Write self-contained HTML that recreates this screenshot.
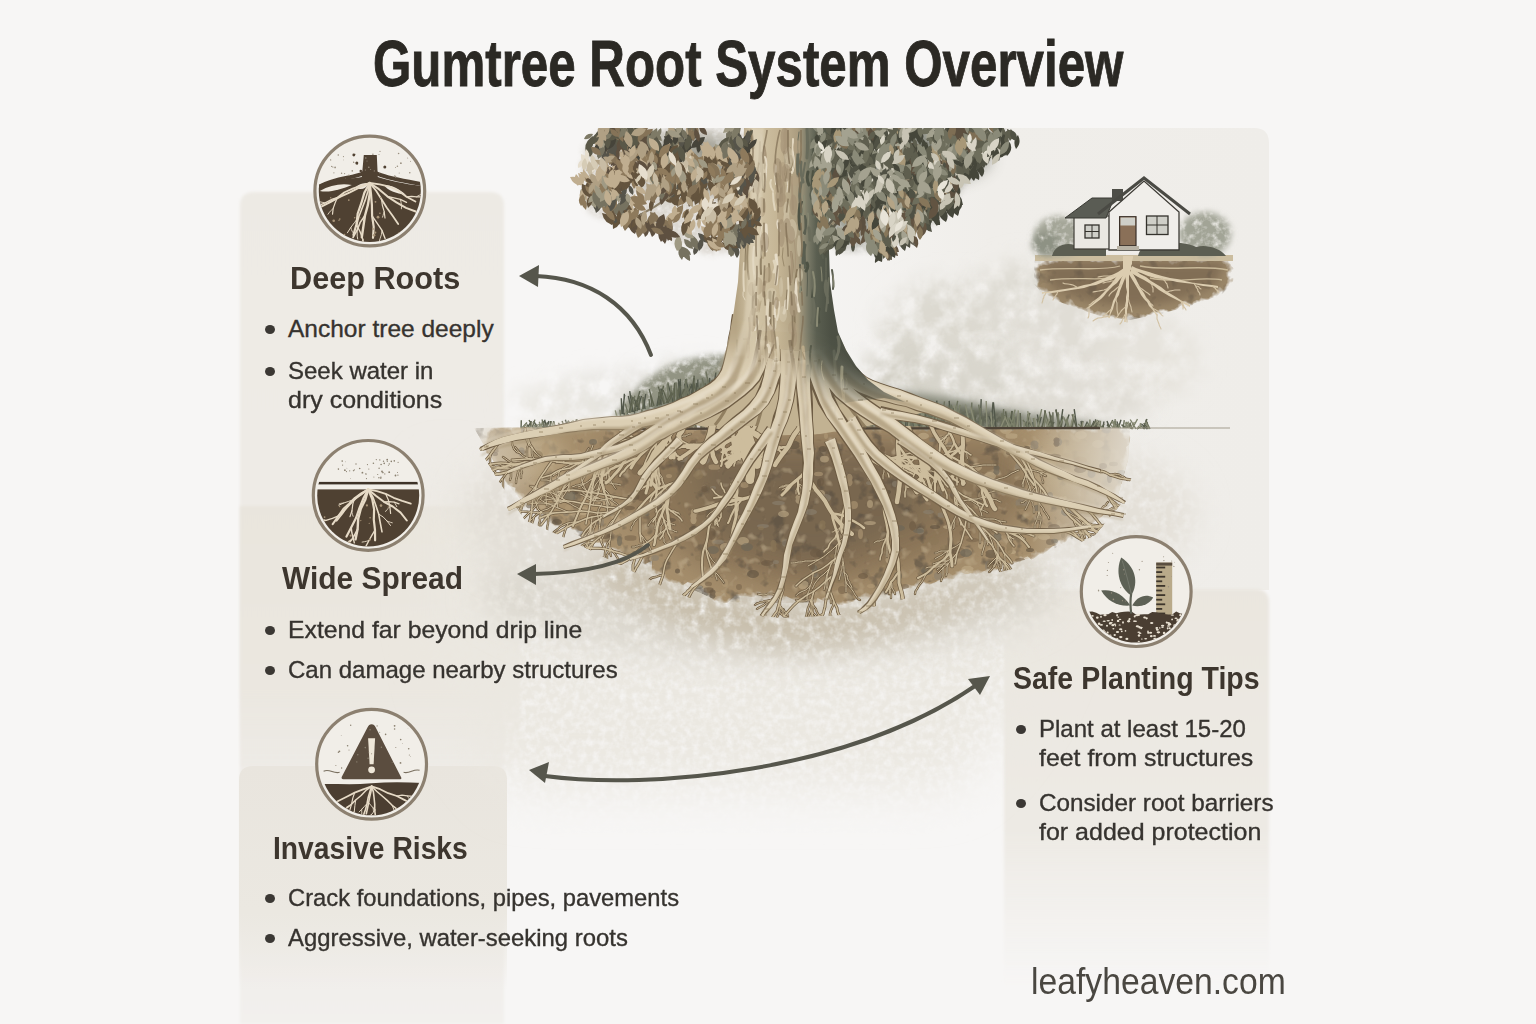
<!DOCTYPE html>
<html><head><meta charset="utf-8"><style>html,body{margin:0;padding:0;}
body{width:1536px;height:1024px;overflow:hidden;background:#f7f6f5;position:relative;font-family:"Liberation Sans",sans-serif;}
.abs{position:absolute;white-space:nowrap;}
.title{font-weight:bold;color:#2b2924;line-height:1;transform-origin:0 0;-webkit-text-stroke:0.9px #2b2924;}
.h{font-weight:bold;color:#3d362e;line-height:1;transform-origin:0 0;}
.b{color:#36332f;line-height:1;transform-origin:0 0;-webkit-text-stroke:0.35px #36332f;}
.dot{position:absolute;width:10px;height:9px;border-radius:50%;background:#3b3834;}
.panel{position:absolute;}</style></head>
<body>
<svg class="abs" style="left:0;top:0" width="1536" height="1024" viewBox="0 0 1536 1024">
<defs>
<filter id="pblur" x="-5%" y="-5%" width="110%" height="110%"><feGaussianBlur stdDeviation="1.5"/></filter>
<linearGradient id="colg" x1="0" y1="0" x2="0" y2="1">
<stop offset="0" stop-color="#edeae4"/><stop offset="0.85" stop-color="#efece8"/><stop offset="1" stop-color="#f2f0ed"/></linearGradient>
<linearGradient id="band2" x1="0" y1="0" x2="0" y2="1">
<stop offset="0" stop-color="#e9e5dd"/><stop offset="0.7" stop-color="#ebe7e0"/><stop offset="1" stop-color="#ebe7e0" stop-opacity="0.2"/></linearGradient>
<linearGradient id="band3" x1="0" y1="0" x2="0" y2="1">
<stop offset="0" stop-color="#e9e5de"/><stop offset="0.65" stop-color="#ebe8e1"/><stop offset="1" stop-color="#ebe8e1" stop-opacity="0"/></linearGradient>
<linearGradient id="rp" x1="0" y1="0" x2="0" y2="1">
<stop offset="0" stop-color="#eae6df"/><stop offset="0.6" stop-color="#edeae4"/><stop offset="1" stop-color="#efece8" stop-opacity="0"/></linearGradient>
</defs>
<path d="M240,206 Q240,192 254,192 L490,192 Q504,192 504,206 L504,1024 L240,1024 Z" fill="url(#colg)" filter="url(#pblur)"/>
<rect x="240" y="506" width="280" height="260" fill="url(#band2)" filter="url(#pblur)"/>
<path d="M239,780 Q239,766 253,766 L493,766 Q507,766 507,780 L507,990 L239,990 Z" fill="url(#band3)"/>
<linearGradient id="urp" x1="0" y1="0" x2="1" y2="0"><stop offset="0" stop-color="#f0eeea" stop-opacity="0"/><stop offset="0.45" stop-color="#f0eeea"/><stop offset="1" stop-color="#efede9"/></linearGradient>
<path d="M760,128 L1254,128 Q1269,128 1269,143 L1269,590 L760,590 Z" fill="url(#urp)"/>
<path d="M1004,603 Q1004,589 1018,589 L1255,589 Q1269,589 1269,603 L1269,990 L1004,990 Z" fill="url(#rp)" filter="url(#pblur)"/>
</svg>
<svg class="abs" style="left:0;top:0" width="1536" height="1024" viewBox="0 0 1536 1024"><defs>
<filter id="blur2" x="-20%" y="-20%" width="140%" height="140%"><feGaussianBlur stdDeviation="2"/></filter>
<filter id="blur3" x="-20%" y="-20%" width="140%" height="140%"><feGaussianBlur stdDeviation="3"/></filter>
<filter id="blur4" x="-20%" y="-20%" width="140%" height="140%"><feGaussianBlur stdDeviation="4"/></filter>
<filter id="blur8" x="-50%" y="-50%" width="200%" height="200%"><feGaussianBlur stdDeviation="8"/></filter>
<filter id="blur12" x="-50%" y="-50%" width="200%" height="200%"><feGaussianBlur stdDeviation="14"/></filter>
<filter id="mottle" x="-50%" y="-50%" width="200%" height="200%">
 <feGaussianBlur in="SourceGraphic" stdDeviation="12" result="b"/>
 <feTurbulence type="fractalNoise" baseFrequency="0.05" numOctaves="4" seed="5" result="n"/>
 <feColorMatrix in="n" type="matrix" values="0 0 0 0 0 0 0 0 0 0 0 0 0 0 0 0 0 0 -2.2 1.7" result="na"/>
 <feComposite in="b" in2="na" operator="in"/>
</filter>
<filter id="mottle2" x="-50%" y="-50%" width="200%" height="200%">
 <feGaussianBlur in="SourceGraphic" stdDeviation="16" result="b"/>
 <feTurbulence type="fractalNoise" baseFrequency="0.12" numOctaves="3" seed="9" result="n"/>
 <feColorMatrix in="n" type="matrix" values="0 0 0 0 0 0 0 0 0 0 0 0 0 0 0 0 0 0 -2.0 1.8" result="na"/>
 <feComposite in="b" in2="na" operator="in"/>
</filter>
<clipPath id="soilclip"><path d="M470,426 1140,426 1135,470 1120,505 1095,535 1040,562 960,582 900,600 840,615 780,618 720,610 670,590 620,565 570,540 525,520 498,480 480,450Z"/></clipPath>
<linearGradient id="tmg" gradientUnits="userSpaceOnUse" x1="0" y1="335" x2="0" y2="405"><stop offset="0" stop-color="#fff"/><stop offset="1" stop-color="#000"/></linearGradient>
<mask id="trunkmask" maskUnits="userSpaceOnUse" x="0" y="0" width="1536" height="1024"><path d="M600,0 L1000,0 L1000,400 L880,398 L850,390 L820,372 L795,360 L770,352 L740,350 L700,352 L600,352 Z" fill="#fff" filter="url(#blur12)"/></mask>
<filter id="soft1" x="-10%" y="-10%" width="120%" height="120%"><feGaussianBlur stdDeviation="1"/></filter>
<filter id="mottle3" x="-50%" y="-50%" width="200%" height="200%">
 <feGaussianBlur in="SourceGraphic" stdDeviation="3" result="b"/>
 <feTurbulence type="fractalNoise" baseFrequency="0.15" numOctaves="3" seed="2" result="n"/>
 <feColorMatrix in="n" type="matrix" values="0 0 0 0 0 0 0 0 0 0 0 0 0 0 0 0 0 0 -2.0 1.9" result="na"/>
 <feComposite in="b" in2="na" operator="in"/>
</filter>
<linearGradient id="trg" gradientUnits="userSpaceOnUse" x1="736" y1="0" x2="880" y2="0">
<stop offset="0" stop-color="#b4a383"/><stop offset="0.12" stop-color="#d2c5a8"/><stop offset="0.3" stop-color="#c4b494"/><stop offset="0.43" stop-color="#ab9d80"/>
<stop offset="0.5" stop-color="#7a7a68"/><stop offset="0.56" stop-color="#5a5e50"/><stop offset="0.66" stop-color="#4c5044"/><stop offset="1" stop-color="#4a4d42"/></linearGradient>
<filter id="ragged" x="-10%" y="-10%" width="120%" height="120%">
 <feGaussianBlur in="SourceAlpha" stdDeviation="9" result="b"/>
 <feTurbulence type="fractalNoise" baseFrequency="0.09" numOctaves="3" seed="4" result="t"/>
 <feColorMatrix in="t" type="matrix" values="0 0 0 0 0 0 0 0 0 0 0 0 0 0 0 0 0 0 1 0" result="ta"/>
 <feComposite in="b" in2="ta" operator="arithmetic" k1="0" k2="6" k3="3" k4="-4.5" result="m"/>
 <feComposite in="SourceGraphic" in2="m" operator="in"/>
</filter>
<filter id="mottle4" x="-20%" y="-20%" width="140%" height="140%">
 <feGaussianBlur in="SourceGraphic" stdDeviation="25" result="b"/>
 <feTurbulence type="fractalNoise" baseFrequency="0.15" numOctaves="3" seed="11" result="n"/>
 <feColorMatrix in="n" type="matrix" values="0 0 0 0 0 0 0 0 0 0 0 0 0 0 0 0 0 0 -1.6 1.6" result="na"/>
 <feComposite in="b" in2="na" operator="in"/>
</filter>
<filter id="patchy" x="0" y="0" width="100%" height="100%">
 <feTurbulence type="fractalNoise" baseFrequency="0.07" numOctaves="3" seed="21" result="t"/>
 <feColorMatrix in="t" type="matrix" values="0 0 0 0 0 0 0 0 0 0 0 0 0 0 0 0 0 0 5 -2.9" result="ta"/>
 <feComposite in="SourceGraphic" in2="ta" operator="in"/>
</filter>
<filter id="patchy2" x="0" y="0" width="100%" height="100%">
 <feTurbulence type="fractalNoise" baseFrequency="0.09" numOctaves="2" seed="33" result="t"/>
 <feColorMatrix in="t" type="matrix" values="0 0 0 0 0 0 0 0 0 0 0 0 0 0 0 0 0 0 5 -3.0" result="ta"/>
 <feComposite in="SourceGraphic" in2="ta" operator="in"/>
</filter>
<linearGradient id="sfadeR" x1="0" y1="0" x2="1" y2="0"><stop offset="0" stop-color="#ece9e2" stop-opacity="0"/><stop offset="1" stop-color="#ece9e2" stop-opacity="0.85"/></linearGradient>
<linearGradient id="sfadeL" x1="0" y1="0" x2="1" y2="0"><stop offset="0" stop-color="#e8e4dc" stop-opacity="0.6"/><stop offset="1" stop-color="#e8e4dc" stop-opacity="0"/></linearGradient>
<clipPath id="topcut"><rect x="0" y="128" width="1536" height="900"/></clipPath>
</defs>
<path d="M440,470 C470,480 520,520 600,560 C700,600 850,610 1000,570 L1060,600 C1040,680 1000,760 940,790 L520,790 C480,760 450,700 440,640 Z" fill="#ebe8e1" filter="url(#mottle4)"/>
<ellipse cx="770" cy="590" rx="290" ry="70" fill="#dcd8cf" filter="url(#mottle2)"/>
<path d="M540,520 C620,560 700,600 800,612 C900,610 980,580 1060,550 C1000,600 900,640 800,645 C700,640 600,600 540,520Z" fill="#c2b7a2" filter="url(#mottle2)"/>
<ellipse cx="545" cy="515" rx="80" ry="60" fill="#e2ded6" filter="url(#mottle2)"/>
<ellipse cx="1110" cy="515" rx="85" ry="60" fill="#e4e0d8" filter="url(#mottle2)"/>
<ellipse cx="950" cy="335" rx="70" ry="55" fill="#dcd9d0" filter="url(#mottle)"/>
<ellipse cx="1030" cy="300" rx="55" ry="40" fill="#dedbd3" filter="url(#mottle)"/>
<ellipse cx="1090" cy="330" rx="70" ry="50" fill="#e0ddd5" filter="url(#mottle)"/>
<ellipse cx="1150" cy="360" rx="50" ry="40" fill="#e6e3dc" filter="url(#mottle)"/>
<ellipse cx="910" cy="385" rx="55" ry="35" fill="#d3d0c6" filter="url(#mottle)"/>
<ellipse cx="990" cy="390" rx="80" ry="32" fill="#d8d5cc" filter="url(#mottle)"/>
<ellipse cx="1080" cy="400" rx="70" ry="26" fill="#dfdcd4" filter="url(#mottle)"/>
<ellipse cx="690" cy="395" rx="55" ry="32" fill="#dddbd3" filter="url(#mottle)"/>
<ellipse cx="620" cy="400" rx="65" ry="26" fill="#e3e1db" filter="url(#mottle)"/>
<ellipse cx="560" cy="405" rx="50" ry="20" fill="#e9e7e1" filter="url(#mottle)"/>
<path d="M610,425 C625,395 650,372 680,362 C700,356 720,354 736,356 L730,400 L640,428 Z" fill="#8a8c7a" filter="url(#mottle3)" opacity="0.9"/>
<path d="M640,420 C655,400 680,385 705,378 L728,380 L720,410 Z" fill="#6a6e5e" filter="url(#blur3)" opacity="0.7"/>
<path d="M860,392 C900,388 960,398 1010,410 C1050,416 1090,422 1120,428 L860,430 Z" fill="#6e7262" filter="url(#blur4)" opacity="0.75"/>
<path d="M870,410 C920,402 980,408 1020,416 L1020,430 L870,430 Z" fill="#585c4c" filter="url(#mottle3)" opacity="0.8"/>
<path d="M657,406q0.9,-5.1 1.8,-10.1M645,409q-0.5,-4.6 -1.0,-9.2M630,412q2.0,-7.0 3.9,-13.9M729,388q0.5,-8.4 1.0,-16.8M686,398q2.9,-6.8 5.7,-13.6M634,412q1.9,-6.2 3.8,-12.3M632,412q-1.9,-8.0 -3.7,-16.0M683,399q-2.6,-4.4 -5.3,-8.9M687,398q-1.2,-7.2 -2.4,-14.3M661,405q-0.0,-8.3 -0.1,-16.6M730,387q-1.9,-5.1 -3.9,-10.1M696,396q2.0,-4.1 4.0,-8.2M639,410q-2.7,-6.4 -5.4,-12.8M623,414q0.7,-10.1 1.4,-20.2M659,405q2.0,-5.9 3.9,-11.7M680,400q-0.9,-10.4 -1.7,-20.7M681,400q-1.0,-9.5 -2.0,-18.9M691,397q1.5,-9.5 3.1,-19.0M713,392q1.4,-9.7 2.9,-19.5M643,409q1.4,-7.4 2.8,-14.9M730,388q-1.7,-6.6 -3.4,-13.1M673,402q-2.5,-9.2 -5.0,-18.4M696,396q0.3,-6.5 0.6,-12.9M622,414q1.4,-9.6 2.7,-19.2M681,400q-0.4,-10.5 -0.8,-21.1M637,411q2.2,-7.6 4.5,-15.1M690,398q-2.1,-9.4 -4.2,-18.9M698,395q-0.1,-7.7 -0.2,-15.4M722,390q-1.9,-4.4 -3.7,-8.8M709,393q0.4,-7.6 0.7,-15.1M636,411q-0.3,-4.9 -0.7,-9.7M694,397q-1.5,-6.6 -3.0,-13.1M722,390q1.0,-5.1 2.0,-10.3M622,414q-0.4,-7.9 -0.7,-15.8M664,404q-1.2,-7.6 -2.5,-15.2M633,412q-1.6,-10.4 -3.3,-20.9M788,429q2.6,-3.0 5.3,-6.1M1025,429q2.1,-3.1 4.3,-6.3M783,429q0.7,-9.4 1.5,-18.7M690,429q3.0,-8.5 5.9,-17.1M1143,429q2.0,-4.9 4.0,-9.9M548,429q-1.4,-1.9 -2.8,-3.9M696,429q-1.5,-7.4 -3.0,-14.8M1093,429q0.4,-4.1 0.8,-8.1M574,429q0.8,-1.4 1.6,-2.8M757,429q-2.7,-5.9 -5.4,-11.8M915,429q-0.1,-11.4 -0.1,-22.8M568,429q-1.3,-4.7 -2.6,-9.3M764,429q2.6,-9.4 5.2,-18.7M604,429q0.1,-4.3 0.1,-8.7M1049,429q2.6,-3.4 5.1,-6.8M996,429q-1.3,-13.4 -2.6,-26.7M1095,429q0.3,-4.8 0.6,-9.6M671,429q0.4,-4.4 0.8,-8.9M853,429q2.1,-8.4 4.2,-16.9M792,429q1.9,-4.8 3.8,-9.7M1059,429q-1.5,-9.8 -3.0,-19.6M661,429q2.8,-3.6 5.7,-7.3M940,429q-1.6,-14.2 -3.3,-28.3M803,429q-1.1,-7.8 -2.2,-15.7M799,429q-2.5,-3.3 -5.1,-6.6M546,429q-2.6,-1.4 -5.2,-2.8M749,429q2.7,-5.0 5.4,-10.0M707,429q0.6,-7.9 1.1,-15.8M1033,429q-0.0,-3.5 -0.0,-7.0M994,429q-2.6,-6.5 -5.2,-13.1M1077,429q-1.4,-9.9 -2.8,-19.8M991,429q1.0,-13.3 2.0,-26.6M803,429q1.7,-4.4 3.3,-8.9M544,429q2.5,-4.0 5.0,-8.0M926,429q-0.6,-8.1 -1.1,-16.3M794,429q-2.3,-3.7 -4.6,-7.3M718,429q0.8,-7.1 1.6,-14.1M546,429q1.5,-3.4 3.1,-6.7M578,429q0.1,-2.9 0.1,-5.8M1084,429q1.7,-3.7 3.4,-7.4M1060,429q1.4,-10.0 2.8,-19.9M1084,429q1.7,-1.9 3.4,-3.8M870,429q2.3,-10.3 4.6,-20.6M908,429q0.1,-8.6 0.2,-17.2M603,429q0.9,-2.1 1.8,-4.2M1110,429q-1.5,-4.0 -3.0,-8.0M571,429q-1.9,-3.7 -3.9,-7.4M816,429q1.2,-8.8 2.4,-17.6M1094,429q-2.8,-1.8 -5.7,-3.6M912,429q2.9,-5.6 5.7,-11.1M539,429q0.9,-1.8 1.7,-3.5M587,429q-2.3,-2.0 -4.7,-4.0M1118,429q1.5,-4.7 3.0,-9.3M1040,429q-1.3,-7.2 -2.6,-14.5M847,429q-0.2,-3.2 -0.4,-6.5M859,429q2.2,-4.1 4.3,-8.2M647,429q2.9,-8.2 5.7,-16.4M1111,429q-2.0,-2.1 -4.0,-4.2M829,429q0.4,-9.9 0.7,-19.9M1082,429q-0.5,-4.0 -0.9,-8.1M534,429q1.4,-2.2 2.9,-4.4M1144,429q0.1,-1.9 0.2,-3.9M616,429q-0.7,-2.4 -1.4,-4.8M854,429q0.5,-5.1 1.0,-10.2M626,429q0.7,-9.2 1.3,-18.4M668,429q-0.0,-3.5 -0.1,-7.1M834,429q2.2,-6.5 4.4,-13.1M600,429q-2.5,-4.9 -4.9,-9.8M1038,429q1.6,-6.1 3.2,-12.1M613,429q1.1,-3.8 2.3,-7.6M584,429q-2.8,-1.9 -5.6,-3.9M882,429q-0.3,-14.1 -0.6,-28.2M654,429q-2.9,-3.6 -5.8,-7.3M526,429q2.9,-3.8 5.8,-7.5M810,429q-1.5,-9.5 -3.0,-19.0M689,429q2.5,-3.7 5.0,-7.4M951,429q-0.9,-14.0 -1.8,-28.1M810,429q1.8,-3.2 3.7,-6.3M675,429q-0.0,-9.4 -0.1,-18.8M896,429q0.1,-7.6 0.2,-15.3M1147,429q-2.8,-2.7 -5.7,-5.3M871,429q-0.3,-13.5 -0.5,-27.1M1064,429q2.5,-7.3 5.1,-14.6M1113,429q0.3,-1.5 0.6,-2.9M946,429q0.5,-7.1 1.1,-14.2M1023,429q2.0,-3.7 4.0,-7.4M556,429q-1.2,-4.0 -2.5,-7.9M968,429q-2.5,-6.0 -5.0,-11.9M543,429q0.4,-3.9 0.9,-7.8M744,429q2.8,-9.5 5.6,-19.0M1011,429q0.5,-9.0 0.9,-18.0M843,429q0.2,-6.5 0.4,-13.0M585,429q1.9,-2.2 3.8,-4.4M670,429q-0.9,-5.8 -1.8,-11.7M889,429q-2.3,-12.3 -4.7,-24.6M896,429q-2.8,-10.5 -5.6,-21.1M564,429q0.0,-2.9 0.1,-5.7M919,429q2.3,-12.9 4.6,-25.7M649,429q2.5,-5.7 4.9,-11.4M1117,429q0.2,-3.8 0.3,-7.6M900,429q3.0,-7.7 5.9,-15.4M1148,429q-0.5,-3.4 -1.1,-6.8M612,429q0.1,-3.2 0.1,-6.4M906,429q-2.6,-12.8 -5.3,-25.6M743,429q-1.4,-3.8 -2.8,-7.5M538,429q-2.1,-3.9 -4.3,-7.9M677,429q-0.9,-8.9 -1.8,-17.7M791,429q-2.1,-8.2 -4.1,-16.4M1103,429q0.5,-3.8 0.9,-7.5M590,429q0.9,-4.1 1.9,-8.2M890,429q0.8,-6.5 1.6,-12.9M547,429q-1.2,-4.6 -2.4,-9.2M640,429q-3.0,-6.6 -5.9,-13.1M931,429q1.5,-4.6 3.0,-9.3M980,429q0.6,-15.0 1.2,-29.9M634,429q0.3,-9.2 0.6,-18.3M1093,429q2.1,-3.4 4.2,-6.8M1130,429q-0.1,-2.0 -0.3,-3.9M810,429q-2.2,-3.4 -4.4,-6.8M626,429q-1.0,-8.1 -1.9,-16.2M797,429q-0.1,-8.4 -0.1,-16.9M827,429q-2.8,-6.1 -5.6,-12.3M768,429q0.7,-9.0 1.3,-18.1" stroke="#52574a" stroke-width="1.4" fill="none"/>
<path d="M714,391q0.5,-4.7 1.0,-9.3M684,399q-0.5,-4.9 -1.0,-9.9M700,395q0.4,-5.7 0.9,-11.4M677,401q-0.3,-6.4 -0.6,-12.8M637,411q-2.8,-7.4 -5.5,-14.8M628,413q-1.4,-4.7 -2.8,-9.3M696,396q1.2,-4.4 2.4,-8.8M686,398q-0.3,-8.8 -0.7,-17.5M683,399q1.9,-10.2 3.8,-20.4M690,397q-2.2,-6.2 -4.5,-12.5M723,389q2.2,-9.5 4.5,-18.9M665,404q-2.4,-6.8 -4.8,-13.6M685,399q2.7,-7.8 5.4,-15.5M675,401q-2.1,-6.2 -4.3,-12.4M637,411q-2.8,-7.8 -5.7,-15.6M711,392q-1.8,-7.3 -3.7,-14.6M674,401q-0.1,-6.4 -0.2,-12.7M717,391q0.9,-7.4 1.8,-14.7M630,413q2.5,-8.6 4.9,-17.2M706,393q-1.9,-7.3 -3.9,-14.7M678,401q-1.0,-9.3 -2.1,-18.7M723,389q1.9,-8.6 3.8,-17.3M668,403q0.0,-10.4 0.0,-20.8M671,402q0.0,-8.3 0.1,-16.6M710,392q-2.1,-10.3 -4.1,-20.6M690,429q-0.5,-3.5 -0.9,-6.9M685,429q2.6,-3.9 5.2,-7.7M942,429q-1.5,-6.9 -3.1,-13.8M1002,429q-0.0,-7.9 -0.1,-15.8M878,429q-2.6,-3.9 -5.3,-7.8M1003,429q0.3,-9.9 0.6,-19.9M568,429q3.0,-3.1 5.9,-6.3M886,429q0.1,-5.3 0.3,-10.7M719,429q-3.0,-8.8 -6.0,-17.6M1132,429q-1.1,-2.9 -2.2,-5.8M600,429q-0.9,-3.0 -1.9,-6.0M1091,429q-1.7,-3.1 -3.4,-6.2M674,429q0.3,-3.8 0.7,-7.6M667,429q0.9,-9.4 1.7,-18.8M521,429q3.0,-3.3 6.0,-6.5M665,429q1.6,-4.2 3.1,-8.3M931,429q-0.2,-9.7 -0.4,-19.3M939,429q-0.8,-8.0 -1.5,-16.0M682,429q2.4,-8.1 4.8,-16.2M685,429q-1.1,-7.9 -2.2,-15.7M903,429q-1.1,-7.4 -2.2,-14.9M1011,429q-1.3,-4.7 -2.6,-9.4M1050,429q-2.8,-9.4 -5.5,-18.7M544,429q-2.7,-2.5 -5.5,-5.1M958,429q-1.3,-8.4 -2.6,-16.7M783,429q1.5,-2.9 2.9,-5.8M781,429q1.6,-2.6 3.2,-5.3M546,429q-2.1,-4.8 -4.1,-9.5M714,429q-0.7,-4.4 -1.3,-8.7M772,429q-0.8,-3.0 -1.7,-6.0M546,429q2.5,-1.7 5.1,-3.5M952,429q-1.7,-11.9 -3.3,-23.7M774,429q-1.3,-7.3 -2.7,-14.5M679,429q2.1,-6.5 4.3,-13.0M687,429q0.5,-9.9 0.9,-19.9M988,429q1.9,-4.3 3.8,-8.6M715,429q2.2,-9.7 4.4,-19.5M982,429q-1.7,-12.2 -3.3,-24.3M804,429q-2.1,-3.0 -4.3,-6.0M1032,429q-1.1,-3.8 -2.3,-7.6M685,429q-2.3,-7.3 -4.5,-14.7M952,429q2.8,-14.1 5.7,-28.1M795,429q0.4,-7.9 0.8,-15.9M604,429q0.9,-4.2 1.8,-8.4M721,429q-2.9,-5.7 -5.7,-11.4M1106,429q1.6,-1.4 3.1,-2.9M1005,429q-0.1,-7.0 -0.3,-14.0M1067,429q0.3,-5.9 0.6,-11.8M617,429q-1.5,-1.8 -3.0,-3.7M972,429q0.8,-9.5 1.7,-19.0M979,429q0.8,-10.7 1.7,-21.3M948,429q1.8,-9.2 3.7,-18.3M790,429q1.0,-7.3 1.9,-14.6M941,429q1.7,-13.8 3.5,-27.6M1150,429q-1.9,-3.8 -3.8,-7.6M921,429q0.7,-4.1 1.3,-8.1M541,429q0.8,-3.9 1.5,-7.9M869,429q-1.3,-14.0 -2.6,-28.0M786,429q2.0,-6.7 3.9,-13.3M744,429q-1.0,-6.2 -2.0,-12.4M1019,429q-1.1,-5.0 -2.2,-10.0M1016,429q-1.5,-6.7 -2.9,-13.4M657,429q-0.2,-3.4 -0.3,-6.8M1123,429q0.7,-4.4 1.3,-8.8M1115,429q0.4,-4.2 0.8,-8.4M1029,429q-3.0,-4.6 -6.0,-9.2M641,429q1.2,-3.9 2.4,-7.7M754,429q-2.5,-6.0 -5.0,-12.0M826,429q-1.4,-6.8 -2.9,-13.5M1145,429q-2.8,-2.1 -5.5,-4.2M817,429q-0.7,-5.3 -1.3,-10.6M1051,429q-0.3,-7.2 -0.6,-14.4M723,429q-2.3,-4.3 -4.6,-8.5M869,429q2.2,-5.4 4.4,-10.8M747,429q-0.5,-2.8 -1.1,-5.6M777,429q-2.7,-7.9 -5.3,-15.8M1069,429q-1.9,-4.5 -3.8,-9.0M596,429q1.9,-3.9 3.8,-7.9M532,429q1.4,-4.7 2.9,-9.4M1009,429q-1.6,-5.0 -3.1,-10.1M971,429q0.4,-13.2 0.8,-26.5M1082,429q-0.1,-2.4 -0.3,-4.8M761,429q-2.9,-6.9 -5.9,-13.8M622,429q-1.1,-9.6 -2.1,-19.3M830,429q2.9,-4.6 5.9,-9.3M794,429q-1.6,-5.3 -3.2,-10.7M724,429q2.0,-8.8 4.1,-17.7M536,429q2.4,-2.2 4.8,-4.4M797,429q3.0,-7.2 6.0,-14.4M956,429q-2.4,-12.1 -4.9,-24.3M631,429q-1.2,-7.4 -2.5,-14.8M746,429q2.8,-3.9 5.7,-7.8M814,429q-0.4,-5.1 -0.8,-10.2M1110,429q-0.8,-1.9 -1.6,-3.8M1049,429q1.3,-6.8 2.6,-13.6M949,429q-1.1,-4.2 -2.2,-8.3M577,429q-0.5,-4.8 -0.9,-9.6M548,429q1.8,-3.9 3.7,-7.8M863,429q-2.6,-6.6 -5.3,-13.1M962,429q-2.3,-8.8 -4.6,-17.6M926,429q2.6,-10.8 5.2,-21.6M726,429q2.0,-3.9 3.9,-7.8M665,429q2.5,-3.5 5.0,-7.0M1059,429q-0.4,-8.4 -0.9,-16.8M565,429q1.3,-1.5 2.5,-2.9M911,429q-2.6,-12.9 -5.3,-25.8M904,429q0.4,-7.1 0.9,-14.2M823,429q-1.2,-7.4 -2.4,-14.7M911,429q0.4,-13.6 0.8,-27.1M591,429q1.1,-4.7 2.1,-9.4M1024,429q0.3,-3.9 0.7,-7.8M1072,429q1.1,-6.5 2.3,-13.1M891,429q-2.0,-4.2 -4.0,-8.5" stroke="#6e725e" stroke-width="1.4" fill="none"/>
<path d="M677,401q1.7,-7.7 3.3,-15.4M733,387q-0.5,-4.8 -1.0,-9.7M629,413q1.7,-7.9 3.5,-15.8M659,405q-0.0,-6.5 -0.0,-12.9M664,404q-2.9,-8.7 -5.7,-17.4M708,393q-1.5,-4.9 -3.0,-9.8M725,389q-2.0,-7.5 -4.0,-15.0M652,407q-0.8,-6.9 -1.7,-13.8M650,407q-0.5,-4.0 -1.0,-8.1M729,388q1.4,-8.6 2.9,-17.2M666,403q2.9,-5.3 5.8,-10.7M693,397q0.6,-10.7 1.2,-21.4M634,411q3.0,-9.9 5.9,-19.9M679,400q2.7,-5.4 5.4,-10.9M654,406q-2.5,-8.5 -4.9,-17.0M730,388q2.6,-7.1 5.2,-14.3M658,405q2.8,-9.6 5.7,-19.2M640,410q-2.1,-4.9 -4.2,-9.8M713,392q2.0,-5.0 3.9,-10.0M715,391q-1.5,-5.5 -3.0,-11.0M668,403q2.5,-4.9 4.9,-9.8M674,401q0.3,-9.1 0.7,-18.2M643,409q0.0,-5.9 0.1,-11.9M678,400q0.1,-5.7 0.3,-11.5M726,388q-1.8,-10.2 -3.6,-20.5M697,396q-1.7,-7.0 -3.4,-14.0M731,387q2.7,-5.5 5.4,-11.1M639,410q0.1,-7.0 0.2,-14.0M668,403q-2.4,-6.5 -4.9,-13.0M573,429q2.4,-2.3 4.9,-4.5M961,429q-2.7,-4.8 -5.3,-9.5M852,429q-2.3,-4.3 -4.7,-8.6M855,429q-0.3,-4.0 -0.7,-8.1M530,429q0.3,-4.0 0.6,-8.0M714,429q-1.6,-4.1 -3.2,-8.2M565,429q-1.5,-4.0 -2.9,-8.1M724,429q2.3,-2.8 4.6,-5.5M546,429q-1.2,-1.3 -2.3,-2.7M573,429q2.1,-4.8 4.2,-9.7M915,429q1.9,-12.0 3.7,-24.0M1041,429q2.4,-6.9 4.7,-13.8M679,429q-1.4,-3.1 -2.8,-6.1M909,429q-2.5,-11.0 -5.1,-22.0M1046,429q2.6,-4.6 5.2,-9.3M551,429q-0.3,-4.0 -0.6,-8.0M1148,429q-2.2,-2.9 -4.3,-5.9M574,429q-3.0,-4.2 -6.0,-8.3M1077,429q-2.5,-7.4 -5.0,-14.7M562,429q-1.8,-3.1 -3.6,-6.2M589,429q0.7,-3.6 1.3,-7.2M1148,429q-1.0,-4.7 -2.0,-9.5M741,429q-2.3,-9.7 -4.5,-19.3M1026,429q1.9,-8.0 3.9,-16.1M629,429q-0.2,-3.5 -0.5,-7.0M755,429q-1.8,-8.0 -3.6,-16.1M639,429q-1.5,-3.0 -3.0,-6.0M1144,429q-0.2,-1.6 -0.3,-3.3M642,429q0.1,-3.1 0.2,-6.1M587,429q0.7,-3.5 1.4,-7.0M776,429q-0.2,-9.1 -0.5,-18.2M628,429q-2.0,-5.1 -4.1,-10.2M1103,429q-0.1,-1.7 -0.1,-3.3M1090,429q1.9,-3.6 3.9,-7.2M1053,429q-1.9,-8.7 -3.8,-17.4M598,429q1.3,-2.2 2.7,-4.4M642,429q-0.0,-9.9 -0.1,-19.7M839,429q-2.8,-4.9 -5.6,-9.8M604,429q2.0,-2.6 3.9,-5.2M605,429q-1.5,-4.8 -3.1,-9.5M548,429q-0.6,-3.2 -1.1,-6.5M867,429q-2.1,-14.3 -4.3,-28.7M530,429q-1.6,-2.2 -3.2,-4.5M739,429q1.2,-3.2 2.3,-6.4M684,429q-1.3,-9.6 -2.6,-19.2M836,429q2.3,-5.3 4.6,-10.7M927,429q-1.0,-7.7 -2.1,-15.3M666,429q0.9,-5.0 1.7,-10.0M900,429q-1.6,-7.7 -3.2,-15.3M683,429q3.0,-9.7 5.9,-19.3M1126,429q-0.7,-1.6 -1.4,-3.3M1021,429q-0.4,-8.0 -0.8,-16.0M673,429q1.3,-5.5 2.6,-11.0M1061,429q1.0,-6.4 1.9,-12.8M1092,429q-1.5,-1.6 -3.0,-3.3M739,429q-0.3,-8.9 -0.5,-17.7M849,429q2.7,-5.6 5.4,-11.2M654,429q1.7,-3.5 3.3,-6.9M816,429q-1.6,-6.7 -3.3,-13.4M815,429q0.3,-4.7 0.6,-9.4M1011,429q1.7,-6.0 3.4,-12.0M1042,429q1.7,-9.3 3.4,-18.6M825,429q1.2,-9.3 2.4,-18.6M1029,429q-0.1,-3.2 -0.2,-6.4M551,429q-3.0,-2.4 -5.9,-4.8M654,429q-0.3,-7.5 -0.5,-15.0M1096,429q-0.8,-3.7 -1.6,-7.4M948,429q3.0,-10.4 5.9,-20.9M973,429q1.4,-6.5 2.8,-13.0M1101,429q1.5,-2.6 3.0,-5.2M570,429q1.4,-2.4 2.8,-4.8M752,429q-0.4,-6.8 -0.7,-13.6M611,429q-0.8,-4.2 -1.6,-8.5M729,429q2.9,-7.0 5.7,-14.1M899,429q-0.4,-7.2 -0.9,-14.4M757,429q0.6,-7.6 1.2,-15.3M860,429q-0.7,-9.2 -1.4,-18.4M715,429q-0.6,-2.9 -1.3,-5.9M722,429q-1.8,-6.3 -3.6,-12.6M884,429q1.7,-7.8 3.4,-15.6M1127,429q-2.8,-2.2 -5.5,-4.4M768,429q-2.0,-5.9 -4.1,-11.7M555,429q1.5,-1.8 3.1,-3.6M823,429q-1.6,-3.8 -3.1,-7.5M1096,429q-0.2,-4.6 -0.4,-9.2M1108,429q2.3,-4.5 4.7,-9.0M589,429q-0.1,-3.0 -0.2,-5.9M1137,429q2.4,-1.5 4.7,-2.9M873,429q-2.3,-13.1 -4.6,-26.3M1132,429q-1.4,-2.9 -2.9,-5.7M1103,429q-1.3,-1.6 -2.5,-3.2M521,429q0.2,-4.4 0.3,-8.7M880,429q-1.9,-5.3 -3.8,-10.6M1080,429q1.6,-4.0 3.1,-8.0M650,429q1.2,-7.1 2.5,-14.2M577,429q1.6,-2.8 3.2,-5.6M673,429q0.7,-3.2 1.4,-6.3M776,429q0.6,-3.5 1.1,-7.1M613,429q1.5,-3.4 3.0,-6.8M938,429q-2.3,-3.9 -4.7,-7.8M583,429q-2.9,-1.7 -5.8,-3.4M1119,429q-1.2,-2.3 -2.3,-4.7M1088,429q0.5,-1.6 1.1,-3.1M701,429q1.2,-5.9 2.3,-11.8M662,429q1.4,-9.7 2.9,-19.4M783,429q-2.2,-7.5 -4.3,-15.0M689,429q0.8,-7.2 1.6,-14.5M760,429q0.2,-4.8 0.4,-9.5M918,429q1.9,-9.6 3.8,-19.3M951,429q-2.1,-10.3 -4.3,-20.5M1061,429q-2.6,-9.6 -5.2,-19.2M534,429q-2.5,-4.5 -5.0,-9.0M1040,429q-1.5,-5.1 -3.1,-10.3M938,429q-2.1,-7.6 -4.1,-15.2M578,429q2.0,-2.3 4.0,-4.5M870,429q1.8,-9.0 3.5,-18.0M838,429q-0.3,-4.2 -0.6,-8.4M766,429q-1.9,-3.1 -3.9,-6.3M1096,429q1.6,-4.3 3.1,-8.5M562,429q-1.6,-2.4 -3.3,-4.8M1008,429q2.2,-9.1 4.3,-18.2M634,429q2.5,-3.4 5.0,-6.7M969,429q-2.8,-4.2 -5.5,-8.4M1071,429q1.2,-6.9 2.4,-13.8M1053,429q-0.1,-8.3 -0.1,-16.7M630,429q1.7,-3.7 3.4,-7.5M739,429q0.8,-3.2 1.6,-6.4M606,429q1.0,-3.9 2.0,-7.8M965,429q1.1,-3.8 2.3,-7.6M1110,429q-1.2,-2.6 -2.4,-5.1M865,429q-2.0,-12.3 -4.0,-24.6M897,429q1.6,-8.9 3.2,-17.9M592,429q-0.8,-2.3 -1.7,-4.7M1008,429q-1.2,-8.8 -2.4,-17.6M1126,429q2.4,-3.2 4.7,-6.4M576,429q-0.4,-1.4 -0.7,-2.8M560,429q2.7,-1.3 5.5,-2.6M854,429q2.1,-7.3 4.2,-14.5M671,429q-1.4,-5.8 -2.9,-11.6M659,429q0.9,-8.8 1.8,-17.6M584,429q-0.6,-4.4 -1.3,-8.7M606,429q-2.7,-4.2 -5.3,-8.3M550,429q1.2,-1.4 2.4,-2.8M1118,429q-0.9,-1.3 -1.9,-2.6M747,429q-1.1,-6.5 -2.3,-12.9" stroke="#5e624f" stroke-width="1.4" fill="none"/>
<path d="M776,429q0.1,-6.5 0.2,-13.0M844,429q-0.3,-4.3 -0.6,-8.7M1044,429q0.8,-7.8 1.6,-15.6M745,429q-0.7,-2.5 -1.4,-5.0M934,429q2.3,-11.8 4.5,-23.6M578,429q1.5,-3.2 2.9,-6.4M665,429q-0.2,-7.4 -0.5,-14.7M1133,429q-1.7,-1.6 -3.4,-3.2M703,429q-0.2,-6.4 -0.4,-12.7M1136,429q-2.9,-4.8 -5.8,-9.5M963,429q2.4,-6.4 4.8,-12.7M768,429q2.7,-3.7 5.4,-7.4M775,429q-0.5,-8.0 -1.0,-15.9M1088,429q-0.8,-2.3 -1.5,-4.7M766,429q-2.5,-9.0 -5.1,-18.0M1015,429q-2.8,-5.7 -5.7,-11.4M681,429q0.9,-8.0 1.8,-16.1M933,429q0.3,-7.1 0.7,-14.3M652,429q1.5,-4.5 3.0,-9.1M691,429q-0.6,-4.4 -1.2,-8.7M600,429q1.6,-2.8 3.2,-5.7M1113,429q0.9,-4.0 1.8,-7.9M1126,429q0.2,-3.6 0.3,-7.2M1124,429q2.3,-3.7 4.6,-7.3M852,429q-2.8,-6.6 -5.6,-13.2M964,429q-2.9,-7.2 -5.7,-14.4M958,429q-0.8,-11.8 -1.7,-23.7M609,429q-2.6,-1.4 -5.3,-2.9M759,429q-1.1,-8.3 -2.3,-16.5M1099,429q-0.8,-2.0 -1.6,-3.9M539,429q1.9,-2.8 3.7,-5.6M535,429q-0.1,-2.1 -0.3,-4.3M1121,429q-1.5,-2.7 -3.0,-5.4M1014,429q0.1,-7.0 0.1,-13.9M823,429q-2.0,-6.6 -4.1,-13.2M651,429q2.9,-5.7 5.9,-11.3M840,429q1.9,-4.2 3.7,-8.5M617,429q0.9,-3.3 1.8,-6.5M602,429q-2.1,-1.4 -4.3,-2.9M710,429q-2.7,-8.8 -5.5,-17.6M941,429q-0.7,-7.4 -1.3,-14.8M867,429q-1.2,-10.8 -2.3,-21.6M1011,429q-1.9,-5.9 -3.8,-11.9M1004,429q2.1,-2.9 4.3,-5.7M847,429q0.9,-7.3 1.8,-14.6M914,429q1.3,-14.9 2.7,-29.9M971,429q2.1,-3.8 4.1,-7.6M968,429q0.3,-6.7 0.6,-13.5M1115,429q-1.0,-4.0 -2.1,-8.1M1082,429q2.2,-1.5 4.4,-3.0M910,429q-0.5,-4.1 -1.0,-8.2M916,429q-0.6,-7.8 -1.2,-15.5M589,429q-1.3,-4.7 -2.6,-9.3M812,429q2.1,-2.6 4.3,-5.2M957,429q0.8,-9.4 1.6,-18.8M1057,429q0.8,-7.6 1.7,-15.2M792,429q1.2,-4.4 2.4,-8.9M1084,429q-2.9,-2.5 -5.9,-5.0M693,429q-2.9,-5.5 -5.8,-11.0M1132,429q2.8,-5.0 5.5,-10.0M742,429q1.9,-7.3 3.8,-14.6M688,429q-1.5,-5.3 -3.0,-10.6M746,429q-1.1,-7.4 -2.2,-14.8M584,429q-1.6,-1.8 -3.2,-3.6M644,429q0.2,-7.7 0.4,-15.4M943,429q-2.3,-5.1 -4.6,-10.1M621,429q1.2,-4.9 2.4,-9.8M939,429q-0.8,-13.2 -1.5,-26.4M1070,429q-1.8,-5.1 -3.6,-10.2M849,429q1.6,-8.7 3.3,-17.4M820,429q-2.4,-5.6 -4.8,-11.2M980,429q0.8,-4.7 1.5,-9.4M917,429q-0.7,-8.5 -1.4,-16.9M1103,429q-2.9,-3.4 -5.9,-6.9M1047,429q1.7,-2.9 3.4,-5.7M1010,429q2.6,-9.7 5.1,-19.4M610,429q-2.7,-2.1 -5.3,-4.2M1049,429q-2.0,-5.0 -4.0,-10.0M799,429q0.1,-6.3 0.1,-12.6M731,429q2.2,-8.8 4.4,-17.6M704,429q1.4,-3.3 2.8,-6.6M972,429q-2.3,-4.3 -4.5,-8.5M1117,429q0.8,-1.3 1.6,-2.6M612,429q-0.9,-3.8 -1.8,-7.6M662,429q-0.6,-5.7 -1.2,-11.3M797,429q2.3,-6.3 4.6,-12.7M930,429q1.3,-6.0 2.5,-12.0M1069,429q-2.6,-5.8 -5.3,-11.6M580,429q2.5,-4.5 5.1,-8.9M903,429q-0.3,-8.0 -0.6,-16.0M870,429q-1.1,-8.1 -2.1,-16.2M1100,429q0.2,-4.2 0.5,-8.3M846,429q1.1,-6.4 2.2,-12.8M812,429q1.1,-2.8 2.1,-5.6M617,429q-0.5,-2.0 -0.9,-3.9M1037,429q2.3,-9.9 4.7,-19.9M583,429q0.1,-1.9 0.3,-3.8M803,429q-2.7,-5.4 -5.3,-10.8M1058,429q2.4,-4.9 4.8,-9.7M711,429q2.8,-7.0 5.5,-14.0M659,429q2.3,-4.8 4.5,-9.6M769,429q-1.0,-5.2 -2.0,-10.4M732,429q2.8,-7.4 5.5,-14.8M620,429q1.3,-5.1 2.7,-10.3M916,429q-1.2,-10.3 -2.4,-20.6M1114,429q0.6,-5.0 1.2,-10.0M578,429q1.4,-4.4 2.8,-8.9M1035,429q-0.9,-5.5 -1.7,-11.0M1085,429q1.2,-1.3 2.4,-2.7M992,429q1.2,-4.7 2.3,-9.4M956,429q2.0,-12.1 4.0,-24.1M565,429q3.0,-1.3 5.9,-2.6M687,429q2.7,-7.3 5.5,-14.7M671,429q0.4,-2.8 0.8,-5.6M1090,429q-0.0,-4.8 -0.1,-9.6M609,429q-2.2,-2.1 -4.3,-4.2M1090,429q-1.2,-1.9 -2.5,-3.7M1027,429q0.4,-7.6 0.8,-15.1M767,429q-2.1,-6.1 -4.1,-12.1" stroke="#7c806a" stroke-width="1.4" fill="none"/>
<path d="M687,429q-2.9,-3.4 -5.9,-6.8M934,429q2.3,-9.9 4.7,-19.8M555,429q-0.7,-3.7 -1.4,-7.5M686,429q2.8,-9.7 5.7,-19.4M577,429q-2.1,-4.3 -4.3,-8.6M976,429q-2.7,-11.0 -5.5,-22.0M808,429q2.6,-3.0 5.2,-6.1M729,429q1.2,-7.4 2.3,-14.8M926,429q-2.7,-7.0 -5.4,-13.9M595,429q-2.5,-3.7 -5.1,-7.3M992,429q-0.5,-8.4 -1.0,-16.8M695,429q-2.2,-9.8 -4.5,-19.5M1130,429q-2.6,-3.1 -5.1,-6.2M960,429q-2.6,-5.0 -5.2,-10.0M1114,429q-1.4,-2.0 -2.9,-3.9M645,429q1.4,-8.5 2.9,-17.0M826,429q-2.7,-9.3 -5.3,-18.7M612,429q-1.7,-2.7 -3.4,-5.5M575,429q-1.8,-3.9 -3.7,-7.8M637,429q-1.3,-4.3 -2.6,-8.5M667,429q0.6,-2.9 1.2,-5.8M1036,429q-0.8,-5.6 -1.5,-11.1M717,429q1.8,-4.0 3.5,-8.1M825,429q1.8,-5.6 3.6,-11.1M576,429q-0.8,-3.6 -1.5,-7.2M923,429q0.7,-13.4 1.5,-26.8M801,429q-2.9,-5.8 -5.7,-11.6M1141,429q-0.3,-3.0 -0.6,-6.0M1010,429q-2.7,-6.3 -5.3,-12.7M905,429q-1.1,-6.6 -2.1,-13.2M693,429q-2.1,-8.6 -4.3,-17.2M1128,429q0.6,-3.1 1.1,-6.1M728,429q-1.6,-3.1 -3.2,-6.2M554,429q-1.2,-3.4 -2.4,-6.8M745,429q0.5,-4.2 1.0,-8.4M773,429q-2.9,-4.5 -5.9,-9.0M1082,429q0.5,-3.5 0.9,-7.0M620,429q-2.4,-9.3 -4.7,-18.7M924,429q-1.7,-14.6 -3.4,-29.2M727,429q2.4,-4.3 4.9,-8.6M1017,429q0.5,-5.4 1.0,-10.9M959,429q-2.6,-12.0 -5.2,-24.1M1000,429q2.7,-6.0 5.5,-12.0M882,429q-0.4,-7.0 -0.8,-14.0M1129,429q2.7,-3.5 5.5,-6.9M754,429q-0.4,-4.8 -0.9,-9.5M1115,429q0.6,-1.7 1.1,-3.5M627,429q1.6,-5.8 3.3,-11.6M840,429q1.5,-4.5 3.1,-9.0M987,429q-0.4,-14.0 -0.8,-27.9M890,429q2.1,-11.0 4.2,-22.1M678,429q-0.3,-5.7 -0.5,-11.4M621,429q2.6,-8.4 5.3,-16.7M1097,429q1.0,-3.6 2.1,-7.2M687,429q1.4,-4.2 2.9,-8.4M652,429q-1.2,-3.0 -2.5,-6.1M738,429q2.4,-3.6 4.8,-7.3M580,429q-1.0,-3.7 -1.9,-7.4M771,429q-0.6,-6.7 -1.1,-13.3M1017,429q0.7,-9.3 1.3,-18.6M636,429q-2.9,-2.8 -5.8,-5.5M924,429q-2.7,-14.3 -5.3,-28.5M972,429q-2.9,-3.9 -5.8,-7.8M696,429q0.9,-7.2 1.8,-14.3M702,429q2.3,-3.6 4.7,-7.1M613,429q1.8,-4.9 3.6,-9.8M667,429q2.4,-6.8 4.8,-13.7M579,429q2.2,-2.0 4.4,-4.0M788,429q1.6,-9.6 3.2,-19.2M682,429q0.8,-6.7 1.7,-13.5M784,429q-2.8,-4.4 -5.7,-8.7M887,429q-2.6,-6.0 -5.2,-12.1M531,429q0.5,-3.5 0.9,-7.0M1033,429q-2.7,-8.9 -5.4,-17.7M542,429q-1.4,-3.7 -2.8,-7.3M692,429q2.5,-6.6 5.1,-13.1M596,429q2.7,-3.5 5.5,-7.0M884,429q1.4,-6.8 2.8,-13.7M540,429q-1.9,-2.5 -3.7,-5.0M556,429q0.3,-1.3 0.6,-2.7M1046,429q1.6,-5.2 3.2,-10.3M908,429q1.9,-13.3 3.9,-26.6M780,429q-0.5,-3.3 -1.1,-6.6M889,429q2.8,-9.4 5.6,-18.7M614,429q-1.3,-4.4 -2.6,-8.9M701,429q-0.9,-5.1 -1.8,-10.3M778,429q0.9,-6.3 1.8,-12.5M720,429q2.0,-9.8 3.9,-19.7M838,429q-1.9,-3.9 -3.8,-7.8M956,429q-3.0,-3.9 -6.0,-7.7M522,429q2.1,-2.4 4.1,-4.8M530,429q-1.9,-1.4 -3.9,-2.7M877,429q2.4,-13.6 4.7,-27.1M887,429q-0.4,-14.5 -0.7,-29.1M670,429q-2.0,-4.2 -4.1,-8.3M1137,429q1.1,-1.5 2.1,-3.0M890,429q-1.5,-7.9 -3.0,-15.8M841,429q1.5,-3.4 3.0,-6.9M722,429q-2.3,-7.5 -4.7,-14.9M868,429q2.6,-10.8 5.3,-21.7M1149,429q-1.7,-3.6 -3.4,-7.1M840,429q-1.8,-7.6 -3.5,-15.1M800,429q-1.3,-6.8 -2.5,-13.5M573,429q2.9,-3.9 5.8,-7.9M584,429q-1.1,-3.9 -2.3,-7.9M658,429q-2.8,-5.3 -5.6,-10.6M574,429q-0.2,-2.5 -0.5,-4.9M1092,429q2.8,-4.5 5.7,-9.0M948,429q-2.5,-8.8 -5.0,-17.6M754,429q-0.5,-6.9 -1.0,-13.7M854,429q-0.1,-4.4 -0.1,-8.8M809,429q1.2,-6.6 2.4,-13.1M1024,429q0.0,-3.5 0.0,-7.0M970,429q-2.3,-12.3 -4.6,-24.5M1040,429q-0.8,-3.4 -1.5,-6.8M1117,429q-2.7,-4.0 -5.5,-7.9M743,429q-1.0,-5.2 -2.1,-10.3M743,429q-2.9,-7.7 -5.7,-15.4M1070,429q2.0,-7.5 4.0,-15.0M567,429q0.9,-3.6 1.7,-7.2" stroke="#8a8c76" stroke-width="1.4" fill="none"/>
<path d="M474,428 483.6,427.9 493.1,427.8 502.7,427.7 512.2,427.6 521.8,427.4 531.3,427.3 540.9,427.2 550.4,427.1 560,427 569.3,426.9 578.7,426.9 588,426.8 597.3,426.7 606.7,426.7 616,426.6 625.3,426.5 634.7,426.5 644,426.4 653.3,426.3 662.7,426.3 672,426.2 681.3,426.1 690.7,426.1 700,426 709.1,426 718.2,426 727.3,426 736.4,426 745.5,426 754.5,426 763.6,426 772.7,426 781.8,426 790.9,426 800,426 809.1,426 818.2,426 827.3,426 836.4,426 845.5,426 854.5,426 863.6,426 872.7,426 881.8,426 890.9,426 900,426 909.2,426.1 918.4,426.2 927.6,426.2 936.8,426.3 946,426.4 955.2,426.5 964.4,426.6 973.6,426.6 982.8,426.7 992,426.8 1001.2,426.9 1010.4,427 1019.6,427 1028.8,427.1 1038,427.2 1047.2,427.3 1056.4,427.4 1065.6,427.4 1074.8,427.5 1084,427.6 1093.2,427.7 1102.4,427.8 1111.6,427.8 1120.8,427.9 1133.2,425.6 1128.9,444.8 1126.1,447 1127.8,456.2 1122,474 1124.5,479.3 1123.7,481.3 1116.4,488.9 1117.9,501.7 1105,513.7 1091.9,524 1095.8,535.6 1076,530.1 1072.3,539.7 1059.4,547.1 1060.8,543.7 1052.5,546.6 1034,562.5 1027.8,556.6 1024.9,557.4 1015.2,566.5 997.7,568.9 992.4,573.9 984,571.1 975.5,577.8 967,571.1 945.9,583.4 942.4,578.7 928.5,585.8 926,585.2 905,590.3 896.5,591.5 892.2,600.3 874,592.7 875.9,599.4 857.3,597.4 849.6,607.3 842.7,605.1 835.9,607 817.5,598 815.6,603.4 803.6,604.8 786.3,596.3 773.7,602.3 775.5,600 760,597.4 746.4,596.5 734.8,596.2 724,606.7 721.1,605.1 703.1,594.3 702,586.2 687.5,581.9 677.5,589.1 665.4,579.4 665.5,579.4 651.4,575.9 652.1,560.6 641.6,565.9 636.8,556.3 626.2,558.7 603.4,546.7 602.2,542.4 588.8,543.7 584.7,531.7 563.3,528.2 560.4,532.8 548,520.7 537.8,519.9 535.1,507.1 530.5,505 513.7,497.7 515.6,487.7 498.4,482.1 501.5,471.4 496.6,462.2 486.1,452.4 480.2,440.5 479.5,430.4Z" fill="#a68f6d" filter="url(#ragged)"/>
<clipPath id="soilin"><path d="M474,428 560,427 700,426 900,426 1130,428 1128,460 1118,495 1090,530 1040,556 1000,566 960,576 920,584 880,597 840,602 800,603 760,603 720,602 680,584 640,562 600,545 560,528 530,512 505,480 488,452Z"/></clipPath><g clip-path="url(#soilin)">
<path d="M600,440 1000,440 1050,475 1000,530 900,570 790,590 700,565 630,510 600,470Z" fill="#846e52" filter="url(#blur12)" opacity="0.8"/>
<path d="M690,450 910,450 920,520 820,570 720,540Z" fill="#5e5244" filter="url(#blur12)" opacity="0.4"/>
<path d="M474,428 560,427 700,426 900,426 1130,428 1128,460 1118,495 1090,530 1040,556 1000,566 960,576 920,584 880,597 840,602 800,603 760,603 720,602 680,584 640,562 600,545 560,528 530,512 505,480 488,452Z" fill="#554c40" filter="url(#patchy)" opacity="0.55"/>
<path d="M474,428 560,427 700,426 900,426 1130,428 1128,460 1118,495 1090,530 1040,556 1000,566 960,576 920,584 880,597 840,602 800,603 760,603 720,602 680,584 640,562 600,545 560,528 530,512 505,480 488,452Z" fill="#c4b292" filter="url(#patchy2)" opacity="0.5"/>
<ellipse cx="1080" cy="470" rx="55" ry="40" fill="#bba784" filter="url(#blur12)" opacity="0.8"/>
<ellipse cx="520" cy="455" rx="45" ry="28" fill="#bca886" filter="url(#blur8)" opacity="0.8"/>
<path fill="#b09a76" opacity="0.6" d="M641,540a6,4 0 1 0 12,0a6,4 0 1 0 -12,0M1035,479a6,2 0 1 0 11,0a6,2 0 1 0 -11,0M800,494a4,3 0 1 0 8,0a4,3 0 1 0 -8,0M565,508a3,3 0 1 0 6,0a3,3 0 1 0 -6,0M622,443a2,2 0 1 0 4,0a2,2 0 1 0 -4,0M858,534a2,4 0 1 0 5,0a2,4 0 1 0 -5,0M709,467a6,2 0 1 0 11,0a6,2 0 1 0 -11,0M810,431a4,3 0 1 0 7,0a4,3 0 1 0 -7,0M739,439a3,2 0 1 0 7,0a3,2 0 1 0 -7,0M608,467a4,3 0 1 0 8,0a4,3 0 1 0 -8,0M604,457a4,4 0 1 0 8,0a4,4 0 1 0 -8,0M1099,493a5,2 0 1 0 10,0a5,2 0 1 0 -10,0M850,505a4,4 0 1 0 8,0a4,4 0 1 0 -8,0M1040,517a3,2 0 1 0 6,0a3,2 0 1 0 -6,0M741,485a4,2 0 1 0 7,0a4,2 0 1 0 -7,0M728,491a4,2 0 1 0 7,0a4,2 0 1 0 -7,0M867,586a4,2 0 1 0 8,0a4,2 0 1 0 -8,0M960,551a6,4 0 1 0 12,0a6,4 0 1 0 -12,0M978,496a3,4 0 1 0 6,0a3,4 0 1 0 -6,0M1074,460a6,3 0 1 0 13,0a6,3 0 1 0 -13,0M847,480a3,4 0 1 0 5,0a3,4 0 1 0 -5,0M686,431a4,3 0 1 0 8,0a4,3 0 1 0 -8,0M824,436a2,3 0 1 0 4,0a2,3 0 1 0 -4,0M542,449a4,4 0 1 0 7,0a4,4 0 1 0 -7,0M1069,478a4,3 0 1 0 8,0a4,3 0 1 0 -8,0M1043,448a6,2 0 1 0 11,0a6,2 0 1 0 -11,0M666,476a3,2 0 1 0 6,0a3,2 0 1 0 -6,0M753,452a5,3 0 1 0 9,0a5,3 0 1 0 -9,0M1081,495a3,4 0 1 0 5,0a3,4 0 1 0 -5,0M735,518a6,3 0 1 0 12,0a6,3 0 1 0 -12,0M814,474a4,2 0 1 0 9,0a4,2 0 1 0 -9,0M712,594a5,2 0 1 0 10,0a5,2 0 1 0 -10,0M964,436a4,4 0 1 0 7,0a4,4 0 1 0 -7,0M572,455a5,4 0 1 0 9,0a5,4 0 1 0 -9,0M514,473a2,4 0 1 0 5,0a2,4 0 1 0 -5,0M608,504a6,2 0 1 0 12,0a6,2 0 1 0 -12,0M770,465a3,2 0 1 0 6,0a3,2 0 1 0 -6,0M905,477a2,3 0 1 0 5,0a2,3 0 1 0 -5,0M722,583a3,4 0 1 0 6,0a3,4 0 1 0 -6,0M907,440a6,4 0 1 0 12,0a6,4 0 1 0 -12,0"/>
<path fill="#c0ac88" opacity="0.6" d="M817,494a4,4 0 1 0 8,0a4,4 0 1 0 -8,0M1058,501a3,4 0 1 0 7,0a3,4 0 1 0 -7,0M1063,498a2,2 0 1 0 4,0a2,2 0 1 0 -4,0M691,518a3,4 0 1 0 5,0a3,4 0 1 0 -5,0M1092,444a6,4 0 1 0 12,0a6,4 0 1 0 -12,0M868,477a4,3 0 1 0 7,0a4,3 0 1 0 -7,0M1008,552a4,2 0 1 0 8,0a4,2 0 1 0 -8,0M1006,436a6,2 0 1 0 11,0a6,2 0 1 0 -11,0M820,459a4,3 0 1 0 9,0a4,3 0 1 0 -9,0M577,511a6,4 0 1 0 12,0a6,4 0 1 0 -12,0M1019,458a4,2 0 1 0 8,0a4,2 0 1 0 -8,0M720,547a5,4 0 1 0 10,0a5,4 0 1 0 -10,0M691,512a3,3 0 1 0 7,0a3,3 0 1 0 -7,0M601,503a6,4 0 1 0 13,0a6,4 0 1 0 -13,0M943,527a6,2 0 1 0 12,0a6,2 0 1 0 -12,0M1083,519a5,2 0 1 0 10,0a5,2 0 1 0 -10,0M693,448a5,4 0 1 0 10,0a5,4 0 1 0 -10,0M985,436a3,3 0 1 0 5,0a3,3 0 1 0 -5,0M972,467a5,4 0 1 0 10,0a5,4 0 1 0 -10,0M994,567a3,3 0 1 0 6,0a3,3 0 1 0 -6,0M1026,449a4,4 0 1 0 8,0a4,4 0 1 0 -8,0M799,585a5,3 0 1 0 9,0a5,3 0 1 0 -9,0M864,523a6,2 0 1 0 12,0a6,2 0 1 0 -12,0M550,460a2,4 0 1 0 5,0a2,4 0 1 0 -5,0M940,441a4,4 0 1 0 8,0a4,4 0 1 0 -8,0M839,514a2,2 0 1 0 4,0a2,2 0 1 0 -4,0M796,499a6,4 0 1 0 11,0a6,4 0 1 0 -11,0M524,451a4,3 0 1 0 9,0a4,3 0 1 0 -9,0M737,541a6,4 0 1 0 12,0a6,4 0 1 0 -12,0M742,434a4,3 0 1 0 9,0a4,3 0 1 0 -9,0M1000,430a6,4 0 1 0 12,0a6,4 0 1 0 -12,0M978,545a3,4 0 1 0 6,0a3,4 0 1 0 -6,0M725,549a2,2 0 1 0 5,0a2,2 0 1 0 -5,0M1075,435a6,4 0 1 0 12,0a6,4 0 1 0 -12,0M918,436a5,3 0 1 0 11,0a5,3 0 1 0 -11,0M760,456a3,2 0 1 0 7,0a3,2 0 1 0 -7,0M954,552a5,2 0 1 0 10,0a5,2 0 1 0 -10,0M984,476a6,4 0 1 0 12,0a6,4 0 1 0 -12,0M923,477a4,4 0 1 0 8,0a4,4 0 1 0 -8,0M886,558a4,4 0 1 0 7,0a4,4 0 1 0 -7,0M1038,537a6,3 0 1 0 12,0a6,3 0 1 0 -12,0M649,559a2,2 0 1 0 4,0a2,2 0 1 0 -4,0M807,458a4,2 0 1 0 8,0a4,2 0 1 0 -8,0M867,504a3,4 0 1 0 6,0a3,4 0 1 0 -6,0M512,430a5,2 0 1 0 9,0a5,2 0 1 0 -9,0M962,570a6,3 0 1 0 11,0a6,3 0 1 0 -11,0M778,514a5,3 0 1 0 11,0a5,3 0 1 0 -11,0"/>
<path fill="#7a664c" opacity="0.6" d="M736,587a3,3 0 1 0 6,0a3,3 0 1 0 -6,0M859,512a6,2 0 1 0 12,0a6,2 0 1 0 -12,0M493,450a3,2 0 1 0 5,0a3,2 0 1 0 -5,0M499,473a2,3 0 1 0 4,0a2,3 0 1 0 -4,0M1099,466a4,3 0 1 0 8,0a4,3 0 1 0 -8,0M709,432a5,3 0 1 0 10,0a5,3 0 1 0 -10,0M902,446a6,2 0 1 0 12,0a6,2 0 1 0 -12,0M773,547a3,3 0 1 0 7,0a3,3 0 1 0 -7,0M798,594a2,3 0 1 0 5,0a2,3 0 1 0 -5,0M620,444a2,2 0 1 0 5,0a2,2 0 1 0 -5,0M960,533a6,2 0 1 0 11,0a6,2 0 1 0 -11,0M695,513a5,2 0 1 0 11,0a5,2 0 1 0 -11,0M606,447a4,3 0 1 0 8,0a4,3 0 1 0 -8,0M916,458a6,2 0 1 0 12,0a6,2 0 1 0 -12,0M777,460a4,3 0 1 0 9,0a4,3 0 1 0 -9,0M625,538a6,2 0 1 0 11,0a6,2 0 1 0 -11,0M838,590a4,4 0 1 0 8,0a4,4 0 1 0 -8,0M705,584a3,2 0 1 0 7,0a3,2 0 1 0 -7,0M632,469a4,4 0 1 0 7,0a4,4 0 1 0 -7,0M796,556a2,4 0 1 0 5,0a2,4 0 1 0 -5,0M1048,456a6,2 0 1 0 13,0a6,2 0 1 0 -13,0M881,474a4,4 0 1 0 8,0a4,4 0 1 0 -8,0M701,455a3,4 0 1 0 5,0a3,4 0 1 0 -5,0M585,487a5,4 0 1 0 9,0a5,4 0 1 0 -9,0M1014,484a6,4 0 1 0 12,0a6,4 0 1 0 -12,0M587,495a6,3 0 1 0 11,0a6,3 0 1 0 -11,0M725,494a6,2 0 1 0 12,0a6,2 0 1 0 -12,0M958,471a3,4 0 1 0 6,0a3,4 0 1 0 -6,0M1074,470a6,3 0 1 0 12,0a6,3 0 1 0 -12,0M872,513a5,2 0 1 0 9,0a5,2 0 1 0 -9,0M1015,560a5,2 0 1 0 10,0a5,2 0 1 0 -10,0M907,481a6,2 0 1 0 12,0a6,2 0 1 0 -12,0M782,477a5,4 0 1 0 10,0a5,4 0 1 0 -10,0M604,442a5,2 0 1 0 10,0a5,2 0 1 0 -10,0M588,518a5,4 0 1 0 10,0a5,4 0 1 0 -10,0M744,532a2,2 0 1 0 5,0a2,2 0 1 0 -5,0M783,477a6,2 0 1 0 12,0a6,2 0 1 0 -12,0M646,442a5,2 0 1 0 10,0a5,2 0 1 0 -10,0M732,447a2,4 0 1 0 4,0a2,4 0 1 0 -4,0M966,540a6,2 0 1 0 13,0a6,2 0 1 0 -13,0M954,553a6,4 0 1 0 11,0a6,4 0 1 0 -11,0M515,452a6,2 0 1 0 12,0a6,2 0 1 0 -12,0M901,587a4,3 0 1 0 8,0a4,3 0 1 0 -8,0M947,464a5,2 0 1 0 10,0a5,2 0 1 0 -10,0"/>
<path fill="#5e5040" opacity="0.6" d="M935,474a3,4 0 1 0 6,0a3,4 0 1 0 -6,0M1107,478a2,4 0 1 0 5,0a2,4 0 1 0 -5,0M628,497a6,2 0 1 0 11,0a6,2 0 1 0 -11,0M940,480a3,2 0 1 0 6,0a3,2 0 1 0 -6,0M747,574a6,4 0 1 0 12,0a6,4 0 1 0 -12,0M1074,465a2,2 0 1 0 5,0a2,2 0 1 0 -5,0M817,483a2,4 0 1 0 4,0a2,4 0 1 0 -4,0M986,554a6,3 0 1 0 11,0a6,3 0 1 0 -11,0M906,444a4,4 0 1 0 8,0a4,4 0 1 0 -8,0M710,594a3,3 0 1 0 5,0a3,3 0 1 0 -5,0M842,494a3,2 0 1 0 6,0a3,2 0 1 0 -6,0M882,492a4,2 0 1 0 9,0a4,2 0 1 0 -9,0M841,487a3,2 0 1 0 7,0a3,2 0 1 0 -7,0M788,445a6,3 0 1 0 11,0a6,3 0 1 0 -11,0M1024,448a3,2 0 1 0 6,0a3,2 0 1 0 -6,0M665,520a5,2 0 1 0 11,0a5,2 0 1 0 -11,0M782,543a3,2 0 1 0 6,0a3,2 0 1 0 -6,0M819,449a4,3 0 1 0 8,0a4,3 0 1 0 -8,0M660,501a3,2 0 1 0 6,0a3,2 0 1 0 -6,0M541,499a3,2 0 1 0 6,0a3,2 0 1 0 -6,0M816,554a6,4 0 1 0 12,0a6,4 0 1 0 -12,0M1068,511a5,4 0 1 0 10,0a5,4 0 1 0 -10,0M892,463a6,2 0 1 0 11,0a6,2 0 1 0 -11,0M689,529a5,3 0 1 0 10,0a5,3 0 1 0 -10,0M572,491a3,3 0 1 0 7,0a3,3 0 1 0 -7,0M986,563a4,2 0 1 0 9,0a4,2 0 1 0 -9,0M959,521a5,2 0 1 0 11,0a5,2 0 1 0 -11,0M675,571a2,2 0 1 0 5,0a2,2 0 1 0 -5,0M552,522a5,3 0 1 0 10,0a5,3 0 1 0 -10,0M930,527a5,2 0 1 0 10,0a5,2 0 1 0 -10,0M1026,550a4,2 0 1 0 8,0a4,2 0 1 0 -8,0M872,487a5,3 0 1 0 10,0a5,3 0 1 0 -10,0M647,497a5,3 0 1 0 10,0a5,3 0 1 0 -10,0M905,468a4,4 0 1 0 9,0a4,4 0 1 0 -9,0M526,506a3,2 0 1 0 7,0a3,2 0 1 0 -7,0"/>
<path fill="#8a8070" opacity="0.6" d="M892,484a3,3 0 1 0 6,0a3,3 0 1 0 -6,0M1047,496a3,4 0 1 0 6,0a3,4 0 1 0 -6,0M923,489a4,2 0 1 0 9,0a4,2 0 1 0 -9,0M1102,430a4,3 0 1 0 9,0a4,3 0 1 0 -9,0M968,478a6,3 0 1 0 12,0a6,3 0 1 0 -12,0M923,512a5,2 0 1 0 11,0a5,2 0 1 0 -11,0M757,526a6,2 0 1 0 12,0a6,2 0 1 0 -12,0M1031,445a4,3 0 1 0 7,0a4,3 0 1 0 -7,0M821,498a5,4 0 1 0 10,0a5,4 0 1 0 -10,0M934,576a4,4 0 1 0 8,0a4,4 0 1 0 -8,0M839,576a3,4 0 1 0 6,0a3,4 0 1 0 -6,0M999,562a2,3 0 1 0 5,0a2,3 0 1 0 -5,0M986,538a2,2 0 1 0 4,0a2,2 0 1 0 -4,0M1001,492a5,2 0 1 0 9,0a5,2 0 1 0 -9,0M521,431a2,3 0 1 0 4,0a2,3 0 1 0 -4,0M700,460a5,4 0 1 0 10,0a5,4 0 1 0 -10,0M651,558a4,3 0 1 0 8,0a4,3 0 1 0 -8,0M917,531a3,3 0 1 0 7,0a3,3 0 1 0 -7,0M773,603a3,4 0 1 0 5,0a3,4 0 1 0 -5,0M782,543a4,4 0 1 0 8,0a4,4 0 1 0 -8,0M710,488a3,2 0 1 0 6,0a3,2 0 1 0 -6,0M678,458a5,4 0 1 0 10,0a5,4 0 1 0 -10,0M1016,503a6,3 0 1 0 11,0a6,3 0 1 0 -11,0M862,436a2,2 0 1 0 5,0a2,2 0 1 0 -5,0M563,513a3,3 0 1 0 6,0a3,3 0 1 0 -6,0M604,513a5,3 0 1 0 11,0a5,3 0 1 0 -11,0M938,515a5,2 0 1 0 9,0a5,2 0 1 0 -9,0M607,430a2,2 0 1 0 4,0a2,2 0 1 0 -4,0M598,522a3,4 0 1 0 6,0a3,4 0 1 0 -6,0M519,452a3,3 0 1 0 5,0a3,3 0 1 0 -5,0M1027,474a3,2 0 1 0 6,0a3,2 0 1 0 -6,0M758,451a4,3 0 1 0 9,0a4,3 0 1 0 -9,0M539,517a6,3 0 1 0 12,0a6,3 0 1 0 -12,0M947,444a5,2 0 1 0 10,0a5,2 0 1 0 -10,0M773,562a3,2 0 1 0 6,0a3,2 0 1 0 -6,0M1088,472a4,4 0 1 0 7,0a4,4 0 1 0 -7,0M1015,467a3,4 0 1 0 6,0a3,4 0 1 0 -6,0M929,440a3,2 0 1 0 6,0a3,2 0 1 0 -6,0M949,495a5,2 0 1 0 11,0a5,2 0 1 0 -11,0M625,447a5,2 0 1 0 9,0a5,2 0 1 0 -9,0M805,512a6,3 0 1 0 12,0a6,3 0 1 0 -12,0M866,483a4,2 0 1 0 8,0a4,2 0 1 0 -8,0M985,566a2,4 0 1 0 5,0a2,4 0 1 0 -5,0M713,542a5,2 0 1 0 11,0a5,2 0 1 0 -11,0M772,503a6,2 0 1 0 13,0a6,2 0 1 0 -13,0M884,593a3,3 0 1 0 7,0a3,3 0 1 0 -7,0M1054,442a4,4 0 1 0 8,0a4,4 0 1 0 -8,0"/>
<path fill="#6a6658" opacity="0.6" d="M741,547a6,4 0 1 0 12,0a6,4 0 1 0 -12,0M724,500a6,4 0 1 0 11,0a6,4 0 1 0 -11,0M1118,473a4,2 0 1 0 7,0a4,2 0 1 0 -7,0M1034,508a3,2 0 1 0 5,0a3,2 0 1 0 -5,0M589,442a4,3 0 1 0 8,0a4,3 0 1 0 -8,0M913,531a5,2 0 1 0 11,0a5,2 0 1 0 -11,0M691,587a6,2 0 1 0 12,0a6,2 0 1 0 -12,0M994,537a4,3 0 1 0 7,0a4,3 0 1 0 -7,0M1014,492a6,2 0 1 0 11,0a6,2 0 1 0 -11,0M1051,541a3,2 0 1 0 7,0a3,2 0 1 0 -7,0M707,550a6,4 0 1 0 12,0a6,4 0 1 0 -12,0M894,576a4,4 0 1 0 8,0a4,4 0 1 0 -8,0M1061,512a5,4 0 1 0 10,0a5,4 0 1 0 -10,0M742,444a4,4 0 1 0 7,0a4,4 0 1 0 -7,0M960,553a6,4 0 1 0 12,0a6,4 0 1 0 -12,0M921,571a6,4 0 1 0 12,0a6,4 0 1 0 -12,0M735,523a3,4 0 1 0 6,0a3,4 0 1 0 -6,0M812,571a3,4 0 1 0 5,0a3,4 0 1 0 -5,0M804,449a6,2 0 1 0 12,0a6,2 0 1 0 -12,0M893,528a6,3 0 1 0 12,0a6,3 0 1 0 -12,0M1057,476a4,4 0 1 0 8,0a4,4 0 1 0 -8,0M682,468a6,2 0 1 0 11,0a6,2 0 1 0 -11,0M617,541a2,4 0 1 0 5,0a2,4 0 1 0 -5,0M564,496a6,4 0 1 0 11,0a6,4 0 1 0 -11,0M644,513a3,2 0 1 0 5,0a3,2 0 1 0 -5,0M832,447a4,4 0 1 0 8,0a4,4 0 1 0 -8,0M994,470a3,3 0 1 0 5,0a3,3 0 1 0 -5,0"/>
<path fill="#6a5842" opacity="0.6" d="M624,508a5,2 0 1 0 11,0a5,2 0 1 0 -11,0M1054,442a3,3 0 1 0 5,0a3,3 0 1 0 -5,0M884,529a4,4 0 1 0 9,0a4,4 0 1 0 -9,0M950,495a3,4 0 1 0 7,0a3,4 0 1 0 -7,0M880,450a2,3 0 1 0 5,0a2,3 0 1 0 -5,0M690,443a3,3 0 1 0 6,0a3,3 0 1 0 -6,0M1082,523a2,4 0 1 0 5,0a2,4 0 1 0 -5,0M789,433a6,3 0 1 0 12,0a6,3 0 1 0 -12,0M635,494a6,4 0 1 0 13,0a6,4 0 1 0 -13,0M818,482a3,4 0 1 0 6,0a3,4 0 1 0 -6,0M708,534a4,4 0 1 0 7,0a4,4 0 1 0 -7,0M1006,453a4,2 0 1 0 9,0a4,2 0 1 0 -9,0M759,455a3,3 0 1 0 6,0a3,3 0 1 0 -6,0M720,432a4,2 0 1 0 8,0a4,2 0 1 0 -8,0M1048,527a6,3 0 1 0 12,0a6,3 0 1 0 -12,0M704,590a5,2 0 1 0 9,0a5,2 0 1 0 -9,0M1025,531a4,3 0 1 0 9,0a4,3 0 1 0 -9,0M858,576a5,3 0 1 0 10,0a5,3 0 1 0 -10,0M950,552a5,2 0 1 0 10,0a5,2 0 1 0 -10,0M810,553a5,4 0 1 0 11,0a5,4 0 1 0 -11,0M702,489a3,2 0 1 0 5,0a3,2 0 1 0 -5,0M953,456a5,4 0 1 0 9,0a5,4 0 1 0 -9,0M672,442a4,2 0 1 0 9,0a4,2 0 1 0 -9,0M761,563a6,3 0 1 0 12,0a6,3 0 1 0 -12,0M636,497a6,4 0 1 0 12,0a6,4 0 1 0 -12,0M1080,531a4,3 0 1 0 9,0a4,3 0 1 0 -9,0M737,439a6,4 0 1 0 13,0a6,4 0 1 0 -13,0M589,455a4,4 0 1 0 9,0a4,4 0 1 0 -9,0M997,549a4,3 0 1 0 8,0a4,3 0 1 0 -8,0M1046,542a4,3 0 1 0 8,0a4,3 0 1 0 -8,0M894,460a5,4 0 1 0 9,0a5,4 0 1 0 -9,0M599,536a6,3 0 1 0 12,0a6,3 0 1 0 -12,0M676,444a5,3 0 1 0 10,0a5,3 0 1 0 -10,0M909,526a3,4 0 1 0 7,0a3,4 0 1 0 -7,0M749,492a6,3 0 1 0 12,0a6,3 0 1 0 -12,0M492,454a3,2 0 1 0 6,0a3,2 0 1 0 -6,0M809,566a3,4 0 1 0 6,0a3,4 0 1 0 -6,0"/>
<path fill="#8c7858" opacity="0.6" d="M830,556a4,2 0 1 0 8,0a4,2 0 1 0 -8,0M884,474a5,4 0 1 0 10,0a5,4 0 1 0 -10,0M542,495a4,2 0 1 0 8,0a4,2 0 1 0 -8,0M836,430a2,2 0 1 0 5,0a2,2 0 1 0 -5,0M716,438a6,3 0 1 0 13,0a6,3 0 1 0 -13,0M1109,464a4,2 0 1 0 9,0a4,2 0 1 0 -9,0M723,551a5,3 0 1 0 9,0a5,3 0 1 0 -9,0M748,439a3,3 0 1 0 6,0a3,3 0 1 0 -6,0M758,528a3,2 0 1 0 6,0a3,2 0 1 0 -6,0M930,561a6,2 0 1 0 12,0a6,2 0 1 0 -12,0M605,481a5,3 0 1 0 9,0a5,3 0 1 0 -9,0M532,455a5,4 0 1 0 11,0a5,4 0 1 0 -11,0M1061,535a2,3 0 1 0 4,0a2,3 0 1 0 -4,0M630,458a4,2 0 1 0 9,0a4,2 0 1 0 -9,0M957,458a6,3 0 1 0 13,0a6,3 0 1 0 -13,0M820,525a3,3 0 1 0 5,0a3,3 0 1 0 -5,0M960,521a6,4 0 1 0 12,0a6,4 0 1 0 -12,0M1007,548a3,4 0 1 0 5,0a3,4 0 1 0 -5,0M929,541a5,4 0 1 0 10,0a5,4 0 1 0 -10,0M833,579a6,4 0 1 0 12,0a6,4 0 1 0 -12,0M748,441a5,3 0 1 0 11,0a5,3 0 1 0 -11,0M1098,490a2,3 0 1 0 5,0a2,3 0 1 0 -5,0M987,565a3,4 0 1 0 6,0a3,4 0 1 0 -6,0M889,566a5,3 0 1 0 9,0a5,3 0 1 0 -9,0M921,468a5,3 0 1 0 10,0a5,3 0 1 0 -10,0M940,548a6,3 0 1 0 12,0a6,3 0 1 0 -12,0M904,487a3,2 0 1 0 6,0a3,2 0 1 0 -6,0M516,465a4,3 0 1 0 7,0a4,3 0 1 0 -7,0M600,444a5,2 0 1 0 9,0a5,2 0 1 0 -9,0M621,469a3,3 0 1 0 5,0a3,3 0 1 0 -5,0M728,451a6,3 0 1 0 12,0a6,3 0 1 0 -12,0M1016,507a5,2 0 1 0 10,0a5,2 0 1 0 -10,0M944,470a3,4 0 1 0 6,0a3,4 0 1 0 -6,0M695,558a4,3 0 1 0 8,0a4,3 0 1 0 -8,0M771,546a3,4 0 1 0 5,0a3,4 0 1 0 -5,0M694,475a4,4 0 1 0 9,0a4,4 0 1 0 -9,0M587,457a3,3 0 1 0 6,0a3,3 0 1 0 -6,0"/>
<rect x="1030" y="420" width="110" height="200" fill="url(#sfadeR)"/>
<rect x="465" y="420" width="80" height="120" fill="url(#sfadeL)"/>
</g>
<path d="M560,429 L1100,428" stroke="#4e4438" stroke-width="2.4" fill="none"/><path d="M1100,428 L1230,428" stroke="#9a9284" stroke-width="1.5" fill="none" opacity="0.6"/>
<path d="M745,330 738,352 722,376 700,394 676,406 650,416 700,426 760,436 820,434 880,424 925,412 898,400 870,384 852,362 838,334Z" fill="#c2b292"/>
<path d="M740,360 C736,390 728,410 715,425 M765,370 C766,395 760,420 752,438 M800,372 C806,400 808,420 806,440 M826,372 C840,395 852,412 866,428" stroke="#7a684c" stroke-width="3" fill="none" opacity="0.7"/>
<g fill="none" stroke="#6e5c44" stroke-linecap="round" stroke-linejoin="round" clip-path="url(#soilclip)"><path d="M473,483C473,484 473,487 472,489 472,491 471,493 471,495 471,497 471,499 471,501 471,503 471,506 472,507M472,489C473,489 474,491 474,492 475,493 475,495 476,496 476,497 476,498 477,500 477,501 477,503 477,503M471,501C471,501 473,503 473,504 474,505 474,506 475,507 475,508 476,510 476,511 477,512 477,514 478,514M472,489C472,489 471,490 470,491 469,492 469,492 468,493 467,494 466,495 466,495 465,496 464,497 464,498M485,461C485,462 485,466 485,469 485,471 485,474 486,477 486,479 487,482 487,484 488,487 490,490 490,491M487,484C487,485 487,487 487,488 486,489 486,490 486,491 485,492 485,494 485,495 484,496 484,498 484,498M479,472C478,472 474,474 472,476 470,477 468,479 466,481 464,483 462,485 461,487 459,489 457,492 456,493M466,481C466,482 465,484 465,485 465,486 464,488 464,489 464,490 465,492 464,493 464,494 464,496 464,497M680,438C681,437 682,437 683,436 684,436 685,436 686,436 686,435 687,435 688,435 689,434 690,434 691,434M640,533C640,534 642,536 643,537 644,539 645,540 646,541 647,543 648,544 649,546 650,547 650,549 651,550M640,533C640,534 641,536 642,537 642,538 643,539 643,541 644,542 644,543 644,545 644,546 644,548 645,549M640,517C639,517 638,518 637,519 636,520 635,521 634,522 634,524 633,525 632,526 631,527 631,529 631,530M663,490C662,491 661,494 660,495 659,497 658,498 657,500 655,501 655,503 653,505 652,506 650,508 650,509M701,448C701,447 700,447 699,447 699,447 698,446 698,446 697,446 696,445 696,445 695,445 694,444 694,444M699,455C699,455 698,454 697,454 697,454 696,455 696,455 695,455 694,455 694,455 693,455 692,456 692,456M665,530C664,531 663,531 662,532 661,532 661,533 660,533 659,534 658,534 658,535 657,536 656,537 656,537M663,535C663,535 663,536 663,537 664,538 664,539 664,539 664,540 664,541 664,542 665,543 665,544 666,544M665,530C664,531 663,531 662,532 662,533 661,534 660,534 660,535 659,536 658,536 658,537 656,538 656,538M671,511C672,511 673,511 673,511 674,511 675,512 675,512 676,512 676,513 677,513 678,513 679,513 679,513M671,511C672,511 673,511 674,511 674,511 675,511 676,512 677,512 677,513 678,513 679,513 679,514 680,515M645,544C644,544 643,544 642,545 640,545 639,545 638,546 637,546 636,546 635,547 634,547 632,547 632,547M664,520C665,520 666,521 667,522 667,522 668,522 669,523 670,523 671,524 672,524 673,524 674,525 675,525M666,527C666,527 667,528 668,528 669,529 670,529 671,530 672,530 673,530 674,531 675,531 676,532 677,532M664,520C664,521 663,522 663,523 663,524 662,525 661,526 661,527 661,529 661,530 661,531 660,533 660,533M656,517C655,517 654,518 653,519 653,519 652,520 651,521 651,522 650,523 649,524 649,524 648,526 648,526M656,517C656,517 655,519 655,520 655,521 656,522 656,523 656,524 655,525 655,526 655,527 655,528 655,529M551,552C550,552 548,553 547,553 545,553 544,553 542,553 541,553 540,553 538,553 537,553 535,553 534,553M664,622C664,624 663,628 662,632 661,635 660,638 660,641 660,644 660,647 661,650 661,653 663,658 663,660M661,650C661,651 659,653 659,655 658,657 657,658 656,660 656,661 655,663 654,664 653,665 651,667 650,668M684,595C684,596 683,597 683,597 682,598 682,599 682,600 681,600 681,601 681,602 681,603 680,604 680,604M679,599C679,599 678,601 678,602 677,603 677,604 677,605 677,606 677,608 677,609 676,610 676,612 676,612M798,487C797,487 797,488 797,488 797,489 796,490 796,490 796,491 796,492 796,492 796,493 796,494 796,494M798,483C798,483 799,484 799,484 800,484 800,485 801,485 801,485 802,486 802,486 803,487 803,487 804,487M798,483C798,483 798,484 799,484 799,485 799,485 799,486 800,486 800,487 800,487 801,488 801,488 801,489M790,485C790,485 789,485 788,486 787,486 786,486 785,486 784,487 783,487 782,487 781,487 779,487 779,488M790,485C790,485 789,486 788,486 788,487 787,487 786,488 786,488 785,488 784,489 783,489 782,490 782,490M790,485C790,485 789,485 788,485 788,485 787,485 786,485 786,485 785,485 784,486 784,486 783,486 782,486M783,590C782,591 779,593 776,595 774,597 773,599 771,600 768,602 766,603 764,605 762,606 758,608 757,609M776,595C776,595 773,594 772,594 770,594 769,594 767,594 766,595 764,595 763,595 761,595 759,594 758,594M771,600C770,600 768,601 767,601 765,601 764,601 763,602 762,602 760,602 759,603 758,603 756,604 755,605M780,600C780,601 780,604 780,606 780,608 780,610 779,612 779,614 778,615 777,617 777,619 776,622 775,623M780,606C781,607 782,608 782,609 783,609 784,610 784,611 785,612 786,612 786,613 787,614 788,615 788,616M779,612C780,612 781,613 781,614 782,615 783,615 784,616 785,616 786,617 787,617 787,618 789,619 789,619M780,606C780,607 781,608 781,609 782,609 782,610 783,611 783,612 783,613 783,614 784,615 784,616 784,616M756,634C755,636 753,642 752,646 752,650 752,654 751,658 751,662 751,666 752,670 752,674 754,680 755,682M751,658C751,659 750,663 749,665 749,668 748,670 747,672 746,675 745,677 744,680 743,682 743,686 743,687M756,630C756,630 757,632 757,633 757,634 758,635 758,636 759,638 760,639 760,640 761,641 761,642 762,643M886,539C886,540 886,542 886,543 887,545 887,547 887,548 887,550 887,551 887,553 887,554 887,557 887,557M886,539C885,539 884,539 883,540 882,540 881,540 880,541 879,541 878,541 877,541 876,542 874,542 874,543M875,612C876,613 879,617 881,620 883,623 884,626 885,629 886,632 886,635 887,639 888,642 890,646 891,648M887,639C888,639 889,640 890,641 891,642 892,643 893,644 894,645 895,646 895,647 896,648 897,650 898,651M881,620C881,620 880,623 880,624 880,626 879,627 879,629 878,630 877,632 877,633 877,635 877,637 877,638M881,620C882,620 885,620 886,621 888,621 890,622 892,622 894,623 895,625 897,625 898,626 901,627 902,628M891,582C892,582 892,584 892,585 892,586 892,587 892,588 893,589 893,590 894,591 894,592 895,593 895,594M891,582C891,582 891,584 891,585 891,586 891,587 891,588 890,589 890,590 890,591 890,592 889,593 889,594M889,587C889,588 889,589 890,590 890,591 890,592 890,593 891,593 891,594 891,595 891,596 891,598 891,598M852,617C852,617 849,618 848,618 847,618 845,619 844,619 843,619 841,619 840,619 838,619 836,618 835,618M852,617C852,617 850,617 849,617 848,616 847,617 846,617 845,617 844,617 843,617 842,617 841,617 840,618M1091,513C1092,513 1096,513 1098,513 1100,512 1103,512 1105,511 1108,511 1110,510 1112,510 1115,509 1119,509 1120,509M1098,513C1098,512 1100,511 1101,510 1102,509 1102,508 1103,507 1104,506 1105,506 1106,505 1106,504 1108,502 1108,502M1105,511C1106,511 1107,510 1109,510 1110,509 1111,509 1112,508 1113,508 1114,508 1116,508 1117,508 1118,507 1119,507M1105,511C1106,512 1108,513 1109,514 1110,515 1111,517 1112,518 1112,519 1113,521 1114,522 1115,523 1116,525 1117,526M1103,528C1104,528 1107,529 1109,530 1110,531 1112,531 1114,532 1116,532 1118,533 1120,534 1121,535 1123,537 1124,537M1114,532C1115,532 1116,533 1117,534 1118,534 1119,535 1120,535 1121,536 1122,536 1123,537 1124,538 1125,539 1125,540M1114,532C1114,532 1115,533 1115,534 1116,535 1116,535 1117,536 1117,537 1118,537 1118,538 1119,538 1120,539 1120,539M1074,520C1074,522 1076,526 1078,528 1079,531 1080,534 1081,536 1082,539 1083,542 1084,544 1086,547 1087,551 1088,552M1078,528C1078,529 1079,530 1080,531 1081,532 1081,534 1082,535 1082,536 1083,537 1083,538 1083,540 1083,541 1083,542M1066,512C1067,512 1070,514 1072,515 1074,516 1076,517 1078,518 1080,519 1081,521 1083,523 1084,524 1087,526 1088,527M1083,523C1082,523 1082,525 1082,527 1082,528 1082,529 1083,531 1083,532 1083,533 1084,535 1084,536 1085,538 1085,538M1078,518C1078,518 1080,519 1082,519 1083,520 1084,520 1085,521 1087,522 1088,523 1089,524 1090,525 1091,526 1092,527M1083,523C1083,523 1085,523 1087,523 1088,524 1089,524 1091,524 1092,525 1094,525 1095,525 1096,525 1099,526 1099,526M1090,537C1089,538 1088,541 1088,543 1087,545 1087,546 1086,548 1086,550 1086,552 1086,554 1086,556 1086,559 1086,560M1086,548C1086,549 1085,550 1084,550 1083,551 1082,551 1081,552 1080,552 1079,553 1079,553 1078,554 1077,555 1076,555M1117,528C1117,528 1119,530 1120,531 1121,532 1121,533 1122,534 1123,536 1124,537 1124,538 1125,539 1126,541 1126,542M1108,528C1108,528 1111,528 1112,529 1114,530 1115,531 1116,532 1117,533 1118,534 1119,535 1120,536 1121,539 1121,539M1108,528C1108,527 1111,527 1112,526 1113,526 1115,526 1116,525 1118,525 1119,525 1121,525 1122,525 1124,526 1125,526M1147,559C1148,559 1152,558 1155,557 1157,557 1160,557 1163,556 1165,556 1168,555 1170,554 1173,553 1177,552 1178,551M1107,576C1107,577 1106,578 1105,580 1104,581 1104,582 1103,583 1102,584 1101,585 1100,587 1099,588 1098,589 1098,590M1108,567C1108,567 1109,569 1110,571 1110,572 1111,573 1112,574 1113,575 1113,577 1113,578 1114,579 1115,581 1115,582M1107,576C1107,576 1106,578 1105,579 1104,580 1103,581 1103,582 1102,584 1101,585 1101,586 1100,587 1099,589 1098,589M1110,499C1110,499 1112,501 1113,502 1114,503 1115,504 1116,506 1117,507 1119,508 1120,509 1121,510 1122,512 1122,513M1120,509C1120,509 1121,510 1121,510 1122,510 1123,511 1123,511 1124,512 1124,512 1124,513 1125,514 1125,514 1126,515M1120,509C1120,509 1121,510 1122,510 1122,511 1123,512 1123,512 1124,513 1125,513 1125,514 1126,515 1127,516 1127,516M1110,499C1110,499 1113,501 1114,502 1116,503 1117,505 1119,506 1121,507 1122,508 1124,509 1125,511 1127,512 1128,513M1124,509C1124,510 1124,511 1125,512 1125,513 1125,514 1126,515 1126,516 1127,516 1128,517 1128,518 1129,519 1130,519M1114,505C1115,505 1118,505 1120,506 1122,506 1124,506 1125,507 1127,507 1129,507 1131,508 1133,509 1136,510 1137,510M1131,508C1132,508 1133,507 1133,507 1134,506 1135,506 1136,506 1136,506 1137,506 1138,506 1139,506 1140,506 1140,506M1120,506C1120,506 1121,505 1122,505 1123,504 1124,504 1125,504 1126,503 1126,504 1127,504 1128,503 1130,504 1130,504M970,467C971,467 975,466 977,466 979,466 981,465 983,465 985,465 988,465 990,465 992,465 995,465 996,465M991,482C992,482 996,480 998,479 1001,478 1003,478 1005,477 1008,476 1010,474 1012,473 1015,472 1018,470 1019,470M935,479C934,480 933,482 932,484 932,486 931,487 931,489 930,491 930,492 930,494 930,496 929,498 928,499M1129,505C1130,505 1132,506 1133,506 1134,506 1135,506 1136,506 1137,506 1138,506 1140,506 1141,506 1142,506 1143,506M1134,508C1135,508 1136,507 1137,507 1137,507 1138,507 1139,507 1140,507 1141,507 1142,507 1142,508 1144,508 1144,508M1134,508C1135,507 1136,507 1137,507 1138,506 1139,506 1140,505 1141,505 1142,504 1143,504 1144,503 1146,502 1146,502M1008,535C1008,535 1009,536 1009,536 1009,537 1010,537 1010,538 1010,538 1011,539 1011,539 1011,540 1012,540 1012,541M1008,535C1008,535 1008,536 1009,536 1009,537 1010,537 1010,537 1011,538 1011,538 1012,538 1013,539 1013,539 1014,539M1008,535C1008,535 1009,536 1009,536 1010,536 1010,537 1011,537 1011,537 1012,538 1012,538 1013,539 1014,539 1014,539M1018,533C1018,533 1019,534 1020,535 1020,535 1021,536 1021,536 1022,537 1022,537 1023,538 1023,538 1024,539 1025,539M1091,546C1092,546 1096,546 1098,546 1101,546 1103,547 1105,548 1108,549 1110,549 1113,550 1115,551 1119,553 1120,553M1113,550C1113,551 1114,552 1115,553 1115,554 1116,556 1116,557 1117,558 1117,559 1118,560 1119,561 1120,562 1120,563M1105,548C1106,548 1108,547 1110,547 1111,547 1113,547 1114,548 1115,548 1117,548 1118,548 1120,548 1122,548 1122,548M1091,546C1091,547 1093,549 1094,551 1095,553 1096,554 1096,556 1097,558 1097,560 1098,562 1098,564 1099,566 1099,567M1098,562C1098,562 1097,563 1097,564 1097,565 1097,566 1097,567 1097,568 1097,569 1098,570 1098,570 1098,572 1099,572M1096,531C1097,532 1102,535 1104,537 1107,540 1110,543 1112,545 1114,548 1116,552 1118,554 1121,557 1125,560 1126,561M1118,554C1118,555 1119,557 1119,559 1119,560 1119,562 1120,563 1120,565 1121,566 1121,568 1122,569 1123,571 1123,572M1096,531C1097,530 1102,528 1105,527 1109,525 1112,524 1115,523 1119,522 1122,522 1126,522 1129,521 1135,521 1136,521M1115,523C1116,522 1118,519 1119,518 1121,516 1123,515 1124,514 1126,513 1128,511 1130,510 1131,509 1134,507 1135,507M1110,533C1111,535 1113,540 1115,544 1117,547 1119,550 1121,553 1123,556 1126,559 1128,562 1131,565 1135,569 1136,570M1115,544C1115,544 1114,547 1114,548 1114,550 1114,551 1114,553 1114,555 1115,556 1115,558 1115,559 1116,561 1116,562M1121,553C1122,553 1126,554 1128,554 1131,555 1133,555 1135,555 1138,556 1140,557 1142,557 1145,558 1148,558 1149,558M1085,543C1085,544 1086,547 1086,549 1086,551 1087,553 1087,555 1087,556 1086,558 1086,560 1086,562 1086,565 1086,566M1086,560C1087,561 1087,562 1088,563 1088,564 1089,565 1090,566 1090,567 1090,568 1091,570 1091,571 1091,572 1091,573M1085,543C1086,543 1088,545 1089,546 1090,546 1091,547 1092,548 1094,549 1095,550 1096,551 1097,552 1099,553 1099,554M1089,546C1089,546 1091,546 1091,546 1092,546 1093,546 1094,547 1095,547 1096,547 1096,547 1097,547 1098,548 1099,548M1092,548C1093,548 1094,548 1095,548 1096,548 1097,548 1098,548 1099,548 1100,548 1101,548 1102,548 1103,548 1103,548M1075,534C1075,534 1078,533 1080,533 1081,533 1083,534 1085,534 1087,534 1088,533 1090,534 1092,534 1095,535 1095,535M1080,533C1080,533 1081,532 1082,532 1083,532 1084,532 1085,532 1086,532 1087,533 1087,533 1088,533 1090,534 1090,534M918,469C919,470 921,470 923,470 924,470 926,470 927,471 929,471 930,471 932,471 933,472 935,472 936,472M900,459C901,459 904,458 906,458 908,457 910,458 912,458 914,459 916,459 918,459 921,460 924,460 925,460M900,459C901,460 902,463 903,465 903,467 904,469 904,471 905,473 904,475 905,477 905,480 905,483 905,484M884,465C884,465 884,467 884,468 884,469 884,471 884,472 884,473 883,474 883,475 883,476 883,478 883,479M910,453C911,453 913,452 915,451 917,450 918,449 920,449 922,449 924,448 926,448 927,448 930,447 931,447M910,453C911,454 913,455 915,456 917,457 918,458 920,458 922,459 924,460 926,460 928,461 931,461 931,462M927,573C926,574 925,576 924,578 923,580 922,582 921,583 919,585 918,587 917,589 916,590 915,593 915,594M980,529C980,529 980,531 980,532 980,533 980,535 980,536 980,537 980,538 980,539 980,541 980,542 980,543M1100,526C1101,526 1103,527 1104,527 1105,528 1106,529 1108,529 1109,530 1110,530 1112,531 1113,531 1115,532 1116,532M1118,524C1118,525 1120,527 1121,528 1122,529 1123,531 1124,532 1125,533 1126,534 1127,535 1128,536 1130,538 1130,539M1118,524C1119,524 1121,522 1122,522 1124,521 1126,521 1127,521 1129,521 1131,521 1133,522 1134,522 1137,523 1138,523M537,484C536,485 534,489 532,491 530,493 528,495 526,497 525,499 524,502 523,505 521,507 519,511 519,512M523,505C522,505 520,506 518,507 517,508 515,508 514,509 512,510 511,511 509,511 508,512 506,512 505,512M523,505C522,505 522,508 521,510 521,511 520,513 520,515 519,517 518,518 518,520 517,521 515,523 515,524M515,465C514,465 510,467 508,467 505,468 502,468 499,467 497,467 494,467 491,466 489,465 485,463 484,463M499,467C499,467 497,468 495,468 494,468 492,468 491,468 490,468 488,467 487,466 486,466 485,464 484,463M508,467C507,467 505,466 504,466 503,466 502,465 501,465 500,464 499,464 498,464 497,463 495,464 494,464M491,466C491,465 491,463 490,462 490,460 490,459 490,458 490,456 491,455 491,453 492,452 493,450 493,450M525,462C525,463 523,465 521,467 520,468 519,470 518,472 518,474 517,476 517,477 516,479 516,482 516,483M521,467C521,467 521,469 521,470 521,471 522,471 522,472 522,473 521,474 521,475 521,476 521,477 521,478M515,464C515,465 512,467 511,469 509,470 508,472 506,474 505,475 504,477 502,479 501,481 499,483 498,484M511,469C511,469 511,471 511,472 511,473 511,473 511,474 511,475 511,476 511,477 511,478 510,479 510,480M502,479C503,479 503,481 503,482 503,483 503,484 503,485 503,486 503,487 503,488 503,489 503,491 503,491M511,469C510,469 509,469 508,469 507,469 506,468 505,468 504,468 503,468 502,468 501,468 500,468 499,468M645,463C645,463 646,465 646,466 646,467 647,468 647,469 647,470 648,471 648,473 649,474 649,475 649,476M659,473C660,474 661,476 662,477 662,479 663,480 663,482 664,483 664,485 665,486 665,488 667,490 667,491M658,465C657,466 656,467 655,468 654,470 654,471 653,472 652,473 651,474 650,475 649,476 647,478 647,478M659,473C659,474 660,476 660,477 661,478 662,479 662,481 663,482 663,483 663,485 663,486 664,488 664,489M479,475C478,474 477,472 476,471 475,469 474,468 473,466 473,464 472,463 471,461 471,460 470,457 470,456M498,474C498,474 496,473 495,472 494,471 493,470 492,470 491,469 489,468 488,467 487,467 485,466 485,465M633,580C633,581 632,583 632,585 632,586 631,588 631,590 631,591 631,593 631,594 631,596 631,599 631,599M632,585C632,585 631,586 630,586 629,587 629,587 628,588 627,588 626,588 626,589 625,590 625,591 624,591M632,585C632,585 633,586 633,587 633,588 634,589 634,589 634,590 635,591 635,592 635,592 636,594 636,594M633,580C633,580 635,581 636,582 637,583 638,584 639,585 640,585 641,586 642,587 643,588 644,589 645,589M639,585C639,585 640,585 641,585 641,585 642,585 642,584 643,584 644,584 644,584 645,584 646,584 646,584M642,587C642,587 643,587 644,588 645,588 645,589 646,589 647,590 647,590 648,590 649,591 649,592 650,592M642,587C642,587 642,588 642,589 642,590 642,591 642,592 642,593 641,593 641,594 641,595 640,596 640,596M726,506C725,506 724,506 722,506 721,507 720,507 719,507 718,507 717,508 716,509 715,509 713,510 713,511M720,511C719,511 717,511 716,511 715,511 714,511 712,512 711,512 710,513 709,514 708,515 707,516 707,517M628,581C627,582 623,585 621,588 619,590 617,592 615,595 613,597 612,601 610,603 609,606 606,610 605,611M621,588C621,589 621,591 621,593 620,595 620,597 620,599 620,601 620,603 620,605 619,607 618,609 618,610M615,595C615,596 614,599 614,601 614,603 613,605 613,606 612,608 612,610 611,612 610,614 609,617 609,618M610,603C610,604 608,606 607,607 606,608 605,610 604,611 602,612 601,613 600,614 599,616 597,617 597,618M628,581C628,583 626,588 625,591 624,594 624,597 623,601 621,604 620,607 618,610 617,613 614,617 613,618M618,610C618,610 615,611 614,611 612,612 611,613 610,614 608,615 607,616 606,617 605,618 604,620 603,620M574,552C572,551 567,550 563,549 559,549 555,549 552,549 548,549 544,550 540,550 536,550 531,550 529,550M563,549C562,550 559,550 558,550 556,550 554,551 552,551 550,550 548,550 547,549 545,549 542,547 541,547M605,549C604,548 602,544 601,541 600,538 599,535 599,532 599,528 600,525 600,522 601,519 601,514 601,513M601,541C601,540 603,537 604,535 604,534 605,532 606,530 607,528 608,526 609,525 610,523 612,521 613,520M600,522C600,521 598,519 598,517 598,516 597,514 598,512 598,510 599,509 600,507 601,506 602,503 602,503M706,549C707,550 708,552 709,554 709,555 710,557 711,558 712,560 713,561 715,563 716,564 717,566 718,567M711,567C711,567 713,570 714,571 715,572 717,574 718,575 719,576 720,578 721,579 722,580 724,583 724,583M711,567C711,567 712,569 713,570 713,571 714,572 715,573 715,574 716,575 716,577 717,578 717,580 717,580M659,587C659,588 660,592 660,594 660,597 660,599 660,602 659,604 659,606 658,609 658,611 658,615 658,616M660,594C660,595 661,596 662,597 662,598 663,599 664,600 664,601 665,603 665,604 666,605 667,606 667,607M660,594C660,595 661,596 661,597 662,598 662,600 662,601 663,602 663,603 663,605 663,606 663,608 663,608M660,594C660,595 662,596 663,597 664,598 665,599 666,600 667,601 667,602 668,603 669,604 670,606 670,606M663,575C661,575 658,576 656,577 653,577 651,578 649,580 647,581 645,583 643,585 641,586 638,588 637,589M643,585C643,586 642,587 641,589 640,590 640,591 639,592 638,593 637,595 636,596 636,597 634,599 634,599M643,585C643,585 640,584 639,585 637,585 636,585 635,586 633,586 632,587 631,588 629,588 627,589 626,589M715,522C715,522 715,522 716,523 716,523 717,524 717,524 717,525 718,525 718,526 719,526 719,527 719,527M715,515C715,516 716,516 716,517 716,517 717,518 717,519 717,519 717,520 718,520 718,521 718,522 718,522M715,515C715,516 716,516 716,516 717,516 717,516 718,517 718,517 718,517 719,517 719,518 720,518 720,518M722,507C722,508 721,508 721,509 720,509 720,510 719,510 719,511 718,511 718,512 717,512 717,513 717,514M613,565C613,565 611,564 610,563 609,562 608,561 607,561 606,560 605,559 604,558 603,558 601,557 600,557M613,565C613,565 611,565 610,564 609,564 608,563 607,563 606,562 605,562 604,562 603,561 601,560 601,560M832,561C831,563 830,567 829,570 828,573 827,575 827,578 827,581 827,584 827,587 827,590 827,594 827,596M827,587C827,588 828,590 829,591 829,592 829,594 829,595 830,597 830,598 831,599 831,601 831,603 831,603M813,573C813,574 813,578 812,580 812,582 811,584 810,586 810,588 809,591 808,593 807,595 807,598 807,599M810,586C810,587 808,588 807,589 806,590 804,591 803,591 802,592 800,592 799,593 798,594 796,595 796,596M814,591C814,593 812,597 812,601 811,604 811,607 811,610 810,613 808,616 808,619 807,622 807,627 807,629M811,610C811,611 811,613 812,615 812,617 812,619 812,620 812,622 811,624 811,626 811,627 810,630 810,631M812,601C812,601 813,604 813,605 814,607 815,608 816,609 816,611 817,612 818,614 819,615 820,617 820,618M811,610C811,611 813,613 815,615 816,616 818,618 819,619 821,620 822,622 824,623 825,625 827,627 828,628M814,591C813,593 812,597 811,600 810,603 809,606 808,608 807,611 807,615 806,617 805,620 803,624 802,626M811,600C811,601 812,604 813,606 813,607 813,609 813,611 813,613 812,615 812,617 812,619 812,622 812,623M811,600C810,600 808,600 807,600 806,601 805,601 803,601 802,601 801,601 800,601 798,600 796,600 796,600M839,615C839,615 839,618 838,619 838,620 837,622 836,623 836,624 836,626 835,627 835,628 834,630 834,631M838,619C838,619 838,620 838,621 838,622 839,622 839,623 839,623 839,624 840,625 840,625 840,626 840,627M834,602C834,603 833,605 833,606 832,607 832,609 831,610 831,611 830,613 830,614 830,616 829,618 829,618M830,614C830,615 831,616 831,616 832,617 833,617 834,618 834,619 835,619 836,620 836,620 837,621 838,621M845,536C843,538 839,542 837,545 834,548 831,551 828,553 825,556 822,558 818,560 815,562 810,565 808,566M837,545C837,546 836,548 836,550 836,551 836,553 835,555 835,556 835,558 835,560 835,561 834,564 834,564M818,560C817,560 814,560 812,561 809,561 807,561 805,561 803,562 800,562 798,562 796,563 793,563 791,563M841,552C840,553 837,557 834,560 832,563 830,566 829,569 828,572 826,576 826,579 825,583 825,588 824,590M829,569C828,570 826,572 824,574 823,575 821,576 819,578 818,580 816,581 815,583 814,585 813,588 812,589M841,552C842,553 843,558 843,562 844,565 844,568 844,572 845,575 845,578 846,582 846,585 846,590 846,592M846,582C846,583 848,585 849,586 850,588 852,589 853,591 854,593 855,595 856,596 857,598 859,600 860,600M844,572C845,572 846,574 847,575 847,577 848,578 848,580 849,581 850,582 850,584 851,585 852,587 852,588M843,562C843,562 843,565 842,566 842,568 842,569 841,571 841,573 841,574 840,576 840,577 839,579 839,580M841,524C841,525 840,527 840,528 839,530 839,531 838,532 837,534 837,535 836,536 836,537 836,540 836,540M836,536C836,536 837,537 837,538 838,538 838,539 838,539 838,540 839,540 839,541 839,541 840,542 840,542M840,528C840,529 840,530 841,530 841,531 841,531 841,532 841,533 842,533 842,534 842,534 843,535 843,536M840,528C839,529 838,529 838,529 837,529 837,530 836,530 835,530 835,531 834,531 834,532 833,532 832,532M823,614C822,615 820,615 818,616 817,616 815,617 814,617 812,618 811,618 809,618 808,618 806,618 805,618M964,451C965,451 966,452 966,453 966,453 967,454 967,455 967,455 967,456 967,457 968,458 967,459 967,459M946,437C945,437 945,438 945,439 945,439 944,440 944,440 944,441 944,441 944,442 943,442 943,443 943,443M946,437C945,437 944,437 944,437 943,437 943,437 942,438 942,438 941,438 941,438 940,438 940,439 939,439M953,446C953,446 952,446 951,446 950,446 950,446 949,446 949,446 948,446 947,446 947,446 946,446 946,446M1023,469C1024,469 1027,469 1029,470 1031,470 1033,470 1035,471 1037,471 1039,472 1041,473 1042,474 1045,476 1046,476M1041,473C1041,473 1043,473 1044,472 1045,472 1046,471 1047,471 1048,470 1049,470 1050,469 1052,469 1053,469 1054,469M1041,473C1041,474 1041,475 1041,476 1042,477 1042,478 1042,478 1042,479 1042,480 1043,481 1043,482 1043,483 1043,483M1026,466C1026,467 1026,471 1026,473 1026,476 1027,478 1027,480 1028,483 1029,485 1030,487 1030,490 1031,493 1032,494M1026,473C1026,474 1025,476 1025,477 1025,478 1024,479 1024,480 1024,481 1023,482 1023,484 1023,485 1023,487 1023,487M1030,487C1029,488 1029,489 1028,490 1028,491 1028,492 1028,493 1028,494 1027,495 1027,496 1027,497 1027,499 1026,499M1026,473C1026,474 1026,475 1025,476 1025,477 1025,478 1024,479 1024,480 1023,481 1023,482 1023,483 1022,484 1022,484M1040,486C1040,487 1041,492 1040,495 1040,497 1040,500 1039,503 1039,506 1039,509 1039,512 1039,514 1039,519 1039,520M1039,512C1039,512 1038,514 1038,516 1037,517 1037,519 1037,520 1036,521 1036,523 1035,524 1035,526 1035,528 1035,528M1039,503C1040,504 1041,506 1042,507 1043,508 1044,510 1044,511 1045,512 1046,513 1047,515 1048,516 1049,518 1049,519M1039,512C1039,512 1040,515 1041,516 1041,518 1041,519 1041,521 1041,522 1040,524 1040,525 1040,527 1040,529 1039,530M1036,487C1035,488 1033,490 1032,492 1032,494 1031,496 1031,498 1030,500 1029,502 1028,504 1027,506 1026,509 1025,510M1031,498C1031,499 1032,501 1032,502 1033,503 1033,504 1033,506 1034,507 1034,508 1034,510 1034,511 1034,513 1034,513M1031,498C1030,498 1029,499 1028,499 1027,500 1027,500 1026,500 1025,501 1024,501 1024,502 1023,502 1022,503 1021,503M1110,475C1111,475 1114,474 1115,474 1117,474 1118,475 1120,475 1121,476 1123,477 1124,477 1125,478 1127,480 1128,480M596,467C597,469 598,475 600,479 601,483 603,487 604,491 606,495 607,499 608,503 608,507 607,513 607,515M600,479C600,480 603,483 604,486 604,488 605,491 605,493 606,496 606,498 606,501 607,503 607,507 607,508M600,479C599,480 597,483 596,484 595,486 594,488 593,490 592,492 592,494 591,496 591,498 591,501 590,502M600,479C601,479 603,481 605,481 607,482 608,483 610,483 612,484 614,484 616,484 617,484 620,485 621,485M580,463C578,463 574,464 572,464 570,465 567,466 565,467 563,468 561,470 559,472 557,473 554,475 553,476M559,472C559,473 559,475 558,476 558,478 557,479 557,480 557,482 557,483 557,484 557,486 558,488 558,489M572,464C572,464 570,464 569,464 568,463 567,463 566,463 565,462 564,462 563,461 562,461 560,461 560,460M572,464C571,464 570,463 568,463 567,463 566,463 564,463 563,463 562,462 560,462 559,462 557,462 556,463M580,463C579,464 577,468 575,470 574,472 572,474 571,476 570,479 570,481 569,484 569,486 569,490 569,492M575,470C575,470 573,470 571,471 570,471 569,472 567,472 566,473 565,474 564,475 563,476 561,477 560,477M569,484C569,484 567,486 566,487 565,488 563,489 562,490 561,492 560,493 559,494 558,496 557,498 557,498M569,484C569,485 569,487 568,488 567,489 567,491 566,492 565,493 565,494 564,495 563,497 562,498 561,499M551,475C551,476 551,480 550,483 549,485 548,488 547,490 547,493 546,496 546,498 546,501 547,505 547,506M547,490C548,491 549,492 550,493 551,494 552,495 553,497 554,498 554,499 555,500 556,501 557,503 557,504M547,490C547,491 545,492 544,493 543,494 542,495 541,496 540,497 539,498 538,499 537,501 537,503 536,503M550,483C550,484 551,486 552,488 552,489 553,491 554,492 554,494 555,495 556,497 557,498 558,501 559,501M605,460C605,460 603,463 601,464 600,466 598,467 597,468 595,470 593,471 591,471 590,472 587,473 586,474M597,468C596,468 595,468 594,468 592,468 591,468 590,468 589,468 588,469 587,469 586,469 585,469 584,469M601,464C601,465 600,466 600,467 600,468 599,469 599,470 599,471 599,472 598,473 598,474 597,475 597,475M601,464C601,465 601,466 601,467 600,468 600,470 600,471 600,472 599,473 599,474 599,475 598,476 598,477M605,460C605,460 603,462 602,463 601,465 600,466 599,467 598,468 597,470 596,471 595,472 594,474 594,475M599,467C599,468 598,469 598,470 598,471 597,472 597,473 596,474 596,475 595,476 595,477 594,478 594,479M602,463C602,464 601,464 600,465 599,465 598,466 598,466 597,467 596,467 595,468 594,468 593,469 593,469M605,460C606,460 607,463 607,465 608,467 608,469 608,471 608,472 609,474 609,476 609,478 609,481 608,482M607,465C607,465 606,466 606,467 606,468 605,469 605,470 605,471 605,472 605,473 605,474 605,475 605,475M607,465C608,465 608,466 608,467 608,468 609,468 609,469 609,470 609,471 609,472 609,472 609,473 609,474M609,476C609,477 610,478 610,479 611,481 611,482 612,483 612,484 613,485 614,486 614,487 615,488 616,489M543,459C541,460 537,463 533,464 530,465 526,465 523,465 519,465 515,465 512,463 509,462 505,458 503,457M523,465C522,466 519,468 517,469 515,469 512,469 510,469 508,469 506,469 504,469 501,469 498,467 497,467M523,465C522,465 520,465 518,465 517,465 515,465 514,465 513,464 511,464 510,464 508,464 506,463 506,463M543,459C542,458 538,455 536,453 534,450 532,447 530,444 529,441 528,438 527,435 526,432 525,429 525,428M530,444C530,444 528,442 528,440 527,439 526,438 526,436 525,434 525,433 525,431 525,430 525,429 525,428M536,453C535,452 533,450 532,448 530,446 529,445 528,443 527,441 526,439 526,437 525,435 524,432 524,431M543,459C542,459 537,460 535,460 532,459 529,459 527,458 524,457 522,455 520,453 518,451 516,448 515,447M520,453C519,453 518,452 517,452 516,451 515,450 514,449 514,448 513,447 513,446 512,445 512,443 512,442M535,460C535,459 534,458 533,457 533,456 532,455 532,453 532,452 532,451 532,450 532,449 532,447 532,447M527,458C527,457 527,455 527,454 527,452 527,451 527,450 527,448 527,447 528,446 528,445 529,443 530,442M599,467C600,468 600,473 601,477 601,480 602,483 603,487 603,490 604,493 606,496 607,499 609,504 610,505M606,496C606,497 608,498 610,499 611,500 613,501 614,502 616,503 617,504 618,505 619,507 620,509 620,510M603,487C603,487 604,489 605,490 606,491 607,492 608,493 609,495 610,496 611,497 611,498 612,500 613,500M601,477C601,477 600,480 600,481 600,483 599,484 599,486 599,487 598,489 598,490 598,492 598,494 598,495M602,483C602,484 601,486 600,488 599,490 599,492 598,494 597,496 596,498 595,500 594,501 593,504 593,505M598,494C598,494 596,495 596,496 595,496 595,497 594,498 594,499 593,499 593,500 592,501 592,502 591,502M600,488C600,489 599,489 598,489 597,490 596,490 595,491 594,491 594,491 593,492 592,492 591,493 591,493M602,473C601,474 598,476 596,477 594,478 592,479 590,480 588,482 586,483 584,484 582,485 579,487 578,487M584,484C584,484 582,484 581,484 580,484 579,485 578,485 577,485 576,485 575,486 574,486 572,487 572,487M596,477C596,478 595,480 594,481 593,482 593,484 593,485 592,487 591,488 591,489 590,491 590,493 590,493M605,455C605,456 605,459 606,461 606,463 607,465 607,467 607,469 607,471 607,473 607,475 606,478 606,479M606,461C606,462 605,463 605,464 605,465 605,466 604,467 604,468 604,469 603,470 603,471 602,472 602,473M606,461C605,461 604,463 604,463 603,464 603,465 602,466 602,467 601,468 601,469 600,469 599,471 599,471M555,505C554,506 550,507 548,509 545,510 543,510 541,512 538,513 536,515 534,517 532,519 529,522 528,523M541,512C540,513 540,515 540,516 540,517 540,519 540,520 540,522 539,523 539,524 539,526 539,528 539,529M534,517C534,518 533,520 533,521 532,523 532,524 531,526 531,527 530,529 529,530 529,532 528,534 528,535M549,515C548,516 548,521 548,524 547,526 547,529 547,532 547,535 547,538 547,541 547,543 546,548 546,549M547,541C547,541 545,544 545,545 544,547 544,549 543,550 543,552 542,554 542,556 542,557 542,560 542,561M542,488C542,489 542,490 542,491 542,492 542,493 542,494 542,495 542,496 542,497 541,498 541,499 540,500M553,482C553,482 551,481 550,481 549,481 548,480 547,480 546,480 545,480 544,480 543,480 541,480 541,480M547,485C547,485 546,487 545,488 544,488 542,489 541,490 540,491 539,491 538,492 537,493 536,495 536,495M998,543C998,544 998,547 998,549 998,551 998,553 998,555 998,557 997,559 997,561 996,563 995,566 994,567M998,555C998,556 997,557 996,558 995,559 994,560 993,561 992,562 991,563 990,564 989,565 988,566 988,567M997,561C997,562 997,563 998,564 998,565 998,566 999,567 999,568 999,569 999,569 1000,570 1000,572 1001,572M998,555C998,555 999,557 999,558 999,559 1000,560 1000,561 1000,562 1001,563 1001,565 1001,566 1001,567 1001,568M1004,553C1005,554 1005,558 1005,560 1005,563 1006,565 1006,567 1006,570 1007,572 1007,575 1007,577 1007,581 1006,582M1007,575C1007,575 1008,576 1008,577 1009,578 1009,580 1009,581 1009,582 1010,583 1010,584 1010,585 1010,586 1010,587M989,534C989,535 991,539 992,542 993,544 993,547 994,549 995,552 996,555 997,557 998,560 1000,563 1001,564M997,557C997,558 996,560 996,561 996,563 995,564 994,565 994,567 993,568 992,569 991,570 990,572 989,572M997,557C997,558 999,559 1001,560 1002,560 1004,561 1005,562 1006,563 1007,564 1008,565 1009,566 1010,568 1011,569M979,518C979,519 980,523 981,525 982,527 983,529 983,532 984,534 985,536 986,538 986,540 988,544 988,545M981,525C981,525 982,527 983,529 984,530 984,532 985,533 986,534 987,536 987,537 988,538 989,541 989,541M986,538C985,539 985,541 985,543 985,544 985,545 984,547 984,548 983,550 983,551 982,552 982,555 982,555M962,501C963,501 967,500 969,500 972,499 974,499 977,499 979,498 981,498 984,497 986,496 989,495 991,495M984,497C984,497 985,495 986,495 987,494 988,493 989,493 990,492 991,492 992,492 993,491 995,491 995,491M969,500C970,500 971,501 972,501 973,502 974,503 975,503 976,504 977,505 978,505 979,506 980,507 981,507M984,497C984,497 986,498 988,498 989,499 991,499 992,499 994,499 995,500 997,500 998,501 1000,502 1001,502M979,518C980,518 984,518 986,519 988,519 991,519 993,519 995,519 997,520 999,521 1002,521 1005,522 1006,522M999,521C1000,521 1000,522 1001,523 1001,524 1002,525 1002,526 1003,526 1003,527 1004,528 1005,528 1006,529 1006,530M955,502C956,503 959,505 961,506 963,507 965,509 967,511 969,512 971,513 973,515 975,516 978,518 979,519M967,511C967,511 968,513 968,515 968,516 969,518 969,519 969,521 969,522 969,524 969,525 969,528 969,528M977,502C977,502 978,504 978,505 979,506 979,507 980,509 980,510 980,511 981,512 981,513 982,515 982,516M980,509C980,509 981,509 982,510 983,510 983,510 984,511 985,511 986,511 986,512 987,512 988,513 988,513M957,553C956,554 954,557 953,558 951,560 950,562 948,564 946,565 945,567 943,568 941,570 939,572 938,573M948,564C947,564 945,564 944,564 943,564 942,564 940,565 939,565 938,565 937,565 936,565 934,566 933,566M943,568C943,569 943,571 943,572 943,573 943,574 943,575 943,576 943,577 942,578 942,579 941,580 941,581M948,564C948,564 948,566 947,567 947,568 947,569 947,570 947,571 947,572 947,573 946,574 946,576 946,576M961,543C960,543 957,546 955,547 952,548 950,550 948,551 946,552 944,553 942,555 940,556 936,558 935,559M948,551C948,551 946,551 945,551 944,551 943,551 941,551 940,551 939,552 938,552 937,553 936,553 935,553M948,551C948,551 947,553 947,554 947,555 946,555 946,556 945,557 945,558 945,559 945,560 945,562 945,562M957,553C956,554 954,556 953,558 951,559 949,560 947,561 945,562 944,564 942,566 941,567 938,569 937,570M942,566C941,566 940,566 938,567 937,567 935,567 934,567 933,567 931,567 930,567 928,567 926,568 926,568M947,561C946,561 945,561 943,561 942,561 941,561 940,562 939,562 938,562 936,563 935,563 934,564 933,564M958,511C958,512 957,514 956,516 955,517 955,519 954,520 953,521 953,523 952,524 952,526 951,528 951,529M954,520C954,520 954,522 954,522 955,523 954,524 954,525 954,526 954,526 954,527 954,528 953,529 953,529M1005,564C1005,565 1005,567 1004,569 1004,571 1003,573 1003,574 1002,576 1001,577 1000,579 999,580 997,582 997,583M587,492C586,490 583,485 582,481 581,478 581,473 581,470 581,466 582,462 584,458 585,454 588,449 589,448M582,481C583,480 584,478 585,476 586,474 587,472 587,470 588,469 588,467 589,465 590,463 591,460 591,459M581,470C582,469 584,466 586,465 587,464 589,463 591,463 593,462 596,462 598,462 600,461 603,460 604,460M581,470C582,469 583,466 584,464 585,462 586,459 587,457 588,455 589,454 590,452 591,450 593,446 593,445M616,497C614,497 610,499 607,499 604,500 601,499 598,498 595,497 592,495 590,493 587,491 583,488 582,487M598,498C597,498 595,499 593,499 592,499 590,498 589,497 587,497 586,496 584,496 583,495 581,494 580,494M598,498C597,498 595,498 593,497 592,497 590,497 589,496 587,496 586,495 585,494 584,494 582,492 582,491M607,499C606,500 604,500 602,500 600,501 599,501 597,501 595,501 594,500 592,500 590,500 588,499 587,498M567,501C565,500 561,498 559,496 556,495 553,493 550,492 547,491 544,491 541,490 538,489 534,487 532,486M559,496C558,496 558,493 558,492 558,490 558,488 558,487 559,485 560,484 561,482 562,481 563,479 564,478M550,492C549,492 547,493 546,493 544,493 543,493 541,493 540,493 538,492 537,492 535,491 533,490 533,490M550,492C549,492 546,492 545,492 543,492 541,491 540,491 538,490 536,490 535,489 533,488 531,486 530,486M578,522C576,522 571,522 568,523 565,524 563,525 560,527 558,529 555,531 553,533 551,536 548,540 547,541M568,523C568,524 567,526 566,528 565,530 565,532 564,534 564,535 563,537 563,539 562,541 561,544 561,545M592,517C592,519 591,524 591,527 590,531 590,534 590,538 589,541 588,544 587,547 586,551 584,555 583,557M587,547C587,548 587,551 587,552 587,554 587,555 587,557 587,558 587,560 588,561 588,563 589,565 589,566M587,547C586,548 584,551 583,552 582,554 581,556 580,557 579,559 578,561 577,562 576,564 574,566 573,566M591,527C590,528 589,531 588,532 587,533 586,535 585,536 583,537 582,539 580,540 579,541 577,542 576,543M568,512C566,512 562,509 558,508 555,507 552,505 549,504 545,503 542,503 538,503 535,503 529,504 528,504M558,508C558,507 557,505 557,503 557,501 557,500 557,498 557,496 556,495 556,493 556,491 556,489 556,488M538,503C537,504 535,507 534,508 533,510 531,511 529,513 528,514 526,516 525,517 523,519 521,521 520,522M582,511C581,510 577,507 574,506 571,504 568,502 564,501 561,500 558,499 554,499 551,499 546,500 544,500M564,501C564,500 562,498 562,496 562,494 562,492 562,490 563,488 564,486 565,484 566,483 567,480 568,479M564,501C563,502 560,503 558,503 556,504 554,504 552,504 550,504 548,504 546,503 544,502 541,500 540,499M554,499C553,499 551,497 549,497 547,496 545,496 543,495 541,495 539,494 537,494 535,493 532,493 531,493M554,513C552,513 546,513 542,513 538,513 534,512 530,512 527,512 523,511 519,512 515,512 509,513 507,514M519,512C518,511 515,509 513,508 511,507 509,506 507,505 505,504 503,503 501,503 499,502 495,502 494,502M542,513C541,512 539,510 538,509 537,507 537,505 536,503 535,502 535,500 534,498 534,496 534,493 534,492M594,542C593,543 592,547 590,550 588,552 586,554 584,556 581,558 579,561 577,562 574,564 570,566 569,567M577,562C576,562 574,562 572,563 570,563 569,563 567,564 566,565 564,566 563,566 562,567 559,568 559,569M577,562C576,562 574,562 572,563 571,563 569,563 568,563 566,564 565,564 564,565 562,565 560,565 559,566M611,525C611,527 611,530 611,533 611,535 610,538 610,540 609,543 610,546 610,548 610,551 610,554 611,556M610,540C609,541 608,543 607,544 607,546 606,547 606,549 606,550 605,552 605,553 605,555 605,557 604,558M610,548C610,549 612,550 613,551 613,552 614,553 615,554 616,555 616,556 617,557 618,558 618,560 619,561M610,548C610,549 609,551 609,552 608,553 608,554 607,555 607,557 607,558 607,559 606,560 606,562 606,563M594,542C593,542 589,543 587,543 584,544 582,546 580,547 578,548 576,549 573,550 571,551 567,552 566,552M580,547C579,547 578,547 577,547 576,547 574,548 573,548 572,549 572,550 571,550 570,551 569,552 568,553M587,543C587,544 586,546 585,547 585,549 585,550 585,551 584,553 583,554 583,555 583,557 582,559 582,559M596,521C596,522 596,523 595,525 595,526 594,527 594,528 593,529 593,530 593,532 592,533 592,535 592,535M591,525C591,526 591,528 591,529 591,530 591,531 591,532 591,533 592,534 592,535 592,536 593,538 593,538M591,525C591,526 590,528 590,529 590,531 590,532 589,533 589,534 588,536 588,537 587,538 587,540 587,541" stroke-width="2.4"/><path d="M500,441C499,443 495,448 493,451 490,455 488,458 485,461 483,464 481,468 479,472 477,475 475,479 473,483 471,486 469,492 468,494M662,454C662,455 661,457 661,458 661,459 660,460 660,461 659,462 659,463 658,464 658,465 657,467 657,468M666,450C666,450 666,452 665,453 665,454 665,455 664,456 664,456 663,457 662,458 662,459 661,460 661,461M674,443C673,443 672,443 672,443 671,443 670,444 669,444 669,444 668,444 667,445 667,445 666,445 665,446M471,453C470,453 467,452 465,452 463,452 461,453 459,453 457,454 455,455 453,456 452,457 449,458 448,459M461,455C460,455 458,454 456,453 455,453 453,453 452,453 450,452 449,452 447,453 446,453 444,454 443,454M461,455C460,456 459,458 458,459 458,461 457,462 456,463 456,465 455,466 454,468 454,469 453,471 453,472M656,497C656,498 656,500 656,501 656,502 656,504 656,505 656,506 656,507 656,509 657,510 656,512 656,512M657,489C657,489 655,491 655,492 654,493 653,494 653,495 652,496 652,497 651,498 651,499 650,501 650,502M495,517C494,517 492,517 491,517 490,517 488,517 487,517 486,517 485,518 484,519 482,519 481,520 480,521M501,513C501,513 500,515 500,516 500,517 500,518 499,519 499,521 499,522 499,523 499,524 500,526 500,526M501,513C501,514 500,516 500,517 500,519 499,520 499,522 498,523 498,525 497,526 496,527 495,529 495,530M691,447C690,446 689,445 689,445 688,444 687,444 686,443 685,443 684,442 684,442 683,441 681,441 681,441M691,447C690,447 688,447 687,447 686,447 684,447 683,447 682,447 681,447 680,448 678,448 677,449 676,449M639,508C640,509 640,514 640,517 640,519 640,522 640,525 640,528 640,531 640,533 640,536 641,540 641,542M670,484C668,485 665,488 663,490 661,492 658,494 656,497 654,499 653,502 651,504 649,507 646,510 645,511M738,444C738,445 739,447 739,448 739,449 739,451 739,452 739,453 739,454 739,456 739,457 739,459 739,459M736,450C736,450 737,451 738,452 738,453 738,454 739,455 739,456 739,457 740,458 740,458 740,460 740,460M723,448C724,449 724,450 725,451 725,452 725,453 726,454 726,455 727,456 727,457 728,458 728,460 728,460M723,448C724,449 725,450 725,452 726,453 726,454 727,455 728,456 728,457 729,458 730,459 731,460 731,461M735,444C734,444 733,445 732,446 731,447 730,448 729,448 728,449 728,450 727,451 727,452 726,454 726,455M735,444C735,444 734,445 734,446 733,447 733,448 733,449 732,449 732,450 732,451 732,452 731,453 731,453M669,522C668,522 667,525 667,526 666,527 666,529 665,530 664,532 663,533 663,535 662,536 661,538 660,539M667,508C668,508 670,510 671,511 673,512 674,513 675,514 676,515 678,516 679,517 680,518 682,520 682,521M656,535C655,535 653,538 651,540 649,541 647,543 645,544 643,546 642,548 640,549 638,551 635,553 634,553M662,514C662,515 663,518 664,520 665,522 665,525 666,527 667,529 668,531 668,533 669,535 671,538 671,539M666,504C665,504 663,506 662,508 661,509 659,510 658,512 657,513 657,515 656,517 655,519 653,521 653,522M733,456C732,456 732,457 731,458 731,459 730,460 729,460 729,461 728,462 727,462 726,463 725,464 725,464M733,456C732,456 731,455 730,455 729,455 728,454 727,454 726,454 725,453 724,453 723,453 721,452 721,452M739,454C738,454 737,456 737,457 736,458 736,459 735,460 735,461 735,462 735,463 734,464 734,466 734,466M749,449C749,449 748,447 748,446 748,445 748,444 748,443 747,442 747,441 747,440 747,439 746,438 746,437M749,449C748,449 748,447 747,446 747,445 746,444 746,443 746,442 746,441 746,440 746,439 746,437 746,437M761,452C761,452 759,453 758,454 757,454 756,455 755,456 754,456 753,457 752,458 751,458 750,459 750,460M754,464C753,464 752,465 750,466 749,467 748,467 746,467 745,468 744,469 743,469 741,470 740,472 739,472M738,504C737,504 736,504 734,504 733,504 732,505 731,505 730,505 728,505 727,505 726,505 724,506 724,506M738,504C738,504 738,506 738,507 738,508 738,508 738,509 738,510 738,511 737,512 737,513 737,515 737,515M728,497C728,497 725,497 724,497 722,497 720,496 719,496 718,495 716,494 715,493 714,491 713,490 712,489M728,497C728,496 726,495 726,494 725,493 724,491 724,490 723,489 722,488 722,487 721,485 721,483 721,483M736,497C735,497 734,496 734,495 733,494 732,493 732,491 731,490 731,489 731,488 731,487 731,485 731,484M703,579C702,581 696,586 693,590 690,594 689,598 686,602 683,606 679,609 676,613 672,616 668,619 664,622 661,626 656,631 654,633M783,579C783,581 783,587 783,590 782,594 781,597 780,600 779,604 778,607 777,611 775,614 773,616 771,620 769,623 767,628 767,629M849,519C849,519 849,521 849,523 849,524 849,525 849,526 849,528 849,529 850,530 850,531 850,533 850,534M839,542C839,543 839,546 839,548 838,550 838,552 838,554 837,555 838,557 837,559 837,561 837,564 837,565M837,533C837,533 836,536 835,538 833,540 832,541 831,542 829,544 829,546 828,548 827,549 824,551 824,552M766,455C765,456 764,457 763,458 762,459 761,460 760,461 759,461 758,462 757,464 756,465 755,467 755,467M773,452C772,452 771,451 769,451 768,451 767,451 766,451 765,451 764,452 763,452 761,452 760,453 759,453M780,448C779,448 777,448 776,448 774,448 773,447 772,447 770,447 769,447 768,448 766,448 764,448 763,448M888,532C887,533 887,537 886,539 885,541 884,543 883,546 882,548 882,550 882,553 881,555 880,559 880,560M894,465C895,466 898,467 899,468 901,468 902,469 904,470 905,470 907,471 908,472 910,472 912,474 913,474M904,466C905,466 906,465 908,464 909,463 910,462 911,462 912,461 913,460 914,459 915,458 917,457 918,457M900,459C900,459 902,461 904,462 905,463 906,464 908,465 909,466 911,467 912,468 913,469 915,471 915,472M907,476C907,477 907,479 907,481 907,483 906,485 906,487 906,488 906,490 905,492 905,494 905,497 905,497M938,474C939,475 940,477 941,478 941,479 942,480 943,481 944,482 945,483 945,484 946,485 947,486 948,487M940,482C941,483 942,485 943,486 943,488 944,489 945,490 946,492 946,493 947,495 947,496 947,498 947,499M936,466C937,467 938,467 940,468 941,468 942,468 943,469 944,469 945,470 946,470 947,471 948,472 949,472M922,462C922,463 920,464 920,466 919,467 918,468 917,469 917,471 916,472 915,473 914,475 913,477 913,477M985,502C985,502 984,503 984,504 984,505 983,505 983,506 982,507 982,507 982,508 981,509 981,510 981,510M1083,507C1084,508 1088,511 1091,513 1093,515 1095,518 1097,520 1099,523 1101,525 1103,528 1105,530 1107,533 1109,535 1111,538 1114,541 1115,543M1090,526C1091,526 1096,527 1099,528 1102,528 1105,527 1108,528 1111,528 1114,528 1117,528 1120,528 1124,527 1126,527M1112,549C1114,549 1120,550 1124,551 1128,552 1131,554 1135,556 1139,557 1143,558 1147,559 1151,560 1156,563 1158,564M1112,549C1111,550 1110,555 1109,558 1108,561 1108,564 1108,567 1108,570 1107,573 1107,576 1107,579 1108,584 1108,585M918,473C919,473 922,474 924,474 926,475 927,475 929,476 931,476 933,477 935,478 937,479 939,480 940,481M1147,521C1147,521 1149,522 1150,523 1151,524 1151,526 1152,527 1153,528 1153,529 1154,530 1155,531 1155,533 1156,534M1147,521C1148,521 1150,520 1152,520 1154,520 1155,520 1157,520 1158,520 1160,521 1162,521 1163,522 1165,524 1166,524M1106,492C1107,493 1108,497 1110,499 1111,501 1112,503 1114,505 1115,507 1117,509 1118,511 1120,512 1122,514 1123,516 1125,518 1127,521 1128,522M947,460C946,460 944,461 942,461 941,461 939,462 938,462 936,462 935,463 933,463 932,464 930,464 929,464M958,450C957,450 955,450 954,451 953,451 951,452 950,452 949,453 948,453 947,454 945,454 944,455 943,456M955,471C955,471 953,473 953,474 952,475 951,476 951,478 950,479 950,480 950,482 950,483 949,485 949,486M955,471C955,471 956,473 956,474 957,475 957,476 957,478 957,479 957,480 957,481 957,482 957,484 957,485M1006,531C1006,532 1007,534 1008,535 1008,536 1008,538 1009,539 1009,540 1010,541 1011,542 1012,544 1013,545 1014,546M1013,534C1013,534 1016,533 1018,533 1020,533 1022,533 1024,533 1025,533 1027,534 1029,534 1031,535 1033,536 1034,536M1062,530C1063,531 1069,532 1072,534 1075,536 1078,538 1082,540 1085,542 1088,544 1091,546 1094,548 1097,551 1100,553 1103,555 1108,557 1109,558M1082,528C1084,528 1091,530 1096,531 1100,532 1105,532 1110,533 1114,535 1119,537 1123,540 1127,542 1131,545 1135,547 1139,550 1146,553 1148,554M1069,529C1070,530 1073,532 1075,534 1076,535 1078,537 1080,539 1082,540 1084,541 1085,543 1087,545 1088,547 1089,549 1091,551 1092,554 1092,556M890,458C891,458 897,458 900,459 904,460 907,461 910,463 913,465 916,467 918,469 921,472 925,476 926,477M878,453C878,454 881,456 882,458 883,460 883,463 884,465 885,467 886,469 887,471 888,473 889,476 889,477M890,458C891,458 896,457 900,456 903,455 906,454 910,453 913,453 917,453 920,453 924,452 929,451 931,451M554,458C553,460 548,466 545,471 542,475 539,479 537,484 535,489 534,494 533,499 532,504 532,510 531,515 530,520 528,528 527,530M530,464C527,464 520,465 515,465 511,464 506,463 501,463 496,463 491,464 487,465 482,465 477,466 472,466 468,467 461,469 458,469M535,462C534,462 529,462 525,462 522,463 519,464 515,464 512,465 509,465 506,466 503,467 499,468 496,469 493,470 489,472 487,472M656,444C655,445 653,448 651,450 650,452 649,454 648,456 647,458 646,460 645,463 644,465 643,469 643,470M655,458C656,459 657,463 658,465 659,468 659,470 659,473 659,476 659,478 659,481 659,484 659,488 659,489M635,557C635,559 634,562 633,565 633,567 633,570 633,572 633,575 633,577 633,580 633,582 633,585 634,587 634,590 634,594 635,595M737,493C736,494 733,497 731,499 729,501 728,504 726,506 724,508 722,509 720,511 718,513 715,515 714,516M643,555C642,557 639,564 636,568 634,573 631,577 628,581 625,585 622,589 619,593 616,597 613,601 610,606 607,610 603,616 602,618M635,557C633,557 625,555 620,553 615,552 610,550 605,549 600,548 595,548 590,548 584,549 579,551 574,552 569,553 562,554 559,554M707,540C707,541 706,546 706,549 707,552 707,555 708,558 709,561 710,564 711,567 712,570 712,574 712,576M678,541C677,543 674,548 672,551 670,555 667,559 666,562 664,566 664,571 663,575 662,579 660,583 659,587 658,591 657,597 657,599M715,512C714,513 714,514 714,515 714,516 714,517 715,518 715,519 715,521 715,522 715,523 715,524 715,525M715,512C715,513 715,514 715,515 715,517 716,518 716,519 716,520 716,521 717,522 717,523 718,525 718,525M722,503C722,503 722,506 722,507 722,509 722,510 721,512 721,514 721,515 721,517 720,518 719,521 719,521M629,559C628,560 624,562 622,563 619,564 616,565 613,565 611,566 608,566 605,566 602,566 598,566 596,566M840,555C839,556 835,559 832,561 829,564 826,566 823,568 820,570 817,571 813,573 810,575 807,577 804,579 801,581 797,585 796,586M834,575C832,576 827,580 824,583 821,586 817,589 814,591 810,594 806,595 803,598 799,600 796,603 793,606 790,609 786,614 784,616M830,589C830,590 831,594 832,596 832,598 834,600 834,602 835,604 836,606 837,608 837,611 838,613 839,615 840,617 842,620 842,621M847,505C847,508 847,516 847,521 847,526 846,531 845,536 844,541 843,547 841,552 840,557 839,562 837,567 835,572 831,578 830,581M826,599C826,601 825,604 825,607 824,609 824,612 823,614 822,617 820,619 819,621 818,623 816,627 816,628M957,448C958,448 960,449 961,449 962,450 963,450 964,451 966,452 967,452 968,453 969,454 971,455 971,455M949,432C949,432 948,434 948,435 947,435 946,436 946,437 945,438 944,439 943,439 942,440 941,441 941,441M954,443C954,443 953,445 953,446 952,447 952,448 951,449 951,450 950,450 949,451 948,452 948,454 947,454M1017,448C1018,450 1022,454 1024,457 1026,459 1028,463 1029,466 1031,469 1032,473 1033,476 1034,480 1035,483 1036,487 1037,490 1037,496 1038,497M1100,471C1102,471 1107,473 1110,475 1114,476 1117,477 1120,478 1124,479 1128,479 1131,480 1135,481 1140,482 1142,483M590,461C588,461 583,462 580,463 576,464 574,466 570,468 567,469 564,469 560,470 557,471 554,473 551,475 548,476 543,477 542,478M590,461C587,461 579,463 574,463 569,463 564,463 558,462 553,461 548,460 543,459 538,459 533,459 527,459 522,459 514,460 512,460M601,452C601,454 601,462 599,467 598,471 595,476 594,480 593,485 592,490 591,495 591,500 590,505 589,510 588,515 586,522 586,524M570,473C569,475 567,480 566,484 564,488 562,491 560,495 559,498 557,502 555,505 553,509 551,512 549,515 546,518 543,523 541,525M559,479C558,480 555,481 553,482 551,483 549,484 547,485 546,486 544,487 542,488 541,490 539,492 538,493M971,517C973,518 977,522 980,525 983,528 986,531 989,534 992,537 995,539 998,543 1000,546 1002,549 1004,553 1007,556 1011,561 1012,563M955,492C956,493 959,498 962,501 965,504 968,507 971,509 974,512 976,515 979,518 982,521 985,524 988,526 991,529 996,532 997,533M955,492C955,493 954,498 955,502 955,505 956,509 957,512 958,515 959,519 961,522 962,525 964,527 966,530 968,533 971,538 972,539M953,488C954,488 956,491 958,492 960,493 962,495 964,496 966,497 969,498 971,499 973,500 975,501 977,502 979,503 982,504 983,505M967,511C967,512 966,518 966,521 965,525 965,529 964,532 963,536 962,539 961,543 960,546 958,550 957,553 956,557 956,562 955,564M955,492C955,493 956,496 956,498 957,500 957,503 957,505 958,507 958,509 958,511 959,514 959,516 959,518 960,520 961,523 961,525M989,542C990,543 993,547 994,549 996,552 998,554 999,557 1001,559 1003,561 1005,564 1007,566 1009,570 1010,571M630,499C628,499 621,498 616,497 611,496 606,495 602,494 597,493 592,493 587,492 582,491 577,490 573,490 568,490 560,492 558,492M619,508C617,508 610,507 606,507 602,506 597,505 593,505 589,504 584,503 580,503 575,502 571,501 567,501 562,501 556,501 554,501M608,514C605,515 597,516 592,517 587,518 582,520 578,522 573,524 568,526 564,529 560,531 555,534 551,537 547,540 540,545 538,546M611,512C609,512 601,513 597,513 592,512 587,511 582,511 578,511 573,512 568,512 563,513 558,512 554,513 549,514 542,517 540,518M623,505C622,507 619,512 617,515 615,518 613,522 611,525 609,528 606,531 603,534 600,537 597,539 594,542 591,545 587,549 586,550M602,517C601,518 598,520 596,521 594,522 592,524 591,525 589,527 587,529 586,530 584,532 583,535 582,536" stroke-width="2.9"/><path d="M635,439C634,438 631,436 629,435 627,434 625,433 623,432 621,431 620,429 618,428 616,428 613,428 612,428M638,458C637,458 635,461 633,462 631,463 630,465 628,466 626,468 625,469 624,471 622,472 620,475 620,476M638,458C637,458 633,459 631,460 629,461 627,462 625,463 622,464 620,465 618,466 616,467 613,469 612,469M622,465C621,465 618,466 616,466 615,467 613,468 611,469 610,470 609,472 607,473 606,474 604,476 603,476M481,449C479,450 474,452 471,453 468,454 464,454 461,455 457,456 454,458 451,459 447,461 443,463 441,464M669,437C668,437 668,438 667,438 666,438 665,439 665,439 664,440 664,440 663,441 663,442 662,443 662,443M666,441C666,441 666,443 666,444 667,445 667,445 667,446 668,447 668,448 669,449 669,449 670,451 670,451M672,431C672,431 671,432 671,433 671,433 671,434 671,435 670,435 670,436 670,437 670,437 670,439 670,439M653,471C654,473 655,477 656,480 657,483 657,486 657,489 657,491 656,494 656,497 655,500 653,504 653,506M735,448C734,449 733,451 733,452 733,454 732,455 732,457 732,458 731,459 731,461 731,462 731,464 731,465M735,448C735,449 737,450 738,450 739,451 739,452 740,453 741,454 741,455 742,456 743,457 744,459 744,459M663,450C662,451 661,452 660,453 659,454 659,456 658,457 657,458 657,459 657,461 656,462 656,464 656,465M648,478C649,479 650,480 651,481 651,482 652,483 653,484 654,485 654,486 655,487 656,488 656,490 657,491M648,485C647,486 646,486 644,487 643,487 642,488 641,489 640,489 639,490 638,491 637,492 635,494 635,494M648,478C649,478 650,480 651,481 652,482 653,483 654,484 655,485 656,486 656,486 657,487 659,489 659,489M661,438C661,438 659,438 659,438 658,438 657,438 656,438 655,439 655,439 654,439 653,439 652,440 652,440M674,452C674,452 675,453 676,454 676,455 677,455 677,456 678,456 679,457 679,457 680,458 681,459 682,459M508,509C507,510 503,512 501,513 499,514 497,515 495,517 493,519 491,521 490,523 489,525 487,529 486,530M684,446C683,445 682,443 682,442 681,441 681,439 680,438 680,436 680,435 680,433 680,432 681,430 682,429M697,447C696,447 693,447 691,447 689,447 687,447 685,447 683,447 681,447 679,447 677,447 674,447 673,447M681,479C679,480 674,483 670,484 666,486 661,487 658,489 654,492 651,495 648,498 645,501 642,505 639,508 637,511 632,516 630,517M706,448C705,448 703,448 701,448 700,448 698,448 696,448 695,448 693,448 692,448 690,448 688,448 687,448M703,453C702,453 700,454 699,455 698,455 697,456 696,457 695,458 694,458 693,459 691,460 690,461 689,461M745,434C744,434 742,437 741,439 740,440 739,442 738,444 737,446 736,448 736,450 735,452 735,455 735,456M725,443C725,444 724,446 723,448 723,450 723,452 723,454 722,456 722,458 722,460 722,462 722,465 721,466M735,438C735,439 735,442 735,444 735,446 734,448 734,450 733,452 732,454 732,456 731,458 731,461 731,462M564,547C563,548 559,548 557,549 555,550 553,551 551,552 549,553 547,554 545,555 542,556 540,558 539,559M743,499C742,499 740,502 738,504 737,506 735,508 734,510 733,512 732,514 731,516 730,519 729,522 728,523M743,499C742,498 738,498 736,497 733,497 731,497 728,497 726,497 723,496 721,497 719,497 715,498 714,498M775,447C775,447 776,448 776,448 777,449 778,449 778,449 779,450 779,450 780,451 780,451 781,452 781,452M774,443C774,444 775,444 776,445 776,445 777,445 778,446 778,446 779,447 780,447 780,448 781,448 782,448M692,587C691,588 690,590 688,591 687,593 685,594 684,595 683,597 681,598 679,599 678,600 675,601 675,602M798,479C798,480 798,482 798,483 798,484 798,485 798,487 798,488 798,489 798,490 798,492 799,493 799,494M798,479C797,479 795,481 794,482 793,483 792,484 790,485 789,486 788,487 787,488 786,489 785,492 785,492M778,594C776,596 771,601 768,606 765,610 762,614 760,619 758,624 757,629 756,634 755,639 755,644 754,649 753,655 750,662 750,664M762,616C761,617 759,620 758,623 757,625 757,627 756,630 755,632 755,635 754,637 753,639 750,643 750,644M874,598C874,600 874,607 875,612 875,617 876,621 876,626 876,630 876,635 876,640 875,645 874,649 873,654 873,658 873,665 873,668M899,572C898,573 896,575 895,577 894,579 893,580 891,582 890,584 890,585 889,587 888,589 886,592 886,592M858,613C857,614 854,616 852,617 850,619 848,620 846,622 844,624 843,626 841,628 840,630 838,633 838,635M1059,503C1061,504 1064,509 1066,512 1069,515 1071,518 1074,520 1077,523 1080,525 1083,528 1085,531 1088,534 1090,537 1092,540 1095,545 1095,547M852,431C852,431 853,431 854,431 854,431 855,431 856,431 856,431 857,431 858,431 858,431 859,431 860,431M849,431C849,430 850,430 850,429 851,429 851,429 852,429 852,428 853,428 853,428 854,428 855,428 855,428M858,441C858,441 858,443 858,443 858,444 858,445 858,446 858,446 858,447 858,448 857,449 857,450 857,450M862,448C862,449 862,450 861,451 861,452 861,452 861,453 861,454 860,455 860,455 860,456 860,457 860,458M860,445C860,445 861,446 862,446 862,447 863,448 863,448 864,449 865,449 865,450 866,450 867,451 867,451M846,436C846,436 847,436 848,436 849,436 850,437 850,437 851,437 852,437 853,438 853,438 854,439 854,439M1123,515C1125,516 1129,516 1131,516 1134,517 1137,517 1139,518 1142,519 1144,520 1147,521 1150,521 1154,522 1155,522M938,468C938,469 938,470 938,471 938,473 937,474 937,475 937,476 937,477 937,478 936,479 936,481 936,482M943,474C944,474 946,475 947,475 949,476 950,476 951,477 952,478 953,479 954,479 955,480 957,481 958,482M922,469C923,469 924,470 926,471 927,471 927,472 928,473 929,474 930,475 931,476 932,477 934,478 934,479M923,471C924,472 925,473 925,474 926,475 926,476 926,477 927,478 927,479 928,480 928,481 928,482 929,483M921,478C921,478 919,479 918,480 917,481 916,482 915,483 914,483 913,484 911,485 910,486 909,486 908,487M921,478C921,478 922,480 923,481 923,481 924,482 924,483 925,484 925,485 926,486 926,487 927,488 927,489M948,455C950,456 956,459 959,461 963,463 967,465 970,467 974,469 976,473 980,475 983,478 988,481 990,482M956,469C958,470 964,473 968,474 971,475 976,476 979,478 983,479 987,481 991,482 995,483 1001,484 1003,485M940,442C940,444 940,450 939,454 938,459 937,463 936,467 935,471 935,475 935,479 935,484 935,490 935,492M1125,503C1125,503 1128,505 1129,505 1131,506 1133,507 1134,508 1136,508 1137,509 1139,509 1141,510 1143,510 1144,511M999,528C1001,528 1004,530 1006,531 1008,532 1010,533 1013,534 1015,535 1017,536 1019,537 1021,538 1023,540 1025,542 1026,543 1028,546 1029,547M950,553C949,554 946,558 943,560 940,562 937,564 935,566 932,568 930,571 927,573 924,575 920,577 918,578M974,519C974,520 976,522 977,524 978,526 979,527 980,529 981,530 982,532 983,533 984,535 986,537 987,538M1091,527C1092,527 1097,526 1100,526 1103,526 1106,525 1109,525 1112,524 1115,524 1118,524 1121,524 1125,525 1127,525M668,420C667,422 662,427 660,431 658,435 657,440 656,444 655,448 655,453 655,458 655,462 655,467 656,471 657,476 659,482 660,484M508,472C506,472 502,474 498,474 495,475 492,475 489,475 485,475 482,475 479,475 476,475 471,473 469,473M715,515C714,517 710,523 709,527 708,531 708,536 707,540 706,544 704,548 703,552 702,557 702,561 702,565 702,570 703,576 703,579M845,494C845,495 845,499 845,502 845,504 844,507 844,509 843,512 842,514 842,517 841,519 841,522 841,524 841,527 842,531 842,532M1006,446C1007,447 1010,451 1011,454 1013,456 1015,459 1017,461 1019,464 1022,466 1023,469 1025,471 1026,474 1028,477 1030,480 1033,483 1034,485M1011,447C1013,449 1017,453 1020,456 1022,459 1024,463 1026,466 1028,470 1030,473 1032,477 1034,480 1038,483 1040,486 1043,489 1046,494 1047,496M601,452C600,455 598,462 596,467 595,472 594,477 592,482 590,487 588,492 586,497 584,501 581,506 579,511 577,516 574,523 573,526M609,444C609,445 608,449 608,452 607,454 606,457 605,460 605,462 604,465 604,467 604,470 604,473 603,475 602,478 601,482 601,483M607,446C607,448 606,452 605,455 604,458 603,461 603,464 602,467 602,470 602,473 602,476 602,480 602,483 602,486 604,490 604,492" stroke-width="3.4"/><path d="M712,443C711,443 711,445 710,446 710,447 709,448 709,449 708,451 708,452 708,453 707,454 706,456 706,456M712,443C712,443 714,444 715,445 717,445 718,446 719,446 720,447 722,447 723,448 724,448 726,450 727,450M669,493C668,495 667,500 666,504 665,507 663,510 662,514 660,517 659,520 658,524 657,527 657,531 656,535 655,538 655,544 654,545M745,454C744,454 741,454 739,454 737,454 735,455 733,456 731,456 729,457 727,458 725,459 722,461 721,461M755,450C754,450 751,449 749,449 747,449 745,448 743,448 741,447 739,447 737,446 735,446 732,447 731,447M764,445C763,447 762,450 761,452 760,454 759,456 758,458 756,460 755,462 754,464 753,466 752,469 752,470M832,513C834,514 838,514 841,515 844,515 846,517 849,519 851,520 854,521 857,523 859,524 863,527 864,528M832,513C832,515 833,520 834,523 835,526 836,529 837,533 838,536 838,539 839,542 840,545 843,549 844,551M788,447C786,447 782,447 780,448 778,449 775,451 773,452 771,453 768,454 766,455 763,456 760,458 759,458M885,498C884,500 884,506 884,510 884,513 885,517 886,521 887,524 887,528 888,532 888,536 887,539 888,543 889,547 890,552 891,554M982,487C982,488 982,490 982,492 982,494 983,495 983,497 984,498 984,500 985,502 985,503 986,505 987,506M1067,504C1069,506 1074,512 1078,515 1082,519 1086,522 1090,526 1094,530 1098,533 1101,537 1105,541 1108,545 1112,549 1115,553 1120,559 1122,561M898,446C900,447 903,452 905,455 907,458 910,461 912,464 914,467 916,470 918,473 920,476 923,481 924,482M963,445C962,446 959,448 958,450 956,452 954,454 952,455 951,457 949,459 947,460 945,462 942,464 941,465M962,458C962,459 960,462 959,464 958,467 956,468 955,471 954,473 953,475 953,477 952,479 952,483 951,484M726,499C726,499 723,501 722,503 721,504 720,506 718,507 717,509 716,510 715,512 713,514 713,515 712,517 711,519 710,522 710,523M945,427C946,427 948,430 949,432 950,433 951,435 952,437 953,439 954,441 954,443 955,444 956,446 957,448 958,450 960,452 960,453" stroke-width="3.9"/><path d="M677,442C676,443 673,444 671,446 669,447 668,448 666,450 665,451 663,453 662,454 660,456 659,459 658,460M679,435C679,436 678,438 677,439 676,441 675,442 674,443 673,444 671,445 670,447 669,448 667,450 667,450M646,436C644,436 639,438 635,439 631,440 626,440 623,441 619,442 615,444 611,446 608,447 602,449 600,450M661,429C660,431 657,436 655,440 652,443 650,446 647,449 644,452 640,455 638,458 635,461 632,466 631,468M633,444C632,445 629,451 628,455 626,458 624,462 622,465 620,469 617,472 614,475 612,478 607,482 606,483M740,448C739,448 737,448 736,449 734,449 733,449 731,449 730,449 728,449 727,450 726,450 724,451 723,451M675,428C675,429 673,431 672,432 671,433 670,435 669,437 668,438 667,440 666,441 665,443 663,445 662,445M675,428C675,428 673,430 672,431 671,431 670,432 669,433 668,434 667,435 666,436 665,437 663,438 663,438M664,442C664,443 663,448 663,450 662,453 661,456 660,459 659,462 658,464 657,467 656,470 656,474 655,476M649,463C649,464 648,468 648,471 648,473 648,476 648,478 648,480 648,483 648,485 648,488 646,491 646,493M668,434C667,435 666,436 665,437 663,437 662,438 661,438 660,439 658,439 657,439 656,440 654,440 653,440M668,434C668,435 670,438 670,440 671,442 671,444 672,446 673,448 674,450 674,452 675,454 674,457 674,458M709,445C708,445 705,445 703,445 701,445 699,445 696,445 694,445 692,445 690,445 688,445 686,446 684,446 682,446 678,445 677,445M669,493C669,495 668,498 668,500 668,503 667,505 667,508 667,510 667,512 668,515 668,517 668,519 669,522 669,524 670,528 670,529M771,436C772,437 772,439 773,440 773,441 773,442 774,443 774,445 774,446 775,447 775,448 775,450 775,451M808,468C807,469 805,472 803,474 802,476 800,477 798,479 796,481 794,482 792,484 790,486 789,488 787,490 786,491 783,494 782,495M895,551C896,553 898,558 898,561 899,565 898,569 899,572 899,576 899,580 899,583 900,587 901,590 902,594 903,598 903,603 903,605M885,466C886,466 891,465 894,465 898,465 901,466 904,466 907,466 910,466 914,466 917,466 922,467 923,467M885,466C886,465 890,464 893,463 895,461 897,460 900,459 902,458 905,457 908,457 911,457 915,458 916,458M898,472C899,472 904,474 907,476 910,477 913,480 916,482 918,485 920,488 922,491 923,494 926,499 927,500M933,459C933,460 935,464 936,466 937,469 938,472 938,474 939,477 939,480 940,482 941,485 943,489 943,490M920,452C920,453 921,459 922,462 924,465 925,469 926,472 927,476 928,479 929,483 930,486 931,491 932,493M867,445C869,446 874,450 878,453 882,455 886,456 890,458 894,460 897,463 901,465 905,467 909,469 913,471 917,473 923,476 925,477M938,499C939,501 943,507 944,511 946,516 948,520 949,525 950,529 951,534 951,539 951,543 950,548 950,553 951,557 952,564 952,566M951,508C953,508 956,510 959,511 961,513 964,514 966,516 969,517 971,518 974,519 976,520 979,521 982,522 984,524 987,526 988,527M737,482C737,484 737,489 737,493 736,497 736,501 736,505 736,509 736,513 736,517 735,521 734,525 733,529 733,533 731,539 731,540" stroke-width="4.4"/><path d="M763,439C763,439 763,441 763,442 763,443 762,444 762,445 762,446 762,447 762,448 762,449 761,451 761,451M752,468C752,468 751,470 751,471 750,472 750,473 749,474 749,475 748,476 748,477 747,478 747,480 747,480M742,432C742,433 742,434 742,435 742,436 742,437 742,437 742,438 741,439 741,440 741,441 741,442 741,442M742,432C742,433 742,434 742,435 743,435 743,436 743,437 743,438 743,439 743,439 743,440 743,442 743,442M737,442C737,443 738,444 739,445 740,446 741,447 742,447 743,448 744,448 745,449 746,449 748,450 748,450M678,424C677,426 672,431 670,435 668,438 666,442 663,446 661,450 658,454 657,458 655,462 654,467 653,471 652,476 652,482 651,485M734,428C734,429 733,433 733,435 733,437 733,439 733,442 733,444 734,446 735,448 735,451 735,454 736,455M725,433C723,434 718,436 715,438 712,439 709,441 706,443 703,445 700,446 697,447 693,449 691,451 688,453 685,455 681,458 679,459M721,436C720,437 717,438 715,439 714,440 712,442 711,443 709,445 708,446 706,448 705,449 704,451 703,453 702,455 701,458 701,459M765,395C763,401 758,422 754,428 751,434 748,432 745,434 742,435 738,436 735,438 732,439 728,441 725,443 722,444 718,448 716,449M755,495C753,496 747,498 743,499 739,499 735,500 731,501 727,502 723,503 719,504 715,505 711,507 707,508 703,509 697,511 695,511M845,430C846,430 847,430 849,431 850,431 851,431 852,431 853,432 854,432 855,433 856,433 857,435 857,435M855,437C856,438 857,440 858,441 858,442 859,443 860,445 861,446 861,447 862,448 862,450 863,452 863,452M840,428C840,429 842,430 843,431 844,433 845,434 846,436 847,437 848,438 848,440 849,441 851,444 851,444M925,458C926,459 929,461 931,463 933,465 936,466 938,468 940,470 941,472 943,474 945,476 948,480 949,481M920,447C920,449 919,452 920,455 920,457 920,459 921,462 921,464 922,466 922,469 923,471 924,474 925,475M925,458C924,459 924,462 924,465 924,467 924,469 923,471 923,474 922,476 921,478 921,480 919,483 919,485M924,406C925,409 929,422 932,428 934,434 937,437 940,442 943,446 946,451 948,455 951,460 953,465 956,469 959,474 963,481 964,483" stroke-width="4.9"/><path d="M773,441C772,442 767,444 764,445 761,447 758,449 755,450 752,451 748,452 745,454 742,455 739,457 736,459 733,461 729,463 727,464M808,478C809,480 814,486 816,490 819,493 822,497 825,501 827,505 829,509 832,513 835,517 838,521 841,524 844,528 850,532 852,534M958,419C959,421 961,428 962,432 963,436 963,441 963,445 963,449 962,454 962,458 962,462 963,467 963,471 963,476 963,482 963,484" stroke-width="5.4"/><path d="M710,436C710,437 711,441 712,443 712,445 712,447 712,449 712,452 713,454 713,456 714,458 715,461 716,462M806,413C804,415 801,424 799,428 797,432 794,434 793,437 791,440 790,444 788,447 786,450 783,453 781,456 779,459 776,463 775,465M969,475C970,476 974,479 976,481 978,483 980,485 982,487 984,489 986,491 987,494 989,496 990,499 991,501 992,504 994,508 995,509M899,431C899,434 898,441 898,446 898,450 899,455 899,460 900,464 900,469 900,474 900,479 900,483 899,488 899,493 897,500 897,502" stroke-width="5.9"/><path d="M689,406C688,409 685,423 683,428 682,433 680,432 679,435 678,437 678,440 677,442 676,445 674,447 673,450 672,452 671,456 671,457M693,404C690,408 682,424 677,428 672,432 666,428 661,429 656,430 651,433 646,436 642,438 637,441 633,444 628,447 622,452 620,454M743,441C742,442 741,446 740,448 739,450 737,452 736,454 735,456 734,458 733,460 731,462 729,465 728,466M682,422C680,424 675,428 672,431 669,435 667,438 664,442 661,445 658,448 655,452 653,455 651,460 649,463 646,467 641,471 640,473M671,427C671,428 669,432 668,434 667,437 666,439 665,442 664,444 662,447 661,449 660,451 659,454 658,456 656,459 655,462 654,463M776,432C775,433 773,435 771,436 770,438 769,440 768,442 767,444 766,445 764,447 763,449 762,451 761,453 759,454 757,457 757,458M860,453C862,454 868,457 872,459 877,462 881,464 885,466 889,468 894,469 898,472 902,474 905,477 909,481 912,484 916,490 917,492M886,422C887,424 892,430 895,434 899,437 903,440 907,443 911,446 915,449 920,452 924,454 928,457 933,459 937,461 944,465 946,466" stroke-width="6.4"/><path d="M682,422C681,423 677,427 675,428 673,429 671,428 668,428 666,428 664,428 662,428 660,428 657,428 655,428 653,429 650,430 649,430M741,385C740,392 736,420 734,428 731,436 729,431 726,432 724,434 721,435 719,437 716,438 713,439 711,441 709,443 706,446 705,447M834,379C835,387 838,420 840,428 841,436 844,429 845,430 847,431 848,433 850,434 852,435 854,436 855,437 857,438 860,440 861,440M903,398C904,403 907,421 908,428 910,435 912,435 914,438 916,441 918,444 920,447 922,451 923,454 925,458 926,461 928,467 928,468" stroke-width="6.9"/><path d="M745,428C746,429 749,430 751,431 753,433 755,434 757,435 759,437 761,437 763,439 765,440 767,442 768,443M755,455C754,456 754,459 754,461 753,463 753,465 752,468 752,470 752,472 752,474 752,476 751,479 751,480M745,428C745,429 743,431 742,432 741,434 739,435 739,437 738,439 737,440 737,442 736,444 736,447 735,448" stroke-width="7.4"/><path d="M715,405C715,409 713,423 712,428 711,433 711,434 710,436 709,439 708,442 707,444 707,447 706,450 706,453 705,455 704,459 703,461" stroke-width="8.4"/><path d="M738,358C738,370 741,414 742,428 743,442 742,437 743,441 743,446 744,450 745,454 746,458 748,462 749,467 750,471 750,478 750,480" stroke-width="9.4"/><path d="M742,341C743,356 744,412 745,428 746,444 747,434 748,437 749,440 750,443 751,446 752,449 753,452 755,455 756,458 757,463 757,464" stroke-width="11.4"/></g>
<g fill="none" stroke="#cdbd9d" stroke-linecap="round" stroke-linejoin="round" clip-path="url(#soilclip)"><path d="M473,483C473,484 473,487 472,489 472,491 471,493 471,495 471,497 471,499 471,501 471,503 471,506 472,507M472,489C473,489 474,491 474,492 475,493 475,495 476,496 476,497 476,498 477,500 477,501 477,503 477,503M471,501C471,501 473,503 473,504 474,505 474,506 475,507 475,508 476,510 476,511 477,512 477,514 478,514M472,489C472,489 471,490 470,491 469,492 469,492 468,493 467,494 466,495 466,495 465,496 464,497 464,498M485,461C485,462 485,466 485,469 485,471 485,474 486,477 486,479 487,482 487,484 488,487 490,490 490,491M487,484C487,485 487,487 487,488 486,489 486,490 486,491 485,492 485,494 485,495 484,496 484,498 484,498M479,472C478,472 474,474 472,476 470,477 468,479 466,481 464,483 462,485 461,487 459,489 457,492 456,493M466,481C466,482 465,484 465,485 465,486 464,488 464,489 464,490 465,492 464,493 464,494 464,496 464,497M680,438C681,437 682,437 683,436 684,436 685,436 686,436 686,435 687,435 688,435 689,434 690,434 691,434M640,533C640,534 642,536 643,537 644,539 645,540 646,541 647,543 648,544 649,546 650,547 650,549 651,550M640,533C640,534 641,536 642,537 642,538 643,539 643,541 644,542 644,543 644,545 644,546 644,548 645,549M640,517C639,517 638,518 637,519 636,520 635,521 634,522 634,524 633,525 632,526 631,527 631,529 631,530M663,490C662,491 661,494 660,495 659,497 658,498 657,500 655,501 655,503 653,505 652,506 650,508 650,509M701,448C701,447 700,447 699,447 699,447 698,446 698,446 697,446 696,445 696,445 695,445 694,444 694,444M699,455C699,455 698,454 697,454 697,454 696,455 696,455 695,455 694,455 694,455 693,455 692,456 692,456M665,530C664,531 663,531 662,532 661,532 661,533 660,533 659,534 658,534 658,535 657,536 656,537 656,537M663,535C663,535 663,536 663,537 664,538 664,539 664,539 664,540 664,541 664,542 665,543 665,544 666,544M665,530C664,531 663,531 662,532 662,533 661,534 660,534 660,535 659,536 658,536 658,537 656,538 656,538M671,511C672,511 673,511 673,511 674,511 675,512 675,512 676,512 676,513 677,513 678,513 679,513 679,513M671,511C672,511 673,511 674,511 674,511 675,511 676,512 677,512 677,513 678,513 679,513 679,514 680,515M645,544C644,544 643,544 642,545 640,545 639,545 638,546 637,546 636,546 635,547 634,547 632,547 632,547M664,520C665,520 666,521 667,522 667,522 668,522 669,523 670,523 671,524 672,524 673,524 674,525 675,525M666,527C666,527 667,528 668,528 669,529 670,529 671,530 672,530 673,530 674,531 675,531 676,532 677,532M664,520C664,521 663,522 663,523 663,524 662,525 661,526 661,527 661,529 661,530 661,531 660,533 660,533M656,517C655,517 654,518 653,519 653,519 652,520 651,521 651,522 650,523 649,524 649,524 648,526 648,526M656,517C656,517 655,519 655,520 655,521 656,522 656,523 656,524 655,525 655,526 655,527 655,528 655,529M551,552C550,552 548,553 547,553 545,553 544,553 542,553 541,553 540,553 538,553 537,553 535,553 534,553M664,622C664,624 663,628 662,632 661,635 660,638 660,641 660,644 660,647 661,650 661,653 663,658 663,660M661,650C661,651 659,653 659,655 658,657 657,658 656,660 656,661 655,663 654,664 653,665 651,667 650,668M684,595C684,596 683,597 683,597 682,598 682,599 682,600 681,600 681,601 681,602 681,603 680,604 680,604M679,599C679,599 678,601 678,602 677,603 677,604 677,605 677,606 677,608 677,609 676,610 676,612 676,612M798,487C797,487 797,488 797,488 797,489 796,490 796,490 796,491 796,492 796,492 796,493 796,494 796,494M798,483C798,483 799,484 799,484 800,484 800,485 801,485 801,485 802,486 802,486 803,487 803,487 804,487M798,483C798,483 798,484 799,484 799,485 799,485 799,486 800,486 800,487 800,487 801,488 801,488 801,489M790,485C790,485 789,485 788,486 787,486 786,486 785,486 784,487 783,487 782,487 781,487 779,487 779,488M790,485C790,485 789,486 788,486 788,487 787,487 786,488 786,488 785,488 784,489 783,489 782,490 782,490M790,485C790,485 789,485 788,485 788,485 787,485 786,485 786,485 785,485 784,486 784,486 783,486 782,486M783,590C782,591 779,593 776,595 774,597 773,599 771,600 768,602 766,603 764,605 762,606 758,608 757,609M776,595C776,595 773,594 772,594 770,594 769,594 767,594 766,595 764,595 763,595 761,595 759,594 758,594M771,600C770,600 768,601 767,601 765,601 764,601 763,602 762,602 760,602 759,603 758,603 756,604 755,605M780,600C780,601 780,604 780,606 780,608 780,610 779,612 779,614 778,615 777,617 777,619 776,622 775,623M780,606C781,607 782,608 782,609 783,609 784,610 784,611 785,612 786,612 786,613 787,614 788,615 788,616M779,612C780,612 781,613 781,614 782,615 783,615 784,616 785,616 786,617 787,617 787,618 789,619 789,619M780,606C780,607 781,608 781,609 782,609 782,610 783,611 783,612 783,613 783,614 784,615 784,616 784,616M756,634C755,636 753,642 752,646 752,650 752,654 751,658 751,662 751,666 752,670 752,674 754,680 755,682M751,658C751,659 750,663 749,665 749,668 748,670 747,672 746,675 745,677 744,680 743,682 743,686 743,687M756,630C756,630 757,632 757,633 757,634 758,635 758,636 759,638 760,639 760,640 761,641 761,642 762,643M886,539C886,540 886,542 886,543 887,545 887,547 887,548 887,550 887,551 887,553 887,554 887,557 887,557M886,539C885,539 884,539 883,540 882,540 881,540 880,541 879,541 878,541 877,541 876,542 874,542 874,543M875,612C876,613 879,617 881,620 883,623 884,626 885,629 886,632 886,635 887,639 888,642 890,646 891,648M887,639C888,639 889,640 890,641 891,642 892,643 893,644 894,645 895,646 895,647 896,648 897,650 898,651M881,620C881,620 880,623 880,624 880,626 879,627 879,629 878,630 877,632 877,633 877,635 877,637 877,638M881,620C882,620 885,620 886,621 888,621 890,622 892,622 894,623 895,625 897,625 898,626 901,627 902,628M891,582C892,582 892,584 892,585 892,586 892,587 892,588 893,589 893,590 894,591 894,592 895,593 895,594M891,582C891,582 891,584 891,585 891,586 891,587 891,588 890,589 890,590 890,591 890,592 889,593 889,594M889,587C889,588 889,589 890,590 890,591 890,592 890,593 891,593 891,594 891,595 891,596 891,598 891,598M852,617C852,617 849,618 848,618 847,618 845,619 844,619 843,619 841,619 840,619 838,619 836,618 835,618M852,617C852,617 850,617 849,617 848,616 847,617 846,617 845,617 844,617 843,617 842,617 841,617 840,618M1091,513C1092,513 1096,513 1098,513 1100,512 1103,512 1105,511 1108,511 1110,510 1112,510 1115,509 1119,509 1120,509M1098,513C1098,512 1100,511 1101,510 1102,509 1102,508 1103,507 1104,506 1105,506 1106,505 1106,504 1108,502 1108,502M1105,511C1106,511 1107,510 1109,510 1110,509 1111,509 1112,508 1113,508 1114,508 1116,508 1117,508 1118,507 1119,507M1105,511C1106,512 1108,513 1109,514 1110,515 1111,517 1112,518 1112,519 1113,521 1114,522 1115,523 1116,525 1117,526M1103,528C1104,528 1107,529 1109,530 1110,531 1112,531 1114,532 1116,532 1118,533 1120,534 1121,535 1123,537 1124,537M1114,532C1115,532 1116,533 1117,534 1118,534 1119,535 1120,535 1121,536 1122,536 1123,537 1124,538 1125,539 1125,540M1114,532C1114,532 1115,533 1115,534 1116,535 1116,535 1117,536 1117,537 1118,537 1118,538 1119,538 1120,539 1120,539M1074,520C1074,522 1076,526 1078,528 1079,531 1080,534 1081,536 1082,539 1083,542 1084,544 1086,547 1087,551 1088,552M1078,528C1078,529 1079,530 1080,531 1081,532 1081,534 1082,535 1082,536 1083,537 1083,538 1083,540 1083,541 1083,542M1066,512C1067,512 1070,514 1072,515 1074,516 1076,517 1078,518 1080,519 1081,521 1083,523 1084,524 1087,526 1088,527M1083,523C1082,523 1082,525 1082,527 1082,528 1082,529 1083,531 1083,532 1083,533 1084,535 1084,536 1085,538 1085,538M1078,518C1078,518 1080,519 1082,519 1083,520 1084,520 1085,521 1087,522 1088,523 1089,524 1090,525 1091,526 1092,527M1083,523C1083,523 1085,523 1087,523 1088,524 1089,524 1091,524 1092,525 1094,525 1095,525 1096,525 1099,526 1099,526M1090,537C1089,538 1088,541 1088,543 1087,545 1087,546 1086,548 1086,550 1086,552 1086,554 1086,556 1086,559 1086,560M1086,548C1086,549 1085,550 1084,550 1083,551 1082,551 1081,552 1080,552 1079,553 1079,553 1078,554 1077,555 1076,555M1117,528C1117,528 1119,530 1120,531 1121,532 1121,533 1122,534 1123,536 1124,537 1124,538 1125,539 1126,541 1126,542M1108,528C1108,528 1111,528 1112,529 1114,530 1115,531 1116,532 1117,533 1118,534 1119,535 1120,536 1121,539 1121,539M1108,528C1108,527 1111,527 1112,526 1113,526 1115,526 1116,525 1118,525 1119,525 1121,525 1122,525 1124,526 1125,526M1147,559C1148,559 1152,558 1155,557 1157,557 1160,557 1163,556 1165,556 1168,555 1170,554 1173,553 1177,552 1178,551M1107,576C1107,577 1106,578 1105,580 1104,581 1104,582 1103,583 1102,584 1101,585 1100,587 1099,588 1098,589 1098,590M1108,567C1108,567 1109,569 1110,571 1110,572 1111,573 1112,574 1113,575 1113,577 1113,578 1114,579 1115,581 1115,582M1107,576C1107,576 1106,578 1105,579 1104,580 1103,581 1103,582 1102,584 1101,585 1101,586 1100,587 1099,589 1098,589M1110,499C1110,499 1112,501 1113,502 1114,503 1115,504 1116,506 1117,507 1119,508 1120,509 1121,510 1122,512 1122,513M1120,509C1120,509 1121,510 1121,510 1122,510 1123,511 1123,511 1124,512 1124,512 1124,513 1125,514 1125,514 1126,515M1120,509C1120,509 1121,510 1122,510 1122,511 1123,512 1123,512 1124,513 1125,513 1125,514 1126,515 1127,516 1127,516M1110,499C1110,499 1113,501 1114,502 1116,503 1117,505 1119,506 1121,507 1122,508 1124,509 1125,511 1127,512 1128,513M1124,509C1124,510 1124,511 1125,512 1125,513 1125,514 1126,515 1126,516 1127,516 1128,517 1128,518 1129,519 1130,519M1114,505C1115,505 1118,505 1120,506 1122,506 1124,506 1125,507 1127,507 1129,507 1131,508 1133,509 1136,510 1137,510M1131,508C1132,508 1133,507 1133,507 1134,506 1135,506 1136,506 1136,506 1137,506 1138,506 1139,506 1140,506 1140,506M1120,506C1120,506 1121,505 1122,505 1123,504 1124,504 1125,504 1126,503 1126,504 1127,504 1128,503 1130,504 1130,504M970,467C971,467 975,466 977,466 979,466 981,465 983,465 985,465 988,465 990,465 992,465 995,465 996,465M991,482C992,482 996,480 998,479 1001,478 1003,478 1005,477 1008,476 1010,474 1012,473 1015,472 1018,470 1019,470M935,479C934,480 933,482 932,484 932,486 931,487 931,489 930,491 930,492 930,494 930,496 929,498 928,499M1129,505C1130,505 1132,506 1133,506 1134,506 1135,506 1136,506 1137,506 1138,506 1140,506 1141,506 1142,506 1143,506M1134,508C1135,508 1136,507 1137,507 1137,507 1138,507 1139,507 1140,507 1141,507 1142,507 1142,508 1144,508 1144,508M1134,508C1135,507 1136,507 1137,507 1138,506 1139,506 1140,505 1141,505 1142,504 1143,504 1144,503 1146,502 1146,502M1008,535C1008,535 1009,536 1009,536 1009,537 1010,537 1010,538 1010,538 1011,539 1011,539 1011,540 1012,540 1012,541M1008,535C1008,535 1008,536 1009,536 1009,537 1010,537 1010,537 1011,538 1011,538 1012,538 1013,539 1013,539 1014,539M1008,535C1008,535 1009,536 1009,536 1010,536 1010,537 1011,537 1011,537 1012,538 1012,538 1013,539 1014,539 1014,539M1018,533C1018,533 1019,534 1020,535 1020,535 1021,536 1021,536 1022,537 1022,537 1023,538 1023,538 1024,539 1025,539M1091,546C1092,546 1096,546 1098,546 1101,546 1103,547 1105,548 1108,549 1110,549 1113,550 1115,551 1119,553 1120,553M1113,550C1113,551 1114,552 1115,553 1115,554 1116,556 1116,557 1117,558 1117,559 1118,560 1119,561 1120,562 1120,563M1105,548C1106,548 1108,547 1110,547 1111,547 1113,547 1114,548 1115,548 1117,548 1118,548 1120,548 1122,548 1122,548M1091,546C1091,547 1093,549 1094,551 1095,553 1096,554 1096,556 1097,558 1097,560 1098,562 1098,564 1099,566 1099,567M1098,562C1098,562 1097,563 1097,564 1097,565 1097,566 1097,567 1097,568 1097,569 1098,570 1098,570 1098,572 1099,572M1096,531C1097,532 1102,535 1104,537 1107,540 1110,543 1112,545 1114,548 1116,552 1118,554 1121,557 1125,560 1126,561M1118,554C1118,555 1119,557 1119,559 1119,560 1119,562 1120,563 1120,565 1121,566 1121,568 1122,569 1123,571 1123,572M1096,531C1097,530 1102,528 1105,527 1109,525 1112,524 1115,523 1119,522 1122,522 1126,522 1129,521 1135,521 1136,521M1115,523C1116,522 1118,519 1119,518 1121,516 1123,515 1124,514 1126,513 1128,511 1130,510 1131,509 1134,507 1135,507M1110,533C1111,535 1113,540 1115,544 1117,547 1119,550 1121,553 1123,556 1126,559 1128,562 1131,565 1135,569 1136,570M1115,544C1115,544 1114,547 1114,548 1114,550 1114,551 1114,553 1114,555 1115,556 1115,558 1115,559 1116,561 1116,562M1121,553C1122,553 1126,554 1128,554 1131,555 1133,555 1135,555 1138,556 1140,557 1142,557 1145,558 1148,558 1149,558M1085,543C1085,544 1086,547 1086,549 1086,551 1087,553 1087,555 1087,556 1086,558 1086,560 1086,562 1086,565 1086,566M1086,560C1087,561 1087,562 1088,563 1088,564 1089,565 1090,566 1090,567 1090,568 1091,570 1091,571 1091,572 1091,573M1085,543C1086,543 1088,545 1089,546 1090,546 1091,547 1092,548 1094,549 1095,550 1096,551 1097,552 1099,553 1099,554M1089,546C1089,546 1091,546 1091,546 1092,546 1093,546 1094,547 1095,547 1096,547 1096,547 1097,547 1098,548 1099,548M1092,548C1093,548 1094,548 1095,548 1096,548 1097,548 1098,548 1099,548 1100,548 1101,548 1102,548 1103,548 1103,548M1075,534C1075,534 1078,533 1080,533 1081,533 1083,534 1085,534 1087,534 1088,533 1090,534 1092,534 1095,535 1095,535M1080,533C1080,533 1081,532 1082,532 1083,532 1084,532 1085,532 1086,532 1087,533 1087,533 1088,533 1090,534 1090,534M918,469C919,470 921,470 923,470 924,470 926,470 927,471 929,471 930,471 932,471 933,472 935,472 936,472M900,459C901,459 904,458 906,458 908,457 910,458 912,458 914,459 916,459 918,459 921,460 924,460 925,460M900,459C901,460 902,463 903,465 903,467 904,469 904,471 905,473 904,475 905,477 905,480 905,483 905,484M884,465C884,465 884,467 884,468 884,469 884,471 884,472 884,473 883,474 883,475 883,476 883,478 883,479M910,453C911,453 913,452 915,451 917,450 918,449 920,449 922,449 924,448 926,448 927,448 930,447 931,447M910,453C911,454 913,455 915,456 917,457 918,458 920,458 922,459 924,460 926,460 928,461 931,461 931,462M927,573C926,574 925,576 924,578 923,580 922,582 921,583 919,585 918,587 917,589 916,590 915,593 915,594M980,529C980,529 980,531 980,532 980,533 980,535 980,536 980,537 980,538 980,539 980,541 980,542 980,543M1100,526C1101,526 1103,527 1104,527 1105,528 1106,529 1108,529 1109,530 1110,530 1112,531 1113,531 1115,532 1116,532M1118,524C1118,525 1120,527 1121,528 1122,529 1123,531 1124,532 1125,533 1126,534 1127,535 1128,536 1130,538 1130,539M1118,524C1119,524 1121,522 1122,522 1124,521 1126,521 1127,521 1129,521 1131,521 1133,522 1134,522 1137,523 1138,523M537,484C536,485 534,489 532,491 530,493 528,495 526,497 525,499 524,502 523,505 521,507 519,511 519,512M523,505C522,505 520,506 518,507 517,508 515,508 514,509 512,510 511,511 509,511 508,512 506,512 505,512M523,505C522,505 522,508 521,510 521,511 520,513 520,515 519,517 518,518 518,520 517,521 515,523 515,524M515,465C514,465 510,467 508,467 505,468 502,468 499,467 497,467 494,467 491,466 489,465 485,463 484,463M499,467C499,467 497,468 495,468 494,468 492,468 491,468 490,468 488,467 487,466 486,466 485,464 484,463M508,467C507,467 505,466 504,466 503,466 502,465 501,465 500,464 499,464 498,464 497,463 495,464 494,464M491,466C491,465 491,463 490,462 490,460 490,459 490,458 490,456 491,455 491,453 492,452 493,450 493,450M525,462C525,463 523,465 521,467 520,468 519,470 518,472 518,474 517,476 517,477 516,479 516,482 516,483M521,467C521,467 521,469 521,470 521,471 522,471 522,472 522,473 521,474 521,475 521,476 521,477 521,478M515,464C515,465 512,467 511,469 509,470 508,472 506,474 505,475 504,477 502,479 501,481 499,483 498,484M511,469C511,469 511,471 511,472 511,473 511,473 511,474 511,475 511,476 511,477 511,478 510,479 510,480M502,479C503,479 503,481 503,482 503,483 503,484 503,485 503,486 503,487 503,488 503,489 503,491 503,491M511,469C510,469 509,469 508,469 507,469 506,468 505,468 504,468 503,468 502,468 501,468 500,468 499,468M645,463C645,463 646,465 646,466 646,467 647,468 647,469 647,470 648,471 648,473 649,474 649,475 649,476M659,473C660,474 661,476 662,477 662,479 663,480 663,482 664,483 664,485 665,486 665,488 667,490 667,491M658,465C657,466 656,467 655,468 654,470 654,471 653,472 652,473 651,474 650,475 649,476 647,478 647,478M659,473C659,474 660,476 660,477 661,478 662,479 662,481 663,482 663,483 663,485 663,486 664,488 664,489M479,475C478,474 477,472 476,471 475,469 474,468 473,466 473,464 472,463 471,461 471,460 470,457 470,456M498,474C498,474 496,473 495,472 494,471 493,470 492,470 491,469 489,468 488,467 487,467 485,466 485,465M633,580C633,581 632,583 632,585 632,586 631,588 631,590 631,591 631,593 631,594 631,596 631,599 631,599M632,585C632,585 631,586 630,586 629,587 629,587 628,588 627,588 626,588 626,589 625,590 625,591 624,591M632,585C632,585 633,586 633,587 633,588 634,589 634,589 634,590 635,591 635,592 635,592 636,594 636,594M633,580C633,580 635,581 636,582 637,583 638,584 639,585 640,585 641,586 642,587 643,588 644,589 645,589M639,585C639,585 640,585 641,585 641,585 642,585 642,584 643,584 644,584 644,584 645,584 646,584 646,584M642,587C642,587 643,587 644,588 645,588 645,589 646,589 647,590 647,590 648,590 649,591 649,592 650,592M642,587C642,587 642,588 642,589 642,590 642,591 642,592 642,593 641,593 641,594 641,595 640,596 640,596M726,506C725,506 724,506 722,506 721,507 720,507 719,507 718,507 717,508 716,509 715,509 713,510 713,511M720,511C719,511 717,511 716,511 715,511 714,511 712,512 711,512 710,513 709,514 708,515 707,516 707,517M628,581C627,582 623,585 621,588 619,590 617,592 615,595 613,597 612,601 610,603 609,606 606,610 605,611M621,588C621,589 621,591 621,593 620,595 620,597 620,599 620,601 620,603 620,605 619,607 618,609 618,610M615,595C615,596 614,599 614,601 614,603 613,605 613,606 612,608 612,610 611,612 610,614 609,617 609,618M610,603C610,604 608,606 607,607 606,608 605,610 604,611 602,612 601,613 600,614 599,616 597,617 597,618M628,581C628,583 626,588 625,591 624,594 624,597 623,601 621,604 620,607 618,610 617,613 614,617 613,618M618,610C618,610 615,611 614,611 612,612 611,613 610,614 608,615 607,616 606,617 605,618 604,620 603,620M574,552C572,551 567,550 563,549 559,549 555,549 552,549 548,549 544,550 540,550 536,550 531,550 529,550M563,549C562,550 559,550 558,550 556,550 554,551 552,551 550,550 548,550 547,549 545,549 542,547 541,547M605,549C604,548 602,544 601,541 600,538 599,535 599,532 599,528 600,525 600,522 601,519 601,514 601,513M601,541C601,540 603,537 604,535 604,534 605,532 606,530 607,528 608,526 609,525 610,523 612,521 613,520M600,522C600,521 598,519 598,517 598,516 597,514 598,512 598,510 599,509 600,507 601,506 602,503 602,503M706,549C707,550 708,552 709,554 709,555 710,557 711,558 712,560 713,561 715,563 716,564 717,566 718,567M711,567C711,567 713,570 714,571 715,572 717,574 718,575 719,576 720,578 721,579 722,580 724,583 724,583M711,567C711,567 712,569 713,570 713,571 714,572 715,573 715,574 716,575 716,577 717,578 717,580 717,580M659,587C659,588 660,592 660,594 660,597 660,599 660,602 659,604 659,606 658,609 658,611 658,615 658,616M660,594C660,595 661,596 662,597 662,598 663,599 664,600 664,601 665,603 665,604 666,605 667,606 667,607M660,594C660,595 661,596 661,597 662,598 662,600 662,601 663,602 663,603 663,605 663,606 663,608 663,608M660,594C660,595 662,596 663,597 664,598 665,599 666,600 667,601 667,602 668,603 669,604 670,606 670,606M663,575C661,575 658,576 656,577 653,577 651,578 649,580 647,581 645,583 643,585 641,586 638,588 637,589M643,585C643,586 642,587 641,589 640,590 640,591 639,592 638,593 637,595 636,596 636,597 634,599 634,599M643,585C643,585 640,584 639,585 637,585 636,585 635,586 633,586 632,587 631,588 629,588 627,589 626,589M715,522C715,522 715,522 716,523 716,523 717,524 717,524 717,525 718,525 718,526 719,526 719,527 719,527M715,515C715,516 716,516 716,517 716,517 717,518 717,519 717,519 717,520 718,520 718,521 718,522 718,522M715,515C715,516 716,516 716,516 717,516 717,516 718,517 718,517 718,517 719,517 719,518 720,518 720,518M722,507C722,508 721,508 721,509 720,509 720,510 719,510 719,511 718,511 718,512 717,512 717,513 717,514M613,565C613,565 611,564 610,563 609,562 608,561 607,561 606,560 605,559 604,558 603,558 601,557 600,557M613,565C613,565 611,565 610,564 609,564 608,563 607,563 606,562 605,562 604,562 603,561 601,560 601,560M832,561C831,563 830,567 829,570 828,573 827,575 827,578 827,581 827,584 827,587 827,590 827,594 827,596M827,587C827,588 828,590 829,591 829,592 829,594 829,595 830,597 830,598 831,599 831,601 831,603 831,603M813,573C813,574 813,578 812,580 812,582 811,584 810,586 810,588 809,591 808,593 807,595 807,598 807,599M810,586C810,587 808,588 807,589 806,590 804,591 803,591 802,592 800,592 799,593 798,594 796,595 796,596M814,591C814,593 812,597 812,601 811,604 811,607 811,610 810,613 808,616 808,619 807,622 807,627 807,629M811,610C811,611 811,613 812,615 812,617 812,619 812,620 812,622 811,624 811,626 811,627 810,630 810,631M812,601C812,601 813,604 813,605 814,607 815,608 816,609 816,611 817,612 818,614 819,615 820,617 820,618M811,610C811,611 813,613 815,615 816,616 818,618 819,619 821,620 822,622 824,623 825,625 827,627 828,628M814,591C813,593 812,597 811,600 810,603 809,606 808,608 807,611 807,615 806,617 805,620 803,624 802,626M811,600C811,601 812,604 813,606 813,607 813,609 813,611 813,613 812,615 812,617 812,619 812,622 812,623M811,600C810,600 808,600 807,600 806,601 805,601 803,601 802,601 801,601 800,601 798,600 796,600 796,600M839,615C839,615 839,618 838,619 838,620 837,622 836,623 836,624 836,626 835,627 835,628 834,630 834,631M838,619C838,619 838,620 838,621 838,622 839,622 839,623 839,623 839,624 840,625 840,625 840,626 840,627M834,602C834,603 833,605 833,606 832,607 832,609 831,610 831,611 830,613 830,614 830,616 829,618 829,618M830,614C830,615 831,616 831,616 832,617 833,617 834,618 834,619 835,619 836,620 836,620 837,621 838,621M845,536C843,538 839,542 837,545 834,548 831,551 828,553 825,556 822,558 818,560 815,562 810,565 808,566M837,545C837,546 836,548 836,550 836,551 836,553 835,555 835,556 835,558 835,560 835,561 834,564 834,564M818,560C817,560 814,560 812,561 809,561 807,561 805,561 803,562 800,562 798,562 796,563 793,563 791,563M841,552C840,553 837,557 834,560 832,563 830,566 829,569 828,572 826,576 826,579 825,583 825,588 824,590M829,569C828,570 826,572 824,574 823,575 821,576 819,578 818,580 816,581 815,583 814,585 813,588 812,589M841,552C842,553 843,558 843,562 844,565 844,568 844,572 845,575 845,578 846,582 846,585 846,590 846,592M846,582C846,583 848,585 849,586 850,588 852,589 853,591 854,593 855,595 856,596 857,598 859,600 860,600M844,572C845,572 846,574 847,575 847,577 848,578 848,580 849,581 850,582 850,584 851,585 852,587 852,588M843,562C843,562 843,565 842,566 842,568 842,569 841,571 841,573 841,574 840,576 840,577 839,579 839,580M841,524C841,525 840,527 840,528 839,530 839,531 838,532 837,534 837,535 836,536 836,537 836,540 836,540M836,536C836,536 837,537 837,538 838,538 838,539 838,539 838,540 839,540 839,541 839,541 840,542 840,542M840,528C840,529 840,530 841,530 841,531 841,531 841,532 841,533 842,533 842,534 842,534 843,535 843,536M840,528C839,529 838,529 838,529 837,529 837,530 836,530 835,530 835,531 834,531 834,532 833,532 832,532M823,614C822,615 820,615 818,616 817,616 815,617 814,617 812,618 811,618 809,618 808,618 806,618 805,618M964,451C965,451 966,452 966,453 966,453 967,454 967,455 967,455 967,456 967,457 968,458 967,459 967,459M946,437C945,437 945,438 945,439 945,439 944,440 944,440 944,441 944,441 944,442 943,442 943,443 943,443M946,437C945,437 944,437 944,437 943,437 943,437 942,438 942,438 941,438 941,438 940,438 940,439 939,439M953,446C953,446 952,446 951,446 950,446 950,446 949,446 949,446 948,446 947,446 947,446 946,446 946,446M1023,469C1024,469 1027,469 1029,470 1031,470 1033,470 1035,471 1037,471 1039,472 1041,473 1042,474 1045,476 1046,476M1041,473C1041,473 1043,473 1044,472 1045,472 1046,471 1047,471 1048,470 1049,470 1050,469 1052,469 1053,469 1054,469M1041,473C1041,474 1041,475 1041,476 1042,477 1042,478 1042,478 1042,479 1042,480 1043,481 1043,482 1043,483 1043,483M1026,466C1026,467 1026,471 1026,473 1026,476 1027,478 1027,480 1028,483 1029,485 1030,487 1030,490 1031,493 1032,494M1026,473C1026,474 1025,476 1025,477 1025,478 1024,479 1024,480 1024,481 1023,482 1023,484 1023,485 1023,487 1023,487M1030,487C1029,488 1029,489 1028,490 1028,491 1028,492 1028,493 1028,494 1027,495 1027,496 1027,497 1027,499 1026,499M1026,473C1026,474 1026,475 1025,476 1025,477 1025,478 1024,479 1024,480 1023,481 1023,482 1023,483 1022,484 1022,484M1040,486C1040,487 1041,492 1040,495 1040,497 1040,500 1039,503 1039,506 1039,509 1039,512 1039,514 1039,519 1039,520M1039,512C1039,512 1038,514 1038,516 1037,517 1037,519 1037,520 1036,521 1036,523 1035,524 1035,526 1035,528 1035,528M1039,503C1040,504 1041,506 1042,507 1043,508 1044,510 1044,511 1045,512 1046,513 1047,515 1048,516 1049,518 1049,519M1039,512C1039,512 1040,515 1041,516 1041,518 1041,519 1041,521 1041,522 1040,524 1040,525 1040,527 1040,529 1039,530M1036,487C1035,488 1033,490 1032,492 1032,494 1031,496 1031,498 1030,500 1029,502 1028,504 1027,506 1026,509 1025,510M1031,498C1031,499 1032,501 1032,502 1033,503 1033,504 1033,506 1034,507 1034,508 1034,510 1034,511 1034,513 1034,513M1031,498C1030,498 1029,499 1028,499 1027,500 1027,500 1026,500 1025,501 1024,501 1024,502 1023,502 1022,503 1021,503M1110,475C1111,475 1114,474 1115,474 1117,474 1118,475 1120,475 1121,476 1123,477 1124,477 1125,478 1127,480 1128,480M596,467C597,469 598,475 600,479 601,483 603,487 604,491 606,495 607,499 608,503 608,507 607,513 607,515M600,479C600,480 603,483 604,486 604,488 605,491 605,493 606,496 606,498 606,501 607,503 607,507 607,508M600,479C599,480 597,483 596,484 595,486 594,488 593,490 592,492 592,494 591,496 591,498 591,501 590,502M600,479C601,479 603,481 605,481 607,482 608,483 610,483 612,484 614,484 616,484 617,484 620,485 621,485M580,463C578,463 574,464 572,464 570,465 567,466 565,467 563,468 561,470 559,472 557,473 554,475 553,476M559,472C559,473 559,475 558,476 558,478 557,479 557,480 557,482 557,483 557,484 557,486 558,488 558,489M572,464C572,464 570,464 569,464 568,463 567,463 566,463 565,462 564,462 563,461 562,461 560,461 560,460M572,464C571,464 570,463 568,463 567,463 566,463 564,463 563,463 562,462 560,462 559,462 557,462 556,463M580,463C579,464 577,468 575,470 574,472 572,474 571,476 570,479 570,481 569,484 569,486 569,490 569,492M575,470C575,470 573,470 571,471 570,471 569,472 567,472 566,473 565,474 564,475 563,476 561,477 560,477M569,484C569,484 567,486 566,487 565,488 563,489 562,490 561,492 560,493 559,494 558,496 557,498 557,498M569,484C569,485 569,487 568,488 567,489 567,491 566,492 565,493 565,494 564,495 563,497 562,498 561,499M551,475C551,476 551,480 550,483 549,485 548,488 547,490 547,493 546,496 546,498 546,501 547,505 547,506M547,490C548,491 549,492 550,493 551,494 552,495 553,497 554,498 554,499 555,500 556,501 557,503 557,504M547,490C547,491 545,492 544,493 543,494 542,495 541,496 540,497 539,498 538,499 537,501 537,503 536,503M550,483C550,484 551,486 552,488 552,489 553,491 554,492 554,494 555,495 556,497 557,498 558,501 559,501M605,460C605,460 603,463 601,464 600,466 598,467 597,468 595,470 593,471 591,471 590,472 587,473 586,474M597,468C596,468 595,468 594,468 592,468 591,468 590,468 589,468 588,469 587,469 586,469 585,469 584,469M601,464C601,465 600,466 600,467 600,468 599,469 599,470 599,471 599,472 598,473 598,474 597,475 597,475M601,464C601,465 601,466 601,467 600,468 600,470 600,471 600,472 599,473 599,474 599,475 598,476 598,477M605,460C605,460 603,462 602,463 601,465 600,466 599,467 598,468 597,470 596,471 595,472 594,474 594,475M599,467C599,468 598,469 598,470 598,471 597,472 597,473 596,474 596,475 595,476 595,477 594,478 594,479M602,463C602,464 601,464 600,465 599,465 598,466 598,466 597,467 596,467 595,468 594,468 593,469 593,469M605,460C606,460 607,463 607,465 608,467 608,469 608,471 608,472 609,474 609,476 609,478 609,481 608,482M607,465C607,465 606,466 606,467 606,468 605,469 605,470 605,471 605,472 605,473 605,474 605,475 605,475M607,465C608,465 608,466 608,467 608,468 609,468 609,469 609,470 609,471 609,472 609,472 609,473 609,474M609,476C609,477 610,478 610,479 611,481 611,482 612,483 612,484 613,485 614,486 614,487 615,488 616,489M543,459C541,460 537,463 533,464 530,465 526,465 523,465 519,465 515,465 512,463 509,462 505,458 503,457M523,465C522,466 519,468 517,469 515,469 512,469 510,469 508,469 506,469 504,469 501,469 498,467 497,467M523,465C522,465 520,465 518,465 517,465 515,465 514,465 513,464 511,464 510,464 508,464 506,463 506,463M543,459C542,458 538,455 536,453 534,450 532,447 530,444 529,441 528,438 527,435 526,432 525,429 525,428M530,444C530,444 528,442 528,440 527,439 526,438 526,436 525,434 525,433 525,431 525,430 525,429 525,428M536,453C535,452 533,450 532,448 530,446 529,445 528,443 527,441 526,439 526,437 525,435 524,432 524,431M543,459C542,459 537,460 535,460 532,459 529,459 527,458 524,457 522,455 520,453 518,451 516,448 515,447M520,453C519,453 518,452 517,452 516,451 515,450 514,449 514,448 513,447 513,446 512,445 512,443 512,442M535,460C535,459 534,458 533,457 533,456 532,455 532,453 532,452 532,451 532,450 532,449 532,447 532,447M527,458C527,457 527,455 527,454 527,452 527,451 527,450 527,448 527,447 528,446 528,445 529,443 530,442M599,467C600,468 600,473 601,477 601,480 602,483 603,487 603,490 604,493 606,496 607,499 609,504 610,505M606,496C606,497 608,498 610,499 611,500 613,501 614,502 616,503 617,504 618,505 619,507 620,509 620,510M603,487C603,487 604,489 605,490 606,491 607,492 608,493 609,495 610,496 611,497 611,498 612,500 613,500M601,477C601,477 600,480 600,481 600,483 599,484 599,486 599,487 598,489 598,490 598,492 598,494 598,495M602,483C602,484 601,486 600,488 599,490 599,492 598,494 597,496 596,498 595,500 594,501 593,504 593,505M598,494C598,494 596,495 596,496 595,496 595,497 594,498 594,499 593,499 593,500 592,501 592,502 591,502M600,488C600,489 599,489 598,489 597,490 596,490 595,491 594,491 594,491 593,492 592,492 591,493 591,493M602,473C601,474 598,476 596,477 594,478 592,479 590,480 588,482 586,483 584,484 582,485 579,487 578,487M584,484C584,484 582,484 581,484 580,484 579,485 578,485 577,485 576,485 575,486 574,486 572,487 572,487M596,477C596,478 595,480 594,481 593,482 593,484 593,485 592,487 591,488 591,489 590,491 590,493 590,493M605,455C605,456 605,459 606,461 606,463 607,465 607,467 607,469 607,471 607,473 607,475 606,478 606,479M606,461C606,462 605,463 605,464 605,465 605,466 604,467 604,468 604,469 603,470 603,471 602,472 602,473M606,461C605,461 604,463 604,463 603,464 603,465 602,466 602,467 601,468 601,469 600,469 599,471 599,471M555,505C554,506 550,507 548,509 545,510 543,510 541,512 538,513 536,515 534,517 532,519 529,522 528,523M541,512C540,513 540,515 540,516 540,517 540,519 540,520 540,522 539,523 539,524 539,526 539,528 539,529M534,517C534,518 533,520 533,521 532,523 532,524 531,526 531,527 530,529 529,530 529,532 528,534 528,535M549,515C548,516 548,521 548,524 547,526 547,529 547,532 547,535 547,538 547,541 547,543 546,548 546,549M547,541C547,541 545,544 545,545 544,547 544,549 543,550 543,552 542,554 542,556 542,557 542,560 542,561M542,488C542,489 542,490 542,491 542,492 542,493 542,494 542,495 542,496 542,497 541,498 541,499 540,500M553,482C553,482 551,481 550,481 549,481 548,480 547,480 546,480 545,480 544,480 543,480 541,480 541,480M547,485C547,485 546,487 545,488 544,488 542,489 541,490 540,491 539,491 538,492 537,493 536,495 536,495M998,543C998,544 998,547 998,549 998,551 998,553 998,555 998,557 997,559 997,561 996,563 995,566 994,567M998,555C998,556 997,557 996,558 995,559 994,560 993,561 992,562 991,563 990,564 989,565 988,566 988,567M997,561C997,562 997,563 998,564 998,565 998,566 999,567 999,568 999,569 999,569 1000,570 1000,572 1001,572M998,555C998,555 999,557 999,558 999,559 1000,560 1000,561 1000,562 1001,563 1001,565 1001,566 1001,567 1001,568M1004,553C1005,554 1005,558 1005,560 1005,563 1006,565 1006,567 1006,570 1007,572 1007,575 1007,577 1007,581 1006,582M1007,575C1007,575 1008,576 1008,577 1009,578 1009,580 1009,581 1009,582 1010,583 1010,584 1010,585 1010,586 1010,587M989,534C989,535 991,539 992,542 993,544 993,547 994,549 995,552 996,555 997,557 998,560 1000,563 1001,564M997,557C997,558 996,560 996,561 996,563 995,564 994,565 994,567 993,568 992,569 991,570 990,572 989,572M997,557C997,558 999,559 1001,560 1002,560 1004,561 1005,562 1006,563 1007,564 1008,565 1009,566 1010,568 1011,569M979,518C979,519 980,523 981,525 982,527 983,529 983,532 984,534 985,536 986,538 986,540 988,544 988,545M981,525C981,525 982,527 983,529 984,530 984,532 985,533 986,534 987,536 987,537 988,538 989,541 989,541M986,538C985,539 985,541 985,543 985,544 985,545 984,547 984,548 983,550 983,551 982,552 982,555 982,555M962,501C963,501 967,500 969,500 972,499 974,499 977,499 979,498 981,498 984,497 986,496 989,495 991,495M984,497C984,497 985,495 986,495 987,494 988,493 989,493 990,492 991,492 992,492 993,491 995,491 995,491M969,500C970,500 971,501 972,501 973,502 974,503 975,503 976,504 977,505 978,505 979,506 980,507 981,507M984,497C984,497 986,498 988,498 989,499 991,499 992,499 994,499 995,500 997,500 998,501 1000,502 1001,502M979,518C980,518 984,518 986,519 988,519 991,519 993,519 995,519 997,520 999,521 1002,521 1005,522 1006,522M999,521C1000,521 1000,522 1001,523 1001,524 1002,525 1002,526 1003,526 1003,527 1004,528 1005,528 1006,529 1006,530M955,502C956,503 959,505 961,506 963,507 965,509 967,511 969,512 971,513 973,515 975,516 978,518 979,519M967,511C967,511 968,513 968,515 968,516 969,518 969,519 969,521 969,522 969,524 969,525 969,528 969,528M977,502C977,502 978,504 978,505 979,506 979,507 980,509 980,510 980,511 981,512 981,513 982,515 982,516M980,509C980,509 981,509 982,510 983,510 983,510 984,511 985,511 986,511 986,512 987,512 988,513 988,513M957,553C956,554 954,557 953,558 951,560 950,562 948,564 946,565 945,567 943,568 941,570 939,572 938,573M948,564C947,564 945,564 944,564 943,564 942,564 940,565 939,565 938,565 937,565 936,565 934,566 933,566M943,568C943,569 943,571 943,572 943,573 943,574 943,575 943,576 943,577 942,578 942,579 941,580 941,581M948,564C948,564 948,566 947,567 947,568 947,569 947,570 947,571 947,572 947,573 946,574 946,576 946,576M961,543C960,543 957,546 955,547 952,548 950,550 948,551 946,552 944,553 942,555 940,556 936,558 935,559M948,551C948,551 946,551 945,551 944,551 943,551 941,551 940,551 939,552 938,552 937,553 936,553 935,553M948,551C948,551 947,553 947,554 947,555 946,555 946,556 945,557 945,558 945,559 945,560 945,562 945,562M957,553C956,554 954,556 953,558 951,559 949,560 947,561 945,562 944,564 942,566 941,567 938,569 937,570M942,566C941,566 940,566 938,567 937,567 935,567 934,567 933,567 931,567 930,567 928,567 926,568 926,568M947,561C946,561 945,561 943,561 942,561 941,561 940,562 939,562 938,562 936,563 935,563 934,564 933,564M958,511C958,512 957,514 956,516 955,517 955,519 954,520 953,521 953,523 952,524 952,526 951,528 951,529M954,520C954,520 954,522 954,522 955,523 954,524 954,525 954,526 954,526 954,527 954,528 953,529 953,529M1005,564C1005,565 1005,567 1004,569 1004,571 1003,573 1003,574 1002,576 1001,577 1000,579 999,580 997,582 997,583M587,492C586,490 583,485 582,481 581,478 581,473 581,470 581,466 582,462 584,458 585,454 588,449 589,448M582,481C583,480 584,478 585,476 586,474 587,472 587,470 588,469 588,467 589,465 590,463 591,460 591,459M581,470C582,469 584,466 586,465 587,464 589,463 591,463 593,462 596,462 598,462 600,461 603,460 604,460M581,470C582,469 583,466 584,464 585,462 586,459 587,457 588,455 589,454 590,452 591,450 593,446 593,445M616,497C614,497 610,499 607,499 604,500 601,499 598,498 595,497 592,495 590,493 587,491 583,488 582,487M598,498C597,498 595,499 593,499 592,499 590,498 589,497 587,497 586,496 584,496 583,495 581,494 580,494M598,498C597,498 595,498 593,497 592,497 590,497 589,496 587,496 586,495 585,494 584,494 582,492 582,491M607,499C606,500 604,500 602,500 600,501 599,501 597,501 595,501 594,500 592,500 590,500 588,499 587,498M567,501C565,500 561,498 559,496 556,495 553,493 550,492 547,491 544,491 541,490 538,489 534,487 532,486M559,496C558,496 558,493 558,492 558,490 558,488 558,487 559,485 560,484 561,482 562,481 563,479 564,478M550,492C549,492 547,493 546,493 544,493 543,493 541,493 540,493 538,492 537,492 535,491 533,490 533,490M550,492C549,492 546,492 545,492 543,492 541,491 540,491 538,490 536,490 535,489 533,488 531,486 530,486M578,522C576,522 571,522 568,523 565,524 563,525 560,527 558,529 555,531 553,533 551,536 548,540 547,541M568,523C568,524 567,526 566,528 565,530 565,532 564,534 564,535 563,537 563,539 562,541 561,544 561,545M592,517C592,519 591,524 591,527 590,531 590,534 590,538 589,541 588,544 587,547 586,551 584,555 583,557M587,547C587,548 587,551 587,552 587,554 587,555 587,557 587,558 587,560 588,561 588,563 589,565 589,566M587,547C586,548 584,551 583,552 582,554 581,556 580,557 579,559 578,561 577,562 576,564 574,566 573,566M591,527C590,528 589,531 588,532 587,533 586,535 585,536 583,537 582,539 580,540 579,541 577,542 576,543M568,512C566,512 562,509 558,508 555,507 552,505 549,504 545,503 542,503 538,503 535,503 529,504 528,504M558,508C558,507 557,505 557,503 557,501 557,500 557,498 557,496 556,495 556,493 556,491 556,489 556,488M538,503C537,504 535,507 534,508 533,510 531,511 529,513 528,514 526,516 525,517 523,519 521,521 520,522M582,511C581,510 577,507 574,506 571,504 568,502 564,501 561,500 558,499 554,499 551,499 546,500 544,500M564,501C564,500 562,498 562,496 562,494 562,492 562,490 563,488 564,486 565,484 566,483 567,480 568,479M564,501C563,502 560,503 558,503 556,504 554,504 552,504 550,504 548,504 546,503 544,502 541,500 540,499M554,499C553,499 551,497 549,497 547,496 545,496 543,495 541,495 539,494 537,494 535,493 532,493 531,493M554,513C552,513 546,513 542,513 538,513 534,512 530,512 527,512 523,511 519,512 515,512 509,513 507,514M519,512C518,511 515,509 513,508 511,507 509,506 507,505 505,504 503,503 501,503 499,502 495,502 494,502M542,513C541,512 539,510 538,509 537,507 537,505 536,503 535,502 535,500 534,498 534,496 534,493 534,492M594,542C593,543 592,547 590,550 588,552 586,554 584,556 581,558 579,561 577,562 574,564 570,566 569,567M577,562C576,562 574,562 572,563 570,563 569,563 567,564 566,565 564,566 563,566 562,567 559,568 559,569M577,562C576,562 574,562 572,563 571,563 569,563 568,563 566,564 565,564 564,565 562,565 560,565 559,566M611,525C611,527 611,530 611,533 611,535 610,538 610,540 609,543 610,546 610,548 610,551 610,554 611,556M610,540C609,541 608,543 607,544 607,546 606,547 606,549 606,550 605,552 605,553 605,555 605,557 604,558M610,548C610,549 612,550 613,551 613,552 614,553 615,554 616,555 616,556 617,557 618,558 618,560 619,561M610,548C610,549 609,551 609,552 608,553 608,554 607,555 607,557 607,558 607,559 606,560 606,562 606,563M594,542C593,542 589,543 587,543 584,544 582,546 580,547 578,548 576,549 573,550 571,551 567,552 566,552M580,547C579,547 578,547 577,547 576,547 574,548 573,548 572,549 572,550 571,550 570,551 569,552 568,553M587,543C587,544 586,546 585,547 585,549 585,550 585,551 584,553 583,554 583,555 583,557 582,559 582,559M596,521C596,522 596,523 595,525 595,526 594,527 594,528 593,529 593,530 593,532 592,533 592,535 592,535M591,525C591,526 591,528 591,529 591,530 591,531 591,532 591,533 592,534 592,535 592,536 593,538 593,538M591,525C591,526 590,528 590,529 590,531 590,532 589,533 589,534 588,536 588,537 587,538 587,540 587,541" stroke-width="1"/><path d="M500,441C499,443 495,448 493,451 490,455 488,458 485,461 483,464 481,468 479,472 477,475 475,479 473,483 471,486 469,492 468,494M662,454C662,455 661,457 661,458 661,459 660,460 660,461 659,462 659,463 658,464 658,465 657,467 657,468M666,450C666,450 666,452 665,453 665,454 665,455 664,456 664,456 663,457 662,458 662,459 661,460 661,461M674,443C673,443 672,443 672,443 671,443 670,444 669,444 669,444 668,444 667,445 667,445 666,445 665,446M471,453C470,453 467,452 465,452 463,452 461,453 459,453 457,454 455,455 453,456 452,457 449,458 448,459M461,455C460,455 458,454 456,453 455,453 453,453 452,453 450,452 449,452 447,453 446,453 444,454 443,454M461,455C460,456 459,458 458,459 458,461 457,462 456,463 456,465 455,466 454,468 454,469 453,471 453,472M656,497C656,498 656,500 656,501 656,502 656,504 656,505 656,506 656,507 656,509 657,510 656,512 656,512M657,489C657,489 655,491 655,492 654,493 653,494 653,495 652,496 652,497 651,498 651,499 650,501 650,502M495,517C494,517 492,517 491,517 490,517 488,517 487,517 486,517 485,518 484,519 482,519 481,520 480,521M501,513C501,513 500,515 500,516 500,517 500,518 499,519 499,521 499,522 499,523 499,524 500,526 500,526M501,513C501,514 500,516 500,517 500,519 499,520 499,522 498,523 498,525 497,526 496,527 495,529 495,530M691,447C690,446 689,445 689,445 688,444 687,444 686,443 685,443 684,442 684,442 683,441 681,441 681,441M691,447C690,447 688,447 687,447 686,447 684,447 683,447 682,447 681,447 680,448 678,448 677,449 676,449M639,508C640,509 640,514 640,517 640,519 640,522 640,525 640,528 640,531 640,533 640,536 641,540 641,542M670,484C668,485 665,488 663,490 661,492 658,494 656,497 654,499 653,502 651,504 649,507 646,510 645,511M738,444C738,445 739,447 739,448 739,449 739,451 739,452 739,453 739,454 739,456 739,457 739,459 739,459M736,450C736,450 737,451 738,452 738,453 738,454 739,455 739,456 739,457 740,458 740,458 740,460 740,460M723,448C724,449 724,450 725,451 725,452 725,453 726,454 726,455 727,456 727,457 728,458 728,460 728,460M723,448C724,449 725,450 725,452 726,453 726,454 727,455 728,456 728,457 729,458 730,459 731,460 731,461M735,444C734,444 733,445 732,446 731,447 730,448 729,448 728,449 728,450 727,451 727,452 726,454 726,455M735,444C735,444 734,445 734,446 733,447 733,448 733,449 732,449 732,450 732,451 732,452 731,453 731,453M669,522C668,522 667,525 667,526 666,527 666,529 665,530 664,532 663,533 663,535 662,536 661,538 660,539M667,508C668,508 670,510 671,511 673,512 674,513 675,514 676,515 678,516 679,517 680,518 682,520 682,521M656,535C655,535 653,538 651,540 649,541 647,543 645,544 643,546 642,548 640,549 638,551 635,553 634,553M662,514C662,515 663,518 664,520 665,522 665,525 666,527 667,529 668,531 668,533 669,535 671,538 671,539M666,504C665,504 663,506 662,508 661,509 659,510 658,512 657,513 657,515 656,517 655,519 653,521 653,522M733,456C732,456 732,457 731,458 731,459 730,460 729,460 729,461 728,462 727,462 726,463 725,464 725,464M733,456C732,456 731,455 730,455 729,455 728,454 727,454 726,454 725,453 724,453 723,453 721,452 721,452M739,454C738,454 737,456 737,457 736,458 736,459 735,460 735,461 735,462 735,463 734,464 734,466 734,466M749,449C749,449 748,447 748,446 748,445 748,444 748,443 747,442 747,441 747,440 747,439 746,438 746,437M749,449C748,449 748,447 747,446 747,445 746,444 746,443 746,442 746,441 746,440 746,439 746,437 746,437M761,452C761,452 759,453 758,454 757,454 756,455 755,456 754,456 753,457 752,458 751,458 750,459 750,460M754,464C753,464 752,465 750,466 749,467 748,467 746,467 745,468 744,469 743,469 741,470 740,472 739,472M738,504C737,504 736,504 734,504 733,504 732,505 731,505 730,505 728,505 727,505 726,505 724,506 724,506M738,504C738,504 738,506 738,507 738,508 738,508 738,509 738,510 738,511 737,512 737,513 737,515 737,515M728,497C728,497 725,497 724,497 722,497 720,496 719,496 718,495 716,494 715,493 714,491 713,490 712,489M728,497C728,496 726,495 726,494 725,493 724,491 724,490 723,489 722,488 722,487 721,485 721,483 721,483M736,497C735,497 734,496 734,495 733,494 732,493 732,491 731,490 731,489 731,488 731,487 731,485 731,484M703,579C702,581 696,586 693,590 690,594 689,598 686,602 683,606 679,609 676,613 672,616 668,619 664,622 661,626 656,631 654,633M783,579C783,581 783,587 783,590 782,594 781,597 780,600 779,604 778,607 777,611 775,614 773,616 771,620 769,623 767,628 767,629M849,519C849,519 849,521 849,523 849,524 849,525 849,526 849,528 849,529 850,530 850,531 850,533 850,534M839,542C839,543 839,546 839,548 838,550 838,552 838,554 837,555 838,557 837,559 837,561 837,564 837,565M837,533C837,533 836,536 835,538 833,540 832,541 831,542 829,544 829,546 828,548 827,549 824,551 824,552M766,455C765,456 764,457 763,458 762,459 761,460 760,461 759,461 758,462 757,464 756,465 755,467 755,467M773,452C772,452 771,451 769,451 768,451 767,451 766,451 765,451 764,452 763,452 761,452 760,453 759,453M780,448C779,448 777,448 776,448 774,448 773,447 772,447 770,447 769,447 768,448 766,448 764,448 763,448M888,532C887,533 887,537 886,539 885,541 884,543 883,546 882,548 882,550 882,553 881,555 880,559 880,560M894,465C895,466 898,467 899,468 901,468 902,469 904,470 905,470 907,471 908,472 910,472 912,474 913,474M904,466C905,466 906,465 908,464 909,463 910,462 911,462 912,461 913,460 914,459 915,458 917,457 918,457M900,459C900,459 902,461 904,462 905,463 906,464 908,465 909,466 911,467 912,468 913,469 915,471 915,472M907,476C907,477 907,479 907,481 907,483 906,485 906,487 906,488 906,490 905,492 905,494 905,497 905,497M938,474C939,475 940,477 941,478 941,479 942,480 943,481 944,482 945,483 945,484 946,485 947,486 948,487M940,482C941,483 942,485 943,486 943,488 944,489 945,490 946,492 946,493 947,495 947,496 947,498 947,499M936,466C937,467 938,467 940,468 941,468 942,468 943,469 944,469 945,470 946,470 947,471 948,472 949,472M922,462C922,463 920,464 920,466 919,467 918,468 917,469 917,471 916,472 915,473 914,475 913,477 913,477M985,502C985,502 984,503 984,504 984,505 983,505 983,506 982,507 982,507 982,508 981,509 981,510 981,510M1083,507C1084,508 1088,511 1091,513 1093,515 1095,518 1097,520 1099,523 1101,525 1103,528 1105,530 1107,533 1109,535 1111,538 1114,541 1115,543M1090,526C1091,526 1096,527 1099,528 1102,528 1105,527 1108,528 1111,528 1114,528 1117,528 1120,528 1124,527 1126,527M1112,549C1114,549 1120,550 1124,551 1128,552 1131,554 1135,556 1139,557 1143,558 1147,559 1151,560 1156,563 1158,564M1112,549C1111,550 1110,555 1109,558 1108,561 1108,564 1108,567 1108,570 1107,573 1107,576 1107,579 1108,584 1108,585M918,473C919,473 922,474 924,474 926,475 927,475 929,476 931,476 933,477 935,478 937,479 939,480 940,481M1147,521C1147,521 1149,522 1150,523 1151,524 1151,526 1152,527 1153,528 1153,529 1154,530 1155,531 1155,533 1156,534M1147,521C1148,521 1150,520 1152,520 1154,520 1155,520 1157,520 1158,520 1160,521 1162,521 1163,522 1165,524 1166,524M1106,492C1107,493 1108,497 1110,499 1111,501 1112,503 1114,505 1115,507 1117,509 1118,511 1120,512 1122,514 1123,516 1125,518 1127,521 1128,522M947,460C946,460 944,461 942,461 941,461 939,462 938,462 936,462 935,463 933,463 932,464 930,464 929,464M958,450C957,450 955,450 954,451 953,451 951,452 950,452 949,453 948,453 947,454 945,454 944,455 943,456M955,471C955,471 953,473 953,474 952,475 951,476 951,478 950,479 950,480 950,482 950,483 949,485 949,486M955,471C955,471 956,473 956,474 957,475 957,476 957,478 957,479 957,480 957,481 957,482 957,484 957,485M1006,531C1006,532 1007,534 1008,535 1008,536 1008,538 1009,539 1009,540 1010,541 1011,542 1012,544 1013,545 1014,546M1013,534C1013,534 1016,533 1018,533 1020,533 1022,533 1024,533 1025,533 1027,534 1029,534 1031,535 1033,536 1034,536M1062,530C1063,531 1069,532 1072,534 1075,536 1078,538 1082,540 1085,542 1088,544 1091,546 1094,548 1097,551 1100,553 1103,555 1108,557 1109,558M1082,528C1084,528 1091,530 1096,531 1100,532 1105,532 1110,533 1114,535 1119,537 1123,540 1127,542 1131,545 1135,547 1139,550 1146,553 1148,554M1069,529C1070,530 1073,532 1075,534 1076,535 1078,537 1080,539 1082,540 1084,541 1085,543 1087,545 1088,547 1089,549 1091,551 1092,554 1092,556M890,458C891,458 897,458 900,459 904,460 907,461 910,463 913,465 916,467 918,469 921,472 925,476 926,477M878,453C878,454 881,456 882,458 883,460 883,463 884,465 885,467 886,469 887,471 888,473 889,476 889,477M890,458C891,458 896,457 900,456 903,455 906,454 910,453 913,453 917,453 920,453 924,452 929,451 931,451M554,458C553,460 548,466 545,471 542,475 539,479 537,484 535,489 534,494 533,499 532,504 532,510 531,515 530,520 528,528 527,530M530,464C527,464 520,465 515,465 511,464 506,463 501,463 496,463 491,464 487,465 482,465 477,466 472,466 468,467 461,469 458,469M535,462C534,462 529,462 525,462 522,463 519,464 515,464 512,465 509,465 506,466 503,467 499,468 496,469 493,470 489,472 487,472M656,444C655,445 653,448 651,450 650,452 649,454 648,456 647,458 646,460 645,463 644,465 643,469 643,470M655,458C656,459 657,463 658,465 659,468 659,470 659,473 659,476 659,478 659,481 659,484 659,488 659,489M635,557C635,559 634,562 633,565 633,567 633,570 633,572 633,575 633,577 633,580 633,582 633,585 634,587 634,590 634,594 635,595M737,493C736,494 733,497 731,499 729,501 728,504 726,506 724,508 722,509 720,511 718,513 715,515 714,516M643,555C642,557 639,564 636,568 634,573 631,577 628,581 625,585 622,589 619,593 616,597 613,601 610,606 607,610 603,616 602,618M635,557C633,557 625,555 620,553 615,552 610,550 605,549 600,548 595,548 590,548 584,549 579,551 574,552 569,553 562,554 559,554M707,540C707,541 706,546 706,549 707,552 707,555 708,558 709,561 710,564 711,567 712,570 712,574 712,576M678,541C677,543 674,548 672,551 670,555 667,559 666,562 664,566 664,571 663,575 662,579 660,583 659,587 658,591 657,597 657,599M715,512C714,513 714,514 714,515 714,516 714,517 715,518 715,519 715,521 715,522 715,523 715,524 715,525M715,512C715,513 715,514 715,515 715,517 716,518 716,519 716,520 716,521 717,522 717,523 718,525 718,525M722,503C722,503 722,506 722,507 722,509 722,510 721,512 721,514 721,515 721,517 720,518 719,521 719,521M629,559C628,560 624,562 622,563 619,564 616,565 613,565 611,566 608,566 605,566 602,566 598,566 596,566M840,555C839,556 835,559 832,561 829,564 826,566 823,568 820,570 817,571 813,573 810,575 807,577 804,579 801,581 797,585 796,586M834,575C832,576 827,580 824,583 821,586 817,589 814,591 810,594 806,595 803,598 799,600 796,603 793,606 790,609 786,614 784,616M830,589C830,590 831,594 832,596 832,598 834,600 834,602 835,604 836,606 837,608 837,611 838,613 839,615 840,617 842,620 842,621M847,505C847,508 847,516 847,521 847,526 846,531 845,536 844,541 843,547 841,552 840,557 839,562 837,567 835,572 831,578 830,581M826,599C826,601 825,604 825,607 824,609 824,612 823,614 822,617 820,619 819,621 818,623 816,627 816,628M957,448C958,448 960,449 961,449 962,450 963,450 964,451 966,452 967,452 968,453 969,454 971,455 971,455M949,432C949,432 948,434 948,435 947,435 946,436 946,437 945,438 944,439 943,439 942,440 941,441 941,441M954,443C954,443 953,445 953,446 952,447 952,448 951,449 951,450 950,450 949,451 948,452 948,454 947,454M1017,448C1018,450 1022,454 1024,457 1026,459 1028,463 1029,466 1031,469 1032,473 1033,476 1034,480 1035,483 1036,487 1037,490 1037,496 1038,497M1100,471C1102,471 1107,473 1110,475 1114,476 1117,477 1120,478 1124,479 1128,479 1131,480 1135,481 1140,482 1142,483M590,461C588,461 583,462 580,463 576,464 574,466 570,468 567,469 564,469 560,470 557,471 554,473 551,475 548,476 543,477 542,478M590,461C587,461 579,463 574,463 569,463 564,463 558,462 553,461 548,460 543,459 538,459 533,459 527,459 522,459 514,460 512,460M601,452C601,454 601,462 599,467 598,471 595,476 594,480 593,485 592,490 591,495 591,500 590,505 589,510 588,515 586,522 586,524M570,473C569,475 567,480 566,484 564,488 562,491 560,495 559,498 557,502 555,505 553,509 551,512 549,515 546,518 543,523 541,525M559,479C558,480 555,481 553,482 551,483 549,484 547,485 546,486 544,487 542,488 541,490 539,492 538,493M971,517C973,518 977,522 980,525 983,528 986,531 989,534 992,537 995,539 998,543 1000,546 1002,549 1004,553 1007,556 1011,561 1012,563M955,492C956,493 959,498 962,501 965,504 968,507 971,509 974,512 976,515 979,518 982,521 985,524 988,526 991,529 996,532 997,533M955,492C955,493 954,498 955,502 955,505 956,509 957,512 958,515 959,519 961,522 962,525 964,527 966,530 968,533 971,538 972,539M953,488C954,488 956,491 958,492 960,493 962,495 964,496 966,497 969,498 971,499 973,500 975,501 977,502 979,503 982,504 983,505M967,511C967,512 966,518 966,521 965,525 965,529 964,532 963,536 962,539 961,543 960,546 958,550 957,553 956,557 956,562 955,564M955,492C955,493 956,496 956,498 957,500 957,503 957,505 958,507 958,509 958,511 959,514 959,516 959,518 960,520 961,523 961,525M989,542C990,543 993,547 994,549 996,552 998,554 999,557 1001,559 1003,561 1005,564 1007,566 1009,570 1010,571M630,499C628,499 621,498 616,497 611,496 606,495 602,494 597,493 592,493 587,492 582,491 577,490 573,490 568,490 560,492 558,492M619,508C617,508 610,507 606,507 602,506 597,505 593,505 589,504 584,503 580,503 575,502 571,501 567,501 562,501 556,501 554,501M608,514C605,515 597,516 592,517 587,518 582,520 578,522 573,524 568,526 564,529 560,531 555,534 551,537 547,540 540,545 538,546M611,512C609,512 601,513 597,513 592,512 587,511 582,511 578,511 573,512 568,512 563,513 558,512 554,513 549,514 542,517 540,518M623,505C622,507 619,512 617,515 615,518 613,522 611,525 609,528 606,531 603,534 600,537 597,539 594,542 591,545 587,549 586,550M602,517C601,518 598,520 596,521 594,522 592,524 591,525 589,527 587,529 586,530 584,532 583,535 582,536" stroke-width="1.5"/><path d="M635,439C634,438 631,436 629,435 627,434 625,433 623,432 621,431 620,429 618,428 616,428 613,428 612,428M638,458C637,458 635,461 633,462 631,463 630,465 628,466 626,468 625,469 624,471 622,472 620,475 620,476M638,458C637,458 633,459 631,460 629,461 627,462 625,463 622,464 620,465 618,466 616,467 613,469 612,469M622,465C621,465 618,466 616,466 615,467 613,468 611,469 610,470 609,472 607,473 606,474 604,476 603,476M481,449C479,450 474,452 471,453 468,454 464,454 461,455 457,456 454,458 451,459 447,461 443,463 441,464M669,437C668,437 668,438 667,438 666,438 665,439 665,439 664,440 664,440 663,441 663,442 662,443 662,443M666,441C666,441 666,443 666,444 667,445 667,445 667,446 668,447 668,448 669,449 669,449 670,451 670,451M672,431C672,431 671,432 671,433 671,433 671,434 671,435 670,435 670,436 670,437 670,437 670,439 670,439M653,471C654,473 655,477 656,480 657,483 657,486 657,489 657,491 656,494 656,497 655,500 653,504 653,506M735,448C734,449 733,451 733,452 733,454 732,455 732,457 732,458 731,459 731,461 731,462 731,464 731,465M735,448C735,449 737,450 738,450 739,451 739,452 740,453 741,454 741,455 742,456 743,457 744,459 744,459M663,450C662,451 661,452 660,453 659,454 659,456 658,457 657,458 657,459 657,461 656,462 656,464 656,465M648,478C649,479 650,480 651,481 651,482 652,483 653,484 654,485 654,486 655,487 656,488 656,490 657,491M648,485C647,486 646,486 644,487 643,487 642,488 641,489 640,489 639,490 638,491 637,492 635,494 635,494M648,478C649,478 650,480 651,481 652,482 653,483 654,484 655,485 656,486 656,486 657,487 659,489 659,489M661,438C661,438 659,438 659,438 658,438 657,438 656,438 655,439 655,439 654,439 653,439 652,440 652,440M674,452C674,452 675,453 676,454 676,455 677,455 677,456 678,456 679,457 679,457 680,458 681,459 682,459M508,509C507,510 503,512 501,513 499,514 497,515 495,517 493,519 491,521 490,523 489,525 487,529 486,530M684,446C683,445 682,443 682,442 681,441 681,439 680,438 680,436 680,435 680,433 680,432 681,430 682,429M697,447C696,447 693,447 691,447 689,447 687,447 685,447 683,447 681,447 679,447 677,447 674,447 673,447M681,479C679,480 674,483 670,484 666,486 661,487 658,489 654,492 651,495 648,498 645,501 642,505 639,508 637,511 632,516 630,517M706,448C705,448 703,448 701,448 700,448 698,448 696,448 695,448 693,448 692,448 690,448 688,448 687,448M703,453C702,453 700,454 699,455 698,455 697,456 696,457 695,458 694,458 693,459 691,460 690,461 689,461M745,434C744,434 742,437 741,439 740,440 739,442 738,444 737,446 736,448 736,450 735,452 735,455 735,456M725,443C725,444 724,446 723,448 723,450 723,452 723,454 722,456 722,458 722,460 722,462 722,465 721,466M735,438C735,439 735,442 735,444 735,446 734,448 734,450 733,452 732,454 732,456 731,458 731,461 731,462M564,547C563,548 559,548 557,549 555,550 553,551 551,552 549,553 547,554 545,555 542,556 540,558 539,559M743,499C742,499 740,502 738,504 737,506 735,508 734,510 733,512 732,514 731,516 730,519 729,522 728,523M743,499C742,498 738,498 736,497 733,497 731,497 728,497 726,497 723,496 721,497 719,497 715,498 714,498M775,447C775,447 776,448 776,448 777,449 778,449 778,449 779,450 779,450 780,451 780,451 781,452 781,452M774,443C774,444 775,444 776,445 776,445 777,445 778,446 778,446 779,447 780,447 780,448 781,448 782,448M692,587C691,588 690,590 688,591 687,593 685,594 684,595 683,597 681,598 679,599 678,600 675,601 675,602M798,479C798,480 798,482 798,483 798,484 798,485 798,487 798,488 798,489 798,490 798,492 799,493 799,494M798,479C797,479 795,481 794,482 793,483 792,484 790,485 789,486 788,487 787,488 786,489 785,492 785,492M778,594C776,596 771,601 768,606 765,610 762,614 760,619 758,624 757,629 756,634 755,639 755,644 754,649 753,655 750,662 750,664M762,616C761,617 759,620 758,623 757,625 757,627 756,630 755,632 755,635 754,637 753,639 750,643 750,644M874,598C874,600 874,607 875,612 875,617 876,621 876,626 876,630 876,635 876,640 875,645 874,649 873,654 873,658 873,665 873,668M899,572C898,573 896,575 895,577 894,579 893,580 891,582 890,584 890,585 889,587 888,589 886,592 886,592M858,613C857,614 854,616 852,617 850,619 848,620 846,622 844,624 843,626 841,628 840,630 838,633 838,635M1059,503C1061,504 1064,509 1066,512 1069,515 1071,518 1074,520 1077,523 1080,525 1083,528 1085,531 1088,534 1090,537 1092,540 1095,545 1095,547M852,431C852,431 853,431 854,431 854,431 855,431 856,431 856,431 857,431 858,431 858,431 859,431 860,431M849,431C849,430 850,430 850,429 851,429 851,429 852,429 852,428 853,428 853,428 854,428 855,428 855,428M858,441C858,441 858,443 858,443 858,444 858,445 858,446 858,446 858,447 858,448 857,449 857,450 857,450M862,448C862,449 862,450 861,451 861,452 861,452 861,453 861,454 860,455 860,455 860,456 860,457 860,458M860,445C860,445 861,446 862,446 862,447 863,448 863,448 864,449 865,449 865,450 866,450 867,451 867,451M846,436C846,436 847,436 848,436 849,436 850,437 850,437 851,437 852,437 853,438 853,438 854,439 854,439M1123,515C1125,516 1129,516 1131,516 1134,517 1137,517 1139,518 1142,519 1144,520 1147,521 1150,521 1154,522 1155,522M938,468C938,469 938,470 938,471 938,473 937,474 937,475 937,476 937,477 937,478 936,479 936,481 936,482M943,474C944,474 946,475 947,475 949,476 950,476 951,477 952,478 953,479 954,479 955,480 957,481 958,482M922,469C923,469 924,470 926,471 927,471 927,472 928,473 929,474 930,475 931,476 932,477 934,478 934,479M923,471C924,472 925,473 925,474 926,475 926,476 926,477 927,478 927,479 928,480 928,481 928,482 929,483M921,478C921,478 919,479 918,480 917,481 916,482 915,483 914,483 913,484 911,485 910,486 909,486 908,487M921,478C921,478 922,480 923,481 923,481 924,482 924,483 925,484 925,485 926,486 926,487 927,488 927,489M948,455C950,456 956,459 959,461 963,463 967,465 970,467 974,469 976,473 980,475 983,478 988,481 990,482M956,469C958,470 964,473 968,474 971,475 976,476 979,478 983,479 987,481 991,482 995,483 1001,484 1003,485M940,442C940,444 940,450 939,454 938,459 937,463 936,467 935,471 935,475 935,479 935,484 935,490 935,492M1125,503C1125,503 1128,505 1129,505 1131,506 1133,507 1134,508 1136,508 1137,509 1139,509 1141,510 1143,510 1144,511M999,528C1001,528 1004,530 1006,531 1008,532 1010,533 1013,534 1015,535 1017,536 1019,537 1021,538 1023,540 1025,542 1026,543 1028,546 1029,547M950,553C949,554 946,558 943,560 940,562 937,564 935,566 932,568 930,571 927,573 924,575 920,577 918,578M974,519C974,520 976,522 977,524 978,526 979,527 980,529 981,530 982,532 983,533 984,535 986,537 987,538M1091,527C1092,527 1097,526 1100,526 1103,526 1106,525 1109,525 1112,524 1115,524 1118,524 1121,524 1125,525 1127,525M668,420C667,422 662,427 660,431 658,435 657,440 656,444 655,448 655,453 655,458 655,462 655,467 656,471 657,476 659,482 660,484M508,472C506,472 502,474 498,474 495,475 492,475 489,475 485,475 482,475 479,475 476,475 471,473 469,473M715,515C714,517 710,523 709,527 708,531 708,536 707,540 706,544 704,548 703,552 702,557 702,561 702,565 702,570 703,576 703,579M845,494C845,495 845,499 845,502 845,504 844,507 844,509 843,512 842,514 842,517 841,519 841,522 841,524 841,527 842,531 842,532M1006,446C1007,447 1010,451 1011,454 1013,456 1015,459 1017,461 1019,464 1022,466 1023,469 1025,471 1026,474 1028,477 1030,480 1033,483 1034,485M1011,447C1013,449 1017,453 1020,456 1022,459 1024,463 1026,466 1028,470 1030,473 1032,477 1034,480 1038,483 1040,486 1043,489 1046,494 1047,496M601,452C600,455 598,462 596,467 595,472 594,477 592,482 590,487 588,492 586,497 584,501 581,506 579,511 577,516 574,523 573,526M609,444C609,445 608,449 608,452 607,454 606,457 605,460 605,462 604,465 604,467 604,470 604,473 603,475 602,478 601,482 601,483M607,446C607,448 606,452 605,455 604,458 603,461 603,464 602,467 602,470 602,473 602,476 602,480 602,483 602,486 604,490 604,492" stroke-width="2"/><path d="M712,443C711,443 711,445 710,446 710,447 709,448 709,449 708,451 708,452 708,453 707,454 706,456 706,456M712,443C712,443 714,444 715,445 717,445 718,446 719,446 720,447 722,447 723,448 724,448 726,450 727,450M669,493C668,495 667,500 666,504 665,507 663,510 662,514 660,517 659,520 658,524 657,527 657,531 656,535 655,538 655,544 654,545M745,454C744,454 741,454 739,454 737,454 735,455 733,456 731,456 729,457 727,458 725,459 722,461 721,461M755,450C754,450 751,449 749,449 747,449 745,448 743,448 741,447 739,447 737,446 735,446 732,447 731,447M764,445C763,447 762,450 761,452 760,454 759,456 758,458 756,460 755,462 754,464 753,466 752,469 752,470M832,513C834,514 838,514 841,515 844,515 846,517 849,519 851,520 854,521 857,523 859,524 863,527 864,528M832,513C832,515 833,520 834,523 835,526 836,529 837,533 838,536 838,539 839,542 840,545 843,549 844,551M788,447C786,447 782,447 780,448 778,449 775,451 773,452 771,453 768,454 766,455 763,456 760,458 759,458M885,498C884,500 884,506 884,510 884,513 885,517 886,521 887,524 887,528 888,532 888,536 887,539 888,543 889,547 890,552 891,554M982,487C982,488 982,490 982,492 982,494 983,495 983,497 984,498 984,500 985,502 985,503 986,505 987,506M1067,504C1069,506 1074,512 1078,515 1082,519 1086,522 1090,526 1094,530 1098,533 1101,537 1105,541 1108,545 1112,549 1115,553 1120,559 1122,561M898,446C900,447 903,452 905,455 907,458 910,461 912,464 914,467 916,470 918,473 920,476 923,481 924,482M963,445C962,446 959,448 958,450 956,452 954,454 952,455 951,457 949,459 947,460 945,462 942,464 941,465M962,458C962,459 960,462 959,464 958,467 956,468 955,471 954,473 953,475 953,477 952,479 952,483 951,484M726,499C726,499 723,501 722,503 721,504 720,506 718,507 717,509 716,510 715,512 713,514 713,515 712,517 711,519 710,522 710,523M945,427C946,427 948,430 949,432 950,433 951,435 952,437 953,439 954,441 954,443 955,444 956,446 957,448 958,450 960,452 960,453" stroke-width="2.5"/><path d="M677,442C676,443 673,444 671,446 669,447 668,448 666,450 665,451 663,453 662,454 660,456 659,459 658,460M679,435C679,436 678,438 677,439 676,441 675,442 674,443 673,444 671,445 670,447 669,448 667,450 667,450M646,436C644,436 639,438 635,439 631,440 626,440 623,441 619,442 615,444 611,446 608,447 602,449 600,450M661,429C660,431 657,436 655,440 652,443 650,446 647,449 644,452 640,455 638,458 635,461 632,466 631,468M633,444C632,445 629,451 628,455 626,458 624,462 622,465 620,469 617,472 614,475 612,478 607,482 606,483M740,448C739,448 737,448 736,449 734,449 733,449 731,449 730,449 728,449 727,450 726,450 724,451 723,451M675,428C675,429 673,431 672,432 671,433 670,435 669,437 668,438 667,440 666,441 665,443 663,445 662,445M675,428C675,428 673,430 672,431 671,431 670,432 669,433 668,434 667,435 666,436 665,437 663,438 663,438M664,442C664,443 663,448 663,450 662,453 661,456 660,459 659,462 658,464 657,467 656,470 656,474 655,476M649,463C649,464 648,468 648,471 648,473 648,476 648,478 648,480 648,483 648,485 648,488 646,491 646,493M668,434C667,435 666,436 665,437 663,437 662,438 661,438 660,439 658,439 657,439 656,440 654,440 653,440M668,434C668,435 670,438 670,440 671,442 671,444 672,446 673,448 674,450 674,452 675,454 674,457 674,458M709,445C708,445 705,445 703,445 701,445 699,445 696,445 694,445 692,445 690,445 688,445 686,446 684,446 682,446 678,445 677,445M669,493C669,495 668,498 668,500 668,503 667,505 667,508 667,510 667,512 668,515 668,517 668,519 669,522 669,524 670,528 670,529M771,436C772,437 772,439 773,440 773,441 773,442 774,443 774,445 774,446 775,447 775,448 775,450 775,451M808,468C807,469 805,472 803,474 802,476 800,477 798,479 796,481 794,482 792,484 790,486 789,488 787,490 786,491 783,494 782,495M895,551C896,553 898,558 898,561 899,565 898,569 899,572 899,576 899,580 899,583 900,587 901,590 902,594 903,598 903,603 903,605M885,466C886,466 891,465 894,465 898,465 901,466 904,466 907,466 910,466 914,466 917,466 922,467 923,467M885,466C886,465 890,464 893,463 895,461 897,460 900,459 902,458 905,457 908,457 911,457 915,458 916,458M898,472C899,472 904,474 907,476 910,477 913,480 916,482 918,485 920,488 922,491 923,494 926,499 927,500M933,459C933,460 935,464 936,466 937,469 938,472 938,474 939,477 939,480 940,482 941,485 943,489 943,490M920,452C920,453 921,459 922,462 924,465 925,469 926,472 927,476 928,479 929,483 930,486 931,491 932,493M867,445C869,446 874,450 878,453 882,455 886,456 890,458 894,460 897,463 901,465 905,467 909,469 913,471 917,473 923,476 925,477M938,499C939,501 943,507 944,511 946,516 948,520 949,525 950,529 951,534 951,539 951,543 950,548 950,553 951,557 952,564 952,566M951,508C953,508 956,510 959,511 961,513 964,514 966,516 969,517 971,518 974,519 976,520 979,521 982,522 984,524 987,526 988,527M737,482C737,484 737,489 737,493 736,497 736,501 736,505 736,509 736,513 736,517 735,521 734,525 733,529 733,533 731,539 731,540" stroke-width="3"/><path d="M763,439C763,439 763,441 763,442 763,443 762,444 762,445 762,446 762,447 762,448 762,449 761,451 761,451M752,468C752,468 751,470 751,471 750,472 750,473 749,474 749,475 748,476 748,477 747,478 747,480 747,480M742,432C742,433 742,434 742,435 742,436 742,437 742,437 742,438 741,439 741,440 741,441 741,442 741,442M742,432C742,433 742,434 742,435 743,435 743,436 743,437 743,438 743,439 743,439 743,440 743,442 743,442M737,442C737,443 738,444 739,445 740,446 741,447 742,447 743,448 744,448 745,449 746,449 748,450 748,450M678,424C677,426 672,431 670,435 668,438 666,442 663,446 661,450 658,454 657,458 655,462 654,467 653,471 652,476 652,482 651,485M734,428C734,429 733,433 733,435 733,437 733,439 733,442 733,444 734,446 735,448 735,451 735,454 736,455M725,433C723,434 718,436 715,438 712,439 709,441 706,443 703,445 700,446 697,447 693,449 691,451 688,453 685,455 681,458 679,459M721,436C720,437 717,438 715,439 714,440 712,442 711,443 709,445 708,446 706,448 705,449 704,451 703,453 702,455 701,458 701,459M765,395C763,401 758,422 754,428 751,434 748,432 745,434 742,435 738,436 735,438 732,439 728,441 725,443 722,444 718,448 716,449M755,495C753,496 747,498 743,499 739,499 735,500 731,501 727,502 723,503 719,504 715,505 711,507 707,508 703,509 697,511 695,511M845,430C846,430 847,430 849,431 850,431 851,431 852,431 853,432 854,432 855,433 856,433 857,435 857,435M855,437C856,438 857,440 858,441 858,442 859,443 860,445 861,446 861,447 862,448 862,450 863,452 863,452M840,428C840,429 842,430 843,431 844,433 845,434 846,436 847,437 848,438 848,440 849,441 851,444 851,444M925,458C926,459 929,461 931,463 933,465 936,466 938,468 940,470 941,472 943,474 945,476 948,480 949,481M920,447C920,449 919,452 920,455 920,457 920,459 921,462 921,464 922,466 922,469 923,471 924,474 925,475M925,458C924,459 924,462 924,465 924,467 924,469 923,471 923,474 922,476 921,478 921,480 919,483 919,485M924,406C925,409 929,422 932,428 934,434 937,437 940,442 943,446 946,451 948,455 951,460 953,465 956,469 959,474 963,481 964,483" stroke-width="3.5"/><path d="M773,441C772,442 767,444 764,445 761,447 758,449 755,450 752,451 748,452 745,454 742,455 739,457 736,459 733,461 729,463 727,464M808,478C809,480 814,486 816,490 819,493 822,497 825,501 827,505 829,509 832,513 835,517 838,521 841,524 844,528 850,532 852,534M958,419C959,421 961,428 962,432 963,436 963,441 963,445 963,449 962,454 962,458 962,462 963,467 963,471 963,476 963,482 963,484" stroke-width="4"/><path d="M710,436C710,437 711,441 712,443 712,445 712,447 712,449 712,452 713,454 713,456 714,458 715,461 716,462M806,413C804,415 801,424 799,428 797,432 794,434 793,437 791,440 790,444 788,447 786,450 783,453 781,456 779,459 776,463 775,465M969,475C970,476 974,479 976,481 978,483 980,485 982,487 984,489 986,491 987,494 989,496 990,499 991,501 992,504 994,508 995,509M899,431C899,434 898,441 898,446 898,450 899,455 899,460 900,464 900,469 900,474 900,479 900,483 899,488 899,493 897,500 897,502" stroke-width="4.5"/><path d="M689,406C688,409 685,423 683,428 682,433 680,432 679,435 678,437 678,440 677,442 676,445 674,447 673,450 672,452 671,456 671,457M693,404C690,408 682,424 677,428 672,432 666,428 661,429 656,430 651,433 646,436 642,438 637,441 633,444 628,447 622,452 620,454M743,441C742,442 741,446 740,448 739,450 737,452 736,454 735,456 734,458 733,460 731,462 729,465 728,466M682,422C680,424 675,428 672,431 669,435 667,438 664,442 661,445 658,448 655,452 653,455 651,460 649,463 646,467 641,471 640,473M671,427C671,428 669,432 668,434 667,437 666,439 665,442 664,444 662,447 661,449 660,451 659,454 658,456 656,459 655,462 654,463M776,432C775,433 773,435 771,436 770,438 769,440 768,442 767,444 766,445 764,447 763,449 762,451 761,453 759,454 757,457 757,458M860,453C862,454 868,457 872,459 877,462 881,464 885,466 889,468 894,469 898,472 902,474 905,477 909,481 912,484 916,490 917,492M886,422C887,424 892,430 895,434 899,437 903,440 907,443 911,446 915,449 920,452 924,454 928,457 933,459 937,461 944,465 946,466" stroke-width="5"/><path d="M682,422C681,423 677,427 675,428 673,429 671,428 668,428 666,428 664,428 662,428 660,428 657,428 655,428 653,429 650,430 649,430M741,385C740,392 736,420 734,428 731,436 729,431 726,432 724,434 721,435 719,437 716,438 713,439 711,441 709,443 706,446 705,447M834,379C835,387 838,420 840,428 841,436 844,429 845,430 847,431 848,433 850,434 852,435 854,436 855,437 857,438 860,440 861,440M903,398C904,403 907,421 908,428 910,435 912,435 914,438 916,441 918,444 920,447 922,451 923,454 925,458 926,461 928,467 928,468" stroke-width="5.5"/><path d="M745,428C746,429 749,430 751,431 753,433 755,434 757,435 759,437 761,437 763,439 765,440 767,442 768,443M755,455C754,456 754,459 754,461 753,463 753,465 752,468 752,470 752,472 752,474 752,476 751,479 751,480M745,428C745,429 743,431 742,432 741,434 739,435 739,437 738,439 737,440 737,442 736,444 736,447 735,448" stroke-width="6"/><path d="M715,405C715,409 713,423 712,428 711,433 711,434 710,436 709,439 708,442 707,444 707,447 706,450 706,453 705,455 704,459 703,461" stroke-width="7"/><path d="M738,358C738,370 741,414 742,428 743,442 742,437 743,441 743,446 744,450 745,454 746,458 748,462 749,467 750,471 750,478 750,480" stroke-width="8"/><path d="M742,341C743,356 744,412 745,428 746,444 747,434 748,437 749,440 750,443 751,446 752,449 753,452 755,455 756,458 757,463 757,464" stroke-width="10"/></g>
<path d="M732,314 731,320 730,329 728,338 727,346 725,354 723,363 721,369 718,375 714,379 709,383 703,387 696,391 689,395 681,398 673,402 665,405 656,408 647,410 638,413 629,415 621,416 612,416 602,417 592,418 583,419 575,421 566,423 556,425 543,428 529,431 515,434 503,437 495,440 488,443 484,445 480,447 482,451 486,450 491,448 497,446 505,443 516,441 530,439 545,436 557,434 568,433 576,432 585,431 594,430 603,430 612,430 621,430 631,430 641,428 651,426 661,424 670,422 679,419 688,417 697,413 705,410 713,406 721,402 730,397 737,389 743,380 747,371 751,362 753,354 757,345 759,335 762,327 764,322ZM749,336 748,343 746,352 743,362 740,369 736,375 731,380 725,386 718,392 710,397 702,402 693,406 685,411 678,415 671,418 665,422 657,426 651,431 644,436 637,441 628,446 615,453 598,460 581,467 567,473 556,479 546,484 538,489 530,493 523,498 516,502 511,505 507,507 509,511 513,509 519,506 526,503 534,499 542,495 550,491 560,487 571,482 585,476 602,469 619,463 633,457 644,451 652,447 658,442 665,439 671,435 678,432 685,429 693,426 701,422 710,418 720,413 729,408 737,402 745,396 753,389 760,381 765,371 769,359 773,350 775,344ZM766,357 765,365 763,376 759,387 755,396 749,403 742,410 733,417 725,424 717,431 709,437 702,444 694,452 687,461 681,471 674,481 666,490 655,499 642,507 628,516 615,523 601,530 586,536 572,541 563,545 564,549 574,546 588,541 603,535 617,529 631,522 646,514 660,505 672,496 681,487 689,477 695,467 702,459 709,453 717,447 725,441 733,435 742,428 751,421 760,414 769,404 775,393 780,381 783,370 786,363ZM780,349 780,359 779,372 779,386 778,399 776,408 773,416 771,425 768,435 765,445 763,455 761,465 758,475 753,487 748,500 742,512 736,524 731,535 726,546 720,555 715,564 709,571 702,577 695,582 691,585 693,588 698,585 705,581 713,575 720,568 726,559 732,549 738,539 744,528 750,516 757,504 763,491 768,479 772,468 775,458 778,448 781,439 784,430 788,421 791,412 794,401 796,388 798,373 799,360 800,351ZM793,361 794,372 796,388 797,405 799,420 800,433 801,443 802,453 802,463 802,473 802,483 801,492 799,502 797,512 793,522 789,532 786,543 783,555 782,567 780,579 777,588 773,597 768,604 764,610 760,615 763,617 767,613 772,607 778,599 783,591 786,580 788,568 791,557 793,546 797,535 801,525 805,515 809,504 811,494 813,484 814,474 815,463 815,453 814,442 814,432 813,420 813,404 812,387 811,371 811,359ZM802,352 804,361 808,374 812,389 818,404 826,417 836,431 845,444 854,457 862,469 870,482 876,494 882,506 886,518 889,529 891,540 891,550 888,562 883,575 877,587 871,596 867,602 863,606 860,609 857,611 860,614 862,613 867,610 872,606 877,600 883,590 890,578 896,565 900,552 900,539 899,527 896,515 892,502 887,489 881,476 873,463 866,449 858,436 849,422 840,409 834,396 829,383 826,369 824,357 822,348ZM807,356 811,362 817,373 825,385 835,397 847,407 860,416 874,425 888,433 901,443 915,453 930,462 944,471 959,478 974,484 990,489 1005,494 1020,498 1036,502 1051,505 1066,508 1082,511 1098,514 1113,516 1123,518 1124,513 1114,511 1099,508 1083,504 1068,501 1053,497 1038,493 1023,489 1008,484 993,479 979,473 965,467 951,459 937,450 924,441 911,430 897,420 884,410 871,401 859,392 849,383 842,373 837,362 832,352 829,344ZM816,352 820,357 825,364 832,372 838,379 845,385 851,389 858,393 866,397 875,400 885,402 896,405 906,407 916,411 927,414 938,418 949,422 961,428 973,434 985,440 997,447 1010,453 1023,460 1036,467 1048,473 1061,478 1074,482 1086,487 1096,491 1105,495 1113,499 1119,502 1124,504 1126,501 1121,498 1115,494 1107,490 1099,485 1088,480 1076,476 1064,471 1052,465 1040,459 1027,452 1014,445 1002,438 990,431 978,424 967,417 955,411 943,405 932,401 921,397 911,393 900,389 890,386 881,383 873,380 867,377 862,373 858,369 854,365 849,359 844,351 839,343 836,338ZM843,424 848,430 854,439 862,449 872,460 884,470 898,480 913,490 928,499 942,508 956,516 970,523 984,528 999,532 1013,533 1027,534 1040,534 1054,534 1069,532 1082,530 1091,529 1091,525 1081,526 1069,527 1054,528 1040,528 1027,528 1014,526 1000,524 987,520 974,515 960,508 947,499 934,491 919,481 905,471 891,460 880,450 872,441 865,431 860,422 857,416ZM701,392 695,396 686,402 675,409 665,415 656,422 647,428 638,434 628,439 617,443 605,447 592,450 581,453 571,454 563,454 554,455 545,456 534,459 524,463 514,467 507,470 509,474 515,471 525,468 536,464 546,462 554,461 563,461 572,461 582,460 594,458 607,455 620,452 632,448 643,443 653,437 662,430 671,425 681,419 692,413 702,408 709,404ZM767,426 763,432 758,439 751,448 746,457 741,466 736,475 731,484 726,492 720,500 715,509 709,516 702,523 693,529 682,535 672,541 662,546 652,550 643,553 635,556 629,558 630,561 636,559 644,557 654,554 664,550 674,546 685,541 696,535 706,528 714,521 721,513 727,505 733,497 738,488 744,479 749,471 754,463 760,455 767,446 773,439 777,434ZM824,442 827,449 830,458 834,469 837,479 840,490 842,500 844,511 844,522 843,532 841,543 837,554 835,564 832,574 829,584 826,593 825,599 828,600 830,594 833,586 837,576 840,566 843,556 847,545 850,534 852,522 852,511 851,499 849,488 847,477 844,466 841,454 838,445 836,438ZM879,418 888,419 900,421 914,423 929,426 944,431 961,436 978,441 993,446 1005,449 1016,451 1026,454 1038,457 1054,461 1072,465 1088,470 1100,473 1101,469 1089,466 1073,461 1055,456 1040,452 1028,448 1017,445 1007,442 995,439 980,434 963,428 947,422 931,418 916,414 902,411 890,408 881,406ZM637,419 632,423 625,428 617,434 610,439 605,443 601,448 597,452 592,456 584,462 574,468 564,474 558,478 560,481 566,477 576,472 586,466 595,461 601,456 605,452 609,449 614,445 621,441 630,436 637,432 643,429ZM897,444 905,449 916,457 928,465 937,473 943,479 948,486 952,493 958,501 965,512 974,524 982,536 988,543 991,541 985,533 978,522 969,509 962,498 957,490 954,482 949,475 943,467 933,458 921,449 911,441 903,436ZM676,436 671,442 663,450 654,459 647,468 641,476 637,484 633,491 628,497 622,503 614,508 607,513 601,516 603,519 609,516 616,512 625,507 632,501 638,495 643,487 648,480 653,472 661,465 669,456 678,449 684,444Z" fill="#6e5c44"/>
<path d="M733,315 733,321 731,329 730,338 728,346 726,355 724,363 722,370 719,375 715,380 710,384 703,388 696,392 689,396 681,399 673,403 665,406 656,409 648,411 638,414 630,416 621,417 612,417 602,418 592,419 583,420 575,422 566,424 556,426 543,428 529,431 515,434 503,437 495,440 489,443 484,446 481,448 482,451 485,449 490,447 497,445 505,443 516,440 530,438 544,436 557,434 567,432 576,431 585,430 593,429 602,429 612,429 621,429 631,429 641,427 651,425 661,423 670,421 679,418 688,415 696,412 705,409 713,405 721,401 729,396 736,389 742,380 746,371 749,362 752,354 755,345 758,335 761,327 763,321Z" fill="#dccfb4"/>
<path d="M750,337 749,344 747,353 745,362 741,370 737,376 732,381 725,387 718,393 711,398 703,403 694,407 686,412 679,416 672,419 665,423 658,427 651,432 645,437 638,442 628,447 615,454 599,461 582,468 567,474 556,480 547,485 538,490 531,494 523,498 517,502 511,506 507,508 509,511 513,509 519,506 526,502 533,499 541,495 550,491 559,486 570,481 585,475 602,468 619,462 633,456 643,451 651,446 657,441 664,438 671,434 678,431 685,428 692,425 701,421 710,417 719,412 728,407 736,401 744,395 752,388 759,380 764,370 768,359 771,350 774,343Z" fill="#dccfb4"/>
<path d="M768,358 766,365 764,376 761,387 756,396 750,404 743,411 734,418 725,425 718,432 710,438 702,445 695,453 688,462 682,472 675,482 667,491 656,500 643,508 629,516 615,524 601,531 586,537 573,542 563,546 564,548 574,545 587,540 603,534 617,528 631,521 645,513 659,505 671,496 681,486 688,476 694,467 701,458 708,452 716,446 724,440 732,434 741,427 750,420 760,413 768,404 774,393 778,380 782,370 784,362Z" fill="#dccfb4"/>
<path d="M781,349 781,359 781,372 780,387 779,399 777,408 775,417 772,425 769,435 767,445 764,455 762,465 759,476 754,487 749,500 743,513 737,524 732,536 727,546 721,556 716,564 709,571 702,577 696,582 691,586 692,588 697,585 704,580 712,574 719,567 726,559 731,549 737,538 743,527 749,516 756,503 762,491 767,479 771,468 774,458 777,448 780,438 783,430 787,421 790,412 793,401 795,388 797,373 798,360 799,351Z" fill="#dccfb4"/>
<path d="M795,361 796,372 797,388 799,405 800,420 801,433 802,443 803,453 804,463 803,473 803,483 802,493 800,502 798,512 794,522 790,533 787,544 784,555 783,567 781,579 778,589 774,597 769,604 764,611 761,615 763,617 766,612 772,606 777,599 782,590 785,580 788,568 790,556 792,545 796,535 800,525 804,515 808,504 810,494 812,484 813,474 813,463 814,453 813,443 813,432 812,420 811,404 810,387 810,371 809,359Z" fill="#dccfb4"/>
<path d="M803,352 806,361 809,374 814,388 820,403 827,417 837,430 846,443 855,456 863,469 871,482 877,494 883,506 887,518 890,529 892,540 892,550 889,562 884,575 878,587 872,597 868,603 864,607 860,610 858,612 859,614 862,612 866,610 871,605 876,599 882,590 889,578 895,564 899,551 899,539 898,527 895,515 891,503 886,490 880,477 872,463 865,450 857,436 847,423 839,409 832,397 828,384 825,370 822,357 821,348Z" fill="#dccfb4"/>
<path d="M808,355 813,362 818,372 826,384 836,396 848,406 861,415 875,424 889,432 902,442 916,452 930,461 945,470 960,477 975,483 990,488 1005,493 1020,497 1036,501 1051,504 1066,507 1082,510 1098,513 1113,515 1123,517 1124,514 1114,512 1099,509 1083,505 1067,501 1053,498 1037,494 1022,490 1008,485 993,480 978,474 964,467 950,460 937,451 923,441 910,431 897,421 883,411 870,402 858,393 848,384 841,374 835,363 831,353 828,345Z" fill="#dccfb4"/>
<path d="M817,351 821,356 826,363 833,371 839,378 846,384 852,388 859,392 867,395 876,399 886,401 896,404 906,406 917,410 928,413 939,417 950,421 961,427 973,433 985,440 997,446 1010,453 1023,459 1036,466 1049,472 1062,477 1074,482 1086,486 1096,490 1105,494 1113,498 1119,501 1124,504 1125,502 1121,499 1115,495 1107,490 1098,486 1088,481 1076,477 1064,471 1052,466 1039,460 1027,453 1014,445 1002,439 990,432 978,425 966,418 954,412 943,406 932,402 921,398 910,394 900,390 890,387 881,384 873,381 867,378 862,374 857,370 853,366 848,359 843,352 838,344 835,339Z" fill="#dccfb4"/>
<path d="M845,424 849,429 855,438 863,448 873,459 885,469 899,479 914,489 929,498 943,507 957,515 971,522 985,527 999,531 1013,532 1027,533 1040,533 1054,533 1069,531 1082,529 1091,528 1091,525 1082,526 1069,528 1054,529 1040,529 1027,529 1013,527 1000,525 987,521 973,516 960,509 946,500 933,491 919,482 904,472 891,461 879,451 871,442 864,432 859,423 855,416Z" fill="#dccfb4"/>
<path d="M702,393 696,398 686,403 676,410 666,416 657,423 648,429 639,435 629,440 617,445 605,448 592,451 581,454 571,455 563,455 554,456 545,457 535,460 524,464 514,468 507,471 508,473 515,471 525,467 536,464 546,461 554,460 563,460 572,460 582,459 594,457 606,454 619,451 631,447 642,441 652,436 661,429 670,424 681,418 691,412 701,406 708,403Z" fill="#dccfb4"/>
<path d="M768,427 764,432 759,440 753,449 747,458 742,466 737,475 732,484 727,493 721,501 716,509 710,517 702,524 693,530 683,536 672,542 662,546 652,550 643,554 635,556 629,558 630,560 635,559 644,556 653,553 663,549 674,545 685,540 696,534 705,527 713,520 720,512 726,504 732,496 737,488 743,479 748,470 753,462 759,454 766,445 772,438 776,433Z" fill="#dccfb4"/>
<path d="M825,442 828,448 832,458 835,468 838,479 841,489 843,500 845,511 845,522 844,532 842,543 838,554 835,564 833,575 830,584 827,593 825,599 827,600 829,594 832,585 836,575 839,566 842,555 846,545 849,533 851,522 851,511 850,499 848,488 846,477 843,466 840,455 837,445 835,438Z" fill="#dccfb4"/>
<path d="M879,416 888,418 900,420 915,422 929,425 944,430 961,435 978,440 993,445 1005,448 1016,450 1027,453 1039,456 1054,460 1072,464 1089,469 1100,472 1100,470 1089,467 1073,462 1055,457 1040,452 1028,449 1017,446 1006,443 994,440 980,435 963,429 946,424 931,419 916,415 902,412 889,410 881,408Z" fill="#dccfb4"/>
<path d="M638,421 633,424 625,429 617,435 610,440 605,444 601,448 598,453 592,457 584,462 574,469 565,474 558,478 559,480 566,476 576,471 586,465 594,460 600,456 605,452 609,448 614,444 621,440 629,435 637,430 642,427Z" fill="#dccfb4"/>
<path d="M898,443 906,448 917,456 929,464 938,472 944,479 949,485 953,493 958,501 966,512 975,524 983,535 988,543 990,542 985,534 977,522 969,510 961,499 957,491 953,483 948,476 942,468 932,459 921,450 910,442 902,437Z" fill="#dccfb4"/>
<path d="M677,437 672,443 664,451 655,460 648,468 642,476 638,484 634,492 629,498 622,504 614,509 607,513 602,516 603,518 608,515 616,511 624,506 632,501 637,494 642,487 647,479 652,472 660,464 669,456 677,448 683,443Z" fill="#dccfb4"/>
<path d="M742,323 741,328 739,337 737,346 735,355 733,363 731,371 728,379 724,385 719,390 713,395 706,399 699,403 691,407 683,410 675,413 667,416 658,419 649,422 639,424 630,426 621,427 612,427 602,427 593,428 584,429 575,431 566,432 556,434 544,437 529,439 515,442 504,445 496,448 489,451 484,453 481,455 481,456 485,454 490,452 496,449 504,447 516,444 530,442 544,439 557,437 567,435 576,434 584,433 593,432 602,431 612,431 621,431 631,431 640,429 650,427 659,425 668,422 677,420 686,417 694,413 702,410 710,406 717,402 725,397 731,391 736,383 739,374 742,366 745,357 748,349 750,339 752,331 754,325ZM757,344 756,350 754,360 750,369 747,378 742,384 736,390 729,396 721,402 713,407 705,412 696,416 688,421 680,424 674,428 667,431 660,435 653,440 647,444 639,449 630,455 616,461 600,468 583,475 568,481 557,487 548,492 539,496 532,500 524,504 517,508 512,511 508,514 508,515 512,512 518,509 525,506 532,502 540,498 549,494 558,489 569,484 584,478 601,471 617,464 631,458 641,453 649,448 656,443 662,439 669,436 676,432 683,429 690,426 699,421 708,417 717,412 725,407 733,402 740,396 747,389 753,382 758,373 762,362 765,353 767,346ZM773,362 771,370 768,381 765,392 760,402 753,410 745,417 736,424 727,431 720,438 712,444 704,450 697,458 690,467 684,477 677,487 668,496 657,505 643,513 629,521 616,529 601,535 586,541 573,547 564,550 564,551 573,547 587,542 602,536 616,530 630,523 645,515 658,506 670,498 679,488 686,478 692,469 699,460 707,453 714,447 722,441 730,435 739,428 748,421 757,413 764,405 770,394 774,382 777,372 779,364ZM786,353 786,363 786,376 785,391 783,403 781,413 778,422 775,430 772,440 770,449 767,459 765,470 761,480 756,492 751,505 745,517 739,529 733,540 728,551 723,560 717,569 710,576 703,582 696,587 691,590 692,591 697,587 704,583 711,577 718,570 724,561 730,552 736,541 741,530 747,518 754,506 759,493 765,482 768,471 771,460 774,450 777,441 780,432 783,423 786,414 789,404 791,391 792,377 793,363 794,354ZM799,363 800,374 801,390 803,408 804,423 805,435 806,446 806,456 807,466 806,476 806,486 804,496 803,506 800,516 796,526 792,536 788,547 786,559 784,571 782,582 779,592 775,601 770,608 765,614 762,619 762,619 766,615 771,609 776,601 781,593 784,583 786,571 788,559 791,548 794,537 798,527 802,517 806,507 808,496 809,487 810,477 810,466 810,456 810,446 809,435 808,423 808,408 806,390 806,374 805,363ZM808,354 811,363 814,376 818,391 823,405 831,418 840,431 849,445 858,458 866,471 873,484 880,496 885,509 890,520 893,532 894,543 894,554 891,567 885,579 879,591 873,601 869,607 865,611 861,614 858,616 859,617 861,615 865,612 870,608 875,602 881,592 887,580 893,567 897,555 897,543 896,531 893,520 889,507 883,495 877,482 869,469 862,455 853,442 844,429 836,415 829,402 824,389 820,375 817,362 816,353ZM814,356 818,363 823,374 831,386 839,397 851,406 864,415 877,424 891,433 904,443 918,453 932,463 947,471 961,478 976,485 991,490 1006,495 1021,499 1036,503 1052,506 1067,510 1082,513 1099,516 1113,518 1123,520 1123,519 1113,517 1099,514 1083,511 1067,508 1052,504 1037,501 1022,497 1007,492 992,487 977,481 963,475 949,467 935,459 921,449 907,439 894,429 881,419 867,410 855,401 845,392 837,382 830,370 825,360 822,352ZM822,352 826,357 831,364 837,372 843,379 849,384 855,388 861,392 869,396 877,399 887,401 897,404 907,407 918,410 929,414 940,418 951,423 963,428 975,435 987,442 999,448 1011,455 1024,462 1037,468 1050,474 1062,480 1075,484 1087,489 1097,493 1106,497 1114,501 1120,505 1125,507 1125,507 1120,504 1114,500 1107,496 1098,492 1087,487 1076,483 1063,478 1051,472 1038,466 1026,459 1013,452 1000,445 988,438 976,432 965,425 953,419 942,414 930,410 919,406 909,402 899,399 888,396 879,393 871,390 864,386 859,383 854,379 849,374 843,367 838,360 833,352 830,347ZM848,424 852,430 858,439 865,449 875,459 887,469 901,479 915,489 930,499 944,507 958,515 972,522 985,528 999,531 1013,533 1027,534 1040,535 1054,534 1069,533 1082,531 1091,530 1091,529 1082,530 1069,531 1054,533 1040,533 1027,533 1013,532 1000,529 986,526 973,520 959,513 945,505 932,496 917,487 903,476 889,466 877,456 868,446 861,436 856,427 852,421ZM704,398 697,402 688,408 677,415 667,421 658,427 649,433 640,439 630,444 618,449 605,452 593,455 581,458 571,459 563,459 554,459 545,461 535,464 524,467 514,471 508,474 508,474 515,472 525,468 535,465 545,462 554,461 563,461 572,461 582,460 593,457 606,455 619,451 631,447 641,442 651,436 660,430 669,424 679,418 690,411 699,406 706,402ZM770,431 767,436 761,444 755,453 749,461 744,470 739,478 734,487 728,496 723,504 717,512 711,520 703,527 694,533 683,539 672,545 662,549 653,553 643,557 635,559 629,561 629,561 635,560 644,557 653,554 663,550 673,546 684,541 695,535 704,528 712,521 719,513 724,505 730,497 736,489 741,480 746,471 751,463 757,454 764,446 769,438 774,433ZM828,443 831,449 834,459 838,470 841,480 843,491 845,502 847,513 847,524 846,535 843,546 840,557 837,567 834,577 831,587 828,595 826,601 827,601 829,596 831,587 835,577 838,567 841,557 845,546 847,535 849,524 849,513 848,501 846,490 843,480 841,469 837,458 834,448 832,441ZM880,416 888,417 901,419 915,422 930,425 945,429 962,435 978,440 993,445 1006,448 1016,451 1027,453 1039,456 1055,461 1072,465 1089,470 1100,473 1100,472 1089,469 1073,465 1055,460 1039,455 1027,452 1017,449 1006,447 994,443 979,438 962,433 946,427 930,423 916,419 901,416 889,414 880,412ZM639,424 634,428 626,432 618,438 611,443 606,447 602,451 598,455 593,460 585,465 575,471 565,477 559,481 559,481 565,477 575,472 585,466 594,461 599,456 604,452 608,448 613,444 620,440 628,435 636,430 641,427ZM899,443 907,448 918,456 930,464 939,472 945,479 950,486 954,494 959,502 967,513 975,525 983,536 989,544 989,544 984,536 976,524 968,512 960,501 955,493 951,485 947,478 941,471 931,462 920,454 908,446 901,440ZM679,440 673,446 665,454 657,463 649,471 644,479 639,487 635,494 630,500 623,506 615,511 607,516 602,519 602,519 608,516 615,512 624,507 631,501 636,495 641,487 645,480 651,472 658,464 667,456 675,448 681,443Z" fill="#a89676" opacity="0.7" filter="url(#soft1)"/>
<path d="M744,312 743,318 741,326 739,335 737,344 735,352 732,361 729,368 726,375 720,380 714,385 707,389 699,393 692,397 684,400 675,403 667,406 658,409 649,411 639,413 630,415 621,416 612,416 602,417 593,417 584,418 575,420 566,421 556,423 544,426 529,428 515,431 504,434 496,437 489,439 484,442 481,444 481,444 485,443 490,440 496,438 504,435 516,433 530,430 544,427 557,425 567,423 576,422 584,421 593,420 602,419 612,419 621,419 631,418 640,417 650,415 659,412 668,410 677,407 685,404 694,401 702,397 709,393 717,389 724,384 730,378 734,371 738,362 740,354 743,345 746,337 748,327 750,319 752,313ZM759,335 757,341 755,351 752,361 748,369 743,376 736,382 729,388 722,394 714,399 705,404 696,408 688,412 681,416 674,420 667,423 660,427 654,431 647,436 640,441 630,446 616,452 600,459 583,466 569,472 557,478 548,483 540,487 532,492 524,496 517,499 512,503 508,505 508,505 512,503 518,500 525,496 532,493 540,488 548,484 558,479 569,474 584,468 601,461 617,454 631,448 641,443 649,438 655,434 662,429 669,426 675,422 682,419 690,416 698,411 707,407 716,402 724,397 732,392 740,386 746,379 752,372 757,363 760,352 763,343 765,336ZM774,356 772,364 769,375 766,386 761,396 754,404 745,412 736,419 728,426 720,432 712,438 705,444 697,452 690,461 684,470 677,480 668,490 657,498 644,507 630,515 616,522 602,529 586,535 573,540 564,544 564,544 573,541 587,536 602,530 616,523 630,516 644,508 658,500 669,491 678,481 686,471 692,462 699,453 706,446 714,440 722,434 730,428 738,421 747,414 756,406 763,398 769,387 773,376 776,365 778,358ZM788,347 787,356 787,369 786,384 784,396 782,406 779,415 776,424 773,433 771,443 768,453 765,463 762,474 757,486 751,498 745,511 739,522 734,533 728,544 723,554 717,562 710,569 703,575 696,580 692,583 692,584 697,580 703,576 711,570 718,563 724,554 730,545 735,534 741,523 747,511 753,499 759,486 764,475 768,464 771,453 773,443 776,434 779,425 782,416 785,407 788,397 789,384 791,370 792,356 792,347ZM800,357 801,369 802,385 803,402 805,417 805,429 806,440 807,450 807,461 807,471 806,481 805,490 803,500 800,510 796,521 792,531 789,542 786,553 784,565 782,577 780,587 775,595 770,603 765,609 762,613 762,613 766,609 771,603 776,595 781,587 784,577 786,565 788,553 790,542 794,531 798,521 802,511 805,501 807,491 808,481 809,471 810,461 810,450 809,440 808,429 807,417 807,402 805,384 804,368 804,357ZM810,347 812,356 815,369 819,383 824,398 832,411 841,424 850,437 859,450 866,463 874,476 881,489 886,502 890,513 893,525 895,536 895,547 891,560 886,573 879,585 874,594 869,601 865,605 861,607 858,609 859,610 861,608 865,605 870,601 875,595 880,585 887,573 893,560 896,548 897,536 895,525 892,513 888,501 883,488 876,475 869,462 861,449 853,436 843,422 835,409 828,396 823,382 819,368 816,355 814,346ZM816,347 819,354 825,365 832,377 840,388 851,397 864,406 878,415 892,424 905,434 919,444 933,454 947,462 961,469 976,476 991,481 1006,486 1021,491 1037,494 1052,498 1067,501 1082,504 1099,507 1113,510 1123,512 1123,511 1113,509 1099,506 1083,503 1067,500 1052,496 1037,493 1022,489 1007,484 992,479 977,473 963,467 948,460 934,451 921,441 907,431 894,421 880,412 866,403 854,394 844,385 835,374 829,363 824,352 820,345ZM824,343 827,348 832,355 838,363 844,370 850,375 856,379 862,383 869,386 878,389 887,392 897,395 908,398 918,401 929,405 940,409 952,414 963,419 975,426 987,433 999,439 1012,446 1024,453 1037,460 1050,466 1062,471 1075,476 1087,480 1097,484 1106,489 1114,493 1120,496 1125,499 1125,499 1120,496 1114,492 1106,488 1098,483 1087,479 1075,475 1063,470 1051,464 1038,458 1025,451 1013,444 1000,437 988,431 976,424 964,417 953,411 941,406 930,402 919,398 909,395 898,391 888,389 879,386 871,383 864,379 858,375 853,371 848,366 842,360 837,352 832,345 828,339ZM849,419 853,425 858,433 866,444 875,454 887,463 901,474 916,484 930,493 944,502 958,510 972,517 986,523 999,526 1013,528 1027,529 1040,529 1054,529 1069,527 1082,526 1091,525 1091,524 1082,525 1069,527 1054,528 1040,529 1027,528 1013,527 1000,525 986,521 972,516 959,509 945,500 931,492 917,482 902,472 888,462 877,452 868,442 861,432 855,423 851,417ZM704,395 698,399 688,405 678,411 667,417 658,423 649,430 640,436 630,441 618,445 605,448 593,451 581,454 572,455 563,455 554,455 545,457 535,460 524,463 515,467 508,470 508,470 515,468 524,464 535,460 545,458 554,456 563,456 572,456 582,455 593,453 606,450 619,446 630,442 641,437 650,431 659,425 669,419 679,413 689,407 699,401 706,397ZM771,427 767,433 761,440 755,449 749,458 744,466 739,475 734,484 729,492 723,500 717,509 711,516 704,523 694,530 684,536 673,541 662,546 653,550 643,553 635,555 629,557 629,558 635,556 643,553 653,550 663,546 673,542 684,537 695,531 704,524 712,517 718,509 724,501 730,493 735,485 741,476 746,467 751,459 757,450 763,442 769,434 773,429ZM829,439 831,445 835,455 838,466 841,476 844,487 846,498 847,509 847,520 846,531 843,542 840,553 837,563 834,573 831,583 828,592 826,597 826,598 828,592 831,583 835,573 838,563 841,553 844,542 847,531 849,520 849,509 847,498 845,487 843,476 840,465 837,454 833,445 831,438ZM880,411 888,413 901,415 915,418 930,421 945,426 962,431 978,437 993,441 1006,445 1016,447 1027,450 1039,453 1055,457 1072,462 1089,466 1100,469 1100,469 1089,466 1073,461 1055,456 1039,452 1027,449 1017,446 1006,444 994,440 979,435 962,430 946,424 930,420 916,416 901,413 889,411 880,409ZM639,422 634,425 627,430 619,435 612,440 607,444 603,448 599,452 593,457 585,462 575,468 565,474 559,478 559,478 565,474 575,469 585,463 594,457 599,453 603,449 607,445 612,441 619,436 628,431 635,427 641,423ZM899,439 907,445 918,452 930,461 940,469 946,476 950,483 954,490 960,499 967,509 976,522 983,533 989,541 989,541 984,533 976,521 968,509 960,498 955,490 951,482 947,475 940,468 931,460 919,451 908,443 901,438ZM679,438 674,443 666,451 657,460 649,468 644,476 640,484 635,491 630,498 623,503 615,508 607,513 602,516 602,516 608,513 615,509 623,504 631,498 636,492 641,484 645,477 651,469 658,461 667,452 675,445 681,439Z" fill="#ebe2d0" opacity="0.6" filter="url(#soft1)"/>
<path d="M743,339h4M722,387h4M711,395h2M677,411h4M666,415h3M655,418h4M644,418h2M631,421h2M603,422h2M593,425h3M580,426h2M559,428h4M539,432h4M486,446h3M484,447h4M763,339h4M758,349h2M758,361h3M745,383h5M734,393h2M725,401h4M700,413h2M680,422h2M633,450h3M612,460h5M587,471h4M568,479h2M544,489h5M520,503h4M516,507h3M774,361h4M773,371h3M769,388h2M762,402h5M753,409h3M740,422h5M731,430h2M711,445h5M698,454h3M683,481h5M670,494h5M653,506h3M637,517h3M618,525h3M594,536h4M790,352h2M787,362h3M788,400h3M783,412h4M778,425h2M777,437h2M765,461h4M762,476h5M757,495h3M747,511h4M741,524h3M733,541h4M723,554h5M718,567h4M802,377h4M805,436h2M807,449h4M809,491h5M781,577h5M778,589h5M765,609h4M764,615h3M810,352h2M814,361h3M838,419h5M860,454h4M882,489h3M892,521h5M898,536h5M896,552h5M866,606h5M857,612h5M820,349h3M832,375h4M843,389h5M858,400h5M930,453h3M984,483h2M1004,488h4M1029,494h4M1111,514h4M1121,514h5M825,345h2M843,374h4M863,384h2M897,396h4M906,401h2M920,405h2M954,418h5M967,426h3M1000,441h4M1016,452h4M1031,459h4M1097,486h3M1120,498h3M851,420h2M857,430h4M931,493h3M947,506h3M969,516h5M1005,528h2M1021,529h2M1088,528h3M706,398h3M693,404h5M680,412h3M668,419h2M658,427h4M629,445h4M597,453h5M569,459h3M555,457h2M533,463h4M520,468h3M758,450h3M750,459h3M737,482h2M691,535h4M677,540h2M648,552h4M832,448h3M841,464h3M844,477h4M844,491h4M848,508h3M848,521h3M844,535h4M827,592h4M825,599h5M882,410h4M891,413h3M932,421h5M953,428h3M1025,452h4M1059,461h5M1100,473h3M638,423h3M632,427h3M619,435h5M590,457h4M566,475h4M556,480h4M929,458h3M942,470h2M946,478h2M953,487h2M973,515h5M986,541h4M670,448h5M663,459h3M651,472h3M641,479h3M636,491h3M630,498h2M618,508h2M612,514h3M602,517h2" stroke="#8a7858" stroke-width="1.2" opacity="0.7"/>
<g mask="url(#trunkmask)" clip-path="url(#topcut)"><path d="M744,128 743,170 742,210 740,250 738,282 734,310 730,332 726,350 718,366 706,380 692,392 676,402 700,412 790,418 850,402 884,398 905,402 884,392 868,380 856,366 846,350 838,332 834,310 830,282 829,250 828,210 828,170 829,128Z" fill="url(#trg)"/>
<path d="M757,168q3,7 -1,13M780,277q-1,9 1,18M755,214q-0,7 -2,15M764,238q2,10 -1,20" stroke="#b8a888" stroke-width="2" fill="none" stroke-linecap="round"/>
<path d="M785,152q2,14 -0,28M754,285q-1,14 -1,29M761,153q-0,9 0,18M770,292q0,17 0,34M764,376q2,14 -1,29" stroke="#8a7a5e" stroke-width="3" fill="none" stroke-linecap="round"/>
<path d="M749,183q-1,13 -1,26M803,347q2,15 -0,29M750,205q-0,10 1,21" stroke="#b8a888" stroke-width="3" fill="none" stroke-linecap="round"/>
<path d="M765,282q-2,7 -1,14M772,331q2,15 0,29M764,147q2,10 1,21M766,337q1,10 -0,20" stroke="#a8967a" stroke-width="3" fill="none" stroke-linecap="round"/>
<path d="M762,356q-2,12 -0,24M771,180q-2,5 2,11M765,157q3,8 -0,16M793,139q-0,17 -1,34M788,278q1,16 -1,31M773,193q-0,8 2,17M744,263q-1,14 -0,28M779,302q1,9 -2,18" stroke="#e0d5bd" stroke-width="2" fill="none" stroke-linecap="round"/>
<path d="M811,367q-2,8 0,15M814,280q-1,8 -2,17M836,383q0,16 -1,32M802,202q-2,5 -1,10M811,346q-2,11 -0,21M819,360q-3,7 -0,15M825,212q3,5 -1,10M813,171q-2,13 -1,27" stroke="#4e5244" stroke-width="2" fill="none" stroke-linecap="round"/>
<path d="M828,198q-0,16 -1,32M842,367q-1,17 2,33M818,184q1,11 1,23" stroke="#8a8a74" stroke-width="3" fill="none" stroke-linecap="round"/>
<path d="M791,252q3,14 0,28M780,176q2,12 -0,25M797,270q-2,10 -2,20M759,182q-3,14 -1,28M762,246q-2,14 -1,28M755,309q-2,8 -1,16M794,311q2,17 -2,34M778,174q-1,5 1,10M754,382q2,14 -1,29" stroke="#8a7a5e" stroke-width="2" fill="none" stroke-linecap="round"/>
<path d="M758,352q2,11 1,21M791,156q3,7 -1,14M790,148q-2,11 1,22M762,157q-1,17 1,33M769,264q1,9 -0,17M748,245q-2,17 1,34M760,142q-0,15 -2,30" stroke="#9a8a6c" stroke-width="2" fill="none" stroke-linecap="round"/>
<path d="M804,242q1,13 1,26M821,242q0,8 2,16M820,199q-1,12 1,24M815,172q2,6 -1,12M816,282q0,12 -1,25M805,216q1,9 -0,18M800,265q1,13 1,25M818,161q-1,10 0,21M832,270q2,10 1,19M811,192q-2,5 2,10M805,216q3,9 -1,17" stroke="#5a5e50" stroke-width="2" fill="none" stroke-linecap="round"/>
<path d="M766,225q1,13 -0,26M769,318q-3,5 2,10M797,279q-3,16 2,32M768,345q3,6 0,12M776,255q2,15 -0,29M786,301q-0,6 -2,12" stroke="#e6dcc8" stroke-width="3" fill="none" stroke-linecap="round"/>
<path d="M762,225q-2,8 -1,15M787,179q1,7 0,13M805,384q-1,9 2,19M793,152q3,10 0,20M766,158q2,15 -2,31M747,209q2,12 -1,24M758,329q-0,7 -2,14M775,312q3,9 -1,19" stroke="#e6dcc8" stroke-width="1" fill="none" stroke-linecap="round"/>
<path d="M827,204q-2,4 -1,8M812,186q2,14 1,28M826,140q-2,8 -1,16M808,366q-1,7 1,15M805,245q-2,9 -2,18M834,351q1,15 2,29" stroke="#5a5e50" stroke-width="3" fill="none" stroke-linecap="round"/>
<path d="M799,132q-3,16 1,33M826,258q-0,13 -0,27" stroke="#6a6c5c" stroke-width="1" fill="none" stroke-linecap="round"/>
<path d="M813,300q3,11 -1,23M838,337q3,11 -2,22M801,162q-1,10 2,20M801,183q-3,15 1,31M798,154q-1,11 -0,22M809,228q1,6 1,12M807,129q1,14 -0,29M826,281q-2,8 1,15" stroke="#6a6c5c" stroke-width="3" fill="none" stroke-linecap="round"/>
<path d="M761,301q-1,6 -2,11M797,278q-0,6 2,12M787,129q-2,9 -0,18M786,157q2,11 -2,22" stroke="#b8a888" stroke-width="1" fill="none" stroke-linecap="round"/>
<path d="M757,319q2,5 -2,11M778,220q-2,6 2,11M776,301q-2,8 -1,16M776,166q-1,9 0,18M754,247q-2,17 1,33M786,376q1,7 -1,13" stroke="#e6dcc8" stroke-width="2" fill="none" stroke-linecap="round"/>
<path d="M751,131q2,8 2,17M766,348q1,10 -0,20M778,346q2,15 2,30" stroke="#9a8a6c" stroke-width="3" fill="none" stroke-linecap="round"/>
<path d="M846,378q3,5 -1,11M812,139q-0,14 2,29M807,264q1,16 -0,32" stroke="#5a5e50" stroke-width="1" fill="none" stroke-linecap="round"/>
<path d="M819,309q-2,6 -0,13M807,263q2,4 -1,8M808,172q-2,7 1,13M800,204q-2,13 0,25" stroke="#4e5244" stroke-width="3" fill="none" stroke-linecap="round"/>
<path d="M791,252q2,15 -0,30M749,318q2,13 -1,26M750,373q1,10 1,21M792,177q0,16 1,32" stroke="#a8967a" stroke-width="2" fill="none" stroke-linecap="round"/>
<path d="M843,380q-2,6 1,13M805,163q-1,7 -2,13M827,283q1,14 -1,28M814,209q1,4 -0,8M817,151q2,8 -0,17M829,278q-2,13 -1,25M812,270q0,12 2,25" stroke="#6a6c5c" stroke-width="2" fill="none" stroke-linecap="round"/>
<path d="M753,217q-1,12 -2,24M783,248q-2,9 1,18M737,340q0,6 -0,12" stroke="#9a8a6c" stroke-width="1" fill="none" stroke-linecap="round"/>
<path d="M777,338q2,16 1,31M768,300q-1,10 -1,20M774,261q3,6 0,11" stroke="#e0d5bd" stroke-width="3" fill="none" stroke-linecap="round"/>
<path d="M823,192q-2,13 2,27M804,196q1,9 -1,19M818,308q-1,9 -1,18M801,272q1,10 -1,20M826,221q-3,8 2,17M813,272q3,12 1,24" stroke="#8a8a74" stroke-width="2" fill="none" stroke-linecap="round"/>
<path d="M743,292q-1,4 2,8M775,351q2,8 -1,16" stroke="#e0d5bd" stroke-width="1" fill="none" stroke-linecap="round"/>
<path d="M818,197q2,16 1,32M812,142q3,7 0,13" stroke="#4e5244" stroke-width="1" fill="none" stroke-linecap="round"/>
<path d="M808,213q1,6 0,12M822,361q-2,9 2,19M821,267q1,7 1,14M833,275q1,6 1,12M815,140q0,6 1,13" stroke="#8a8a74" stroke-width="1" fill="none" stroke-linecap="round"/>
<path d="M787,290q-1,10 -1,19M780,162q1,12 -1,24M782,186q0,7 0,15M746,240q-1,15 -1,30" stroke="#8a7a5e" stroke-width="1" fill="none" stroke-linecap="round"/>
<path d="M794,238q3,17 1,34M783,171q-3,16 -2,32" stroke="#a8967a" stroke-width="1" fill="none" stroke-linecap="round"/>
<path fill="#b09e80" opacity="0.6" d="M757,207a4,9 0 1 0 9,0a4,9 0 1 0 -9,0M748,289a4,7 0 1 0 8,0a4,7 0 1 0 -8,0M784,143a3,11 0 1 0 5,0a3,11 0 1 0 -5,0M749,320a3,10 0 1 0 7,0a3,10 0 1 0 -7,0M791,180a4,6 0 1 0 8,0a4,6 0 1 0 -8,0M779,168a4,6 0 1 0 8,0a4,6 0 1 0 -8,0M746,348a2,11 0 1 0 4,0a2,11 0 1 0 -4,0M793,147a4,6 0 1 0 9,0a4,6 0 1 0 -9,0M766,364a3,11 0 1 0 6,0a3,11 0 1 0 -6,0M764,275a4,8 0 1 0 8,0a4,8 0 1 0 -8,0M779,202a4,6 0 1 0 7,0a4,6 0 1 0 -7,0M753,305a3,6 0 1 0 7,0a3,6 0 1 0 -7,0M787,222a3,5 0 1 0 7,0a3,5 0 1 0 -7,0M775,179a5,9 0 1 0 10,0a5,9 0 1 0 -10,0M777,215a3,8 0 1 0 7,0a3,8 0 1 0 -7,0M788,328a4,6 0 1 0 9,0a4,6 0 1 0 -9,0M785,220a3,5 0 1 0 6,0a3,5 0 1 0 -6,0M756,351a2,11 0 1 0 5,0a2,11 0 1 0 -5,0M767,333a3,8 0 1 0 7,0a3,8 0 1 0 -7,0M753,286a5,9 0 1 0 10,0a5,9 0 1 0 -10,0M786,236a4,5 0 1 0 7,0a4,5 0 1 0 -7,0"/>
<path fill="#d2c6ac" opacity="0.6" d="M758,173a4,11 0 1 0 8,0a4,11 0 1 0 -8,0M752,195a3,8 0 1 0 5,0a3,8 0 1 0 -5,0M784,158a4,10 0 1 0 9,0a4,10 0 1 0 -9,0M797,275a3,7 0 1 0 6,0a3,7 0 1 0 -6,0M756,148a4,10 0 1 0 7,0a4,10 0 1 0 -7,0M760,173a3,10 0 1 0 5,0a3,10 0 1 0 -5,0M779,287a2,10 0 1 0 4,0a2,10 0 1 0 -4,0M753,284a2,10 0 1 0 4,0a2,10 0 1 0 -4,0M779,314a4,8 0 1 0 8,0a4,8 0 1 0 -8,0M784,214a3,8 0 1 0 5,0a3,8 0 1 0 -5,0M797,246a2,11 0 1 0 4,0a2,11 0 1 0 -4,0M754,253a4,7 0 1 0 8,0a4,7 0 1 0 -8,0M787,230a5,11 0 1 0 10,0a5,11 0 1 0 -10,0M767,295a5,5 0 1 0 9,0a5,5 0 1 0 -9,0M773,324a2,5 0 1 0 4,0a2,5 0 1 0 -4,0"/>
<path fill="#a29074" opacity="0.6" d="M760,242a4,9 0 1 0 9,0a4,9 0 1 0 -9,0M790,205a3,9 0 1 0 7,0a3,9 0 1 0 -7,0M776,193a5,10 0 1 0 9,0a5,10 0 1 0 -9,0M783,228a4,10 0 1 0 8,0a4,10 0 1 0 -8,0M774,303a2,5 0 1 0 5,0a2,5 0 1 0 -5,0M773,168a4,9 0 1 0 9,0a4,9 0 1 0 -9,0M781,141a4,9 0 1 0 7,0a4,9 0 1 0 -7,0M754,182a3,11 0 1 0 7,0a3,11 0 1 0 -7,0M750,209a4,10 0 1 0 8,0a4,10 0 1 0 -8,0M787,235a4,9 0 1 0 8,0a4,9 0 1 0 -8,0M779,233a3,9 0 1 0 5,0a3,9 0 1 0 -5,0M781,173a5,9 0 1 0 10,0a5,9 0 1 0 -10,0M790,305a4,8 0 1 0 7,0a4,8 0 1 0 -7,0M791,337a3,10 0 1 0 6,0a3,10 0 1 0 -6,0"/>
<path d="M752,128 L750,250 L744,320 L734,356 L748,356 L758,300 L762,200 L764,128 Z" fill="#e2d7bf" opacity="0.5" filter="url(#soft1)"/>
<path d="M751,130C751,134 753,145 753,152 753,159 752,164 752,171 753,179 753,187 754,197 755,206 756,218 756,227 756,235 756,239 756,247 756,255 757,264 757,272 757,281 756,290 756,297 756,305 756,310 757,318 757,326 758,338 759,347 759,356 761,365 762,373 762,380 762,390 763,394M767,130C767,134 763,148 763,156 763,164 765,173 765,180 765,187 764,192 764,200 764,209 764,221 764,230 764,239 765,246 765,255 765,263 764,273 764,283 764,292 765,303 766,312 766,320 767,327 766,334 766,342 765,349 764,356 763,364 761,372 761,380 761,387 763,398 764,402M780,130C779,133 777,143 776,150 775,157 775,166 776,173 776,180 777,186 778,192 778,199 778,205 778,212 778,219 779,227 779,233 779,240 779,245 779,253 778,261 777,273 776,281 775,289 773,293 773,301 773,309 774,321 774,329 775,338 776,343 776,350 777,357 776,363 776,370 776,378 776,393 776,397M788,130C788,133 788,141 788,149 788,157 791,169 790,178 790,186 789,192 788,200 787,207 786,216 786,225 786,234 788,244 788,254 789,263 790,272 790,281 791,290 792,300 792,309 793,317 792,324 793,331 793,338 792,342 793,349 793,356 795,364 795,373 795,381 794,395 794,400M801,130C801,134 801,148 801,155 800,162 799,167 799,173 799,180 800,186 800,194 801,203 801,214 801,223 801,233 802,242 802,250 802,258 800,263 800,270 800,278 801,287 802,295 802,303 803,311 803,318 803,326 801,333 801,340 800,347 800,353 799,360 798,368 797,376 795,385 794,394 792,409 791,414" stroke="#7e6c52" stroke-width="1.6" fill="none" opacity="0.7" stroke-dasharray="34 9 20 6 14 10"/>
<path d="M760,330 C758,350 752,372 744,392 M790,340 C792,360 796,380 800,400" stroke="#6a5a44" stroke-width="3.5" fill="none" opacity="0.6"/></g>
<g clip-path="url(#topcut)"><path d="M616,128 603,134 596,134 590,141 582,150 585,158 580,165 583,172 582,178 586,186 584,195 588,200 585,208 592,214 596,216 603,219 610,218 618,220 624,226 630,224 643,227 650,232 656,229 664,231 668,238 670,240 680,245 686,244 693,248 700,252 704,253 712,256 718,252 725,253 738,250 746,240 746,128Z" fill="#8e8068" opacity="0.25" filter="url(#mottle3)"/>
<path d="M820,128 1008,128 1004,138 1006,143 1002,146 995,152 988,159 984,160 980,165 975,171 970,172 968,178 963,184 962,190 958,194 956,201 950,205 946,208 944,213 940,216 934,225 928,224 922,227 912,228 909,234 907,239 900,240 896,246 888,250 882,255 872,252 861,249 855,253 850,251 840,252 832,245 828,238 826,200 820,128Z" fill="#6a6a5a" opacity="0.3" filter="url(#mottle3)"/>
<ellipse cx="690" cy="165" rx="50" ry="30" fill="#5e5e4e" opacity="0.5" filter="url(#blur8)"/>
<ellipse cx="905" cy="158" rx="85" ry="28" fill="#4f5347" opacity="0.55" filter="url(#blur8)"/>
<ellipse cx="860" cy="215" rx="30" ry="25" fill="#5a5e50" opacity="0.4" filter="url(#blur8)"/>
<path fill="#46443a" d="M741,144q-1,9 8,10q1,-9 -8,-10M743,146q-9,7 -3,17q9,-7 3,-17M642,132q-4,10 5,15q4,-10 -5,-15M651,132q-8,0 -10,8q8,-0 10,-8M657,132q-11,-2 -15,9q11,2 15,-9M671,138q-10,4 -9,14q10,-4 9,-14M679,136q-3,10 7,15q3,-10 -7,-15M687,140q-7,9 1,16q7,-9 -1,-16M688,129q-6,8 2,14q6,-8 -2,-14M633,138q-7,10 2,17q7,-10 -2,-17M632,150q-8,8 -1,16q8,-8 1,-16M606,139q-9,4 -6,14q9,-4 6,-14M629,129q-12,-1 -15,10q12,1 15,-10M620,137q-9,2 -9,10q9,-2 9,-10M622,135q-8,-0 -10,7q8,0 10,-7M633,134q-2,7 4,10q2,-7 -4,-10M640,124q-6,8 -0,17q6,-8 0,-17M705,137q-12,-0 -14,11q12,0 14,-11M700,141q-6,5 -2,12q6,-5 2,-12M757,139q-9,2 -10,11q9,-2 10,-11M751,133q-10,2 -9,12q10,-2 9,-12M746,138q-6,7 0,14q6,-7 -0,-14"/>
<path fill="#45463a" d="M866,197q-4,8 3,14q4,-8 -3,-14M864,211q-8,1 -8,9q8,-1 8,-9M856,142q-6,10 3,17q6,-10 -3,-17M944,188q-9,5 -5,15q9,-5 5,-15M933,194q-7,8 -1,17q7,-8 1,-17M934,197q3,8 12,6q-3,-8 -12,-6M953,198q2,8 10,7q-2,-8 -10,-7M870,201q-6,5 -2,12q6,-5 2,-12M864,186q-2,9 7,11q2,-9 -7,-11M888,189q-0,9 9,10q0,-9 -9,-10M856,195q-1,8 7,10q1,-8 -7,-10M854,199q-0,10 10,10q0,-10 -10,-10M878,218q-6,7 -1,14q6,-7 1,-14M876,193q-10,4 -8,14q10,-4 8,-14M853,185q-10,4 -9,15q10,-4 9,-15M851,182q-10,0 -12,10q10,-0 12,-10M871,134q-5,5 -1,11q5,-5 1,-11M855,145q-4,7 3,11q4,-7 -3,-11M878,187q-2,9 6,12q2,-9 -6,-12M886,185q-8,9 -0,18q8,-9 0,-18M960,129q-6,4 -4,12q6,-4 4,-12M928,207q-7,-2 -10,4q7,2 10,-4M968,135q2,6 9,6q-2,-6 -9,-6M915,123q-6,3 -4,10q6,-3 4,-10M919,152q-8,4 -7,13q8,-4 7,-13M960,133q-0,7 6,8q0,-7 -6,-8M939,211q-7,4 -5,11q7,-4 5,-11M849,160q-8,2 -7,10q8,-2 7,-10M829,151q3,8 12,7q-3,-8 -12,-7M978,138q0,8 8,9q-0,-8 -8,-9M994,136q-1,7 6,9q1,-7 -6,-9M984,138q-5,5 -2,11q5,-5 2,-11M995,133q-6,8 1,15q6,-8 -1,-15M979,146q-1,11 10,13q1,-11 -10,-13M970,148q-10,4 -7,15q10,-4 7,-15M886,166q-3,10 6,15q3,-10 -6,-15M842,150q-4,8 3,13q4,-8 -3,-13M843,149q-8,5 -5,14q8,-5 5,-14M992,147q-10,4 -6,14q10,-4 6,-14M999,145q-11,1 -10,12q11,-1 10,-12M868,196q1,9 10,10q-1,-9 -10,-10M840,123q-9,6 -4,16q9,-6 4,-16M880,129q-6,4 -4,11q6,-4 4,-11M891,241q-6,2 -6,8q6,-2 6,-8M893,238q-10,1 -9,11q10,-1 9,-11M838,156q-3,9 6,14q3,-9 -6,-14M843,156q-8,5 -4,13q8,-5 4,-13M869,157q-2,8 6,11q2,-8 -6,-11M871,157q-5,7 -0,14q5,-7 0,-14M909,147q-9,7 -3,18q9,-7 3,-18M959,156q-5,5 -1,11q5,-5 1,-11M961,154q-6,9 1,17q6,-9 -1,-17M950,156q-2,9 7,12q2,-9 -7,-12M824,143q-7,2 -7,9q7,-2 7,-9M847,155q-7,-0 -8,7q7,0 8,-7M1006,145q-7,2 -7,10q7,-2 7,-10M896,194q-1,8 6,11q1,-8 -6,-11M981,165q-5,7 1,12q5,-7 -1,-12M941,207q-5,10 5,15q5,-10 -5,-15M998,142q-9,-3 -14,6q9,3 14,-6M994,140q-10,1 -9,12q10,-1 9,-12M875,138q-6,3 -4,9q6,-3 4,-9M874,136q-8,2 -7,11q8,-2 7,-11M940,174q-3,11 7,15q3,-11 -7,-15M942,181q-6,4 -3,11q6,-4 3,-11M889,136q-3,5 1,10q3,-5 -1,-10M904,146q-6,7 -0,15q6,-7 0,-15M915,142q-9,3 -7,13q9,-3 7,-13M898,145q-2,7 4,11q2,-7 -4,-11M919,164q-10,-3 -15,6q10,3 15,-6M832,202q3,7 10,5q-3,-7 -10,-5M840,187q-2,11 9,15q2,-11 -9,-15M948,183q-2,10 7,13q2,-10 -7,-13M889,155q-5,5 -1,11q5,-5 1,-11M896,141q-3,11 6,17q3,-11 -6,-17M833,178q-6,6 -0,12q6,-6 0,-12"/>
<path fill="#505144" d="M935,180q-6,10 3,17q6,-10 -3,-17M894,175q-3,10 7,15q3,-10 -7,-15M909,183q-2,11 9,15q2,-11 -9,-15M896,194q-5,6 -0,13q5,-6 0,-13M904,190q-0,8 7,9q0,-8 -7,-9M943,188q-0,7 7,9q0,-7 -7,-9M832,155q-0,6 6,9q0,-6 -6,-9M852,146q3,7 10,4q-3,-7 -10,-4M846,152q1,7 8,7q-1,-7 -8,-7M828,177q-6,9 2,16q6,-9 -2,-16M841,171q-6,5 -3,13q6,-5 3,-13M940,163q-10,-2 -13,8q10,2 13,-8M941,158q-7,8 -1,17q7,-8 1,-17M929,159q-5,9 2,16q5,-9 -2,-16M927,212q2,9 11,9q-2,-9 -11,-9M931,214q-4,5 -1,11q4,-5 1,-11M919,219q2,10 12,10q-2,-10 -12,-10M901,196q-0,8 7,9q0,-8 -7,-9M906,203q-7,2 -7,9q7,-2 7,-9M985,154q-8,5 -6,14q8,-5 6,-14M982,154q-11,-2 -16,8q11,2 16,-8M976,149q-6,9 2,16q6,-9 -2,-16M860,188q-9,7 -3,16q9,-7 3,-16M885,141q-6,8 1,15q6,-8 -1,-15M878,133q-6,10 3,17q6,-10 -3,-17M841,174q-9,7 -3,17q9,-7 3,-17M845,183q-7,6 -2,14q7,-6 2,-14M833,226q-5,4 -2,10q5,-4 2,-10M836,242q-4,7 3,11q4,-7 -3,-11M837,236q-3,9 6,12q3,-9 -6,-12M826,243q-7,6 -1,13q7,-6 1,-13M962,155q-7,4 -4,11q7,-4 4,-11M954,152q-3,9 6,12q3,-9 -6,-12M966,146q-11,3 -9,14q11,-3 9,-14M931,194q-9,-2 -12,7q9,2 12,-7M860,167q-8,-3 -13,5q8,3 13,-5M849,165q-3,6 1,11q3,-6 -1,-11M913,189q3,7 11,6q-3,-7 -11,-6M912,191q3,11 14,9q-3,-11 -14,-9M838,130q-9,-1 -12,7q9,1 12,-7M923,145q-9,4 -7,14q9,-4 7,-14M935,132q-8,1 -8,9q8,-1 8,-9M870,151q-9,-2 -11,7q9,2 11,-7M867,142q-4,9 2,15q4,-9 -2,-15M866,147q-7,4 -4,12q7,-4 4,-12M885,177q-10,4 -7,14q10,-4 7,-14M883,159q-3,10 6,15q3,-10 -6,-15M885,140q-5,6 -1,12q5,-6 1,-12M902,131q-11,-2 -14,9q11,2 14,-9M884,214q-10,-3 -16,6q10,3 16,-6M884,214q-10,-2 -14,8q10,2 14,-8M917,212q-7,1 -7,9q7,-1 7,-9M913,208q-0,10 9,12q0,-10 -9,-12M949,133q-10,-2 -14,8q10,2 14,-8M947,134q-8,2 -8,10q8,-2 8,-10M940,163q-7,3 -7,10q7,-3 7,-10M1007,129q-0,9 8,11q0,-9 -8,-11M876,139q-7,4 -5,11q7,-4 5,-11M957,172q-6,6 -1,13q6,-6 1,-13M838,151q-1,11 9,14q1,-11 -9,-14M833,146q-4,8 4,13q4,-8 -4,-13M825,155q-6,9 1,17q6,-9 -1,-17M877,192q1,9 10,10q-1,-9 -10,-10M951,143q-2,7 4,10q2,-7 -4,-10M859,188q-8,6 -4,16q8,-6 4,-16M989,153q-6,5 -3,13q6,-5 3,-13M840,216q-9,0 -10,9q9,-0 10,-9M926,193q1,7 8,8q-1,-7 -8,-8M935,186q-6,4 -4,11q6,-4 4,-11M929,191q-4,6 1,12q4,-6 -1,-12M927,191q-4,9 5,15q4,-9 -5,-15M858,144q-4,5 0,10q4,-5 -0,-10M909,190q-7,5 -4,13q7,-5 4,-13"/>
<path fill="#5c5040" d="M834,198q4,10 14,8q-4,-10 -14,-8M942,163q-9,4 -7,14q9,-4 7,-14M950,148q-3,9 5,14q3,-9 -5,-14M982,134q-1,9 8,10q1,-9 -8,-10M995,136q-4,5 1,10q4,-5 -1,-10M986,139q-7,6 -2,14q7,-6 2,-14M937,185q-1,6 5,9q1,-6 -5,-9M955,164q0,8 8,9q-0,-8 -8,-9M935,189q-1,11 9,14q1,-11 -9,-14M952,194q-5,7 -0,14q5,-7 0,-14M911,143q1,11 12,11q-1,-11 -12,-11M846,179q-7,6 -3,14q7,-6 3,-14M837,191q-3,8 3,13q3,-8 -3,-13M907,122q-7,3 -4,10q7,-3 4,-10M915,156q-3,9 6,12q3,-9 -6,-12M968,147q-2,11 7,16q2,-11 -7,-16M880,235q-4,5 1,10q4,-5 -1,-10M893,229q-7,2 -5,9q7,-2 5,-9M845,142q-3,10 7,15q3,-10 -7,-15M842,144q-2,9 6,13q2,-9 -6,-13"/>
<path fill="#5e5040" d="M737,196q-6,4 -3,11q6,-4 3,-11M735,194q-11,2 -9,13q11,-2 9,-13M740,185q-5,6 -0,11q5,-6 0,-11M734,177q-3,10 7,15q3,-10 -7,-15M616,159q-1,11 10,15q1,-11 -10,-15M612,157q3,10 14,10q-3,-10 -14,-10M665,174q-7,5 -3,12q7,-5 3,-12M673,185q-8,4 -5,13q8,-4 5,-13M679,183q-1,9 8,12q1,-9 -8,-12M648,226q-6,4 -3,11q6,-4 3,-11M660,216q-5,8 2,14q5,-8 -2,-14M645,140q-3,6 3,10q3,-6 -3,-10M666,232q-6,4 -3,10q6,-4 3,-10M658,228q2,9 11,10q-2,-9 -11,-10M669,220q-6,8 1,15q6,-8 -1,-15M731,214q-8,2 -8,10q8,-2 8,-10M678,129q-9,2 -8,11q9,-2 8,-11M603,137q2,7 9,6q-2,-7 -9,-6M753,168q-2,9 6,14q2,-9 -6,-14M702,180q-6,6 -1,13q6,-6 1,-13M624,160q-6,-2 -9,4q6,2 9,-4M748,178q-10,-2 -14,7q10,2 14,-7M664,160q-2,8 5,11q2,-8 -5,-11M753,178q-12,-0 -13,11q12,0 13,-11M631,219q-5,10 4,15q5,-10 -4,-15M660,149q-5,7 1,12q5,-7 -1,-12M659,148q-6,6 -2,14q6,-6 2,-14M633,165q1,10 11,10q-1,-10 -11,-10"/>
<path fill="#56544a" d="M701,172q-5,10 5,17q5,-10 -5,-17M706,164q-3,10 6,16q3,-10 -6,-16M612,193q-8,1 -9,8q8,-1 9,-8M601,199q-8,5 -5,14q8,-5 5,-14M603,196q2,9 11,10q-2,-9 -11,-10M742,167q-7,7 -1,15q7,-7 1,-15M748,169q-1,10 8,15q1,-10 -8,-15M740,229q-1,11 9,15q1,-11 -9,-15M738,231q-3,11 8,15q3,-11 -8,-15M741,232q0,8 8,11q-0,-8 -8,-11M733,145q-2,9 7,12q2,-9 -7,-12M738,143q-2,9 5,13q2,-9 -5,-13M735,152q-0,8 8,9q0,-8 -8,-9M698,233q1,9 10,10q-1,-9 -10,-10M739,230q-5,5 -1,11q5,-5 1,-11M753,224q-11,0 -12,11q11,-0 12,-11M751,220q-8,5 -4,13q8,-5 4,-13M748,222q-9,-0 -11,9q9,0 11,-9M744,236q2,8 10,7q-2,-8 -10,-7M730,180q-6,8 -0,16q6,-8 0,-16M730,190q-7,-1 -9,6q7,1 9,-6M692,126q-7,8 1,15q7,-8 -1,-15M619,142q-7,4 -4,12q7,-4 4,-12M603,142q-6,4 -3,11q6,-4 3,-11M610,147q-0,8 7,11q0,-8 -7,-11M746,133q-2,6 4,10q2,-6 -4,-10M748,130q-4,5 -0,10q4,-5 0,-10M728,219q-8,6 -4,15q8,-6 4,-15M732,206q-8,6 -2,14q8,-6 2,-14M733,207q-7,6 -2,14q7,-6 2,-14M735,221q-9,-2 -11,7q9,2 11,-7M742,212q-11,-3 -15,7q11,3 15,-7"/>
<path fill="#625442" d="M895,229q-6,9 2,16q6,-9 -2,-16M895,232q-5,8 1,15q5,-8 -1,-15M899,225q-5,10 4,17q5,-10 -4,-17M874,228q3,7 10,5q-3,-7 -10,-5M873,222q-7,6 -3,14q7,-6 3,-14M885,214q1,6 8,6q-1,-6 -8,-6M880,221q4,11 15,10q-4,-11 -15,-10M876,220q-6,9 -0,17q6,-9 0,-17M843,208q-2,9 6,13q2,-9 -6,-13M942,192q-11,3 -8,14q11,-3 8,-14M868,233q-8,3 -7,11q8,-3 7,-11M858,231q-8,3 -6,11q8,-3 6,-11M871,227q-9,3 -9,12q9,-3 9,-12M883,228q-3,9 5,13q3,-9 -5,-13M885,216q-1,11 9,14q1,-11 -9,-14M918,215q-5,7 1,13q5,-7 -1,-13M912,215q-6,6 -2,13q6,-6 2,-13M885,221q-9,-3 -12,5q9,3 12,-5M941,193q-6,6 -1,12q6,-6 1,-12M884,251q-0,8 8,9q0,-8 -8,-9"/>
<path fill="#64543e" d="M688,218q-5,8 2,14q5,-8 -2,-14M621,214q-10,4 -8,15q10,-4 8,-15M723,225q-8,2 -8,10q8,-2 8,-10M725,222q-6,7 0,13q6,-7 -0,-13M676,169q-5,7 2,13q5,-7 -2,-13M686,172q-4,5 -0,10q4,-5 0,-10M679,181q-9,3 -8,12q9,-3 8,-12M693,172q-11,0 -12,11q11,-0 12,-11M647,156q-7,1 -8,8q7,-1 8,-8M640,166q-9,7 -3,16q9,-7 3,-16M642,171q-7,2 -6,9q7,-2 6,-9M591,183q-5,5 0,10q5,-5 -0,-10M593,176q-1,8 7,11q1,-8 -7,-11M589,180q-7,7 -2,16q7,-7 2,-16M664,161q-3,11 6,16q3,-11 -6,-16M712,209q-12,-1 -14,11q12,1 14,-11M709,206q-8,5 -5,14q8,-5 5,-14M753,213q-3,8 4,12q3,-8 -4,-12M733,185q-5,6 1,12q5,-6 -1,-12M701,166q-7,10 2,18q7,-10 -2,-18M690,173q-8,6 -4,15q8,-6 4,-15M733,192q-6,8 0,15q6,-8 -0,-15M607,185q-0,8 7,11q0,-8 -7,-11M722,176q-11,4 -8,15q11,-4 8,-15M748,152q-3,8 4,12q3,-8 -4,-12M673,150q-7,-2 -9,5q7,2 9,-5M621,172q3,11 14,11q-3,-11 -14,-11M623,163q1,8 8,9q-1,-8 -8,-9M669,194q-1,10 9,12q1,-10 -9,-12M663,195q1,7 8,8q-1,-7 -8,-8M674,192q-4,9 4,15q4,-9 -4,-15M677,187q-10,3 -9,14q10,-3 9,-14M685,183q-7,7 -1,14q7,-7 1,-14M677,191q-6,6 -2,13q6,-6 2,-13M653,199q-6,4 -3,11q6,-4 3,-11M689,180q-11,2 -11,12q11,-2 11,-12M731,219q-8,4 -7,13q8,-4 7,-13M750,215q-8,1 -9,8q8,-1 9,-8M711,236q-4,8 3,13q4,-8 -3,-13M618,206q-1,6 5,9q1,-6 -5,-9M613,170q-1,7 6,9q1,-7 -6,-9M615,170q-10,5 -6,15q10,-5 6,-15M736,176q-5,8 0,15q5,-8 -0,-15M724,178q-4,10 4,17q4,-10 -4,-17M635,171q-5,4 -3,10q5,-4 3,-10M614,182q-8,4 -6,13q8,-4 6,-13M713,156q-9,3 -8,13q9,-3 8,-13M738,156q-1,8 7,10q1,-8 -7,-10M734,168q-6,5 -3,12q6,-5 3,-12M745,161q-7,2 -5,9q7,-2 5,-9M749,210q-5,8 0,16q5,-8 -0,-16M653,153q-8,5 -5,13q8,-5 5,-13M659,150q0,7 7,9q-0,-7 -7,-9M698,184q-4,6 1,11q4,-6 -1,-11M700,192q-8,4 -5,13q8,-4 5,-13"/>
<path fill="#5a5848" d="M732,149q2,9 11,7q-2,-9 -11,-7M742,138q-5,9 2,17q5,-9 -2,-17M647,136q-7,-0 -9,7q7,0 9,-7M669,137q-1,8 6,11q1,-8 -6,-11M666,131q-2,7 4,10q2,-7 -4,-10M680,126q-7,7 -2,15q7,-7 2,-15M629,139q-7,10 3,18q7,-10 -3,-18M605,134q-9,1 -9,10q9,-1 9,-10M593,136q-10,6 -7,17q10,-6 7,-17M608,135q-7,1 -7,8q7,-1 7,-8M677,143q-1,9 8,12q1,-9 -8,-12M674,146q-6,5 -1,12q6,-5 1,-12M681,147q-8,2 -7,11q8,-2 7,-11M753,130q-7,1 -7,8q7,-1 7,-8"/>
<path fill="#5e5e4e" d="M862,194q-2,7 5,9q2,-7 -5,-9M863,202q-8,1 -8,9q8,-1 8,-9M866,144q-8,-2 -12,5q8,2 12,-5M875,129q-9,2 -9,11q9,-2 9,-11M964,154q-10,3 -9,14q10,-3 9,-14M953,155q-2,10 7,14q2,-10 -7,-14M955,194q-9,6 -5,15q9,-6 5,-15M873,188q-7,8 -1,17q7,-8 1,-17M869,188q0,11 11,11q-0,-11 -11,-11M862,192q-6,9 2,16q6,-9 -2,-16M892,188q-6,3 -5,9q6,-3 5,-9M861,187q-1,9 8,10q1,-9 -8,-10M855,185q1,11 12,12q-1,-11 -12,-12M869,193q-6,6 -1,13q6,-6 1,-13M874,181q-2,9 7,13q2,-9 -7,-13M824,191q-5,6 1,11q5,-6 -1,-11M868,128q-5,5 0,11q5,-5 -0,-11M860,137q1,8 10,9q-1,-8 -10,-9M863,132q-1,8 7,10q1,-8 -7,-10M869,194q1,8 9,10q-1,-8 -9,-10M868,189q-3,8 4,14q3,-8 -4,-14M829,135q-9,5 -6,14q9,-5 6,-14M923,186q-9,8 -1,18q9,-8 1,-18M923,188q-5,8 2,14q5,-8 -2,-14M890,121q-1,12 11,14q1,-12 -11,-14M898,123q-5,10 4,16q5,-10 -4,-16M894,134q2,7 9,5q-2,-7 -9,-5M896,133q-9,5 -6,15q9,-5 6,-15M836,244q-10,-4 -15,5q10,4 15,-5M968,120q-3,8 4,14q3,-8 -4,-14M960,126q-5,6 1,11q5,-6 -1,-11M965,130q-6,2 -5,9q6,-2 5,-9M838,147q-4,6 1,11q4,-6 -1,-11M829,141q-4,8 3,14q4,-8 -3,-14M820,164q0,10 10,10q-0,-10 -10,-10M921,159q-4,6 2,11q4,-6 -2,-11M913,159q-2,8 5,10q2,-8 -5,-10M909,169q-4,9 3,15q4,-9 -3,-15M915,166q-4,5 1,10q4,-5 -1,-10M912,166q-6,9 1,17q6,-9 -1,-17M978,133q-11,2 -11,14q11,-2 11,-14M981,138q-9,1 -9,11q9,-1 9,-11M927,146q-6,7 0,14q6,-7 -0,-14M938,170q-6,4 -3,10q6,-4 3,-10M930,174q-3,6 2,10q3,-6 -2,-10M933,167q2,10 12,10q-2,-10 -12,-10M842,142q-8,2 -7,10q8,-2 7,-10M833,152q-6,7 0,13q6,-7 -0,-13M970,147q-8,8 -3,18q8,-8 3,-18M988,136q-7,7 -2,15q7,-7 2,-15M827,124q-4,7 3,11q4,-7 -3,-11M856,154q1,10 12,11q-1,-10 -12,-11M876,135q4,10 15,9q-4,-10 -15,-9M881,136q-5,7 2,12q5,-7 -2,-12M872,240q-1,11 10,15q1,-11 -10,-15M845,150q-3,5 1,10q3,-5 -1,-10M852,141q-5,8 2,13q5,-8 -2,-13M845,143q-3,12 8,16q3,-12 -8,-16M869,150q-6,4 -4,10q6,-4 4,-10M923,152q-2,8 5,10q2,-8 -5,-10M925,155q-3,7 3,11q3,-7 -3,-11M909,151q-7,1 -8,8q7,-1 8,-8M878,234q-8,3 -7,12q8,-3 7,-12M941,154q0,9 10,10q-0,-9 -10,-10M951,152q-5,6 1,12q5,-6 -1,-12M1006,138q-10,5 -5,15q10,-5 5,-15M999,148q-6,3 -5,10q6,-3 5,-10M886,189q-8,6 -3,15q8,-6 3,-15M977,145q-6,5 -3,12q6,-5 3,-12M985,141q-7,-1 -10,6q7,1 10,-6M987,134q-6,2 -6,9q6,-2 6,-9M983,144q-11,-3 -15,8q11,3 15,-8M863,137q-5,7 1,13q5,-7 -1,-13M917,178q-3,7 3,11q3,-7 -3,-11M921,187q-7,3 -6,10q7,-3 6,-10M923,177q-8,6 -2,15q8,-6 2,-15M978,155q-1,8 7,11q1,-8 -7,-11M901,133q1,8 9,10q-1,-8 -9,-10M891,140q-2,9 7,12q2,-9 -7,-12M896,141q-10,2 -8,12q10,-2 8,-12M911,162q-8,6 -5,16q8,-6 5,-16M921,200q-10,3 -9,14q10,-3 9,-14M834,184q3,6 9,4q-3,-6 -9,-4M827,191q-5,6 1,12q5,-6 -1,-12M952,167q-8,5 -4,13q8,-5 4,-13M943,172q1,7 8,7q-1,-7 -8,-7M902,144q-9,-1 -11,8q9,1 11,-8"/>
<path fill="#6e6e5c" d="M920,188q-10,2 -8,12q10,-2 8,-12M923,171q-8,8 -2,17q8,-8 2,-17M911,185q-5,7 1,13q5,-7 -1,-13M926,190q-3,8 4,13q3,-8 -4,-13M887,179q-3,7 4,11q3,-7 -4,-11M897,182q-9,3 -8,13q9,-3 8,-13M903,170q-10,2 -11,13q10,-2 11,-13M895,182q-3,9 6,12q3,-9 -6,-12M933,180q-5,6 1,12q5,-6 -1,-12M941,179q-7,7 0,14q7,-7 -0,-14M945,173q-5,5 -2,11q5,-5 2,-11M827,164q-8,2 -7,10q8,-2 7,-10M823,153q-7,6 -2,13q7,-6 2,-13M835,151q-6,6 -1,13q6,-6 1,-13M863,161q-7,-0 -9,7q7,0 9,-7M850,141q-7,5 -2,12q7,-5 2,-12M852,227q0,8 8,10q-0,-8 -8,-10M825,172q-1,9 8,13q1,-9 -8,-13M840,162q-8,5 -4,13q8,-5 4,-13M840,160q-4,8 3,13q4,-8 -3,-13M831,174q-5,5 -1,11q5,-5 1,-11M903,190q-3,7 4,10q3,-7 -4,-10M887,201q-0,8 8,10q0,-8 -8,-10M888,183q-4,7 3,11q4,-7 -3,-11M960,151q-3,6 2,11q3,-6 -2,-11M963,147q-7,5 -4,13q7,-5 4,-13M851,200q-8,-0 -10,7q8,0 10,-7M847,193q-8,1 -7,9q8,-1 7,-9M829,175q-4,10 6,14q4,-10 -6,-14M814,182q3,11 14,11q-3,-11 -14,-11M837,168q-5,6 1,11q5,-6 -1,-11M838,234q-10,1 -9,11q10,-1 9,-11M822,238q-3,9 5,13q3,-9 -5,-13M829,225q-3,11 8,16q3,-11 -8,-16M830,163q-11,0 -14,11q11,-0 14,-11M957,144q-4,5 -1,11q4,-5 1,-11M956,145q-9,3 -8,13q9,-3 8,-13M956,141q-8,6 -2,15q8,-6 2,-15M934,184q-5,5 -1,11q5,-5 1,-11M849,163q-9,-1 -12,7q9,1 12,-7M841,164q-8,3 -5,11q8,-3 5,-11M913,181q1,7 9,8q-1,-7 -9,-8M909,182q-3,8 4,11q3,-8 -4,-11M901,218q-4,10 7,15q4,-10 -7,-15M909,215q-6,9 1,17q6,-9 -1,-17M902,231q-8,4 -4,12q8,-4 4,-12M913,147q-8,-1 -11,6q8,1 11,-6M911,143q-11,1 -11,12q11,-1 11,-12M853,147q-3,7 2,12q3,-7 -2,-12M865,150q-7,5 -2,13q7,-5 2,-13M870,142q-7,1 -7,8q7,-1 7,-8M871,173q-3,8 5,11q3,-8 -5,-11M889,128q-3,8 3,12q3,-8 -3,-12M890,135q-7,-2 -10,5q7,2 10,-5M876,204q-5,7 -0,13q5,-7 0,-13M911,201q-7,6 -2,14q7,-6 2,-14M935,131q-9,5 -5,14q9,-5 5,-14M939,133q-9,-2 -13,7q9,2 13,-7M933,171q-9,4 -7,14q9,-4 7,-14M990,136q-2,9 7,12q2,-9 -7,-12M1001,121q-8,4 -5,12q8,-4 5,-12M857,136q-5,7 1,13q5,-7 -1,-13M959,175q-7,3 -5,11q7,-3 5,-11M869,186q-4,9 4,14q4,-9 -4,-14M882,168q-4,6 1,12q4,-6 -1,-12M944,146q-1,8 6,10q1,-8 -6,-10M941,149q-6,9 1,17q6,-9 -1,-17M938,143q-6,7 1,14q6,-7 -1,-14M864,171q-8,7 -2,15q8,-7 2,-15M864,172q-9,3 -9,12q9,-3 9,-12M902,178q-7,6 -2,13q7,-6 2,-13"/>
<path fill="#7e6e54" d="M826,184q-7,10 2,18q7,-10 -2,-18M825,188q-8,7 -5,17q8,-7 5,-17M835,183q-2,10 8,14q2,-10 -8,-14M977,130q-3,8 5,12q3,-8 -5,-12M986,129q-6,4 -3,11q6,-4 3,-11M949,159q-0,10 9,12q0,-10 -9,-12M946,131q-0,10 10,11q0,-10 -10,-11M946,130q2,7 10,7q-2,-7 -10,-7M901,132q-1,7 7,9q1,-7 -7,-9M898,142q-3,7 3,10q3,-7 -3,-10M836,168q-8,1 -9,9q8,-1 9,-9M835,186q-2,9 6,12q2,-9 -6,-12M828,187q-5,9 3,15q5,-9 -3,-15M839,180q-11,5 -6,16q11,-5 6,-16M903,192q2,6 9,6q-2,-6 -9,-6M895,203q2,6 9,6q-2,-6 -9,-6M910,149q1,11 12,13q-1,-11 -12,-13M905,151q0,9 9,11q-0,-9 -9,-11M961,136q-2,11 8,15q2,-11 -8,-15M834,170q-7,7 -2,16q7,-7 2,-16M849,215q-5,5 -1,12q5,-5 1,-12M870,205q-10,-1 -12,8q10,1 12,-8M877,214q-9,3 -8,13q9,-3 8,-13M881,230q-6,2 -6,8q6,-2 6,-8M879,227q0,8 9,9q-0,-8 -9,-9M871,124q-6,5 -2,11q6,-5 2,-11M865,122q-3,8 4,13q3,-8 -4,-13"/>
<path fill="#767260" d="M603,187q-11,3 -10,14q11,-3 10,-14M611,189q-7,3 -6,10q7,-3 6,-10M609,190q-5,7 1,13q5,-7 -1,-13M605,177q-5,9 3,15q5,-9 -3,-15M593,184q-3,7 3,11q3,-7 -3,-11M738,173q-7,4 -4,11q7,-4 4,-11M732,228q-4,10 5,15q4,-10 -5,-15M726,138q-9,7 -3,17q9,-7 3,-17M612,199q-4,11 6,17q4,-11 -6,-17M754,205q-8,6 -4,15q8,-6 4,-15M753,206q-11,2 -11,12q11,-2 11,-12M743,176q-9,4 -7,13q9,-4 7,-13M627,176q-7,5 -4,13q7,-5 4,-13M603,149q-7,3 -5,10q7,-3 5,-10M604,140q-7,6 -2,14q7,-6 2,-14M726,133q-1,11 9,13q1,-11 -9,-13M729,214q-8,0 -8,8q8,-0 8,-8"/>
<path fill="#857358" d="M727,187q-7,7 -2,15q7,-7 2,-15M668,172q-8,2 -6,10q8,-2 6,-10M666,184q-5,3 -3,9q5,-3 3,-9M679,173q-7,1 -7,8q7,-1 7,-8M602,134q1,11 12,13q-1,-11 -12,-13M642,220q-10,7 -4,18q10,-7 4,-18M651,214q-8,8 -0,16q8,-8 0,-16M641,141q-9,-1 -11,9q9,1 11,-9M637,139q-8,-0 -9,8q8,0 9,-8M635,138q-6,7 -1,14q6,-7 1,-14M647,132q-7,5 -4,12q7,-5 4,-12M659,187q0,8 7,10q-0,-8 -7,-10M658,194q-7,2 -8,9q7,-2 8,-9M659,218q1,10 12,10q-1,-10 -12,-10M718,205q-2,7 4,11q2,-7 -4,-11M682,138q-6,3 -4,10q6,-3 4,-10M679,138q-3,6 2,10q3,-6 -2,-10M612,124q-10,6 -5,16q10,-6 5,-16M612,129q-6,7 -1,15q6,-7 1,-15M632,135q-7,9 0,18q7,-9 -0,-18M640,128q-4,10 5,17q4,-10 -5,-17M741,172q-7,6 -2,14q7,-6 2,-14M694,177q-2,11 8,16q2,-11 -8,-16M629,140q-10,6 -6,17q10,-6 6,-17M741,165q-7,2 -5,9q7,-2 5,-9M742,167q-6,9 1,17q6,-9 -1,-17M641,169q-8,3 -8,12q8,-3 8,-12M731,183q-4,6 0,11q4,-6 -0,-11M737,172q-8,7 -3,17q8,-7 3,-17M636,207q-9,6 -4,16q9,-6 4,-16M634,216q-10,1 -11,11q10,-1 11,-11M645,146q3,10 13,8q-3,-10 -13,-8M639,150q2,11 12,10q-2,-11 -12,-10M622,164q4,7 11,5q-4,-7 -11,-5"/>
<path fill="#86765a" d="M914,211q-8,2 -8,10q8,-2 8,-10M881,234q-0,10 10,12q0,-10 -10,-12M885,234q3,6 9,4q-3,-6 -9,-4M878,210q-1,7 6,9q1,-7 -6,-9M875,212q-5,4 -2,10q5,-4 2,-10M868,213q0,12 13,13q-0,-12 -13,-13M880,206q0,10 10,12q-0,-10 -10,-12M870,209q1,10 12,10q-1,-10 -12,-10M826,217q-9,5 -6,14q9,-5 6,-14M821,199q-5,5 -2,12q5,-5 2,-12M853,227q-2,8 6,11q2,-8 -6,-11M886,228q-6,4 -5,11q6,-4 5,-11M916,203q-5,8 2,15q5,-8 -2,-15M885,219q-7,-2 -10,5q7,2 10,-5M937,186q-2,8 6,11q2,-8 -6,-11M885,241q-2,8 6,11q2,-8 -6,-11M884,241q3,7 10,6q-3,-7 -10,-6"/>
<path fill="#7e7a66" d="M629,135q-9,0 -9,9q9,-0 9,-9M630,132q-7,5 -3,13q7,-5 3,-13M673,128q-0,12 11,14q0,-12 -11,-14M647,134q-5,8 3,14q5,-8 -3,-14M651,130q1,9 11,11q-1,-9 -11,-11M671,129q-7,3 -6,11q7,-3 6,-11M673,129q-4,6 1,12q4,-6 -1,-12M610,130q-5,5 -1,10q5,-5 1,-10M611,133q-8,-2 -10,6q8,2 10,-6M615,132q-7,-3 -10,4q7,3 10,-4"/>
<path fill="#8e7a5c" d="M683,205q-11,3 -10,15q11,-3 10,-15M637,209q-8,4 -6,12q8,-4 6,-12M661,164q-4,10 6,15q4,-10 -6,-15M632,160q-6,8 0,15q6,-8 -0,-15M583,174q-0,8 8,11q0,-8 -8,-11M661,169q-5,5 -2,12q5,-5 2,-12M664,159q-10,3 -8,12q10,-3 8,-12M714,199q-8,0 -9,8q8,-0 9,-8M706,206q-7,1 -8,8q7,-1 8,-8M743,211q-7,6 -3,14q7,-6 3,-14M744,217q-7,6 -1,13q7,-6 1,-13M720,210q-8,8 -1,17q8,-8 1,-17M726,186q-11,1 -12,13q11,-1 12,-13M697,163q-12,2 -11,14q12,-2 11,-14M710,161q-1,8 7,10q1,-8 -7,-10M714,156q-9,7 -3,16q9,-7 3,-16M728,192q-3,7 2,12q3,-7 -2,-12M723,195q1,11 11,13q-1,-11 -11,-13M615,174q-8,4 -6,12q8,-4 6,-12M634,174q2,9 11,7q-2,-9 -11,-7M651,155q-9,5 -5,15q9,-5 5,-15M649,153q-4,10 5,17q4,-10 -5,-17M629,199q2,8 10,9q-2,-8 -10,-9M675,179q0,9 9,10q-0,-9 -9,-10M677,180q-7,2 -8,9q7,-2 8,-9M719,235q3,7 11,6q-3,-7 -11,-6M735,205q-7,7 -0,14q7,-7 0,-14M608,168q-6,4 -4,11q6,-4 4,-11M598,174q0,11 11,12q-0,-11 -11,-12M622,168q0,8 8,9q-0,-8 -8,-9M620,180q-8,1 -9,8q8,-1 9,-8M612,166q-1,8 7,11q1,-8 -7,-11M600,177q1,10 10,12q-1,-10 -10,-12M731,153q-10,4 -8,15q10,-4 8,-15M723,159q-3,7 2,12q3,-7 -2,-12M593,186q-6,6 -1,13q6,-6 1,-13M745,209q-9,5 -5,14q9,-5 5,-14M724,218q1,8 9,8q-1,-8 -9,-8M745,209q-9,2 -9,12q9,-2 9,-12M739,210q-5,8 3,14q5,-8 -3,-14M726,190q-9,4 -6,13q9,-4 6,-13M710,208q-4,5 0,10q4,-5 -0,-10M626,173q-1,8 7,10q1,-8 -7,-10M626,174q-5,6 -1,12q5,-6 1,-12M631,163q-4,10 4,17q4,-10 -4,-17M629,166q-3,11 7,15q3,-11 -7,-15M635,174q-7,7 -1,15q7,-7 1,-15M654,154q-6,1 -7,8q6,-1 7,-8M660,147q-7,0 -7,7q7,-0 7,-7M650,149q-3,7 3,13q3,-7 -3,-13M696,178q-8,4 -6,13q8,-4 6,-13M689,189q-9,5 -7,16q9,-5 7,-16"/>
<path fill="#8a8a78" d="M926,177q-2,6 4,10q2,-6 -4,-10M941,193q-2,11 8,14q2,-11 -8,-14M944,192q-9,5 -5,14q9,-5 5,-14M945,193q-0,7 6,9q0,-7 -6,-9M858,188q2,9 11,9q-2,-9 -11,-9M889,184q-6,4 -3,10q6,-4 3,-10M865,198q-11,2 -12,12q11,-2 12,-12M873,196q-11,0 -12,11q11,-0 12,-11M862,176q-7,5 -3,13q7,-5 3,-13M864,127q-7,8 0,16q7,-8 -0,-16M858,126q1,11 12,12q-1,-11 -12,-12M876,180q-4,11 6,16q4,-11 -6,-16M918,192q-8,1 -9,9q8,-1 9,-9M930,184q-10,-0 -13,10q10,0 13,-10M957,127q3,11 15,11q-3,-11 -15,-11M960,134q-5,4 -2,10q5,-4 2,-10M825,226q-8,4 -6,12q8,-4 6,-12M905,139q-6,9 2,17q6,-9 -2,-17M899,140q-1,10 8,12q1,-10 -8,-12M915,212q-1,8 6,11q1,-8 -6,-11M898,165q1,12 13,12q-1,-12 -13,-12M919,143q-5,5 -1,10q5,-5 1,-10M973,141q-10,2 -10,12q10,-2 10,-12M892,143q-7,3 -6,11q7,-3 6,-11M918,165q-5,11 5,16q5,-11 -5,-16M835,136q-7,6 -3,13q7,-6 3,-13M870,186q-6,3 -4,9q6,-3 4,-9M827,121q-9,1 -10,10q9,-1 10,-10M854,158q-5,9 2,15q5,-9 -2,-15M872,129q1,8 9,8q-1,-8 -9,-8M967,133q-6,-3 -9,4q6,3 9,-4M869,240q-7,9 2,16q7,-9 -2,-16M844,140q-7,3 -5,10q7,-3 5,-10M857,152q-1,8 7,11q1,-8 -7,-11M876,231q-9,1 -11,10q9,-1 11,-10M890,244q-9,0 -11,9q9,-0 11,-9M955,144q-6,6 -2,12q6,-6 2,-12M948,144q-10,7 -4,17q10,-7 4,-17M822,146q-9,1 -10,11q9,-1 10,-11M897,130q-2,6 4,9q2,-6 -4,-9M990,135q-10,6 -4,17q10,-6 4,-17M987,140q-9,4 -5,13q9,-4 5,-13M888,179q-4,8 4,13q4,-8 -4,-13M932,194q-8,2 -7,10q8,-2 7,-10M855,137q-2,9 7,12q2,-9 -7,-12M916,170q1,12 13,12q-1,-12 -13,-12M986,139q-5,7 0,14q5,-7 -0,-14M861,168q-7,6 -2,14q7,-6 2,-14M820,189q-2,8 5,11q2,-8 -5,-11M892,147q-8,-2 -11,5q8,2 11,-5M830,161q-6,1 -8,7q6,-1 8,-7"/>
<path fill="#a89878" d="M942,142q-9,3 -9,13q9,-3 9,-13M943,161q-1,9 7,12q1,-9 -7,-12M924,173q4,8 13,5q-4,-8 -13,-5M922,175q3,6 10,5q-3,-6 -10,-5M926,172q3,7 11,5q-3,-7 -11,-5M941,190q-2,12 9,15q2,-12 -9,-15M890,139q3,9 13,8q-3,-9 -13,-8M892,138q-2,11 9,14q2,-11 -9,-14M902,185q-2,10 8,13q2,-10 -8,-13M898,147q-7,9 1,17q7,-9 -1,-17M901,154q-6,8 0,15q6,-8 -0,-15M823,171q1,7 8,8q-1,-7 -8,-8M843,207q-3,10 6,16q3,-10 -6,-16M874,219q-7,4 -6,12q7,-4 6,-12M878,223q-10,4 -7,15q10,-4 7,-15"/>
<path fill="#a09a84" d="M695,157q-7,10 2,18q7,-10 -2,-18M742,177q-7,0 -9,7q7,-0 9,-7M715,144q-2,9 6,11q2,-9 -6,-11M611,198q-4,5 1,10q4,-5 -1,-10M679,235q-8,7 -2,16q8,-7 2,-16M669,184q-5,8 2,14q5,-8 -2,-14M672,174q-11,-0 -12,10q11,0 12,-10M727,219q-8,6 -3,14q8,-6 3,-14M727,169q-8,4 -6,13q8,-4 6,-13M601,133q-5,11 5,17q5,-11 -5,-17M606,139q-8,1 -8,10q8,-1 8,-10M730,121q-3,10 7,15q3,-10 -7,-15M727,122q-5,7 1,12q5,-7 -1,-12"/>
<path fill="#a4a290" d="M897,171q-8,-1 -11,7q8,1 11,-7M939,167q-9,6 -4,15q9,-6 4,-15M932,173q-3,7 3,11q3,-7 -3,-11M925,176q2,6 8,6q-2,-6 -8,-6M815,154q-3,9 6,12q3,-9 -6,-12M819,155q-10,3 -10,13q10,-3 10,-13M817,150q-4,9 4,15q4,-9 -4,-15M869,136q-2,9 6,14q2,-9 -6,-14M865,141q-8,3 -7,11q8,-3 7,-11M839,134q-10,5 -6,16q10,-5 6,-16M831,144q-0,7 6,9q0,-7 -6,-9M830,146q-2,8 6,11q2,-8 -6,-11M837,232q-0,7 6,9q0,-7 -6,-9M819,173q-3,6 3,10q3,-6 -3,-10M919,206q-10,7 -4,17q10,-7 4,-17M896,199q-6,10 2,17q6,-10 -2,-17M960,148q-6,3 -4,9q6,-3 4,-9M843,186q-8,7 -2,16q8,-7 2,-16M842,194q-3,8 4,13q3,-8 -4,-13M867,126q-1,9 6,12q1,-9 -6,-12M861,128q1,10 11,10q-1,-10 -11,-10M837,169q-7,6 -2,14q7,-6 2,-14M828,186q-7,5 -3,12q7,-5 3,-12M815,187q-7,6 -2,14q7,-6 2,-14M837,150q-11,2 -12,13q11,-2 12,-13M940,197q-8,1 -9,9q8,-1 9,-9M919,187q-8,3 -7,11q8,-3 7,-11M842,161q-9,-1 -10,8q9,1 10,-8M907,180q4,10 14,7q-4,-10 -14,-7M902,183q0,9 9,11q-0,-9 -9,-11M909,175q-4,10 5,17q4,-10 -5,-17M907,184q-4,5 0,11q4,-5 -0,-11M902,125q-4,8 4,13q4,-8 -4,-13M858,148q-7,0 -8,7q7,-0 8,-7M872,201q-8,4 -4,13q8,-4 4,-13M881,139q-3,8 4,12q3,-8 -4,-12M951,159q-9,3 -7,12q9,-3 7,-12M824,137q1,9 11,9q-1,-9 -11,-9M821,141q-5,8 2,15q5,-8 -2,-15M882,224q-9,7 -2,16q9,-7 2,-16M832,202q-8,0 -8,8q8,-0 8,-8M831,200q-8,8 -1,17q8,-8 1,-17M826,204q-6,4 -2,10q6,-4 2,-10"/>
<path fill="#b0a084" d="M607,154q-10,6 -6,17q10,-6 6,-17M604,170q-9,3 -9,12q9,-3 9,-12M681,179q-5,8 1,16q5,-8 -1,-16M664,180q-7,5 -3,13q7,-5 3,-13M637,131q-10,4 -9,15q10,-4 9,-15M665,179q-12,0 -13,12q12,-0 13,-12M692,121q-9,6 -5,15q9,-6 5,-15M598,127q4,9 13,7q-4,-9 -13,-7M641,125q-9,3 -9,13q9,-3 9,-13M716,159q1,7 8,8q-1,-7 -8,-8M745,162q-6,2 -6,9q6,-2 6,-9M628,143q-11,-4 -15,7q11,4 15,-7M757,174q-8,-1 -10,7q8,1 10,-7M747,162q-8,0 -10,8q8,-0 10,-8M739,163q-7,-1 -8,6q7,1 8,-6M639,163q-2,6 4,10q2,-6 -4,-10M743,174q-4,11 6,17q4,-11 -6,-17M632,144q-2,10 7,14q2,-10 -7,-14M619,151q2,10 13,10q-2,-10 -13,-10M627,154q-5,7 -0,13q5,-7 0,-13"/>
<path fill="#b4a486" d="M905,225q0,9 10,10q-0,-9 -10,-10M910,197q-3,7 3,11q3,-7 -3,-11M849,224q-6,6 -0,12q6,-6 0,-12M847,227q-6,5 -2,12q6,-5 2,-12M912,202q-7,4 -5,11q7,-4 5,-11M863,191q-8,5 -5,13q8,-5 5,-13M892,202q-9,6 -4,16q9,-6 4,-16M885,241q-11,5 -7,17q11,-5 7,-17"/>
<path fill="#c0ae90" d="M623,209q-6,7 0,14q6,-7 -0,-14M664,154q-3,6 3,11q3,-6 -3,-11M658,155q-2,11 8,16q2,-11 -8,-16M621,161q-8,0 -9,8q8,-0 9,-8M729,207q-2,9 7,12q2,-9 -7,-12M707,216q-1,11 10,13q1,-11 -10,-13M701,217q-0,9 8,10q0,-9 -8,-10M723,175q-5,5 -2,11q5,-5 2,-11M721,173q-1,9 8,11q1,-9 -8,-11M678,163q-9,4 -6,14q9,-4 6,-14M674,164q-3,7 5,11q3,-7 -5,-11M627,166q3,7 11,5q-3,-7 -11,-5M729,154q-1,11 9,13q1,-11 -9,-13M616,163q3,8 11,7q-3,-8 -11,-7M668,174q0,8 8,10q-0,-8 -8,-10M667,181q-2,7 5,11q2,-7 -5,-11M663,179q1,10 11,11q-1,-10 -11,-11M704,149q-5,7 1,13q5,-7 -1,-13M694,219q-7,5 -3,13q7,-5 3,-13M618,152q2,10 13,10q-2,-10 -13,-10M723,176q-7,2 -7,9q7,-2 7,-9M726,165q-1,9 6,13q1,-9 -6,-13M614,162q-1,10 9,12q1,-10 -9,-12M703,142q1,7 8,7q-1,-7 -8,-7M723,150q-6,5 -3,13q6,-5 3,-13M584,186q-8,8 -1,17q8,-8 1,-17M584,190q-2,7 3,11q2,-7 -3,-11M703,187q-4,10 5,16q4,-10 -5,-16M622,166q1,8 10,8q-1,-8 -10,-8M657,138q-9,4 -7,14q9,-4 7,-14"/>
<path fill="#c8bca4" d="M679,169q2,8 10,9q-2,-8 -10,-9M671,168q-4,8 2,14q4,-8 -2,-14M754,178q-3,7 3,11q3,-7 -3,-11M754,187q-7,-3 -10,5q7,3 10,-5M694,176q-6,6 -1,13q6,-6 1,-13M696,173q-9,4 -8,14q9,-4 8,-14M716,207q-4,8 3,13q4,-8 -3,-13M725,211q-6,0 -8,7q6,-0 8,-7M594,166q-7,3 -5,10q7,-3 5,-10"/>
<path fill="#c8c4b4" d="M897,132q-5,5 -1,11q5,-5 1,-11M904,129q-8,7 -1,15q8,-7 1,-15M896,153q-8,7 -3,17q8,-7 3,-17M897,152q-10,3 -10,13q10,-3 10,-13M899,150q-9,2 -10,11q9,-2 10,-11M977,148q-6,7 0,14q6,-7 -0,-14M964,151q4,7 12,6q-4,-7 -12,-6M977,144q-7,6 -2,13q7,-6 2,-13M968,148q2,7 9,7q-2,-7 -9,-7M931,149q3,7 11,6q-3,-7 -11,-6M944,153q-0,10 9,11q0,-10 -9,-11M990,151q-7,4 -5,11q7,-4 5,-11M1003,144q-10,5 -7,15q10,-5 7,-15M1004,147q-6,3 -3,10q6,-3 3,-10M937,196q-3,7 3,12q3,-7 -3,-12M904,232q-0,10 9,13q0,-10 -9,-13M900,223q-6,6 -1,12q6,-6 1,-12M866,194q-4,8 4,12q4,-8 -4,-12M868,201q-4,7 3,11q4,-7 -3,-11M889,216q-3,8 5,11q3,-8 -5,-11"/>
<path fill="#d6ccb6" d="M643,170q-1,11 9,14q1,-11 -9,-14M740,192q-10,-0 -13,10q10,0 13,-10M753,180q-6,4 -3,11q6,-4 3,-11M739,197q-10,5 -9,16q10,-5 9,-16M688,171q-9,0 -10,9q9,-0 10,-9M683,170q-6,8 2,14q6,-8 -2,-14M685,185q-8,-0 -9,7q8,0 9,-7M678,171q-3,6 3,10q3,-6 -3,-10M709,212q-9,-0 -10,9q9,0 10,-9"/>
<path fill="#d8d4c6" d="M952,167q-5,5 -1,10q5,-5 1,-10M954,178q-5,7 1,13q5,-7 -1,-13M891,137q-10,3 -9,14q10,-3 9,-14M887,135q-4,8 3,14q4,-8 -3,-14M878,157q-5,5 -0,11q5,-5 0,-11M956,155q3,8 11,7q-3,-8 -11,-7M961,149q-9,7 -3,17q9,-7 3,-17M932,154q-6,7 -0,14q6,-7 0,-14M929,151q-0,11 11,13q0,-11 -11,-13M875,177q-5,4 -1,10q5,-4 1,-10M874,176q-5,5 -1,11q5,-5 1,-11M877,177q-8,5 -6,14q8,-5 6,-14M989,148q-10,5 -7,16q10,-5 7,-16M1003,141q-7,5 -5,13q7,-5 5,-13M938,189q-3,7 3,12q3,-7 -3,-12M939,183q-8,6 -3,14q8,-6 3,-14M888,233q-5,5 -1,11q5,-5 1,-11M884,230q-1,10 8,14q1,-10 -8,-14M865,198q-7,1 -7,8q7,-1 7,-8M891,211q-10,5 -7,15q10,-5 7,-15M886,216q-4,10 4,17q4,-10 -4,-17"/>
<path fill="#e6dece" d="M741,176q-7,4 -3,11q7,-4 3,-11M680,175q-8,-2 -11,5q8,2 11,-5M676,163q-1,7 6,9q1,-7 -6,-9M701,198q-4,11 6,16q4,-11 -6,-16M709,201q-10,2 -10,13q10,-2 10,-13M597,159q-8,5 -5,14q8,-5 5,-14M584,159q-7,2 -6,9q7,-2 6,-9M581,154q-1,12 10,15q1,-12 -10,-15"/>
<path fill="#e8e4d8" d="M937,171q-1,10 8,12q1,-10 -8,-12M885,144q-11,-1 -13,10q11,1 13,-10M958,140q-4,5 0,11q4,-5 -0,-11M992,140q-9,1 -10,9q9,-1 10,-9M940,187q-10,-2 -13,8q10,2 13,-8M909,234q-8,6 -5,15q8,-6 5,-15M898,219q-3,7 2,12q3,-7 -2,-12M860,189q-9,2 -10,11q9,-2 10,-11M861,194q-10,2 -11,12q10,-2 11,-12M893,215q-1,11 10,13q1,-11 -10,-13"/>
<path fill="#46443a" d="M745,147q-6,4 -3,10q6,-4 3,-10M622,132q-5,8 2,13q5,-8 -2,-13M688,134q-7,8 -0,15q7,-8 0,-15M682,145q-9,5 -5,14q9,-5 5,-14M627,140q3,11 15,10q-3,-11 -15,-10M633,152q0,11 11,11q-0,-11 -11,-11M633,142q-8,5 -4,14q8,-5 4,-14M611,146q-9,-1 -11,8q9,1 11,-8M617,136q-9,5 -5,15q9,-5 5,-15M635,133q-8,4 -5,12q8,-4 5,-12M679,149q-5,8 2,15q5,-8 -2,-15M687,151q-6,5 -1,12q6,-5 1,-12M738,132q-8,6 -2,14q8,-6 2,-14M748,143q-9,1 -10,9q9,-1 10,-9"/>
<path fill="#45463a" d="M859,209q-4,7 2,13q4,-7 -2,-13M860,201q-1,7 5,9q1,-7 -5,-9M864,207q-10,3 -10,14q10,-3 10,-14M870,138q-10,0 -10,10q10,-0 10,-10M932,180q-1,9 8,11q1,-9 -8,-11M928,202q0,7 8,8q-0,-7 -8,-8M927,177q-3,8 4,12q3,-8 -4,-12M923,197q-1,10 9,12q1,-10 -9,-12M969,160q-8,5 -4,13q8,-5 4,-13M956,148q-2,11 8,15q2,-11 -8,-15M970,151q-7,9 0,17q7,-9 -0,-17M953,202q-4,9 5,14q4,-9 -5,-14M946,203q-3,10 7,15q3,-10 -7,-15M854,196q-1,11 10,13q1,-11 -10,-13M863,198q-2,7 5,10q2,-7 -5,-10M871,208q-9,8 -1,18q9,-8 1,-18M844,191q-8,0 -10,8q8,-0 10,-8M854,190q-8,1 -7,9q8,-1 7,-9M862,138q-5,6 1,12q5,-6 -1,-12M881,196q-6,3 -5,10q6,-3 5,-10M879,192q-1,9 9,11q1,-9 -9,-11M888,191q-10,5 -8,16q10,-5 8,-16M970,120q-6,7 -2,14q6,-7 2,-14M973,128q-11,4 -10,15q11,-4 10,-15M966,133q-3,9 6,13q3,-9 -6,-13M822,144q-4,9 3,16q4,-9 -3,-16M978,133q-6,4 -3,11q6,-4 3,-11M910,139q-7,3 -4,10q7,-3 4,-10M844,227q-3,7 2,12q3,-7 -2,-12M841,238q-3,8 4,13q3,-8 -4,-13M927,142q-8,7 -4,17q8,-7 4,-17M925,215q-3,9 5,14q3,-9 -5,-14M930,212q-9,7 -4,18q9,-7 4,-18M834,161q-3,8 5,11q3,-8 -5,-11M843,151q-7,8 -1,16q7,-8 1,-16M842,167q-7,6 -3,15q7,-6 3,-15M830,164q-7,7 -2,16q7,-7 2,-16M918,166q1,11 11,12q-1,-11 -11,-12M988,129q-7,7 -2,16q7,-7 2,-16M929,152q-2,8 5,13q2,-8 -5,-13M918,155q-1,8 7,10q1,-8 -7,-10M888,160q-1,7 6,9q1,-7 -6,-9M907,151q-9,6 -4,15q9,-6 4,-15M939,178q-4,7 2,11q4,-7 -2,-11M930,178q-8,6 -4,15q8,-6 4,-15M844,156q-9,-3 -13,6q9,3 13,-6M982,152q-9,2 -9,10q9,-2 9,-10M994,149q-5,5 -0,11q5,-5 0,-11M867,197q5,9 16,7q-5,-9 -16,-7M864,189q-1,8 7,12q1,-8 -7,-12M872,193q-7,8 0,17q7,-8 -0,-17M833,127q-3,7 4,11q3,-7 -4,-11M891,136q1,7 9,8q-1,-7 -9,-8M968,158q-8,-2 -10,5q8,2 10,-5M961,151q-7,7 -2,15q7,-7 2,-15M874,249q-2,10 8,13q2,-10 -8,-13M882,250q-8,4 -7,13q8,-4 7,-13M857,145q-10,3 -11,13q10,-3 11,-13M870,159q-8,2 -8,10q8,-2 8,-10M871,160q-4,5 0,11q4,-5 -0,-11M917,146q-10,4 -8,14q10,-4 8,-14M876,238q-5,5 -1,11q5,-5 1,-11M883,249q-7,2 -6,10q7,-2 6,-10M958,156q3,7 11,6q-3,-7 -11,-6M952,155q-3,6 3,11q3,-6 -3,-11M838,147q-6,5 -2,11q6,-5 2,-11M914,130q-7,5 -2,12q7,-5 2,-12M920,128q-7,9 0,17q7,-9 -0,-17M1018,135q-6,6 -2,14q6,-6 2,-14M1008,147q-9,2 -9,11q9,-2 9,-11M1002,140q-4,8 4,13q4,-8 -4,-13M906,188q-5,7 2,13q5,-7 -2,-13M905,186q-8,5 -5,13q8,-5 5,-13M968,164q-6,9 1,18q6,-9 -1,-18M972,167q-5,8 2,14q5,-8 -2,-14M976,160q-3,7 3,13q3,-7 -3,-13M962,173q3,6 9,4q-3,-6 -9,-4M918,217q2,7 10,7q-2,-7 -10,-7M943,199q-3,8 5,12q3,-8 -5,-12M990,150q-10,-4 -16,5q10,4 16,-5M994,137q-7,8 -0,16q7,-8 0,-16M872,134q-3,10 7,13q3,-10 -7,-13M861,168q-7,8 1,16q7,-8 -1,-16M862,178q-6,9 2,16q6,-9 -2,-16M855,178q1,9 10,11q-1,-9 -10,-11M914,143q-9,4 -6,13q9,-4 6,-13M939,131q-9,7 -3,16q9,-7 3,-16M911,173q-9,-3 -13,6q9,3 13,-6M934,195q5,9 15,7q-5,-9 -15,-7M948,176q-6,3 -4,10q6,-3 4,-10M900,150q-7,0 -9,7q7,-0 9,-7M840,176q-8,5 -5,14q8,-5 5,-14"/>
<path fill="#505144" d="M924,188q-3,10 6,14q3,-10 -6,-14M918,193q-7,7 -1,16q7,-7 1,-16M929,190q-9,1 -9,10q9,-1 9,-10M914,179q-9,-3 -12,7q9,3 12,-7M897,175q-6,7 1,13q6,-7 -1,-13M899,180q-6,5 -2,12q6,-5 2,-12M905,185q-8,7 -1,16q8,-7 1,-16M822,163q-3,11 8,16q3,-11 -8,-16M856,159q-4,10 5,15q4,-10 -5,-15M878,153q0,7 7,8q-0,-7 -7,-8M850,149q-6,7 -1,14q6,-7 1,-14M850,149q0,12 12,13q-0,-12 -12,-13M848,141q-4,11 6,16q4,-11 -6,-16M851,152q-8,6 -3,15q8,-6 3,-15M853,242q-4,5 0,10q4,-5 -0,-10M939,165q-5,7 1,13q5,-7 -1,-13M918,220q-0,9 8,10q0,-9 -8,-10M920,184q-5,7 -0,14q5,-7 0,-14M901,191q3,11 14,11q-3,-11 -14,-11M896,201q-3,6 3,10q3,-6 -3,-10M898,197q-4,9 5,14q4,-9 -5,-14M904,195q-3,9 4,14q3,-9 -4,-14M904,177q-6,8 1,16q6,-8 -1,-16M975,150q-9,7 -4,17q9,-7 4,-17M869,195q-11,1 -11,11q11,-1 11,-11M872,147q-4,7 2,13q4,-7 -2,-13M879,145q-2,10 7,13q2,-10 -7,-13M827,190q-2,7 4,11q2,-7 -4,-11M947,128q-8,9 -0,18q8,-9 0,-18M849,162q-10,0 -12,10q10,-0 12,-10M970,140q-11,2 -12,14q11,-2 12,-14M931,200q-7,-1 -9,6q7,1 9,-6M933,192q-7,-1 -10,6q7,1 10,-6M866,166q-8,-1 -10,6q8,1 10,-6M861,168q-7,-2 -10,4q7,2 10,-4M850,157q-4,10 5,16q4,-10 -5,-16M853,167q-4,6 1,11q4,-6 -1,-11M917,188q-1,10 8,14q1,-10 -8,-14M921,186q3,6 10,4q-3,-6 -10,-4M908,226q-3,6 2,10q3,-6 -2,-10M858,148q-4,10 6,16q4,-10 -6,-16M896,134q-4,7 2,12q4,-7 -2,-12M873,213q-4,9 4,15q4,-9 -4,-15M954,119q-10,7 -3,17q10,-7 3,-17M951,129q-9,-1 -12,8q9,1 12,-8M948,130q-8,4 -5,13q8,-4 5,-13M955,126q-5,6 -0,13q5,-6 0,-13M948,172q-9,-2 -13,6q9,2 13,-6M933,179q-3,6 3,10q3,-6 -3,-10M948,177q-9,2 -9,11q9,-2 9,-11M886,135q-4,9 4,15q4,-9 -4,-15M826,156q-1,7 6,9q1,-7 -6,-9M953,147q-2,8 5,10q2,-8 -5,-10M959,143q-5,6 1,12q5,-6 -1,-12M952,147q-8,7 -2,15q8,-7 2,-15M944,153q-0,12 11,13q0,-12 -11,-13M851,191q-1,8 7,11q1,-8 -7,-11M981,151q-7,10 3,17q7,-10 -3,-17M985,158q-9,2 -10,12q9,-2 10,-12M930,188q-7,9 1,18q7,-9 -1,-18M866,134q-8,6 -2,15q8,-6 2,-15M866,171q-2,8 5,13q2,-8 -5,-13M858,180q-4,5 1,10q4,-5 -1,-10M867,169q-2,8 6,11q2,-8 -6,-11M907,192q-8,7 -3,16q8,-7 3,-16"/>
<path fill="#5c5040" d="M992,138q-0,9 9,10q0,-9 -9,-10M986,132q0,11 11,13q-0,-11 -11,-13M932,181q1,10 11,12q-1,-10 -11,-12M934,172q-6,10 4,17q6,-10 -4,-17M956,127q5,10 15,6q-5,-10 -15,-6M942,196q-4,5 1,10q4,-5 -1,-10M955,188q-2,7 4,10q2,-7 -4,-10M908,145q-2,7 5,11q2,-7 -5,-11M825,179q-2,11 7,16q2,-11 -7,-16M849,186q-9,1 -10,10q9,-1 10,-10M839,189q-3,7 3,11q3,-7 -3,-11M913,190q-4,9 4,14q4,-9 -4,-14M904,200q-1,9 8,12q1,-9 -8,-12M905,131q-6,2 -6,9q6,-2 6,-9M905,130q-8,6 -5,15q8,-6 5,-15M982,144q2,8 10,8q-2,-8 -10,-8M826,181q-9,6 -3,15q9,-6 3,-15M822,169q-1,10 9,13q1,-10 -9,-13M885,233q-8,9 -1,18q8,-9 1,-18M868,129q-2,7 6,9q2,-7 -6,-9"/>
<path fill="#5e5040" d="M736,190q-6,8 1,15q6,-8 -1,-15M731,198q-9,7 -2,16q9,-7 2,-16M616,164q-0,7 6,8q0,-7 -6,-8M614,157q-4,8 3,14q4,-8 -3,-14M607,166q0,9 10,11q-0,-9 -10,-11M682,180q-1,10 8,12q1,-10 -8,-12M681,182q-5,6 0,12q5,-6 -0,-12M685,177q-10,-0 -11,10q10,0 11,-10M678,174q-3,8 5,12q3,-8 -5,-12M609,142q-6,7 1,14q6,-7 -1,-14M617,135q-3,10 6,14q3,-10 -6,-14M652,213q-1,6 5,9q1,-6 -5,-9M654,227q-6,4 -2,10q6,-4 2,-10M643,144q-5,5 -1,12q5,-5 1,-12M657,144q-12,-1 -14,11q12,1 14,-11M651,140q-9,5 -5,15q9,-5 5,-15M660,229q-0,8 8,10q0,-8 -8,-10M670,229q-6,5 -2,12q6,-5 2,-12M608,129q-3,8 5,13q3,-8 -5,-13M613,130q-4,7 3,11q4,-7 -3,-11M605,134q4,9 14,7q-4,-9 -14,-7M724,163q-5,8 1,15q5,-8 -1,-15M715,174q3,8 11,8q-3,-8 -11,-8M750,177q-3,6 2,10q3,-6 -2,-10M755,179q-10,-1 -13,9q10,1 13,-9M692,193q-7,6 -3,14q7,-6 3,-14M700,188q-11,2 -10,13q11,-2 10,-13M619,150q-11,4 -8,16q11,-4 8,-16M658,165q-6,4 -2,11q6,-4 2,-11M664,163q-4,10 5,15q4,-10 -5,-15M644,160q-1,8 7,10q1,-8 -7,-10M632,166q2,8 11,8q-2,-8 -11,-8"/>
<path fill="#56544a" d="M600,196q-2,10 8,14q2,-10 -8,-14M595,200q-4,7 2,12q4,-7 -2,-12M593,197q1,8 9,9q-1,-8 -9,-9M733,239q0,8 8,10q-0,-8 -8,-10M742,231q-6,6 -1,13q6,-6 1,-13M736,141q-4,6 1,12q4,-6 -1,-12M731,150q2,11 12,10q-2,-11 -12,-10M620,215q-7,2 -7,9q7,-2 7,-9M613,199q-10,4 -7,14q10,-4 7,-14M660,179q-6,5 -2,12q6,-5 2,-12M687,163q-11,3 -9,15q11,-3 9,-15M698,244q-7,4 -4,11q7,-4 4,-11M682,177q-2,12 9,16q2,-12 -9,-16M685,180q-4,6 1,11q4,-6 -1,-11M691,183q-12,4 -9,15q12,-4 9,-15M687,181q-10,6 -5,16q10,-6 5,-16M679,189q-10,-1 -13,9q10,1 13,-9M746,228q-1,10 9,12q1,-10 -9,-12M745,227q-1,8 7,10q1,-8 -7,-10M743,235q-5,7 1,14q5,-7 -1,-14M740,188q-9,-1 -12,8q9,1 12,-8M746,180q-8,3 -7,11q8,-3 7,-11M629,185q-2,7 4,10q2,-7 -4,-10M616,190q-1,9 8,11q1,-9 -8,-11M688,134q3,6 9,4q-3,-6 -9,-4M611,150q-10,2 -8,12q10,-2 8,-12M616,148q-11,3 -9,15q11,-3 9,-15M620,137q-8,6 -4,15q8,-6 4,-15M617,142q-9,1 -10,10q9,-1 10,-10M734,137q-2,7 4,10q2,-7 -4,-10"/>
<path fill="#625442" d="M884,210q-9,6 -5,16q9,-6 5,-16M876,222q-3,11 8,16q3,-11 -8,-16M937,190q-7,6 -2,13q7,-6 2,-13M936,189q-5,7 2,12q5,-7 -2,-12M939,197q-9,5 -7,15q9,-5 7,-15M853,230q-8,9 0,17q8,-9 -0,-17M913,234q-4,9 4,14q4,-9 -4,-14M916,224q-7,5 -4,13q7,-5 4,-13M916,221q-3,8 5,12q3,-8 -5,-12M911,214q-5,9 3,15q5,-9 -3,-15M910,209q-12,1 -11,13q12,-1 11,-13M894,190q-5,11 5,16q5,-11 -5,-16M924,207q-8,0 -8,8q8,-0 8,-8M888,219q-7,3 -5,10q7,-3 5,-10M895,212q-5,6 -0,13q5,-6 0,-13M942,196q-2,7 5,9q2,-7 -5,-9"/>
<path fill="#64543e" d="M622,200q-5,6 -0,11q5,-6 0,-11M623,200q-7,8 -1,16q7,-8 1,-16M643,214q-7,0 -9,8q7,-0 9,-8M645,212q-11,2 -10,13q11,-2 10,-13M626,219q-2,7 5,10q2,-7 -5,-10M723,226q-7,5 -4,13q7,-5 4,-13M647,154q-10,4 -8,14q10,-4 8,-14M659,172q-4,10 6,15q4,-10 -6,-15M713,201q-9,1 -11,10q9,-1 11,-10M716,202q-10,0 -12,10q10,-0 12,-10M725,209q-10,3 -7,13q10,-3 7,-13M738,185q-9,5 -6,15q9,-5 6,-15M734,185q-8,6 -4,16q8,-6 4,-16M698,171q-6,6 -1,12q6,-6 1,-12M723,154q-2,7 5,11q2,-7 -5,-11M724,153q-3,8 5,12q3,-8 -5,-12M721,158q0,8 8,8q-0,-8 -8,-8M725,201q-3,6 3,11q3,-6 -3,-11M693,170q4,10 14,8q-4,-10 -14,-8M621,183q-8,5 -5,14q8,-5 5,-14M613,188q-8,3 -5,11q8,-3 5,-11M613,180q1,8 10,9q-1,-8 -10,-9M725,174q-11,3 -9,15q11,-3 9,-15M723,174q-10,3 -10,13q10,-3 10,-13M708,183q-7,1 -8,8q7,-1 8,-8M659,166q-6,8 1,15q6,-8 -1,-15M746,162q2,7 9,7q-2,-7 -9,-7M745,156q0,9 9,9q-0,-9 -9,-9M746,159q2,7 9,6q-2,-7 -9,-6M742,163q1,12 13,11q-1,-12 -13,-11M674,147q-6,4 -4,10q6,-4 4,-10M629,164q-6,6 -1,13q6,-6 1,-13M631,163q-2,6 4,9q2,-6 -4,-9M676,184q-1,11 9,14q1,-11 -9,-14M682,186q-9,4 -7,14q9,-4 7,-14M711,154q-9,2 -7,11q9,-2 7,-11M697,159q-0,6 6,8q0,-6 -6,-8M712,236q1,7 9,7q-1,-7 -9,-7M709,240q-2,7 4,11q2,-7 -4,-11M609,211q0,7 8,8q-0,-7 -8,-8M622,205q0,7 7,7q-0,-7 -7,-7M624,205q-0,7 6,9q0,-7 -6,-9M616,167q-6,8 1,15q6,-8 -1,-15M612,169q-1,8 6,10q1,-8 -6,-10M743,169q-9,5 -7,15q9,-5 7,-15M734,175q-1,9 7,12q1,-9 -7,-12M630,177q-10,4 -7,14q10,-4 7,-14M621,177q-1,7 6,9q1,-7 -6,-9M710,155q-8,3 -6,12q8,-3 6,-12M710,150q2,9 12,8q-2,-9 -12,-8M712,150q0,10 10,12q-0,-10 -10,-12M716,156q-6,5 -2,11q6,-5 2,-11M727,162q-3,10 6,14q3,-10 -6,-14M600,189q-4,7 2,12q4,-7 -2,-12M748,214q-7,2 -5,9q7,-2 5,-9M756,214q-5,7 -0,14q5,-7 0,-14M738,227q3,9 12,10q-3,-9 -12,-10M755,204q-7,3 -5,11q7,-3 5,-11M737,200q-7,6 -2,13q7,-6 2,-13M730,209q-8,4 -4,12q8,-4 4,-12M615,182q2,6 9,6q-2,-6 -9,-6M656,148q-1,9 8,12q1,-9 -8,-12M708,188q-9,2 -10,11q9,-2 10,-11M703,189q-9,6 -4,15q9,-6 4,-15"/>
<path fill="#5a5848" d="M735,144q3,6 10,4q-3,-6 -10,-4M655,139q-5,7 0,14q5,-7 -0,-14M685,131q-9,-2 -12,7q9,2 12,-7M599,135q-10,1 -10,10q10,-1 10,-10M602,133q-7,4 -4,12q7,-4 4,-12M601,129q-8,4 -6,13q8,-4 6,-13M621,131q-10,1 -10,11q10,-1 10,-11M627,123q-2,9 6,14q2,-9 -6,-14M733,133q-7,8 -1,16q7,-8 1,-16"/>
<path fill="#5e5e4e" d="M849,206q-3,11 8,15q3,-11 -8,-15M864,142q-9,1 -11,10q9,-1 11,-10M866,130q-5,7 2,13q5,-7 -2,-13M868,125q-5,6 -0,13q5,-6 0,-13M864,136q-8,3 -5,11q8,-3 5,-11M971,150q-10,1 -12,11q10,-1 12,-11M947,202q-6,4 -3,10q6,-4 3,-10M946,198q-7,5 -4,13q7,-5 4,-13M867,189q-4,5 -0,10q4,-5 0,-10M857,191q-3,9 5,15q3,-9 -5,-15M876,210q-9,-2 -11,7q9,2 11,-7M869,179q-5,7 1,13q5,-7 -1,-13M871,128q-4,6 1,10q4,-6 -1,-10M845,144q2,8 10,6q-2,-8 -10,-6M870,191q-5,7 2,13q5,-7 -2,-13M955,121q-3,7 2,12q3,-7 -2,-12M948,135q-6,7 1,13q6,-7 -1,-13M941,128q-6,4 -4,11q6,-4 4,-11M956,128q-8,1 -8,9q8,-1 8,-9M823,136q-4,7 3,12q4,-7 -3,-12M819,137q-7,9 1,17q7,-9 -1,-17M827,142q-7,4 -4,11q7,-4 4,-11M964,139q-1,11 10,13q1,-11 -10,-13M900,124q-3,7 3,12q3,-7 -3,-12M907,121q-6,5 -2,12q6,-5 2,-12M826,244q-7,1 -8,8q7,-1 8,-8M911,142q-8,6 -4,16q8,-6 4,-16M909,145q-1,9 7,11q1,-9 -7,-11M909,143q-6,4 -3,10q6,-4 3,-10M911,146q-6,7 -1,14q6,-7 1,-14M924,210q-4,6 1,11q4,-6 -1,-11M836,154q-8,3 -6,11q8,-3 6,-11M832,161q-7,-1 -9,6q7,1 9,-6M820,165q-7,9 0,18q7,-9 -0,-18M985,127q-2,7 4,10q2,-7 -4,-10M984,122q-3,7 3,11q3,-7 -3,-11M915,154q-7,6 -1,13q7,-6 1,-13M908,151q3,11 14,9q-3,-11 -14,-9M971,158q-3,6 3,10q3,-6 -3,-10M879,156q1,7 9,7q-1,-7 -9,-7M915,181q4,10 14,7q-4,-10 -14,-7M926,177q-9,5 -4,14q9,-5 4,-14M977,143q0,7 7,8q-0,-7 -7,-8M973,145q-8,3 -7,11q8,-3 7,-11M865,188q-3,8 4,12q3,-8 -4,-12M827,119q-5,10 4,17q5,-10 -4,-17M827,123q-11,1 -12,12q11,-1 12,-12M857,164q1,7 9,7q-1,-7 -9,-7M863,155q-5,6 1,12q5,-6 -1,-12M852,165q4,8 12,6q-4,-8 -12,-6M921,156q-1,10 8,14q1,-10 -8,-14M919,154q-7,7 -1,15q7,-7 1,-15M904,150q-9,5 -7,16q9,-5 7,-16M883,236q-8,3 -7,12q8,-3 7,-12M878,236q-4,11 7,16q4,-11 -7,-16M887,246q-7,5 -4,13q7,-5 4,-13M891,249q-6,5 -2,12q6,-5 2,-12M824,158q-6,-3 -10,3q6,3 10,-3M827,147q-8,3 -6,12q8,-3 6,-12M912,121q-2,10 8,13q2,-10 -8,-13M1011,130q-10,1 -10,11q10,-1 10,-11M1001,125q-4,8 3,14q4,-8 -3,-14M1011,129q-6,5 -1,12q6,-5 1,-12M891,183q-5,10 3,17q5,-10 -3,-17M862,139q-2,6 3,10q2,-6 -3,-10M912,186q-0,10 10,11q0,-10 -10,-11M922,174q-4,7 2,13q4,-7 -2,-13M893,137q-4,10 5,16q4,-10 -5,-16M889,142q-7,7 -1,16q7,-7 1,-16M905,132q-5,6 0,12q5,-6 -0,-12M887,138q1,10 11,9q-1,-10 -11,-9M948,125q-6,6 -1,13q6,-6 1,-13M932,131q-3,8 4,13q3,-8 -4,-13M903,163q-3,7 3,11q3,-7 -3,-11M924,190q-8,6 -3,14q8,-6 3,-14M914,195q-4,9 3,15q4,-9 -3,-15M925,190q-3,7 3,11q3,-7 -3,-11M825,188q3,10 13,9q-3,-10 -13,-9M929,181q-6,9 1,17q6,-9 -1,-17M944,174q-6,4 -4,11q6,-4 4,-11M937,176q0,9 8,11q-0,-9 -8,-11M830,169q-6,3 -4,10q6,-3 4,-10"/>
<path fill="#6e6e5c" d="M922,184q-4,6 1,11q4,-6 -1,-11M930,176q-9,6 -4,15q9,-6 4,-15M903,169q-10,3 -9,13q10,-3 9,-13M895,171q-9,7 -4,17q9,-7 4,-17M906,178q-5,5 -2,12q5,-5 2,-12M940,174q-6,10 3,17q6,-10 -3,-17M815,152q-7,8 -0,16q7,-8 0,-16M823,166q-6,3 -5,10q6,-3 5,-10M857,154q-4,7 2,13q4,-7 -2,-13M863,149q-2,11 8,16q2,-11 -8,-16M838,148q1,8 9,7q-1,-8 -9,-7M848,233q-5,5 0,11q5,-5 -0,-11M839,238q-7,7 -0,14q7,-7 0,-14M836,232q1,11 12,13q-1,-11 -12,-13M830,178q-11,3 -10,15q11,-3 10,-15M932,163q-11,-1 -14,10q11,1 14,-10M936,153q-8,5 -4,13q8,-5 4,-13M923,210q1,11 12,11q-1,-11 -12,-11M888,195q4,9 13,5q-4,-9 -13,-5M895,190q5,10 16,8q-5,-10 -16,-8M903,172q-9,3 -8,12q9,-3 8,-12M895,187q-9,-3 -13,6q9,3 13,-6M973,152q-9,-4 -14,4q9,4 14,-4M971,151q-11,2 -10,12q11,-2 10,-12M973,138q-4,8 3,13q4,-8 -3,-13M946,135q-7,2 -6,10q7,-2 6,-10M949,137q-9,3 -7,12q9,-3 7,-12M947,132q-4,7 3,12q4,-7 -3,-12M951,137q-8,1 -7,9q8,-1 7,-9M945,133q-9,7 -3,17q9,-7 3,-17M828,161q-8,5 -4,13q8,-5 4,-13M948,154q-6,2 -6,9q6,-2 6,-9M929,201q-8,7 -1,15q8,-7 1,-15M932,189q-8,4 -6,13q8,-4 6,-13M850,160q-7,2 -5,9q7,-2 5,-9M854,158q-7,1 -8,8q7,-1 8,-8M916,180q2,8 10,7q-2,-8 -10,-7M861,148q-7,-0 -9,7q7,0 9,-7M869,146q-7,2 -8,9q7,-2 8,-9M884,205q-8,-3 -13,5q8,3 13,-5M993,128q-2,10 7,15q2,-10 -7,-15M987,131q-6,9 2,16q6,-9 -2,-16M883,134q-4,6 2,11q4,-6 -2,-11M951,159q-4,9 4,15q4,-9 -4,-15M830,137q-2,10 8,14q2,-10 -8,-14M873,177q1,7 8,7q-1,-7 -8,-7M867,182q-1,8 7,9q1,-8 -7,-9M873,181q-5,7 2,13q5,-7 -2,-13M880,235q-4,6 0,11q4,-6 -0,-11M888,238q-10,1 -10,11q10,-1 10,-11M835,199q0,7 6,9q-0,-7 -6,-9M920,193q2,8 10,8q-2,-8 -10,-8M848,137q-4,6 1,12q4,-6 -1,-12M853,180q-3,6 3,10q3,-6 -3,-10M892,197q-3,7 3,11q3,-7 -3,-11M898,189q0,8 8,9q-0,-8 -8,-9"/>
<path fill="#7e6e54" d="M829,192q-6,5 -1,12q6,-5 1,-12M940,153q-0,7 6,8q0,-7 -6,-8M978,133q-7,8 -1,16q7,-8 1,-16M927,177q-2,10 8,13q2,-10 -8,-13M936,164q-7,9 2,17q7,-9 -2,-17M951,179q-1,7 6,9q1,-7 -6,-9M941,184q-6,8 0,16q6,-8 -0,-16M890,145q-1,11 11,13q1,-11 -11,-13M899,139q-0,10 10,11q0,-10 -10,-11M897,141q-2,10 7,15q2,-10 -7,-15M835,194q-6,1 -8,7q6,-1 8,-7M903,201q-7,2 -5,9q7,-2 5,-9M914,183q-8,7 -2,16q8,-7 2,-16M894,122q-4,9 5,14q4,-9 -5,-14M969,133q3,7 11,6q-3,-7 -11,-6M815,177q-0,12 12,12q0,-12 -12,-12M843,136q-5,6 -1,12q5,-6 1,-12M849,130q-3,9 5,14q3,-9 -5,-14M866,120q-0,11 11,14q0,-11 -11,-14"/>
<path fill="#767260" d="M689,173q-1,7 6,9q1,-7 -6,-9M605,198q-8,1 -7,10q8,-1 7,-10M606,198q-6,3 -3,9q6,-3 3,-9M747,167q-10,2 -9,11q10,-2 9,-11M744,157q-5,8 2,15q5,-8 -2,-15M729,237q-4,10 5,15q4,-10 -5,-15M733,144q1,9 10,11q-1,-9 -10,-11M619,206q-7,1 -7,7q7,-1 7,-7M609,213q-3,8 3,12q3,-8 -3,-12M664,164q-6,2 -6,9q6,-2 6,-9M684,239q-0,9 9,10q0,-9 -9,-10M680,247q-4,7 2,13q4,-7 -2,-13M681,246q-1,11 9,15q1,-11 -9,-15M691,235q-3,11 7,15q3,-11 -7,-15M671,181q-10,-0 -11,9q10,0 11,-9M672,167q-3,8 5,12q3,-8 -5,-12M750,210q-7,2 -7,10q7,-2 7,-10M734,237q1,8 10,8q-1,-8 -10,-8M691,122q-6,5 -2,11q6,-5 2,-11M735,125q-3,9 4,14q3,-9 -4,-14M732,129q-7,3 -5,10q7,-3 5,-10M731,202q-10,5 -7,16q10,-5 7,-16"/>
<path fill="#857358" d="M719,194q-4,8 3,14q4,-8 -3,-14M594,185q-7,7 -2,16q7,-7 2,-16M670,173q-8,2 -7,11q8,-2 7,-11M674,174q-8,2 -6,10q8,-2 6,-10M669,174q1,8 9,10q-1,-8 -9,-10M603,135q1,8 8,8q-1,-8 -8,-8M648,220q-9,5 -5,14q9,-5 5,-14M650,212q0,10 10,11q-0,-10 -10,-11M650,139q-10,-3 -15,6q10,3 15,-6M657,183q-6,7 1,14q6,-7 -1,-14M723,207q-9,2 -8,12q9,-2 8,-12M729,210q-10,0 -11,10q10,-0 11,-10M726,201q-3,7 4,12q3,-7 -4,-12M691,120q-3,11 7,16q3,-11 -7,-16M689,129q-3,8 5,12q3,-8 -5,-12M672,136q-3,6 3,10q3,-6 -3,-10M604,127q0,10 10,11q-0,-10 -10,-11M626,134q-1,11 10,15q1,-11 -10,-15M639,128q-5,5 -1,10q5,-5 1,-10M635,134q-6,6 -0,13q6,-6 0,-13M726,153q-8,4 -5,12q8,-4 5,-12M741,167q-6,8 1,15q6,-8 -1,-15M746,166q-6,7 1,14q6,-7 -1,-14M738,171q-6,7 0,15q6,-7 -0,-15M686,182q-8,2 -8,11q8,-2 8,-11M732,174q-5,10 4,16q5,-10 -4,-16M651,162q-10,1 -10,10q10,-1 10,-10M662,157q-9,1 -11,9q9,-1 11,-9M635,208q-7,8 0,16q7,-8 -0,-16M650,146q1,10 11,13q-1,-10 -11,-13M656,142q-6,6 -2,12q6,-6 2,-12M647,149q-7,5 -3,12q7,-5 3,-12M643,150q-7,5 -5,13q7,-5 5,-13M647,150q-7,6 -1,13q7,-6 1,-13"/>
<path fill="#86765a" d="M896,219q-3,9 6,13q3,-9 -6,-13M891,222q-5,10 3,16q5,-10 -3,-16M862,221q-9,1 -10,9q9,-1 10,-9M916,214q-9,7 -3,17q9,-7 3,-17M907,215q-6,7 -1,15q6,-7 1,-15M845,203q3,11 14,11q-3,-11 -14,-11M850,209q3,6 10,5q-3,-6 -10,-5M862,196q-0,10 10,13q0,-10 -10,-13M915,190q-4,6 -0,12q4,-6 0,-12M918,208q1,8 9,7q-1,-8 -9,-7M875,242q-1,9 8,13q1,-9 -8,-13M895,238q-9,5 -6,15q9,-5 6,-15M893,236q-10,4 -6,14q10,-4 6,-14M883,240q-5,9 2,17q5,-9 -2,-17"/>
<path fill="#7e7a66" d="M728,144q3,9 12,7q-3,-9 -12,-7M643,123q-6,3 -4,10q6,-3 4,-10M646,138q2,6 9,6q-2,-6 -9,-6M613,125q-6,5 -2,12q6,-5 2,-12M620,126q-12,1 -12,13q12,-1 12,-13M672,134q-5,8 2,15q5,-8 -2,-15M674,134q-2,6 4,10q2,-6 -4,-10"/>
<path fill="#8e7a5c" d="M689,209q-7,1 -7,9q7,-1 7,-9M682,209q-11,1 -12,12q11,-1 12,-12M677,213q-8,2 -8,10q8,-2 8,-10M614,197q-8,6 -4,15q8,-6 4,-15M607,205q-1,7 6,10q1,-7 -6,-10M728,217q-7,1 -9,8q7,-1 9,-8M672,159q-0,8 8,10q0,-8 -8,-10M645,145q-7,8 -2,16q7,-8 2,-16M582,173q0,8 8,9q-0,-8 -8,-9M665,154q-1,9 7,12q1,-9 -7,-12M707,197q-5,7 -0,14q5,-7 0,-14M754,204q-10,1 -10,10q10,-1 10,-10M747,202q-7,9 0,17q7,-9 -0,-17M707,219q-4,10 4,16q4,-10 -4,-16M719,179q-3,9 5,14q3,-9 -5,-14M672,167q-5,10 5,16q5,-10 -5,-16M652,154q-7,7 -2,15q7,-7 2,-15M650,156q-2,9 6,12q2,-9 -6,-12M741,149q-2,11 8,14q2,-11 -8,-14M735,161q-0,7 7,8q0,-7 -7,-8M663,148q-8,3 -6,11q8,-3 6,-11M614,169q-3,9 5,13q3,-9 -5,-13M614,174q3,6 10,5q-3,-6 -10,-5M613,171q-1,11 10,14q1,-11 -10,-14M670,181q1,9 9,10q-1,-9 -9,-10M666,188q-4,7 3,12q4,-7 -3,-12M650,184q-5,7 2,12q5,-7 -2,-12M636,190q-0,9 9,12q0,-9 -9,-12M685,172q-11,5 -7,16q11,-5 7,-16M676,180q-5,5 -2,11q5,-5 2,-11M726,231q-7,9 2,17q7,-9 -2,-17M718,239q-6,5 -2,13q6,-5 2,-13M729,231q-8,8 -3,17q8,-8 3,-17M707,243q3,10 14,7q-3,-10 -14,-7M692,151q-6,9 3,16q6,-9 -3,-16M691,160q-9,3 -9,13q9,-3 9,-13M735,202q-6,10 3,17q6,-10 -3,-17M727,215q-3,8 5,11q3,-8 -5,-11M711,216q-5,9 3,16q5,-9 -3,-16M709,221q-2,7 5,11q2,-7 -5,-11M638,148q-8,5 -5,15q8,-5 5,-15M621,162q3,10 13,9q-3,-10 -13,-9M619,162q-1,11 10,12q1,-11 -10,-12M625,163q-6,11 4,17q6,-11 -4,-17M621,167q-8,7 -3,16q8,-7 3,-16M711,149q-7,6 -3,14q7,-6 3,-14M706,145q-1,8 6,12q1,-8 -6,-12M726,162q-6,7 -1,14q6,-7 1,-14M730,159q-8,4 -6,13q8,-4 6,-13M582,196q-3,8 4,14q3,-8 -4,-14M753,213q-5,8 2,15q5,-8 -2,-15M735,207q-2,8 5,12q2,-8 -5,-12M625,170q-2,6 4,10q2,-6 -4,-10"/>
<path fill="#8a8a78" d="M853,196q-10,4 -9,14q10,-4 9,-14M858,134q-10,-0 -12,10q10,0 12,-10M962,148q-9,1 -9,10q9,-1 9,-10M854,187q-1,10 9,12q1,-10 -9,-12M857,182q-7,6 -2,14q7,-6 2,-14M859,201q-2,6 4,10q2,-6 -4,-10M861,182q-5,7 2,12q5,-7 -2,-12M857,181q-4,9 4,14q4,-9 -4,-14M842,179q-8,2 -8,11q8,-2 8,-11M815,139q-2,7 4,10q2,-7 -4,-10M819,137q-10,2 -9,12q10,-2 9,-12M914,188q-7,3 -4,11q7,-3 4,-11M818,233q-7,3 -4,10q7,-3 4,-10M968,131q-7,3 -7,11q7,-3 7,-11M918,211q-4,6 2,10q4,-6 -2,-10M830,148q-2,10 7,14q2,-10 -7,-14M823,159q-7,6 -2,14q7,-6 2,-14M837,159q-1,10 9,13q1,-10 -9,-13M900,163q-0,7 7,10q0,-7 -7,-10M926,153q-8,6 -5,15q8,-6 5,-15M970,141q-4,6 0,11q4,-6 -0,-11M966,143q-0,10 10,13q0,-10 -10,-13M873,150q-4,7 2,13q4,-7 -2,-13M877,150q-10,6 -5,17q10,-6 5,-17M827,146q-8,8 -1,17q8,-8 1,-17M829,141q-7,6 -2,15q7,-6 2,-15M860,190q-2,7 5,11q2,-7 -5,-11M850,156q-3,9 5,14q3,-9 -5,-14M858,163q-6,4 -3,11q6,-4 3,-11M861,149q-9,7 -3,16q9,-7 3,-16M945,144q-8,7 -2,16q8,-7 2,-16M845,141q-8,4 -6,12q8,-4 6,-12M927,144q-10,3 -9,14q10,-3 9,-14M906,142q-7,6 -2,15q7,-6 2,-15M872,227q-6,9 1,18q6,-9 -1,-18M873,228q-5,5 -0,11q5,-5 0,-11M877,228q-9,6 -5,16q9,-6 5,-16M882,242q-4,7 2,11q4,-7 -2,-11M958,150q-0,8 7,9q0,-8 -7,-9M946,150q-6,6 -1,12q6,-6 1,-12M948,141q1,9 10,8q-1,-9 -10,-8M1001,127q-9,5 -5,15q9,-5 5,-15M994,132q-8,7 -2,15q8,-7 2,-15M951,162q2,7 9,6q-2,-7 -9,-6M923,202q-6,4 -4,11q6,-4 4,-11M914,203q-5,4 -3,10q5,-4 3,-10M984,139q-9,0 -11,8q9,-0 11,-8M975,139q-3,7 3,13q3,-7 -3,-13M908,180q0,7 7,8q-0,-7 -7,-8M988,139q-2,7 4,9q2,-7 -4,-9M987,145q-6,1 -6,8q6,-1 6,-8M850,173q1,9 9,10q-1,-9 -9,-10M856,171q-1,8 7,10q1,-8 -7,-10M887,135q1,8 9,8q-1,-8 -9,-8M917,196q-7,1 -7,9q7,-1 7,-9M932,170q-4,12 8,16q4,-12 -8,-16M936,169q-3,9 7,13q3,-9 -7,-13M940,168q-9,5 -5,15q9,-5 5,-15M891,149q-9,-1 -13,7q9,1 13,-7M819,174q-6,4 -2,10q6,-4 2,-10"/>
<path fill="#a89878" d="M928,149q2,12 13,12q-2,-12 -13,-12M937,145q-3,6 3,10q3,-6 -3,-10M933,145q-10,6 -5,17q10,-6 5,-17M937,187q-6,4 -4,11q6,-4 4,-11M838,183q-11,0 -12,11q11,-0 12,-11M819,173q-6,1 -7,7q6,-1 7,-7M899,195q-8,6 -3,14q8,-6 3,-14M895,187q-5,10 4,15q5,-10 -4,-15M964,135q-10,6 -5,16q10,-6 5,-16M818,175q-4,9 4,14q4,-9 -4,-14M848,206q-5,7 1,13q5,-7 -1,-13M848,206q-4,6 2,11q4,-6 -2,-11M848,128q-9,2 -8,11q9,-2 8,-11"/>
<path fill="#a09a84" d="M690,166q-6,8 2,14q6,-8 -2,-14M589,189q-2,11 8,14q2,-11 -8,-14M606,187q-3,8 6,12q3,-8 -6,-12M613,188q-4,9 3,15q4,-9 -3,-15M581,189q-3,7 4,11q3,-7 -4,-11M589,196q-1,9 7,12q1,-9 -7,-12M737,159q-3,7 3,12q3,-7 -3,-12M658,157q-6,4 -2,10q6,-4 2,-10M657,163q-7,1 -8,9q7,-1 8,-9M663,154q-5,8 3,13q5,-8 -3,-13M682,231q3,9 12,7q-3,-9 -12,-7M729,218q-3,7 4,11q3,-7 -4,-11M732,210q-6,5 -2,12q6,-5 2,-12M746,206q-10,3 -8,12q10,-3 8,-12M730,235q-4,7 2,13q4,-7 -2,-13M734,179q-4,11 7,16q4,-11 -7,-16M607,176q-6,9 2,16q6,-9 -2,-16M733,132q-3,8 4,13q3,-8 -4,-13M734,123q-9,1 -11,10q9,-1 11,-10"/>
<path fill="#a4a290" d="M923,173q-7,5 -4,13q7,-5 4,-13M938,176q-11,4 -9,15q11,-4 9,-15M932,175q-3,6 2,11q3,-6 -2,-11M852,142q-6,8 1,14q6,-8 -1,-14M864,145q-6,0 -8,6q6,-0 8,-6M858,141q-1,9 8,12q1,-9 -8,-12M869,136q-1,10 9,12q1,-10 -9,-12M879,132q-11,4 -8,16q11,-4 8,-16M831,154q0,10 10,12q-0,-10 -10,-12M837,136q-1,7 5,9q1,-7 -5,-9M839,231q-5,7 1,13q5,-7 -1,-13M842,227q-6,4 -3,10q6,-4 3,-10M820,167q-5,6 1,12q5,-6 -1,-12M909,189q-8,7 -3,16q8,-7 3,-16M892,194q-4,6 1,12q4,-6 -1,-12M889,175q-10,1 -11,11q10,-1 11,-11M883,178q-4,6 2,10q4,-6 -2,-10M966,139q-11,4 -8,16q11,-4 8,-16M968,141q-10,-2 -13,8q10,2 13,-8M814,189q-3,10 6,15q3,-10 -6,-15M833,226q-7,4 -3,11q7,-4 3,-11M949,138q-2,8 5,11q2,-8 -5,-11M924,181q-5,8 1,15q5,-8 -1,-15M838,151q-4,9 4,16q4,-9 -4,-16M846,159q-10,-2 -15,8q10,2 15,-8M823,128q-6,2 -6,8q6,-2 6,-8M906,139q-10,-2 -12,7q10,2 12,-7M903,133q-5,7 -0,14q5,-7 0,-14M861,142q-7,4 -5,12q7,-4 5,-12M870,169q-8,1 -8,9q8,-1 8,-9M866,161q-2,7 5,10q2,-7 -5,-10M887,126q-8,6 -5,15q8,-6 5,-15M900,192q-2,8 6,10q2,-8 -6,-10M941,129q-9,-1 -11,8q9,1 11,-8M928,167q-10,2 -9,12q10,-2 9,-12M857,121q-7,9 -0,18q7,-9 0,-18M819,140q-8,7 -1,16q8,-7 1,-16M816,143q-1,9 8,12q1,-9 -8,-12M946,130q-6,8 0,16q6,-8 -0,-16M935,140q-1,7 6,10q1,-7 -6,-10M839,188q3,8 12,5q-3,-8 -12,-5M972,154q-8,4 -6,12q8,-4 6,-12M978,146q-7,2 -6,9q7,-2 6,-9M850,125q-6,5 -1,11q6,-5 1,-11M848,172q-2,9 7,11q2,-9 -7,-11M883,190q2,11 13,9q-2,-11 -13,-9"/>
<path fill="#b0a084" d="M722,194q-6,9 1,16q6,-9 -1,-16M609,149q-8,7 -3,16q8,-7 3,-16M596,171q-1,12 11,13q1,-12 -11,-13M663,174q-1,10 8,13q1,-10 -8,-13M677,170q-10,2 -8,12q10,-2 8,-12M601,136q-5,6 -0,12q5,-6 0,-12M637,122q-8,8 -3,17q8,-8 3,-17M655,222q-2,6 4,10q2,-6 -4,-10M653,219q-3,7 3,13q3,-7 -3,-13M718,203q-9,7 -3,16q9,-7 3,-16M679,134q-9,1 -10,10q9,-1 10,-10M600,120q0,11 11,12q-0,-11 -11,-12M629,132q-10,6 -5,16q10,-6 5,-16M700,162q0,11 11,13q-0,-11 -11,-13M716,156q-7,4 -4,11q7,-4 4,-11M614,150q-6,2 -5,9q6,-2 5,-9M635,161q-3,8 4,11q3,-8 -4,-11M622,210q-5,10 4,16q5,-10 -4,-16"/>
<path fill="#b4a486" d="M901,206q-6,8 0,15q6,-8 -0,-15M884,225q-5,7 0,13q5,-7 -0,-13M893,226q1,7 9,7q-1,-7 -9,-7M881,206q-6,5 -2,12q6,-5 2,-12M817,200q-7,9 0,18q7,-9 -0,-18M856,220q-9,5 -5,15q9,-5 5,-15M875,213q-6,8 0,17q6,-8 -0,-17M843,200q2,11 13,11q-2,-11 -13,-11M848,197q-4,9 4,15q4,-9 -4,-15M915,193q-5,10 4,16q5,-10 -4,-16M922,188q-1,9 7,11q1,-9 -7,-11M883,242q-6,4 -3,11q6,-4 3,-11M876,244q1,10 12,11q-1,-10 -12,-11"/>
<path fill="#c0ae90" d="M680,212q-11,-2 -15,8q11,2 15,-8M599,200q-0,8 8,10q0,-8 -8,-10M625,205q-3,8 5,12q3,-8 -5,-12M632,205q-7,5 -2,13q7,-5 2,-13M664,160q-9,6 -6,16q9,-6 6,-16M648,148q-7,3 -6,10q7,-3 6,-10M570,177q4,10 14,8q-4,-10 -14,-8M580,172q3,7 10,6q-3,-7 -10,-6M580,175q-3,6 3,10q3,-6 -3,-10M704,193q-7,8 -0,16q7,-8 0,-16M742,206q-8,-1 -10,7q8,1 10,-7M735,202q-4,11 5,17q4,-11 -5,-17M701,226q0,8 8,9q-0,-8 -8,-9M719,177q-5,8 3,14q5,-8 -3,-14M722,173q-7,4 -4,12q7,-4 4,-12M693,162q-8,3 -7,12q8,-3 7,-12M685,161q-2,7 4,12q2,-7 -4,-12M673,169q-4,6 2,10q4,-6 -2,-10M719,145q-7,6 -3,14q7,-6 3,-14M713,151q-8,4 -6,13q8,-4 6,-13M719,192q1,6 8,7q-1,-6 -8,-7M692,161q-5,5 -1,11q5,-5 1,-11M607,173q-2,10 9,13q2,-10 -9,-13M695,165q-2,8 6,10q2,-8 -6,-10M696,162q-5,6 -1,13q5,-6 1,-13M638,157q4,9 14,6q-4,-9 -14,-6M674,177q-8,4 -5,13q8,-4 5,-13M674,176q-9,3 -7,12q9,-3 7,-12M712,238q-0,10 9,12q0,-10 -9,-12M691,149q-5,6 1,12q5,-6 -1,-12M700,166q-2,7 3,11q2,-7 -3,-11M688,154q-2,6 3,9q2,-6 -3,-9M682,223q0,10 10,12q-0,-10 -10,-12M616,165q-8,2 -7,11q8,-2 7,-11M610,168q-7,4 -4,12q7,-4 4,-12M707,141q-3,6 2,10q3,-6 -2,-10M718,151q-7,6 -1,14q7,-6 1,-14M716,155q-2,7 5,10q2,-7 -5,-10M584,187q-7,7 -3,16q7,-7 3,-16M726,209q-9,6 -4,15q9,-6 4,-15M720,213q-0,10 10,11q0,-10 -10,-11M733,214q-6,5 -1,12q6,-5 1,-12M628,169q-1,7 6,9q1,-7 -6,-9M642,148q-4,7 2,13q4,-7 -2,-13"/>
<path fill="#c8bca4" d="M679,162q2,9 11,8q-2,-9 -11,-8M658,171q-2,7 5,10q2,-7 -5,-10M653,169q-7,7 -2,16q7,-7 2,-16M687,176q-8,5 -4,13q8,-5 4,-13M693,181q-4,6 0,11q4,-6 -0,-11M686,184q-3,7 3,11q3,-7 -3,-11M688,183q-10,0 -11,11q10,-0 11,-11M698,175q-7,4 -6,12q7,-4 6,-12M691,177q-5,6 0,11q5,-6 -0,-11M719,200q-4,11 6,16q4,-11 -6,-16M722,210q-5,4 -3,10q5,-4 3,-10M600,160q-12,-1 -14,11q12,1 14,-11"/>
<path fill="#c8c4b4" d="M950,162q-6,10 4,17q6,-10 -4,-17M962,177q-7,4 -4,12q7,-4 4,-12M960,196q-7,0 -7,8q7,-0 7,-8M914,125q-9,-1 -12,8q9,1 12,-8M891,141q-6,5 -2,12q6,-5 2,-12M837,143q-1,11 9,13q1,-11 -9,-13M836,146q-2,8 4,12q2,-8 -4,-12M821,160q0,7 7,8q-0,-7 -7,-8M888,157q-8,6 -3,15q8,-6 3,-15M894,156q-7,9 0,17q7,-9 -0,-17M888,163q-8,0 -10,8q8,-0 10,-8M981,145q-6,6 -1,14q6,-6 1,-14M975,142q-1,11 10,14q1,-11 -10,-14M970,148q-1,10 9,13q1,-10 -9,-13M941,159q-3,7 3,12q3,-7 -3,-12M875,184q-2,12 10,15q2,-12 -10,-15M877,184q-1,9 7,12q1,-9 -7,-12M907,220q-8,2 -7,10q8,-2 7,-10M897,216q-4,11 5,17q4,-11 -5,-17M905,220q-8,3 -6,12q8,-3 6,-12M899,222q-8,3 -5,11q8,-3 5,-11M945,196q-9,3 -7,13q9,-3 7,-13M908,229q-3,10 5,15q3,-10 -5,-15M901,230q-6,6 -1,13q6,-6 1,-13M866,200q-7,6 -2,14q7,-6 2,-14M865,198q-10,7 -4,17q10,-7 4,-17M898,210q0,10 10,10q-0,-10 -10,-10M898,208q-0,8 8,10q0,-8 -8,-10M894,224q1,10 10,11q-1,-10 -10,-11"/>
<path fill="#d6ccb6" d="M664,165q-1,9 8,13q1,-9 -8,-13M680,148q-4,8 4,13q4,-8 -4,-13M641,171q0,7 7,9q-0,-7 -7,-9M656,167q-7,5 -3,13q7,-5 3,-13M737,193q-6,6 -2,12q6,-6 2,-12M674,174q-7,7 -2,16q7,-7 2,-16M682,175q-3,11 8,15q3,-11 -8,-15M718,202q-5,3 -4,10q5,-3 4,-10M585,158q-6,6 -1,13q6,-6 1,-13"/>
<path fill="#d8d4c6" d="M950,167q4,8 13,6q-4,-8 -13,-6M948,169q1,10 11,10q-1,-10 -11,-10M941,196q-6,4 -3,11q6,-4 3,-11M954,182q-7,1 -9,8q7,-1 9,-8M894,138q-7,-1 -9,6q7,1 9,-6M829,149q-5,7 2,13q5,-7 -2,-13M817,154q5,8 14,5q-5,-8 -14,-5M877,156q-4,10 4,16q4,-10 -4,-16M972,145q-5,5 -1,11q5,-5 1,-11M973,143q-7,6 -3,15q7,-6 3,-15M932,151q-4,10 4,17q4,-10 -4,-17M936,156q-5,6 -0,11q5,-6 0,-11M882,185q-8,1 -9,9q8,-1 9,-9M897,228q-7,-2 -9,5q7,2 9,-5M909,220q-11,-3 -15,8q11,3 15,-8M896,224q-9,4 -8,14q9,-4 8,-14M991,145q-3,9 5,13q3,-9 -5,-13M939,187q-6,3 -3,10q6,-3 3,-10M937,196q-7,5 -3,13q7,-5 3,-13M890,235q-8,7 -3,16q8,-7 3,-16M888,235q-6,7 -1,15q6,-7 1,-15M859,191q-3,9 5,13q3,-9 -5,-13M894,208q-3,7 3,12q3,-7 -3,-12M890,209q-5,5 -1,11q5,-5 1,-11M894,210q-5,4 -2,10q5,-4 2,-10M892,208q-4,10 6,14q4,-10 -6,-14M893,214q-6,7 -1,15q6,-7 1,-15"/>
<path fill="#e6dece" d="M644,167q-7,1 -7,8q7,-1 7,-8M671,170q2,8 10,8q-2,-8 -10,-8"/>
<path fill="#e8e4d8" d="M935,179q-10,6 -5,17q10,-6 5,-17M949,181q-7,1 -7,8q7,-1 7,-8M890,123q-10,4 -8,14q10,-4 8,-14M896,215q-7,2 -5,9q7,-2 5,-9M997,150q-7,3 -5,11q7,-3 5,-11M932,181q-3,9 4,14q3,-9 -4,-14M936,183q-2,7 3,11q2,-7 -3,-11M896,218q-5,4 -1,10q5,-4 1,-10M882,205q-1,12 10,14q1,-12 -10,-14M886,210q-8,5 -3,14q8,-5 3,-14M887,209q-9,6 -4,16q9,-6 4,-16"/>
<path d="M748,222 C730,196 700,168 668,140" fill="none" stroke="#a89c84" stroke-width="7"/><path d="M748,222 C730,196 700,168 668,140" fill="none" stroke="#cfc4ac" stroke-width="3"/><path d="M826,232 C846,204 880,186 940,168" fill="none" stroke="#5e5a4c" stroke-width="8"/><path d="M826,232 C846,204 880,186 940,168" fill="none" stroke="#948a72" stroke-width="3"/><path d="M860,200 C880,220 900,236 915,245" fill="none" stroke="#6a665a" stroke-width="2"/><path d="M700,170 C680,190 660,205 640,215" fill="none" stroke="#8a7e68" stroke-width="2"/>
<path fill="#46443a" d="M647,136q-4,7 2,12q4,-7 -2,-12M688,144q-9,3 -8,12q9,-3 8,-12M669,134q-9,6 -3,15q9,-6 3,-15M664,136q1,9 11,10q-1,-9 -11,-10M677,132q-6,6 -2,13q6,-6 2,-13M633,149q-4,7 3,11q4,-7 -3,-11M598,144q-6,4 -3,10q6,-4 3,-10M617,130q-11,3 -10,14q11,-3 10,-14M618,140q-8,-2 -10,6q8,2 10,-6M642,122q-9,7 -4,17q9,-7 4,-17M751,140q-7,-0 -9,6q7,0 9,-6"/>
<path fill="#45463a" d="M863,203q-8,7 -1,15q8,-7 1,-15M858,209q-0,8 7,9q0,-8 -7,-9M876,134q-6,4 -3,11q6,-4 3,-11M874,130q-6,5 -3,12q6,-5 3,-12M930,196q2,8 11,9q-2,-8 -11,-9M926,198q-3,8 4,13q3,-8 -4,-13M968,158q-1,9 8,11q1,-9 -8,-11M954,199q-2,7 4,11q2,-7 -4,-11M959,195q-7,8 -0,16q7,-8 0,-16M863,195q3,11 15,10q-3,-11 -15,-10M893,186q-2,9 7,12q2,-9 -7,-12M884,216q-12,-1 -15,10q12,1 15,-10M883,205q-9,-0 -10,8q9,0 10,-8M880,193q-9,7 -4,17q9,-7 4,-17M832,198q-8,2 -7,10q8,-2 7,-10M842,187q-8,8 -1,16q8,-8 1,-16M874,136q-2,6 4,9q2,-6 -4,-9M857,140q-1,10 9,13q1,-10 -9,-13M858,142q3,6 9,5q-3,-6 -9,-5M870,195q2,8 10,8q-2,-8 -10,-8M949,136q-0,8 8,9q0,-8 -8,-9M828,141q-9,8 -1,18q9,-8 1,-18M937,204q-6,0 -8,7q6,-0 8,-7M967,138q3,8 11,7q-3,-8 -11,-7M971,137q-2,8 6,10q2,-8 -6,-10M902,131q-4,6 2,11q4,-6 -2,-11M924,146q-9,4 -7,14q9,-4 7,-14M923,139q-4,9 3,15q4,-9 -3,-15M972,126q-5,9 3,16q5,-9 -3,-16M932,208q-2,7 4,10q2,-7 -4,-10M837,165q-6,-1 -9,5q6,1 9,-5M847,142q-7,7 -2,16q7,-7 2,-16M837,155q-3,7 3,13q3,-7 -3,-13M977,123q-11,1 -11,12q11,-1 11,-12M926,147q-0,8 8,9q0,-8 -8,-9M973,151q-2,10 8,13q2,-10 -8,-13M979,151q-10,5 -6,15q10,-5 6,-15M941,177q-6,4 -2,10q6,-4 2,-10M942,166q-7,7 -3,15q7,-7 3,-15M934,171q-5,9 3,16q5,-9 -3,-16M846,143q-10,3 -9,13q10,-3 9,-13M988,136q1,7 8,8q-1,-7 -8,-8M870,199q-5,7 1,13q5,-7 -1,-13M868,195q-1,11 9,14q1,-11 -9,-14M827,136q-1,9 7,12q1,-9 -7,-12M817,134q-5,5 -0,10q5,-5 0,-10M849,159q-0,8 8,10q0,-8 -8,-10M866,158q3,9 12,8q-3,-9 -12,-8M896,135q1,9 10,9q-1,-9 -10,-9M960,146q-9,0 -9,9q9,-0 9,-9M864,157q-3,10 6,14q3,-10 -6,-14M921,171q1,7 8,9q-1,-7 -8,-9M876,238q-6,5 -3,11q6,-5 3,-11M959,156q-5,4 -3,10q5,-4 3,-10M918,125q-5,5 -1,11q5,-5 1,-11M920,121q-8,5 -4,13q8,-5 4,-13M1008,140q-8,8 -1,16q8,-8 1,-16M1004,134q-7,6 -1,13q7,-6 1,-13M904,195q-4,9 4,13q4,-9 -4,-13M971,166q-2,10 8,14q2,-10 -8,-14M943,202q-1,7 6,9q1,-7 -6,-9M944,198q-7,3 -4,10q7,-3 4,-10M879,135q-9,3 -9,14q9,-3 9,-14M944,175q-7,2 -5,9q7,-2 5,-9M935,173q-3,10 5,15q3,-10 -5,-15M996,149q-3,7 3,12q3,-7 -3,-12M862,177q-6,4 -3,11q6,-4 3,-11M865,176q-9,5 -7,16q9,-5 7,-16M956,121q-8,7 -2,15q8,-7 2,-15M908,166q-5,9 3,14q5,-9 -3,-14M897,169q-4,8 3,13q4,-8 -3,-13M937,202q-10,2 -12,12q10,-2 12,-12M950,172q-2,8 5,10q2,-8 -5,-10M933,192q-2,7 4,11q2,-7 -4,-11M939,178q1,10 11,12q-1,-10 -11,-12M949,178q1,7 8,7q-1,-7 -8,-7M952,178q-9,3 -6,12q9,-3 6,-12M896,146q-7,9 -0,17q7,-9 0,-17"/>
<path fill="#505144" d="M916,187q-2,9 6,14q2,-9 -6,-14M900,180q-8,1 -9,8q8,-1 9,-8M909,181q-7,8 0,16q7,-8 -0,-16M895,194q2,9 12,10q-2,-9 -12,-10M893,186q2,11 13,9q-2,-11 -13,-9M936,188q-0,8 7,11q0,-8 -7,-11M959,176q-7,4 -4,12q7,-4 4,-12M839,151q-2,10 7,14q2,-10 -7,-14M877,153q-9,1 -10,10q9,-1 10,-10M861,165q-9,-1 -11,7q9,1 11,-7M867,164q-5,4 -2,11q5,-4 2,-11M872,155q-1,11 10,14q1,-11 -10,-14M846,239q-10,5 -7,16q10,-5 7,-16M845,169q-6,7 -0,14q6,-7 0,-14M842,164q-6,7 -1,15q6,-7 1,-15M923,222q1,9 9,10q-1,-9 -9,-10M897,199q0,11 11,12q-0,-11 -11,-12M907,197q-4,6 1,10q4,-6 -1,-10M893,192q-6,2 -6,8q6,-2 6,-8M863,192q-4,7 3,13q4,-7 -3,-13M866,194q-10,1 -10,11q10,-1 10,-11M836,180q-7,9 -0,18q7,-9 0,-18M935,129q-6,11 5,17q6,-11 -5,-17M945,141q-5,10 4,16q5,-10 -4,-16M844,192q-7,4 -5,12q7,-4 5,-12M839,201q-2,7 4,12q2,-7 -4,-12M846,229q-9,2 -9,11q9,-2 9,-11M843,230q-4,10 6,15q4,-10 -6,-15M841,244q-7,4 -5,12q7,-4 5,-12M845,234q-7,-1 -9,6q7,1 9,-6M957,149q-5,5 -2,11q5,-5 2,-11M947,197q-11,-1 -15,8q11,1 15,-8M867,158q-10,-4 -16,6q10,4 16,-6M850,166q-4,7 2,13q4,-7 -2,-13M907,190q4,11 15,8q-4,-11 -15,-8M914,190q-3,9 4,14q3,-9 -4,-14M912,192q4,8 12,6q-4,-8 -12,-6M919,184q3,9 13,6q-3,-9 -13,-6M838,121q-10,6 -5,17q10,-6 5,-17M843,124q-6,10 3,16q6,-10 -3,-16M834,133q-7,7 -1,14q7,-7 1,-14M875,177q-2,10 8,13q2,-10 -8,-13M893,131q-5,8 2,14q5,-8 -2,-14M880,206q-8,6 -5,16q8,-6 5,-16M918,212q-7,5 -3,13q7,-5 3,-13M948,125q-7,7 -1,15q7,-7 1,-15M870,145q-8,1 -9,8q8,-1 9,-8M963,165q-7,0 -7,7q7,-0 7,-7M965,170q-10,2 -11,12q10,-2 11,-12M952,168q-7,7 -0,14q7,-7 0,-14M831,149q-5,8 1,14q5,-8 -1,-14M827,150q-1,11 10,14q1,-11 -10,-14M834,153q-0,7 7,8q0,-7 -7,-8M949,148q-8,8 -1,16q8,-8 1,-16M894,231q0,8 8,10q-0,-8 -8,-10M855,182q-1,9 8,13q1,-9 -8,-13M839,192q4,11 16,8q-4,-11 -16,-8M848,208q-9,4 -7,13q9,-4 7,-13M939,188q-6,5 -2,12q6,-5 2,-12M848,148q-8,4 -4,12q8,-4 4,-12M877,173q-8,4 -6,13q8,-4 6,-13"/>
<path fill="#5c5040" d="M822,194q-7,4 -4,12q7,-4 4,-12M824,203q2,6 9,5q-2,-6 -9,-5M951,155q-7,5 -3,13q7,-5 3,-13M940,160q-0,8 8,10q0,-8 -8,-10M970,133q0,7 7,8q-0,-7 -7,-8M945,181q-6,5 -3,12q6,-5 3,-12M955,175q-5,4 -2,10q5,-4 2,-10M960,126q-3,10 7,14q3,-10 -7,-14M953,133q2,8 11,6q-2,-8 -11,-6M949,190q-2,10 7,14q2,-10 -7,-14M940,191q-1,12 10,14q1,-12 -10,-14M911,150q-7,4 -4,12q7,-4 4,-12M906,146q2,8 11,7q-2,-8 -11,-7M833,174q-2,7 4,10q2,-7 -4,-10M846,184q-3,8 4,12q3,-8 -4,-12M848,177q-8,6 -2,15q8,-6 2,-15M840,190q-3,7 3,12q3,-7 -3,-12M903,129q-10,5 -7,15q10,-5 7,-15M910,164q-8,6 -2,14q8,-6 2,-14M919,157q-12,2 -10,14q12,-2 10,-14M971,144q-1,12 11,14q1,-12 -11,-14M848,224q-8,3 -6,12q8,-3 6,-12M877,213q-7,-0 -10,7q7,0 10,-7M893,224q-7,5 -4,13q7,-5 4,-13M882,233q0,8 8,9q-0,-8 -8,-9M853,129q-1,11 9,15q1,-11 -9,-15M856,136q-8,5 -4,13q8,-5 4,-13"/>
<path fill="#5e5040" d="M732,188q0,10 10,11q-0,-10 -10,-11M742,179q-5,11 5,17q5,-11 -5,-17M610,166q-6,7 1,14q6,-7 -1,-14M613,182q-7,9 2,17q7,-9 -2,-17M614,187q-3,8 4,11q3,-8 -4,-11M682,168q-6,4 -3,11q6,-4 3,-11M677,179q-4,9 4,15q4,-9 -4,-15M678,185q-9,3 -9,12q9,-3 9,-12M679,167q-0,8 8,9q0,-8 -8,-9M667,182q-7,3 -6,11q7,-3 6,-11M666,180q-10,7 -4,17q10,-7 4,-17M619,137q-4,11 7,15q4,-11 -7,-15M620,138q-9,6 -4,16q9,-6 4,-16M664,214q-11,5 -7,16q11,-5 7,-16M649,219q-4,10 5,16q4,-10 -5,-16M640,128q-6,7 1,14q6,-7 -1,-14M664,192q-7,5 -3,13q7,-5 3,-13M668,187q-7,5 -3,13q7,-5 3,-13M665,231q5,9 15,6q-5,-9 -15,-6M664,233q-4,6 1,11q4,-6 -1,-11M729,207q-4,9 4,15q4,-9 -4,-15M722,214q-3,7 4,11q3,-7 -4,-11M699,126q-0,8 8,9q0,-8 -8,-9M607,133q-2,7 5,10q2,-7 -5,-10M612,135q1,7 8,8q-1,-7 -8,-8M613,125q-4,8 3,12q4,-8 -3,-12M644,135q-10,6 -7,16q10,-6 7,-16M725,168q-6,5 -3,12q6,-5 3,-12M730,166q0,11 11,12q-0,-11 -11,-12M708,196q-8,0 -9,9q8,-0 9,-9M624,146q-3,10 5,16q3,-10 -5,-16M658,168q-2,9 7,12q2,-9 -7,-12M666,160q-10,-0 -11,9q10,0 11,-9M740,188q-10,7 -3,17q10,-7 3,-17M631,217q-2,9 6,13q2,-9 -6,-13M659,154q-11,5 -6,17q11,-5 6,-17M631,160q1,8 9,9q-1,-8 -9,-9M647,154q-8,6 -3,16q8,-6 3,-16"/>
<path fill="#56544a" d="M708,170q-10,6 -7,16q10,-6 7,-16M607,191q-1,11 10,13q1,-11 -10,-13M605,188q-4,5 -1,10q4,-5 1,-10M752,168q-7,8 -1,16q7,-8 1,-16M729,159q-7,9 1,17q7,-9 -1,-17M742,238q-8,2 -9,10q8,-2 9,-10M739,236q-6,4 -3,10q6,-4 3,-10M735,146q-9,6 -6,16q9,-6 6,-16M629,207q-7,-0 -8,6q7,0 8,-6M679,177q-6,4 -4,10q6,-4 4,-10M680,183q-6,7 -0,13q6,-7 0,-13M756,223q-11,-2 -15,9q11,2 15,-9M761,216q-11,0 -12,11q11,-0 12,-11M753,219q-7,-0 -8,7q7,0 8,-7M744,222q-9,2 -10,11q9,-2 10,-11M737,246q-5,6 -0,12q5,-6 0,-12M740,185q-5,6 -0,12q5,-6 0,-12M741,179q-11,0 -12,11q11,-0 12,-11M733,185q-6,8 0,16q6,-8 -0,-16M686,135q-0,7 6,8q0,-7 -6,-8M682,133q-7,7 -1,15q7,-7 1,-15M614,141q-1,7 6,8q1,-7 -6,-8M606,151q-7,5 -4,13q7,-5 4,-13M617,143q-12,3 -10,15q12,-3 10,-15M735,136q-5,8 2,14q5,-8 -2,-14"/>
<path fill="#625442" d="M883,233q5,8 14,5q-5,-8 -14,-5M880,219q-0,12 11,13q0,-12 -11,-13M933,200q-5,9 3,16q5,-9 -3,-16M866,225q-7,4 -5,11q7,-4 5,-11M925,221q-9,6 -4,16q9,-6 4,-16M909,219q-4,8 3,14q4,-8 -3,-14M914,215q-6,6 -2,13q6,-6 2,-13M868,199q-7,7 -1,15q7,-7 1,-15M907,206q-3,6 3,10q3,-6 -3,-10M922,191q-9,6 -5,17q9,-6 5,-17M885,216q-7,9 1,17q7,-9 -1,-17M891,215q-4,7 3,12q4,-7 -3,-12M942,193q-5,5 -2,11q5,-5 2,-11M889,243q1,9 10,9q-1,-9 -10,-9M888,245q-6,8 -0,16q6,-8 0,-16M887,244q1,11 11,12q-1,-11 -11,-12"/>
<path fill="#64543e" d="M628,219q-6,4 -3,11q6,-4 3,-11M638,217q-7,3 -6,11q7,-3 6,-11M681,166q-3,6 2,10q3,-6 -2,-10M653,160q-8,-2 -11,5q8,2 11,-5M585,179q4,6 10,4q-4,-6 -10,-4M582,184q-2,11 10,14q2,-11 -10,-14M665,167q-5,9 3,16q5,-9 -3,-16M670,162q-10,6 -5,17q10,-6 5,-17M754,216q-5,5 -2,11q5,-5 2,-11M746,217q-9,7 -3,17q9,-7 3,-17M732,221q-7,4 -4,11q7,-4 4,-11M721,222q-5,5 -1,11q5,-5 1,-11M722,211q-3,11 8,15q3,-11 -8,-15M734,189q-7,2 -5,9q7,-2 5,-9M730,182q-1,8 7,12q1,-8 -7,-12M692,168q-1,10 9,14q1,-10 -9,-14M703,168q-6,6 -1,12q6,-6 1,-12M684,167q-4,10 5,16q4,-10 -5,-16M686,170q-8,3 -5,11q8,-3 5,-11M727,150q-8,8 -2,17q8,-8 2,-17M719,160q3,8 12,8q-3,-8 -12,-8M621,184q-6,4 -3,10q6,-4 3,-10M653,163q-5,6 1,12q5,-6 -1,-12M644,177q-7,4 -3,11q7,-4 3,-11M675,154q-11,-1 -14,11q11,1 14,-11M676,148q-6,8 1,15q6,-8 -1,-15M613,173q3,11 13,9q-3,-11 -13,-9M676,176q-2,11 8,14q2,-11 -8,-14M674,183q-4,10 5,16q4,-10 -5,-16M730,235q-3,10 6,16q3,-10 -6,-16M722,242q1,9 11,9q-1,-9 -11,-9M708,158q-2,8 6,11q2,-8 -6,-11M709,162q-6,5 -1,12q6,-5 1,-12M722,208q-7,4 -4,11q7,-4 4,-11M740,209q-4,7 2,13q4,-7 -2,-13M703,235q1,9 10,9q-1,-9 -10,-9M715,223q-8,6 -3,15q8,-6 3,-15M721,232q-5,5 -0,11q5,-5 0,-11M623,209q1,7 8,8q-1,-7 -8,-8M602,201q3,8 11,8q-3,-8 -11,-8M621,202q2,9 11,8q-2,-9 -11,-8M625,161q1,8 10,8q-1,-8 -10,-8M633,159q-4,7 2,13q4,-7 -2,-13M629,160q-5,7 0,14q5,-7 -0,-14M606,174q-7,9 2,17q7,-9 -2,-17M739,179q-8,3 -6,12q8,-3 6,-12M737,172q-6,7 -1,14q6,-7 1,-14M615,177q-3,9 5,13q3,-9 -5,-13M631,168q-6,6 -2,14q6,-6 2,-14M635,173q-8,2 -7,11q8,-2 7,-11M633,172q-9,4 -8,14q9,-4 8,-14M610,185q3,8 11,6q-3,-8 -11,-6M618,176q-4,10 5,16q4,-10 -5,-16M712,152q1,10 11,10q-1,-10 -11,-10M717,155q-8,5 -5,15q8,-5 5,-15M709,156q-5,6 -0,13q5,-6 0,-13M704,156q0,11 11,13q-0,-11 -11,-13M740,158q-6,3 -4,9q6,-3 4,-9M595,187q-1,7 6,10q1,-7 -6,-10M591,195q-7,5 -3,13q7,-5 3,-13M753,221q2,6 9,5q-2,-6 -9,-5M722,208q-7,2 -6,9q7,-2 6,-9M724,206q-8,1 -9,9q8,-1 9,-9M636,170q-7,9 1,17q7,-9 -1,-17M652,148q-4,9 5,15q4,-9 -5,-15M700,180q-5,8 3,15q5,-8 -3,-15M698,186q-11,5 -6,16q11,-5 6,-16"/>
<path fill="#5a5848" d="M738,140q2,7 10,6q-2,-7 -10,-6M644,128q-4,7 3,12q4,-7 -3,-12M646,132q-7,1 -8,9q7,-1 8,-9M673,141q-5,6 -1,12q5,-6 1,-12M674,134q-0,7 7,9q0,-7 -7,-9M657,136q-7,6 -3,15q7,-6 3,-15M681,124q-7,6 -2,14q7,-6 2,-14M635,128q-4,8 4,13q4,-8 -4,-13M624,141q2,7 9,6q-2,-7 -9,-6M615,127q-11,1 -12,12q11,-1 12,-12M593,138q-7,4 -5,12q7,-4 5,-12M603,132q-11,0 -12,12q11,-0 12,-12M619,136q-6,5 -2,11q6,-5 2,-11M729,137q-10,2 -11,12q10,-2 11,-12"/>
<path fill="#5e5e4e" d="M869,204q-9,6 -5,16q9,-6 5,-16M932,174q-5,9 1,16q5,-9 -1,-16M966,150q-8,5 -5,13q8,-5 5,-13M953,156q-3,9 5,13q3,-9 -5,-13M960,150q-7,6 -1,14q7,-6 1,-14M944,194q-5,11 6,17q5,-11 -6,-17M889,187q1,8 9,9q-1,-8 -9,-9M851,192q-1,11 9,14q1,-11 -9,-14M858,187q2,8 10,7q-2,-8 -10,-7M871,194q-1,8 6,11q1,-8 -6,-11M869,181q-5,11 6,17q5,-11 -6,-17M824,192q-7,5 -3,12q7,-5 3,-12M822,173q-5,9 2,17q5,-9 -2,-17M868,135q-8,3 -6,11q8,-3 6,-11M864,129q-5,8 2,14q5,-8 -2,-14M870,193q1,7 8,8q-1,-7 -8,-8M869,192q-4,8 3,13q4,-8 -3,-13M959,137q-2,10 8,13q2,-10 -8,-13M979,136q-7,4 -5,12q7,-4 5,-12M902,127q-5,7 -0,14q5,-7 0,-14M893,123q-4,10 5,17q4,-10 -5,-17M826,239q-7,7 -2,15q7,-7 2,-15M831,224q-5,10 5,16q5,-10 -5,-16M914,150q-7,6 -2,13q7,-6 2,-13M910,142q-5,8 2,16q5,-8 -2,-16M950,124q2,8 11,7q-2,-8 -11,-7M929,210q-8,4 -4,12q8,-4 4,-12M927,206q-1,9 8,12q1,-9 -8,-12M831,143q1,9 10,8q-1,-9 -10,-8M821,134q-0,10 9,12q0,-10 -9,-12M820,155q2,8 10,8q-2,-8 -10,-8M824,157q1,9 10,11q-1,-9 -10,-11M971,151q-10,2 -8,12q10,-2 8,-12M969,148q-2,9 7,13q2,-9 -7,-13M877,157q-2,9 6,12q2,-9 -6,-12M843,144q-7,2 -7,10q7,-2 7,-10M829,150q-6,10 3,16q6,-10 -3,-16M834,147q-6,4 -3,11q6,-4 3,-11M832,139q-5,10 5,16q5,-10 -5,-16M889,126q-2,8 5,11q2,-8 -5,-11M843,148q-7,5 -3,12q7,-5 3,-12M845,143q0,8 8,10q-0,-8 -8,-10M838,151q-8,8 -1,17q8,-8 1,-17M863,152q-7,5 -2,12q7,-5 2,-12M928,159q-8,2 -7,11q8,-2 7,-11M909,152q-7,2 -7,9q7,-2 7,-9M911,147q-7,5 -4,13q7,-5 4,-13M878,235q-7,7 -0,14q7,-7 0,-14M881,230q-2,12 10,15q2,-12 -10,-15M942,153q4,10 15,7q-4,-10 -15,-7M948,154q-3,6 2,10q3,-6 -2,-10M829,152q-9,-2 -13,7q9,2 13,-7M895,136q1,8 9,9q-1,-8 -9,-9M892,135q3,11 15,9q-3,-11 -15,-9M992,146q-6,5 -3,11q6,-5 3,-11M991,145q-2,7 3,11q2,-7 -3,-11M892,190q-4,7 3,12q4,-7 -3,-12M899,180q-8,7 -3,16q8,-7 3,-16M973,149q3,8 11,6q-3,-8 -11,-6M963,164q-2,8 6,11q2,-8 -6,-11M962,167q-8,5 -3,13q8,-5 3,-13M870,127q-5,5 -1,11q5,-5 1,-11M862,136q-6,7 -0,14q6,-7 0,-14M936,169q-8,7 -1,15q8,-7 1,-15M863,176q-10,1 -11,11q10,-1 11,-11M917,161q-10,-3 -15,7q10,3 15,-7M906,164q-6,7 0,14q6,-7 -0,-14M905,160q-4,8 3,13q4,-8 -3,-13M944,167q-6,8 1,16q6,-8 -1,-16M894,147q-10,2 -11,12q10,-2 11,-12"/>
<path fill="#6e6e5c" d="M927,174q-9,3 -9,12q9,-3 9,-12M908,189q-3,7 4,11q3,-7 -4,-11M928,170q-9,6 -5,16q9,-6 5,-16M929,177q-8,4 -6,12q8,-4 6,-12M877,189q3,11 14,8q-3,-11 -14,-8M888,184q-6,9 1,17q6,-9 -1,-17M885,193q-3,7 3,10q3,-7 -3,-10M893,181q-7,7 -1,14q7,-7 1,-14M891,188q-8,7 -3,15q8,-7 3,-15M942,172q-6,8 2,15q6,-8 -2,-15M820,160q-6,9 2,16q6,-9 -2,-16M859,154q-1,11 10,14q1,-11 -10,-14M867,141q-5,9 4,15q5,-9 -4,-15M847,229q-1,8 7,9q1,-8 -7,-9M926,164q-6,5 -1,12q6,-5 1,-12M921,215q-4,7 2,13q4,-7 -2,-13M891,198q3,9 12,9q-3,-9 -12,-9M901,192q-5,6 -1,13q5,-6 1,-13M900,193q-7,5 -3,12q7,-5 3,-12M912,180q-1,11 9,14q1,-11 -9,-14M909,184q2,9 11,9q-2,-9 -11,-9M881,182q-5,9 3,16q5,-9 -3,-16M887,179q-7,9 1,16q7,-9 -1,-16M972,144q-9,1 -10,10q9,-1 10,-10M855,190q-11,3 -11,14q11,-3 11,-14M855,150q4,10 15,8q-4,-10 -15,-8M829,176q4,9 13,8q-4,-9 -13,-8M836,166q-2,7 5,11q2,-7 -5,-11M843,186q-2,7 4,10q2,-7 -4,-10M828,185q-1,12 11,14q1,-12 -11,-14M819,196q1,7 8,8q-1,-7 -8,-8M825,240q-9,5 -5,15q9,-5 5,-15M836,164q-9,1 -10,10q9,-1 10,-10M954,142q-7,8 -2,17q7,-8 2,-17M958,142q-3,6 1,10q3,-6 -1,-10M960,146q-10,3 -9,13q10,-3 9,-13M934,194q-12,-1 -14,11q12,1 14,-11M925,198q-7,0 -8,7q7,-0 8,-7M846,162q-4,7 3,11q4,-7 -3,-11M905,225q-7,3 -6,10q7,-3 6,-10M909,219q-5,5 -1,11q5,-5 1,-11M933,127q-10,-2 -12,7q10,2 12,-7M865,140q-10,3 -7,13q10,-3 7,-13M868,174q-2,7 3,11q2,-7 -3,-11M895,133q-7,-2 -11,4q7,2 11,-4M914,205q-10,4 -10,14q10,-4 10,-14M909,196q-7,6 -3,15q7,-6 3,-15M992,132q-5,5 -1,10q5,-5 1,-10M885,122q-10,2 -11,12q10,-2 11,-12M952,167q-4,6 1,10q4,-6 -1,-10M954,164q-3,7 3,10q3,-7 -3,-10M955,161q-7,3 -5,10q7,-3 5,-10M947,171q-8,2 -7,10q8,-2 7,-10M865,187q1,10 10,10q-1,-10 -10,-10M949,140q1,9 10,9q-1,-9 -10,-9M900,223q-7,4 -4,12q7,-4 4,-12M893,230q-8,6 -3,14q8,-6 3,-14M970,155q-7,8 0,16q7,-8 -0,-16M980,158q-10,-1 -14,9q10,1 14,-9M843,208q-10,-1 -11,9q10,1 11,-9M841,199q-6,5 -1,11q6,-5 1,-11M926,183q2,9 11,10q-2,-9 -11,-10M849,137q-6,7 -1,14q6,-7 1,-14M865,168q-11,2 -11,14q11,-2 11,-14M869,165q-8,5 -3,13q8,-5 3,-13M900,187q-8,9 1,17q8,-9 -1,-17"/>
<path fill="#7e6e54" d="M817,194q-7,9 1,18q7,-9 -1,-18M827,188q-4,8 4,14q4,-8 -4,-14M932,155q-9,6 -4,16q9,-6 4,-16M987,122q1,11 12,12q-1,-11 -12,-12M953,161q-6,7 0,14q6,-7 -0,-14M942,160q0,11 11,11q-0,-11 -11,-11M940,169q-5,7 2,13q5,-7 -2,-13M827,176q-9,-1 -11,9q9,1 11,-9M823,174q-7,5 -3,14q7,-5 3,-14M823,175q-6,6 -1,13q6,-6 1,-13M836,181q-1,8 6,9q1,-8 -6,-9M904,191q-7,8 -0,15q7,-8 0,-15M892,128q-7,3 -5,10q7,-3 5,-10M891,129q-8,3 -6,12q8,-3 6,-12M910,156q-6,4 -4,10q6,-4 4,-10M908,147q-2,9 6,13q2,-9 -6,-13M901,162q-6,4 -3,11q6,-4 3,-11M848,220q-4,8 3,13q4,-8 -3,-13M872,230q-5,9 3,16q5,-9 -3,-16M855,127q-8,2 -6,10q8,-2 6,-10M842,141q-9,2 -8,11q9,-2 8,-11M861,123q3,11 14,8q-3,-11 -14,-8"/>
<path fill="#767260" d="M605,188q-7,3 -5,11q7,-3 5,-11M731,230q-5,9 4,14q5,-9 -4,-14M630,199q-12,1 -12,13q12,-1 12,-13M619,202q-7,9 1,16q7,-9 -1,-16M671,161q-6,4 -3,10q6,-4 3,-10M666,178q-11,-1 -14,9q11,1 14,-9M662,174q-11,2 -9,13q11,-2 9,-13M684,167q-5,8 2,14q5,-8 -2,-14M661,184q-7,9 1,16q7,-9 -1,-16M732,223q-2,9 5,13q2,-9 -5,-13M736,223q-7,2 -5,8q7,-2 5,-8M745,221q-7,2 -6,8q7,-2 6,-8M739,224q-8,1 -8,9q8,-1 8,-9M732,241q-6,8 1,15q6,-8 -1,-15M733,241q-8,7 -2,16q8,-7 2,-16M733,244q-7,4 -4,11q7,-4 4,-11M734,174q-10,1 -10,11q10,-1 10,-11M618,183q-9,4 -7,13q9,-4 7,-13M682,129q-2,8 5,11q2,-8 -5,-11M669,133q4,11 16,9q-4,-11 -16,-9M695,121q-5,5 -1,11q5,-5 1,-11M609,135q-4,6 1,11q4,-6 -1,-11M737,121q-6,7 1,14q6,-7 -1,-14"/>
<path fill="#857358" d="M717,189q-0,8 7,10q0,-8 -7,-10M589,183q-2,10 8,13q2,-10 -8,-13M671,166q-5,5 -1,10q5,-5 1,-10M612,128q-1,10 8,13q1,-10 -8,-13M648,128q-7,-1 -9,5q7,1 9,-5M664,182q-3,9 6,13q3,-9 -6,-13M665,220q-0,8 8,10q0,-8 -8,-10M717,210q-4,6 1,10q4,-6 -1,-10M608,126q3,9 12,8q-3,-9 -12,-8M636,127q-1,8 6,10q1,-8 -6,-10M691,193q-11,-0 -13,11q11,0 13,-11M625,155q-10,7 -4,17q10,-7 4,-17M751,171q-11,-1 -13,10q11,1 13,-10M736,160q-6,9 -0,17q6,-9 0,-17M731,188q-6,1 -7,7q6,-1 7,-7M746,177q-9,0 -10,9q9,-0 10,-9M626,220q-6,5 -1,11q6,-5 1,-11M639,210q-8,0 -8,8q8,-0 8,-8M630,209q-8,6 -4,16q8,-6 4,-16M647,143q-8,8 -1,18q8,-8 1,-18"/>
<path fill="#86765a" d="M907,214q-7,2 -4,9q7,-2 4,-9M903,217q-10,3 -7,14q10,-3 7,-14M818,221q-3,6 2,10q3,-6 -2,-10M823,215q-4,9 4,14q4,-9 -4,-14M911,202q-4,8 3,14q4,-8 -3,-14M920,197q-9,5 -5,15q9,-5 5,-15M859,216q-4,8 3,14q4,-8 -3,-14M888,214q-8,4 -5,12q8,-4 5,-12M913,221q-5,8 2,15q5,-8 -2,-15M903,227q-0,8 7,10q0,-8 -7,-10M905,223q-3,7 3,12q3,-7 -3,-12M900,223q4,11 15,9q-4,-11 -15,-9M901,230q4,8 13,7q-4,-8 -13,-7M899,213q-4,8 3,13q4,-8 -3,-13M921,204q-7,4 -5,12q7,-4 5,-12M864,194q-5,6 -0,12q5,-6 0,-12M856,203q-6,5 -2,12q6,-5 2,-12M861,191q-5,10 3,17q5,-10 -3,-17M905,207q-7,1 -7,8q7,-1 7,-8M881,217q-4,10 5,15q4,-10 -5,-15M923,199q-2,7 4,11q2,-7 -4,-11M885,241q1,11 12,12q-1,-11 -12,-12M887,238q-3,11 8,16q3,-11 -8,-16"/>
<path fill="#7e7a66" d="M630,128q-4,6 1,12q4,-6 -1,-12M628,128q-5,5 -0,11q5,-5 0,-11M593,134q-7,-1 -9,5q7,1 9,-5M609,127q-4,9 4,16q4,-9 -4,-16M621,122q-6,8 0,16q6,-8 -0,-16M676,137q-5,6 -1,12q5,-6 1,-12M729,141q-7,1 -8,7q7,-1 8,-7M734,127q-4,10 5,15q4,-10 -5,-15"/>
<path fill="#8e7a5c" d="M681,213q-8,1 -8,10q8,-1 8,-10M602,206q0,8 8,9q-0,-8 -8,-9M639,209q-10,2 -10,12q10,-2 10,-12M662,160q-2,9 7,13q2,-9 -7,-13M662,162q-6,5 -1,11q6,-5 1,-11M672,160q-9,-0 -11,9q9,0 11,-9M714,220q-8,5 -5,14q8,-5 5,-14M719,221q-7,9 1,18q7,-9 -1,-18M718,222q-10,1 -10,11q10,-1 10,-11M723,217q-5,6 0,12q5,-6 -0,-12M713,223q-7,5 -5,13q7,-5 5,-13M665,177q-8,6 -3,15q8,-6 3,-15M650,164q-1,8 7,11q1,-8 -7,-11M652,166q0,11 11,14q-0,-11 -11,-14M661,156q-5,9 3,15q5,-9 -3,-15M705,195q-3,9 5,15q3,-9 -5,-15M704,196q-8,7 -4,16q8,-7 4,-16M744,204q-4,7 2,12q4,-7 -2,-12M747,206q-11,2 -10,13q11,-2 10,-13M717,180q-2,11 8,16q2,-11 -8,-16M703,156q-12,3 -9,15q12,-3 9,-15M696,164q-8,1 -8,9q8,-1 8,-9M680,176q-9,-0 -11,9q9,0 11,-9M715,146q-6,4 -4,11q6,-4 4,-11M719,150q-6,4 -2,11q6,-4 2,-11M723,148q-2,8 6,11q2,-8 -6,-11M728,190q1,6 8,7q-1,-6 -8,-7M726,189q-2,11 9,15q2,-11 -9,-15M728,197q-11,5 -7,16q11,-5 7,-16M689,175q-6,5 -3,12q6,-5 3,-12M698,175q-10,6 -5,17q10,-6 5,-17M742,147q-5,10 4,16q5,-10 -4,-16M743,164q2,10 12,9q-2,-10 -12,-9M662,150q-7,5 -5,13q7,-5 5,-13M680,175q-7,6 -2,14q7,-6 2,-14M714,242q3,7 11,5q-3,-7 -11,-5M721,233q-7,5 -3,12q7,-5 3,-12M692,152q-8,8 -1,17q8,-8 1,-17M682,165q-4,8 3,15q4,-8 -3,-15M695,154q-4,7 3,12q4,-7 -3,-12M734,211q-8,1 -10,8q8,-1 10,-8M735,207q-4,6 2,11q4,-6 -2,-11M616,200q-6,4 -3,10q6,-4 3,-10M624,155q-5,9 3,16q5,-9 -3,-16M631,152q-5,8 2,15q5,-8 -2,-15M610,167q-4,10 4,16q4,-10 -4,-16M604,170q-5,8 2,15q5,-8 -2,-15M624,173q-12,2 -11,14q12,-2 11,-14M585,186q1,8 9,9q-1,-8 -9,-9M583,194q-7,5 -2,12q7,-5 2,-12M734,218q-9,5 -6,15q9,-5 6,-15M738,204q-1,11 10,13q1,-11 -10,-13M612,180q0,6 6,8q-0,-6 -6,-8M610,176q2,10 12,8q-2,-10 -12,-8M606,182q-6,7 1,14q6,-7 -1,-14M615,176q-2,8 6,11q2,-8 -6,-11M653,144q-7,7 -1,15q7,-7 1,-15M641,152q-1,10 10,13q1,-10 -10,-13M696,178q-4,9 3,16q4,-9 -3,-16M689,192q-11,3 -11,14q11,-3 11,-14"/>
<path fill="#8a8a78" d="M844,196q-1,11 10,14q1,-11 -10,-14M858,195q-7,4 -4,12q7,-4 4,-12M851,128q-8,9 0,18q8,-9 -0,-18M865,133q-9,-2 -13,7q9,2 13,-7M887,180q-5,6 -1,12q5,-6 1,-12M869,187q-5,6 0,12q5,-6 -0,-12M864,216q-8,4 -6,13q8,-4 6,-13M863,126q-2,8 5,12q2,-8 -5,-12M873,126q-9,3 -8,13q9,-3 8,-13M964,125q1,11 12,12q-1,-11 -12,-12M826,228q-10,1 -11,12q10,-1 11,-12M819,232q-6,6 -2,13q6,-6 2,-13M839,147q-8,1 -7,10q8,-1 7,-10M905,159q-2,9 6,12q2,-9 -6,-12M977,123q-10,4 -7,14q10,-4 7,-14M973,140q-1,7 5,10q1,-7 -5,-10M967,141q-2,9 6,14q2,-9 -6,-14M890,158q1,9 11,9q-1,-9 -11,-9M919,173q-4,5 -1,10q4,-5 1,-10M972,130q-1,7 5,9q1,-7 -5,-9M813,119q-4,10 6,14q4,-10 -6,-14M827,137q-2,7 5,10q2,-7 -5,-10M862,150q-7,7 -1,15q7,-7 1,-15M860,150q-5,7 0,15q5,-7 -0,-15M949,136q-7,4 -4,11q7,-4 4,-11M946,135q-7,9 1,17q7,-9 -1,-17M876,239q-9,0 -10,9q9,-0 10,-9M858,150q-3,8 5,12q3,-8 -5,-12M924,146q-7,4 -3,11q7,-4 3,-11M909,151q-1,8 6,11q1,-8 -6,-11M865,231q-3,10 5,15q3,-10 -5,-15M941,153q2,6 8,6q-2,-6 -8,-6M830,138q-7,4 -5,11q7,-4 5,-11M828,143q-8,-2 -12,6q8,2 12,-6M999,127q-9,5 -4,14q9,-5 4,-14M889,175q-5,6 -0,11q5,-6 0,-11M882,198q-1,9 7,12q1,-9 -7,-12M951,158q1,9 10,8q-1,-9 -10,-8M909,196q1,10 11,11q-1,-10 -11,-11M934,172q-4,10 6,15q4,-10 -6,-15M978,143q-4,11 6,16q4,-11 -6,-16M989,139q-1,8 6,10q1,-8 -6,-10M995,139q-12,1 -12,13q12,-1 12,-13M908,164q-10,-2 -12,8q10,2 12,-8M904,161q-5,5 -2,11q5,-5 2,-11M922,190q-8,2 -8,9q8,-2 8,-9M828,177q-8,7 -3,17q8,-7 3,-17M829,177q-1,7 5,9q1,-7 -5,-9M894,150q-8,5 -6,14q8,-5 6,-14M882,144q-5,5 -1,11q5,-5 1,-11"/>
<path fill="#a89878" d="M823,179q-7,8 -1,16q7,-8 1,-16M816,184q-6,8 1,15q6,-8 -1,-15M933,149q-7,6 -1,14q7,-6 1,-14M978,119q-6,8 0,15q6,-8 -0,-15M949,178q-6,8 0,15q6,-8 -0,-15M949,119q-4,11 6,16q4,-11 -6,-16M931,186q-5,8 1,15q5,-8 -1,-15M821,169q-5,10 4,16q5,-10 -4,-16M833,196q-4,7 2,12q4,-7 -2,-12M827,184q-10,6 -4,16q10,-6 4,-16M904,128q-7,-0 -8,6q7,0 8,-6M912,126q-8,-0 -11,8q8,0 11,-8M896,157q0,7 7,8q-0,-7 -7,-8M956,137q1,11 12,12q-1,-11 -12,-12M839,208q-3,10 6,16q3,-10 -6,-16M872,220q-6,8 1,16q6,-8 -1,-16M872,219q-3,8 4,13q3,-8 -4,-13M849,131q-4,7 2,13q4,-7 -2,-13"/>
<path fill="#a09a84" d="M596,194q-8,1 -8,9q8,-1 8,-9M612,191q-11,-0 -13,10q11,0 13,-10M726,227q-1,10 9,12q1,-10 -9,-12M724,232q-3,7 3,11q3,-7 -3,-11M618,192q-4,6 1,11q4,-6 -1,-11M655,161q-10,7 -4,17q10,-7 4,-17M651,160q-4,10 5,16q4,-10 -5,-16M729,212q-6,10 2,17q6,-10 -2,-17M730,170q-8,3 -7,12q8,-3 7,-12M721,174q-9,2 -10,11q9,-2 10,-11M611,173q-8,5 -6,14q8,-5 6,-14M736,123q-7,2 -6,9q7,-2 6,-9M732,119q-6,6 -0,13q6,-6 0,-13M726,208q-7,1 -9,8q7,-1 9,-8M719,210q-7,-2 -10,6q7,2 10,-6"/>
<path fill="#a4a290" d="M894,169q-9,1 -10,10q9,-1 10,-10M887,174q-9,5 -4,15q9,-5 4,-15M935,171q-2,7 5,9q2,-7 -5,-9M858,143q-11,-0 -14,11q11,0 14,-11M832,235q1,11 11,12q-1,-11 -11,-12M933,156q-7,0 -8,7q7,-0 8,-7M921,160q-10,4 -8,14q10,-4 8,-14M920,208q-2,10 7,13q2,-10 -7,-13M893,186q-2,8 6,11q2,-8 -6,-11M881,177q-8,5 -3,14q8,-5 3,-14M888,173q-8,1 -8,9q8,-1 8,-9M962,141q-7,8 -1,16q7,-8 1,-16M841,190q-9,8 -2,17q9,-8 2,-17M862,177q-11,3 -11,14q11,-3 11,-14M860,138q4,7 11,4q-4,-7 -11,-4M826,173q-5,5 -1,10q5,-5 1,-10M815,179q-2,7 4,11q2,-7 -4,-11M814,193q-6,9 2,17q6,-9 -2,-17M823,225q-5,7 1,14q5,-7 -1,-14M833,153q-10,0 -11,10q10,-0 11,-10M842,148q-7,8 0,16q7,-8 -0,-16M906,180q-2,8 5,13q2,-8 -5,-13M890,228q-2,7 4,11q2,-7 -4,-11M818,122q-4,9 4,15q4,-9 -4,-15M916,126q-9,1 -10,11q9,-1 10,-11M853,139q-4,10 5,16q4,-10 -5,-16M857,143q-5,7 2,13q5,-7 -2,-13M861,141q-4,5 0,11q4,-5 -0,-11M868,168q-9,4 -6,13q9,-4 6,-13M895,200q-2,8 6,11q2,-8 -6,-11M937,123q-8,2 -8,10q8,-2 8,-10M932,160q-6,6 -0,13q6,-6 0,-13M991,120q-11,2 -12,13q11,-2 12,-13M883,123q-1,7 5,9q1,-7 -5,-9M941,165q-5,4 -2,10q5,-4 2,-10M815,145q-3,8 5,12q3,-8 -5,-12M881,166q-8,6 -3,15q8,-6 3,-15M887,240q-1,7 6,9q1,-7 -6,-9M859,182q-7,9 -0,18q7,-9 0,-18M846,185q-7,4 -4,11q7,-4 4,-11M925,180q0,10 10,10q-0,-10 -10,-10M839,141q-5,6 -1,13q5,-6 1,-13M841,137q-5,5 -1,11q5,-5 1,-11M864,166q-9,3 -8,13q9,-3 8,-13M890,200q3,8 12,7q-3,-8 -12,-7"/>
<path fill="#b0a084" d="M598,175q-9,7 -3,17q9,-7 3,-17M589,173q-0,11 11,13q0,-11 -11,-13M602,132q-10,5 -6,16q10,-5 6,-16M608,128q-4,5 1,10q4,-5 -1,-10M636,217q-3,8 5,12q3,-8 -5,-12M645,210q-7,7 -2,16q7,-7 2,-16M637,127q-7,5 -2,12q7,-5 2,-12M646,183q-0,11 10,14q0,-11 -10,-14M662,181q-3,8 3,13q3,-8 -3,-13M649,225q-0,7 7,8q0,-7 -7,-8M669,124q-3,10 6,15q3,-10 -6,-15M711,163q2,7 9,7q-2,-7 -9,-7M741,158q-6,10 3,17q6,-10 -3,-17M740,166q-4,10 5,16q4,-10 -5,-16M735,162q-8,5 -6,14q8,-5 6,-14M734,162q-6,9 1,17q6,-9 -1,-17M653,157q-9,3 -9,13q9,-3 9,-13M624,213q-7,4 -4,11q7,-4 4,-11"/>
<path fill="#b4a486" d="M897,213q-4,9 4,14q4,-9 -4,-14M887,223q-6,5 -2,11q6,-5 2,-11M818,207q-6,7 2,14q6,-7 -2,-14M912,190q-1,10 9,11q1,-10 -9,-11M877,215q-1,9 7,12q1,-9 -7,-12M867,221q2,11 13,11q-2,-11 -13,-11M903,205q2,10 13,10q-2,-10 -13,-10M897,207q-5,8 1,15q5,-8 -1,-15M884,205q-4,8 4,13q4,-8 -4,-13M886,209q-7,2 -6,9q7,-2 6,-9M884,250q-2,6 4,9q2,-6 -4,-9"/>
<path fill="#c0ae90" d="M675,205q-6,6 -1,12q6,-6 1,-12M725,208q-9,4 -8,13q9,-4 8,-13M711,211q-3,12 9,15q3,-12 -9,-15M669,155q1,9 9,10q-1,-9 -9,-10M583,169q-1,6 4,10q1,-6 -4,-10M673,162q-4,6 1,11q4,-6 -1,-11M705,196q-7,4 -4,11q7,-4 4,-11M692,156q-0,10 9,12q0,-10 -9,-12M671,171q-7,4 -4,11q7,-4 4,-11M710,145q-4,8 4,14q4,-8 -4,-14M719,145q-7,7 -1,15q7,-7 1,-15M685,170q-6,5 -2,12q6,-5 2,-12M688,154q-2,10 8,14q2,-10 -8,-14M601,180q-3,9 6,12q3,-9 -6,-12M645,154q-6,6 -2,14q6,-6 2,-14M625,171q1,7 8,8q-1,-7 -8,-8M731,150q-3,11 7,15q3,-11 -7,-15M670,143q-9,5 -5,14q9,-5 5,-14M613,160q3,8 12,7q-3,-8 -12,-7M656,181q-4,7 3,11q4,-7 -3,-11M664,172q-3,8 4,13q3,-8 -4,-13M635,186q2,9 11,8q-2,-9 -11,-8M635,194q-8,5 -4,14q8,-5 4,-14M672,181q-6,4 -3,10q6,-4 3,-10M707,240q2,9 11,10q-2,-9 -11,-10M734,204q-10,-0 -11,10q10,0 11,-10M603,194q-3,11 8,15q3,-11 -8,-15M609,193q-1,8 7,9q1,-8 -7,-9M629,148q-4,9 4,13q4,-9 -4,-13M610,166q-5,5 -2,12q5,-5 2,-12M603,163q-9,5 -5,15q9,-5 5,-15M623,168q-11,1 -12,12q11,-1 12,-12M596,177q4,11 15,9q-4,-11 -15,-9M704,143q-4,9 4,15q4,-9 -4,-15M700,145q0,9 10,10q-0,-9 -10,-10M716,150q1,11 12,13q-1,-11 -12,-13M727,213q-2,8 6,11q2,-8 -6,-11M735,211q-2,7 4,10q2,-7 -4,-10M738,194q-3,10 6,15q3,-10 -6,-15M744,200q-9,3 -7,12q9,-3 7,-12M756,202q-7,8 -2,17q7,-8 2,-17M614,185q-8,7 -1,16q8,-7 1,-16M607,180q-7,4 -4,11q7,-4 4,-11M650,139q-1,10 9,13q1,-10 -9,-13M684,187q-7,1 -7,8q7,-1 7,-8M679,180q-3,10 6,14q3,-10 -6,-14"/>
<path fill="#c8bca4" d="M679,163q2,9 11,9q-2,-9 -11,-9M684,163q2,7 9,7q-2,-7 -9,-7M653,170q-5,11 5,17q5,-11 -5,-17M638,170q-7,8 0,15q7,-8 -0,-15M645,170q-4,7 2,13q4,-7 -2,-13M741,197q-8,7 -3,17q8,-7 3,-17M692,179q-2,8 5,12q2,-8 -5,-12M697,178q-10,4 -9,14q10,-4 9,-14M719,211q-4,5 -0,11q4,-5 0,-11"/>
<path fill="#c8c4b4" d="M837,154q-5,6 -0,12q5,-6 0,-12M838,146q-7,9 2,16q7,-9 -2,-16M895,158q-7,5 -3,13q7,-5 3,-13M893,156q-7,6 -4,14q7,-6 4,-14M886,152q-3,11 8,15q3,-11 -8,-15M941,151q4,11 15,7q-4,-11 -15,-7M938,164q2,7 10,6q-2,-7 -10,-6M893,175q-7,2 -6,9q7,-2 6,-9M899,224q-9,7 -4,17q9,-7 4,-17M992,150q-4,6 1,10q4,-6 -1,-10M954,193q-11,-1 -15,9q11,1 15,-9M862,200q-5,5 -2,11q5,-5 2,-11M905,216q-7,2 -7,9q7,-2 7,-9M893,214q-5,6 -0,12q5,-6 0,-12M891,223q2,11 13,10q-2,-11 -13,-10M895,216q-5,6 -1,12q5,-6 1,-12"/>
<path fill="#d6ccb6" d="M649,162q-2,8 5,11q2,-8 -5,-11M672,174q-4,10 5,16q4,-10 -5,-16M686,177q-12,-1 -14,10q12,1 14,-10M700,176q-8,-0 -10,8q8,0 10,-8M691,155q-5,4 -3,10q5,-4 3,-10M682,164q2,8 10,8q-2,-8 -10,-8M687,169q-10,3 -9,13q10,-3 9,-13M676,174q-7,3 -4,10q7,-3 4,-10M591,154q-3,11 6,17q3,-11 -6,-17"/>
<path fill="#d8d4c6" d="M941,174q3,10 13,7q-3,-10 -13,-7M944,176q-3,9 6,14q3,-9 -6,-14M892,124q-7,5 -4,13q7,-5 4,-13M823,148q4,10 14,6q-4,-10 -14,-6M892,151q-7,-0 -8,7q7,0 8,-7M973,141q-7,4 -4,11q7,-4 4,-11M930,161q-6,9 2,18q6,-9 -2,-18M872,178q-3,7 2,11q3,-7 -2,-11M986,148q-4,8 2,13q4,-8 -2,-13M983,152q-3,8 5,12q3,-8 -5,-12M954,184q-8,0 -10,9q8,-0 10,-9M897,230q-10,7 -3,18q10,-7 3,-18M867,188q-7,3 -5,11q7,-3 5,-11M862,202q-7,2 -6,9q7,-2 6,-9M890,217q-2,7 4,11q2,-7 -4,-11M885,214q-4,10 6,15q4,-10 -6,-15"/>
<path fill="#e6dece" d="M642,165q-3,7 4,11q3,-7 -4,-11M739,181q-5,5 -1,10q5,-5 1,-10M679,166q-6,7 0,13q6,-7 -0,-13M713,198q-10,2 -10,12q10,-2 10,-12M718,204q-12,-3 -15,9q12,3 15,-9M709,198q-10,6 -6,16q10,-6 6,-16"/>
<path fill="#e8e4d8" d="M819,145q-2,8 6,10q2,-8 -6,-10M879,143q-4,8 4,13q4,-8 -4,-13M955,144q-1,6 4,9q1,-6 -4,-9M921,154q5,9 14,6q-5,-9 -14,-6M990,147q-11,-3 -16,7q11,3 16,-7M991,140q-8,6 -3,14q8,-6 3,-14M862,190q-6,-1 -9,6q6,1 9,-6M892,202q-6,8 1,14q6,-8 -1,-14M884,214q-3,7 3,11q3,-7 -3,-11"/>
<path fill="#46443a" d="M745,142q-2,8 5,11q2,-8 -5,-11M676,134q-6,5 -1,11q6,-5 1,-11M661,146q-1,10 8,12q1,-10 -8,-12M670,145q-4,7 2,13q4,-7 -2,-13M691,142q-6,-0 -8,6q6,0 8,-6M635,148q-4,8 4,13q4,-8 -4,-13M630,143q1,7 8,7q-1,-7 -8,-7M597,144q-5,4 -1,10q5,-4 1,-10M616,138q-12,1 -12,12q12,-1 12,-12M631,133q-9,5 -6,15q9,-5 6,-15M637,130q-10,3 -8,13q10,-3 8,-13"/>
<path fill="#45463a" d="M862,205q-12,1 -12,13q12,-1 12,-13M864,202q-9,4 -5,13q9,-4 5,-13M860,202q-7,8 -1,17q7,-8 1,-17M950,199q-5,9 3,17q5,-9 -3,-17M899,192q-8,7 -3,17q8,-7 3,-17M895,192q-2,7 4,11q2,-7 -4,-11M891,190q-5,7 2,13q5,-7 -2,-13M900,189q-4,5 -1,11q4,-5 1,-11M880,215q-10,4 -8,15q10,-4 8,-15M878,199q-6,4 -4,11q6,-4 4,-11M852,187q-10,5 -6,15q10,-5 6,-15M878,134q-9,6 -6,17q9,-6 6,-17M857,145q0,8 8,10q-0,-8 -8,-10M880,192q1,8 9,9q-1,-8 -9,-9M954,136q-7,7 -3,16q7,-7 3,-16M827,140q-11,1 -10,12q11,-1 10,-12M936,199q-8,6 -5,16q8,-6 5,-16M968,138q-5,7 1,13q5,-7 -1,-13M964,137q-2,11 9,13q2,-11 -9,-13M961,138q2,9 11,10q-2,-9 -11,-10M905,131q-6,5 -2,13q6,-5 2,-13M849,241q-8,-1 -10,7q8,1 10,-7M843,240q-8,-2 -10,6q8,2 10,-6M964,131q-4,10 4,17q4,-10 -4,-17M970,128q-4,7 2,13q4,-7 -2,-13M843,163q-7,0 -7,7q7,-0 7,-7M842,149q-7,4 -3,11q7,-4 3,-11M839,147q-8,7 -3,17q8,-7 3,-17M840,148q3,7 10,6q-3,-7 -10,-6M817,163q-3,6 3,10q3,-6 -3,-10M841,161q-7,3 -4,10q7,-3 4,-10M917,175q2,6 9,6q-2,-6 -9,-6M913,174q-1,12 11,14q1,-12 -11,-14M918,168q-6,8 1,16q6,-8 -1,-16M999,121q-3,7 2,12q3,-7 -2,-12M980,139q-8,4 -5,13q8,-4 5,-13M987,134q-2,10 8,14q2,-10 -8,-14M919,152q0,9 9,10q-0,-9 -9,-10M922,156q-3,9 5,13q3,-9 -5,-13M974,155q-4,6 0,11q4,-6 -0,-11M972,155q-7,6 -2,15q7,-6 2,-15M973,156q-3,7 3,12q3,-7 -3,-12M886,151q-6,4 -3,10q6,-4 3,-10M893,163q-1,8 7,10q1,-8 -7,-10M924,176q2,10 12,12q-2,-10 -12,-12M930,174q3,10 14,10q-3,-10 -14,-10M936,171q1,7 8,7q-1,-7 -8,-7M841,149q-9,5 -6,15q9,-5 6,-15M990,143q-3,7 3,12q3,-7 -3,-12M877,193q-1,10 9,12q1,-10 -9,-12M836,125q-8,5 -4,14q8,-5 4,-14M832,126q-3,11 7,16q3,-11 -7,-16M864,162q-9,6 -4,15q9,-6 4,-15M865,163q-8,5 -4,14q8,-5 4,-14M884,139q-2,9 7,13q2,-9 -7,-13M900,130q-6,8 1,15q6,-8 -1,-15M972,151q-9,-1 -13,7q9,1 13,-7M963,151q-5,7 1,13q5,-7 -1,-13M889,246q-6,1 -7,7q6,-1 7,-7M887,244q-2,10 8,14q2,-10 -8,-14M848,157q-6,5 -3,12q6,-5 3,-12M858,144q-7,8 0,16q7,-8 -0,-16M853,144q-4,10 5,15q4,-10 -5,-15M871,147q-8,5 -4,13q8,-5 4,-13M916,153q-11,1 -11,12q11,-1 11,-12M912,151q-4,6 1,11q4,-6 -1,-11M908,146q-0,8 7,11q0,-8 -7,-11M953,160q2,7 10,6q-2,-7 -10,-6M917,129q-4,8 2,13q4,-8 -2,-13M912,127q-7,7 -2,15q7,-7 2,-15M911,127q-1,11 10,13q1,-11 -10,-13M1004,143q-6,7 1,13q6,-7 -1,-13M998,149q-8,3 -5,12q8,-3 5,-12M907,195q-7,5 -2,13q7,-5 2,-13M898,188q-8,9 1,18q8,-9 -1,-18M910,190q-10,5 -8,16q10,-5 8,-16M894,199q-8,7 -1,15q8,-7 1,-15M935,209q-6,9 2,17q6,-9 -2,-17M930,210q-1,12 10,15q1,-12 -10,-15M991,138q-6,5 -2,12q6,-5 2,-12M994,149q-7,1 -7,8q7,-1 7,-8M949,125q-6,11 5,17q6,-11 -5,-17M923,190q-7,3 -6,11q7,-3 6,-11M927,204q-7,0 -8,7q7,-0 8,-7M825,200q2,7 8,6q-2,-7 -8,-6M838,195q-6,5 -1,12q6,-5 1,-12M953,182q-2,9 7,12q2,-9 -7,-12M893,147q-7,8 -0,16q7,-8 0,-16M844,166q-8,3 -6,11q8,-3 6,-11M845,167q-9,3 -8,13q9,-3 8,-13M847,170q-11,1 -11,12q11,-1 11,-12"/>
<path fill="#505144" d="M937,180q-7,1 -7,9q7,-1 7,-9M901,175q-5,6 -1,13q5,-6 1,-13M886,178q-4,10 6,16q4,-10 -6,-16M896,192q-6,5 -3,13q6,-5 3,-13M948,177q-7,4 -4,12q7,-4 4,-12M870,156q-4,10 5,15q4,-10 -5,-15M845,147q1,7 9,8q-1,-7 -9,-8M835,178q-1,9 8,12q1,-9 -8,-12M928,167q-6,9 1,17q6,-9 -1,-17M898,199q-4,7 2,12q4,-7 -2,-12M909,195q-2,10 7,13q2,-10 -7,-13M897,199q-2,9 6,13q2,-9 -6,-13M894,199q2,11 13,12q-2,-11 -13,-12M888,173q-4,6 0,11q4,-6 -0,-11M902,175q-10,5 -6,16q10,-5 6,-16M870,188q-6,9 2,16q6,-9 -2,-16M878,136q-7,8 -2,16q7,-8 2,-16M887,129q-9,6 -5,17q9,-6 5,-17M827,188q-4,6 1,10q4,-6 -1,-10M957,148q-10,2 -11,13q10,-2 11,-13M836,201q-8,4 -6,13q8,-4 6,-13M828,166q-3,6 3,10q3,-6 -3,-10M839,168q-11,-2 -15,8q11,2 15,-8M960,145q-4,8 3,14q4,-8 -3,-14M963,144q-3,9 5,15q3,-9 -5,-15M944,195q-8,-1 -10,6q8,1 10,-6M938,197q-7,1 -8,8q7,-1 8,-8M932,196q-4,8 3,15q4,-8 -3,-15M910,188q-4,9 5,14q4,-9 -5,-14M918,191q4,6 11,3q-4,-6 -11,-3M909,224q-3,8 5,12q3,-8 -5,-12M902,232q-2,11 8,16q2,-11 -8,-16M835,132q-10,4 -8,14q10,-4 8,-14M911,146q-3,7 4,10q3,-7 -4,-10M868,145q-4,6 2,11q4,-6 -2,-11M886,168q-9,6 -5,16q9,-6 5,-16M881,174q-10,3 -8,13q10,-3 8,-13M880,172q-3,8 4,12q3,-8 -4,-12M893,141q-7,4 -5,12q7,-4 5,-12M893,136q-5,5 -1,10q5,-5 1,-10M886,207q-7,6 -4,14q7,-6 4,-14M915,213q-6,1 -7,8q6,-1 7,-8M918,205q-11,1 -12,12q11,-1 12,-12M915,201q-5,10 4,16q5,-10 -4,-16M932,179q-6,5 -2,12q6,-5 2,-12M944,162q-6,10 3,17q6,-10 -3,-17M947,168q-5,8 2,14q5,-8 -2,-14M1001,136q-8,3 -7,12q8,-3 7,-12M1011,130q-3,8 5,11q3,-8 -5,-11M869,144q-4,5 -0,11q4,-5 0,-11M837,152q-7,10 2,18q7,-10 -2,-18M834,152q2,7 9,5q-2,-7 -9,-5M875,180q-3,11 8,16q3,-11 -8,-16M870,178q-7,8 -2,18q7,-8 2,-18M959,141q-0,8 7,9q0,-8 -7,-9M953,146q-4,8 4,13q4,-8 -4,-13M895,232q-5,4 -2,10q5,-4 2,-10M900,235q-4,10 5,16q4,-10 -5,-16M851,181q2,10 13,9q-2,-10 -13,-9M858,185q-8,6 -3,15q8,-6 3,-15M845,209q-8,3 -7,12q8,-3 7,-12M846,214q-7,1 -8,8q7,-1 8,-8M929,189q-4,10 5,16q4,-10 -5,-16M854,146q-8,9 -1,18q8,-9 1,-18M897,198q1,8 8,9q-1,-8 -8,-9"/>
<path fill="#5c5040" d="M830,202q2,11 13,12q-2,-11 -13,-12M950,157q-7,6 -3,14q7,-6 3,-14M973,139q-1,10 9,14q1,-10 -9,-14M954,176q-5,9 3,16q5,-9 -3,-16M956,124q-3,10 6,15q3,-10 -6,-15M959,123q-8,8 -2,18q8,-8 2,-18M960,124q-6,10 3,17q6,-10 -3,-17M948,132q2,11 13,11q-2,-11 -13,-11M950,191q-1,11 10,14q1,-11 -10,-14M840,174q-7,2 -7,9q7,-2 7,-9M836,168q-7,8 -1,17q7,-8 1,-17M836,185q-11,0 -13,11q11,-0 13,-11M909,198q4,10 14,8q-4,-10 -14,-8M902,201q1,8 9,8q-1,-8 -9,-8M913,165q-4,7 2,11q4,-7 -2,-11M909,159q1,10 10,10q-1,-10 -10,-10M966,148q3,10 13,7q-3,-10 -13,-7M976,148q-4,8 3,13q4,-8 -3,-13M863,215q-7,8 -1,16q7,-8 1,-16M886,225q-2,10 7,13q2,-10 -7,-13M877,236q-5,9 3,14q5,-9 -3,-14M888,225q-5,5 -1,12q5,-5 1,-12M869,127q-4,9 4,14q4,-9 -4,-14"/>
<path fill="#5e5040" d="M746,189q-3,5 1,10q3,-5 -1,-10M603,164q-2,11 8,16q2,-11 -8,-16M600,191q-4,6 2,11q4,-6 -2,-11M616,181q-1,7 6,10q1,-7 -6,-10M602,192q-7,2 -7,10q7,-2 7,-10M681,173q-5,4 -1,10q5,-4 1,-10M667,186q-7,1 -6,8q7,-1 6,-8M620,134q-4,9 3,15q4,-9 -3,-15M619,140q-5,6 -0,12q5,-6 0,-12M652,226q2,7 10,6q-2,-7 -10,-6M645,222q0,10 10,12q-0,-10 -10,-12M643,140q-4,9 4,14q4,-9 -4,-14M662,226q-1,12 10,15q1,-12 -10,-15M666,225q-8,7 -4,16q8,-7 4,-16M662,226q-7,8 -1,16q7,-8 1,-16M735,205q-10,1 -12,11q10,-1 12,-11M695,128q-3,8 4,14q3,-8 -4,-14M611,128q3,7 10,5q-3,-7 -10,-5M646,139q-2,10 7,14q2,-10 -7,-14M643,133q-2,7 4,11q2,-7 -4,-11M625,161q-10,-0 -11,9q10,0 11,-9M635,148q-6,1 -7,7q6,-1 7,-7M746,168q-8,3 -7,12q8,-3 7,-12M747,177q-5,5 -1,11q5,-5 1,-11M745,179q-2,7 4,11q2,-7 -4,-11M650,161q-5,5 -1,10q5,-5 1,-10M637,160q0,11 11,12q-0,-11 -11,-12M623,149q2,9 11,10q-2,-9 -11,-10"/>
<path fill="#56544a" d="M616,199q-10,3 -9,14q10,-3 9,-14M610,192q-5,5 -2,11q5,-5 2,-11M739,174q-2,9 7,13q2,-9 -7,-13M753,164q-5,6 1,12q5,-6 -1,-12M731,243q-1,8 7,11q1,-8 -7,-11M679,163q-11,3 -10,15q11,-3 10,-15M702,238q-7,5 -3,13q7,-5 3,-13M687,180q-7,3 -4,10q7,-3 4,-10M688,179q-11,-0 -12,10q11,0 12,-10M747,209q-4,7 1,13q4,-7 -1,-13M744,232q-2,9 6,13q2,-9 -6,-13M741,180q-4,6 1,12q4,-6 -1,-12M734,181q-5,5 -1,11q5,-5 1,-11M627,189q-8,1 -8,9q8,-1 8,-9M627,194q-8,3 -7,11q8,-3 7,-11M739,137q-8,7 -1,15q8,-7 1,-15M749,133q-7,5 -3,12q7,-5 3,-12M736,132q-1,7 6,9q1,-7 -6,-9M738,135q-7,3 -4,10q7,-3 4,-10M735,214q-10,-3 -14,6q10,3 14,-6M727,215q-10,4 -6,14q10,-4 6,-14"/>
<path fill="#625442" d="M902,208q-6,2 -5,9q6,-2 5,-9M908,217q-1,8 6,10q1,-8 -6,-10M882,219q-4,8 3,14q4,-8 -3,-14M875,215q3,8 12,7q-3,-8 -12,-7M888,212q-5,5 -2,11q5,-5 2,-11M843,206q-2,7 4,10q2,-7 -4,-10M838,205q-8,6 -5,16q8,-6 5,-16M832,213q-1,10 8,13q1,-10 -8,-13M812,208q-0,7 6,9q0,-7 -6,-9M938,205q-11,3 -9,14q11,-3 9,-14M931,197q-3,10 7,14q3,-10 -7,-14M933,200q-3,6 2,10q3,-6 -2,-10M854,235q-0,8 7,10q0,-8 -7,-10M861,220q-8,5 -4,14q8,-5 4,-14M890,226q-7,7 -2,16q7,-7 2,-16M900,211q-6,10 4,17q6,-10 -4,-17M904,211q-5,6 -0,12q5,-6 0,-12M889,218q-6,4 -3,11q6,-4 3,-11"/>
<path fill="#64543e" d="M687,209q-6,8 0,15q6,-8 -0,-15M686,219q-8,7 -3,17q8,-7 3,-17M613,210q-7,7 -2,15q7,-7 2,-15M602,213q2,11 13,12q-2,-11 -13,-12M669,164q-5,5 -1,10q5,-5 1,-10M667,163q-8,-0 -11,8q8,0 11,-8M678,156q-7,7 -2,15q7,-7 2,-15M669,164q-6,5 -1,12q6,-5 1,-12M669,159q-10,7 -4,18q10,-7 4,-18M718,221q-2,7 4,11q2,-7 -4,-11M736,218q-10,3 -9,14q10,-3 9,-14M678,161q-3,11 7,16q3,-11 -7,-16M682,176q-1,8 6,10q1,-8 -6,-10M682,171q-0,7 7,8q0,-7 -7,-8M706,209q-10,1 -10,11q10,-1 10,-11M704,205q-8,4 -4,12q8,-4 4,-12M760,207q-9,5 -6,15q9,-5 6,-15M753,205q-3,6 3,10q3,-6 -3,-10M726,184q-2,7 5,9q2,-7 -5,-9M733,185q-9,7 -2,16q9,-7 2,-16M704,164q-3,10 6,14q3,-10 -6,-14M693,171q-8,5 -6,14q8,-5 6,-14M685,179q-7,-1 -8,5q7,1 8,-5M731,195q-7,6 -3,14q7,-6 3,-14M735,192q-2,7 4,11q2,-7 -4,-11M701,167q-10,4 -6,14q10,-4 6,-14M704,171q-0,8 8,10q0,-8 -8,-10M689,173q-2,10 7,15q2,-10 -7,-15M695,174q-5,5 0,11q5,-5 -0,-11M721,178q-7,2 -7,9q7,-2 7,-9M709,180q-4,9 5,14q4,-9 -5,-14M652,168q-1,11 9,15q1,-11 -9,-15M652,170q-1,11 10,13q1,-11 -10,-13M678,145q-10,1 -9,11q10,-1 9,-11M673,157q-11,2 -11,14q11,-2 11,-14M623,163q1,8 9,8q-1,-8 -9,-8M684,186q-7,8 -0,17q7,-8 0,-17M651,200q-4,6 0,12q4,-6 -0,-12M654,188q-7,5 -3,13q7,-5 3,-13M676,183q-10,2 -8,12q10,-2 8,-12M679,181q-3,6 2,11q3,-6 -2,-11M727,242q3,8 11,6q-3,-8 -11,-6M704,161q1,10 10,11q-1,-10 -10,-11M735,222q-7,-1 -9,6q7,1 9,-6M741,216q-5,8 2,13q5,-8 -2,-13M619,210q-5,8 0,15q5,-8 -0,-15M611,167q-3,7 3,11q3,-7 -3,-11M610,176q-2,7 3,11q2,-7 -3,-11M738,169q-4,7 3,11q4,-7 -3,-11M610,180q-4,7 2,12q4,-7 -2,-12M725,167q-3,11 7,16q3,-11 -7,-16M600,193q-3,7 4,11q3,-7 -4,-11M748,208q-6,4 -4,11q6,-4 4,-11M744,213q-7,6 -1,13q7,-6 1,-13M745,224q-6,8 0,15q6,-8 -0,-15M745,227q3,10 14,8q-3,-10 -14,-8M749,198q-3,11 8,14q3,-11 -8,-14M721,205q-11,2 -9,13q11,-2 9,-13M734,198q-7,3 -5,11q7,-3 5,-11M639,172q-5,7 1,14q5,-7 -1,-14M631,173q2,8 10,6q-2,-8 -10,-6M619,178q-6,6 -1,12q6,-6 1,-12M618,175q-4,8 3,14q4,-8 -3,-14M613,187q1,7 9,7q-1,-7 -9,-7M652,148q-3,11 8,16q3,-11 -8,-16M661,146q-7,4 -4,12q7,-4 4,-12M655,150q-4,10 5,16q4,-10 -5,-16M699,187q-7,4 -5,12q7,-4 5,-12M691,180q-6,6 -2,14q6,-6 2,-14M703,187q-6,8 1,15q6,-8 -1,-15"/>
<path fill="#5a5848" d="M741,138q-1,8 7,9q1,-8 -7,-9M639,129q-3,7 3,11q3,-7 -3,-11M637,135q-6,6 -1,12q6,-6 1,-12M652,140q-2,11 8,15q2,-11 -8,-15M648,143q0,8 8,9q-0,-8 -8,-9M656,138q-5,7 2,12q5,-7 -2,-12M654,137q-4,11 7,16q4,-11 -7,-16M620,139q-2,9 7,12q2,-9 -7,-12M633,132q-7,9 2,16q7,-9 -2,-16M591,145q-6,6 -1,12q6,-6 1,-12M611,128q-9,5 -7,15q9,-5 7,-15M599,137q-7,0 -8,7q7,-0 8,-7M621,129q-11,1 -12,12q11,-1 12,-12M607,134q-6,8 1,15q6,-8 -1,-15M628,134q-8,-3 -13,4q8,3 13,-4M629,123q-4,9 4,15q4,-9 -4,-15M634,124q-1,11 10,13q1,-11 -10,-13M625,130q-2,6 3,10q2,-6 -3,-10M679,145q-4,11 5,17q4,-11 -5,-17M690,135q-9,7 -4,16q9,-7 4,-16M679,147q-7,1 -8,8q7,-1 8,-8M726,142q-6,7 -1,14q6,-7 1,-14M731,140q-2,6 3,10q2,-6 -3,-10"/>
<path fill="#5e5e4e" d="M861,197q-8,7 -3,16q8,-7 3,-16M856,140q-9,2 -8,11q9,-2 8,-11M957,148q-2,9 7,12q2,-9 -7,-12M957,151q-0,6 6,8q0,-6 -6,-8M959,152q-3,6 3,10q3,-6 -3,-10M945,200q-10,6 -5,17q10,-6 5,-17M954,196q-8,5 -6,14q8,-5 6,-14M859,190q-6,10 3,18q6,-10 -3,-18M857,195q-2,11 9,13q2,-11 -9,-13M872,199q-2,6 3,10q2,-6 -3,-10M874,180q-9,7 -3,17q9,-7 3,-17M848,176q-11,0 -12,11q11,-0 12,-11M875,131q-7,1 -6,9q7,-1 6,-9M850,139q-4,10 5,17q4,-10 -5,-17M857,140q2,8 10,6q-2,-8 -10,-6M922,188q-9,5 -6,15q9,-5 6,-15M969,127q-1,8 6,10q1,-8 -6,-10M887,129q3,7 11,6q-3,-7 -11,-6M895,130q-11,4 -8,15q11,-4 8,-15M911,143q-6,7 -0,14q6,-7 0,-14M914,138q-3,6 2,10q3,-6 -2,-10M919,212q1,11 11,13q-1,-11 -11,-13M829,155q-3,7 4,11q3,-7 -4,-11M821,134q3,7 11,5q-3,-7 -11,-5M833,146q-7,5 -4,13q7,-5 4,-13M839,129q-7,9 -0,17q7,-9 0,-17M905,165q-4,10 5,15q4,-10 -5,-15M980,130q-4,9 5,15q4,-9 -5,-15M931,145q-8,4 -5,13q8,-4 5,-13M916,151q-9,7 -3,16q9,-7 3,-16M974,155q-10,3 -10,14q10,-3 10,-14M890,153q-8,9 -0,17q8,-9 0,-17M882,160q3,9 12,8q-3,-9 -12,-8M922,174q-7,10 2,18q7,-10 -2,-18M854,149q-8,-3 -12,5q8,3 12,-5M981,136q-10,3 -9,13q10,-3 9,-13M975,147q-5,6 -0,12q5,-6 0,-12M864,185q4,11 15,8q-4,-11 -15,-8M838,126q-6,6 -0,13q6,-6 0,-13M861,158q-1,8 8,9q1,-8 -8,-9M864,152q-0,10 10,14q0,-10 -10,-14M965,133q-6,9 2,15q6,-9 -2,-15M886,236q-4,6 2,11q4,-6 -2,-11M888,237q-7,3 -5,11q7,-3 5,-11M848,146q-11,2 -10,13q11,-2 10,-13M835,148q-7,9 0,17q7,-9 -0,-17M853,143q-10,3 -9,14q10,-3 9,-14M872,147q-10,3 -9,13q10,-3 9,-13M928,150q-2,7 5,9q2,-7 -5,-9M926,151q-2,9 7,12q2,-9 -7,-12M910,147q-9,4 -6,13q9,-4 6,-13M910,145q-9,7 -3,17q9,-7 3,-17M905,147q-5,8 2,15q5,-8 -2,-15M884,233q-4,10 6,15q4,-10 -6,-15M831,149q-10,5 -6,15q10,-5 6,-15M903,131q-6,9 2,17q6,-9 -2,-17M901,125q0,9 9,12q-0,-9 -9,-12M897,129q2,11 13,11q-2,-11 -13,-11M1006,134q-4,7 1,12q4,-7 -1,-12M998,142q-6,-0 -8,6q6,0 8,-6M881,188q3,8 12,7q-3,-8 -12,-7M957,165q-3,9 6,12q3,-9 -6,-12M966,157q-0,7 6,9q0,-7 -6,-9M924,208q-9,3 -8,12q9,-3 8,-12M986,141q-11,1 -13,11q11,-1 13,-11M990,131q-10,6 -4,16q10,-6 4,-16M981,136q-5,10 3,16q5,-10 -3,-16M983,144q-9,3 -7,12q9,-3 7,-12M865,135q-5,8 2,14q5,-8 -2,-14M913,179q-7,4 -4,11q7,-4 4,-11M996,141q-1,7 5,9q1,-7 -5,-9M894,144q-8,6 -2,15q8,-6 2,-15M913,175q-7,-2 -10,4q7,2 10,-4M929,195q-7,-2 -9,5q7,2 9,-5M929,191q-8,-1 -10,7q8,1 10,-7M830,180q-4,8 3,13q4,-8 -3,-13M825,181q1,11 12,13q-1,-11 -12,-13M938,176q-5,11 6,17q5,-11 -6,-17M940,171q1,6 8,7q-1,-6 -8,-7M934,175q-6,9 2,16q6,-9 -2,-16M939,179q-8,8 -2,16q8,-8 2,-16M838,166q-2,7 4,10q2,-7 -4,-10M830,172q-7,8 -0,17q7,-8 0,-17"/>
<path fill="#6e6e5c" d="M887,181q-9,1 -11,10q9,-1 11,-10M892,178q-1,11 10,14q1,-11 -10,-14M823,159q-7,3 -5,10q7,-3 5,-10M823,152q-3,10 6,14q3,-10 -6,-14M831,156q-5,4 -3,11q5,-4 3,-11M872,142q-6,5 -2,12q6,-5 2,-12M877,164q-10,-1 -13,9q10,1 13,-9M867,147q-7,8 -2,17q7,-8 2,-17M844,236q-10,5 -8,15q10,-5 8,-15M842,164q-6,3 -5,9q6,-3 5,-9M829,168q-7,7 -1,15q7,-7 1,-15M828,168q-5,6 -0,12q5,-6 0,-12M919,163q-6,7 1,13q6,-7 -1,-13M923,164q-9,-0 -11,8q9,0 11,-8M922,169q-6,-0 -8,5q6,0 8,-5M917,214q1,8 9,9q-1,-8 -9,-9M902,189q-8,6 -4,14q8,-6 4,-14M887,199q-1,9 8,11q1,-9 -8,-11M896,195q-8,5 -5,14q8,-5 5,-14M901,192q-5,10 3,17q5,-10 -3,-17M903,174q-7,1 -7,8q7,-1 7,-8M968,150q-10,-1 -14,8q10,1 14,-8M855,180q-4,8 3,12q4,-8 -3,-12M819,179q-2,8 6,11q2,-8 -6,-11M816,184q-4,6 1,11q4,-6 -1,-11M945,140q-10,4 -7,15q10,-4 7,-15M949,133q-3,11 8,15q3,-11 -8,-15M944,129q-5,10 5,16q5,-10 -5,-16M829,183q-2,10 7,14q2,-10 -7,-14M824,208q1,11 12,13q-1,-11 -12,-13M830,230q-9,4 -5,13q9,-4 5,-13M955,135q-7,8 -1,17q7,-8 1,-17M935,188q-9,1 -8,10q9,-1 8,-10M925,193q-12,1 -13,12q12,-1 13,-12M902,230q-6,5 -2,11q6,-5 2,-11M896,224q-3,8 4,13q3,-8 -4,-13M901,223q-7,8 -1,18q7,-8 1,-18M908,219q-5,9 2,17q5,-9 -2,-17M909,215q-8,6 -3,15q8,-6 3,-15M935,125q-10,-1 -15,8q10,1 15,-8M919,124q-4,8 2,14q4,-8 -2,-14M888,140q-9,-0 -12,9q9,0 12,-9M874,211q-7,4 -5,13q7,-4 5,-13M874,211q-6,1 -8,7q6,-1 8,-7M873,211q-7,5 -4,12q7,-5 4,-12M913,206q-8,2 -8,11q8,-2 8,-11M944,127q-10,3 -10,13q10,-3 10,-13M934,174q-10,2 -11,12q10,-2 11,-12M999,123q-7,2 -6,9q7,-2 6,-9M860,140q-7,6 -2,14q7,-6 2,-14M940,164q-6,11 5,17q6,-11 -5,-17M946,167q-6,6 -1,14q6,-6 1,-14M866,184q-3,6 2,10q3,-6 -2,-10M867,186q-6,5 -1,12q6,-5 1,-12M865,180q-2,10 9,13q2,-10 -9,-13M952,137q-3,6 2,11q3,-6 -2,-11M948,138q2,7 9,7q-2,-7 -9,-7M948,144q-6,5 -3,12q6,-5 3,-12M882,236q-9,5 -6,15q9,-5 6,-15M853,181q-5,6 0,12q5,-6 -0,-12M846,187q-3,8 4,12q3,-8 -4,-12M841,190q2,8 11,7q-2,-8 -11,-7M983,147q-9,1 -10,10q9,-1 10,-10M977,148q-6,9 3,16q6,-9 -3,-16M843,198q-2,10 8,15q2,-10 -8,-15M922,185q1,12 13,12q-1,-12 -13,-12M844,140q-6,5 -1,11q6,-5 1,-11M845,143q2,9 11,7q-2,-9 -11,-7M858,171q-8,6 -4,15q8,-6 4,-15"/>
<path fill="#7e6e54" d="M954,125q-4,6 0,11q4,-6 -0,-11M951,126q-6,7 -1,14q6,-7 1,-14M907,131q-4,5 -0,10q4,-5 0,-10M826,168q-4,9 4,13q4,-9 -4,-13M897,198q2,11 14,11q-2,-11 -14,-11M903,192q-1,7 6,9q1,-7 -6,-9M969,131q-3,9 6,12q3,-9 -6,-12M971,133q5,10 16,7q-5,-10 -16,-7M824,178q-4,6 -0,11q4,-6 0,-11M822,177q-6,3 -5,10q6,-3 5,-10M860,211q-10,5 -7,16q10,-5 7,-16M884,219q-6,5 -3,12q6,-5 3,-12M838,139q0,9 9,10q-0,-9 -9,-10M839,134q-1,11 9,14q1,-11 -9,-14M870,121q-6,4 -3,11q6,-4 3,-11"/>
<path fill="#767260" d="M699,175q-8,3 -7,12q8,-3 7,-12M608,185q-10,4 -8,15q10,-4 8,-15M593,192q-3,11 7,16q3,-11 -7,-16M605,187q-5,7 1,14q5,-7 -1,-14M608,196q-10,2 -10,13q10,-2 10,-13M606,191q-7,9 -0,18q7,-9 0,-18M603,189q-1,11 9,14q1,-11 -9,-14M730,168q-2,8 5,12q2,-8 -5,-12M731,230q-6,10 3,17q6,-10 -3,-17M731,144q-11,4 -8,15q11,-4 8,-15M726,142q-7,5 -3,13q7,-5 3,-13M653,168q-7,8 0,16q7,-8 -0,-16M672,162q-5,7 1,13q5,-7 -1,-13M681,247q2,8 10,8q-2,-8 -10,-8M669,177q-3,8 4,12q3,-8 -4,-12M669,180q-6,7 1,14q6,-7 -1,-14M746,218q-7,4 -4,11q7,-4 4,-11M605,147q-9,2 -8,10q9,-2 8,-10"/>
<path fill="#857358" d="M730,191q-6,3 -5,10q6,-3 5,-10M733,177q-5,7 2,13q5,-7 -2,-13M735,182q-7,4 -5,12q7,-4 5,-12M609,153q0,10 10,12q-0,-10 -10,-12M669,178q-6,3 -5,9q6,-3 5,-9M680,166q-10,3 -8,13q10,-3 8,-13M677,172q-8,3 -5,11q8,-3 5,-11M677,173q-6,5 -3,12q6,-5 3,-12M591,147q1,9 10,8q-1,-9 -10,-8M610,129q1,8 9,8q-1,-8 -9,-8M618,130q-2,8 5,12q2,-8 -5,-12M655,212q-9,4 -5,13q9,-4 5,-13M653,129q-9,-1 -12,8q9,1 12,-8M658,191q-7,1 -7,9q7,-1 7,-9M648,192q-1,9 7,11q1,-9 -7,-11M651,228q4,8 13,6q-4,-8 -13,-6M722,201q-4,8 4,12q4,-8 -4,-12M615,122q-3,7 4,11q3,-7 -4,-11M646,126q-10,5 -8,16q10,-5 8,-16M712,162q-7,10 3,17q7,-10 -3,-17M708,163q0,12 12,12q-0,-12 -12,-12M748,162q-7,5 -3,13q7,-5 3,-13M754,160q-8,6 -5,16q8,-6 5,-16M690,189q-5,5 -1,11q5,-5 1,-11M698,184q-11,1 -11,12q11,-1 11,-12M614,155q-7,3 -5,10q7,-3 5,-10M745,178q-11,-0 -13,10q11,0 13,-10M729,191q-1,10 8,12q1,-10 -8,-12M627,156q4,8 12,5q-4,-8 -12,-5"/>
<path fill="#86765a" d="M886,226q-5,6 -0,12q5,-6 0,-12M820,216q-1,10 9,14q1,-10 -9,-14M883,215q3,10 13,11q-3,-10 -13,-11M889,215q-10,6 -4,16q10,-6 4,-16M901,231q3,6 9,5q-3,-6 -9,-5M920,226q-6,7 -0,14q6,-7 0,-14M898,222q-1,7 5,10q1,-7 -5,-10M849,206q1,11 12,11q-1,-11 -12,-11M918,203q-6,9 2,16q6,-9 -2,-16M890,216q-11,1 -12,12q11,-1 12,-12M918,197q2,11 13,11q-2,-11 -13,-11M934,191q-1,8 7,11q1,-8 -7,-11"/>
<path fill="#7e7a66" d="M657,128q-9,5 -7,14q9,-5 7,-14M661,128q-6,4 -4,10q6,-4 4,-10M648,134q-4,10 4,16q4,-10 -4,-16M612,134q-7,-2 -9,5q7,2 9,-5M627,127q-8,2 -8,11q8,-2 8,-11M737,135q-4,9 5,14q4,-9 -5,-14M739,125q-9,4 -7,14q9,-4 7,-14"/>
<path fill="#8e7a5c" d="M668,217q-2,7 4,10q2,-7 -4,-10M607,205q-4,6 1,11q4,-6 -1,-11M631,212q-10,6 -6,16q10,-6 6,-16M669,152q-3,10 6,15q3,-10 -6,-15M716,224q-10,0 -10,10q10,-0 10,-10M710,218q-4,11 7,16q4,-11 -7,-16M670,173q-8,4 -5,13q8,-4 5,-13M630,160q-6,7 -0,15q6,-7 0,-15M641,147q-10,1 -9,11q10,-1 9,-11M659,170q-9,2 -7,11q9,-2 7,-11M700,206q-4,5 0,10q4,-5 -0,-10M714,223q-11,4 -8,15q11,-4 8,-15M707,225q-6,5 -2,12q6,-5 2,-12M717,214q-8,7 -5,17q8,-7 5,-17M718,221q-10,7 -4,17q10,-7 4,-17M719,182q-9,6 -4,16q9,-6 4,-16M726,189q-7,1 -7,8q7,-1 7,-8M733,171q-10,3 -7,13q10,-3 7,-13M688,166q1,12 12,12q-1,-12 -12,-12M695,154q-4,10 5,17q4,-10 -5,-17M672,169q-7,8 -0,15q7,-8 0,-15M679,168q-6,6 0,12q6,-6 -0,-12M681,172q-8,5 -4,13q8,-5 4,-13M734,191q-7,6 -3,13q7,-6 3,-13M725,194q-4,7 3,11q4,-7 -3,-11M695,166q-6,7 -2,15q6,-7 2,-15M604,172q-0,11 11,14q0,-11 -11,-14M707,171q-6,3 -4,9q6,-3 4,-9M708,164q-2,9 7,13q2,-9 -7,-13M657,168q4,9 13,7q-4,-9 -13,-7M743,159q-9,3 -8,12q9,-3 8,-12M668,145q-8,3 -7,11q8,-3 7,-11M656,150q-7,2 -7,8q7,-2 7,-8M670,144q-11,1 -11,13q11,-1 11,-13M654,154q-3,7 3,10q3,-7 -3,-10M616,159q-1,11 9,14q1,-11 -9,-14M633,204q4,9 13,6q-4,-9 -13,-6M630,197q5,11 17,7q-5,-11 -17,-7M669,181q-6,7 0,14q6,-7 -0,-14M687,158q-2,8 5,11q2,-8 -5,-11M691,161q-3,8 4,13q3,-8 -4,-13M732,206q-10,4 -9,15q10,-4 9,-15M605,208q-0,10 10,13q0,-10 -10,-13M625,157q1,7 8,8q-1,-7 -8,-8M626,157q-8,8 -1,17q8,-8 1,-17M596,174q0,8 8,9q-0,-8 -8,-9M719,174q-2,10 9,13q2,-10 -9,-13M608,181q-3,6 3,10q3,-6 -3,-10M721,168q-2,8 5,11q2,-8 -5,-11M729,223q-11,5 -7,16q11,-5 7,-16M739,198q-8,6 -5,15q8,-6 5,-15M708,206q-7,6 -2,14q7,-6 2,-14M600,183q-3,10 7,14q3,-10 -7,-14M655,146q-8,3 -5,11q8,-3 5,-11M640,152q-1,8 7,11q1,-8 -7,-11"/>
<path fill="#8a8a78" d="M954,143q-8,8 -1,18q8,-8 1,-18M875,189q1,12 12,13q-1,-12 -12,-13M892,181q-6,3 -4,10q6,-3 4,-10M848,189q-4,10 5,15q4,-10 -5,-15M871,197q-8,3 -6,11q8,-3 6,-11M863,200q-10,1 -11,11q10,-1 11,-11M871,175q-9,4 -6,14q9,-4 6,-14M856,185q-3,8 4,13q3,-8 -4,-13M826,180q-8,8 -1,17q8,-8 1,-17M822,174q-5,8 2,15q5,-8 -2,-15M854,131q-3,8 4,12q3,-8 -4,-12M849,130q-5,10 4,16q5,-10 -4,-16M854,132q-7,6 -3,13q7,-6 3,-13M866,187q1,8 9,7q-1,-8 -9,-7M935,130q-4,9 5,14q4,-9 -5,-14M934,123q-1,11 10,13q1,-11 -10,-13M825,132q-7,4 -4,11q7,-4 4,-11M922,177q-7,8 1,16q7,-8 -1,-16M836,228q-10,-3 -14,7q10,3 14,-7M829,243q-7,-1 -10,6q7,1 10,-6M979,124q-7,4 -3,11q7,-4 3,-11M840,158q-8,9 -0,18q8,-9 0,-18M818,162q-2,6 4,10q2,-6 -4,-10M894,170q2,11 12,12q-2,-11 -12,-12M960,147q-2,9 7,13q2,-9 -7,-13M879,152q-7,7 -1,15q7,-7 1,-15M885,143q-10,7 -5,17q10,-7 5,-17M976,128q-1,10 9,14q1,-10 -9,-14M963,133q1,10 11,12q-1,-10 -11,-12M978,126q-2,10 8,15q2,-10 -8,-15M851,156q4,10 14,7q-4,-10 -14,-7M887,121q-7,5 -4,12q7,-5 4,-12M870,240q-4,11 7,16q4,-11 -7,-16M834,149q-8,5 -5,14q8,-5 5,-14M854,149q-5,10 4,17q5,-10 -4,-17M918,144q-1,10 9,14q1,-10 -9,-14M904,140q-1,7 6,8q1,-7 -6,-8M820,143q-7,5 -3,13q7,-5 3,-13M991,132q-7,8 0,16q7,-8 -0,-16M1009,141q-10,3 -9,14q10,-3 9,-14M991,141q-10,1 -9,11q10,-1 9,-11M922,167q-9,6 -4,16q9,-6 4,-16M922,164q-1,6 5,9q1,-6 -5,-9M985,143q-5,5 -2,11q5,-5 2,-11M859,173q-9,3 -6,12q9,-3 6,-12M859,169q-6,5 -1,11q6,-5 1,-11M863,170q-7,2 -5,10q7,-2 5,-10M896,133q-8,5 -5,14q8,-5 5,-14M821,182q-6,10 4,16q6,-10 -4,-16M826,185q-7,5 -2,12q7,-5 2,-12M937,169q3,8 11,6q-3,-8 -11,-6M928,169q2,8 9,6q-2,-8 -9,-6M895,143q-11,-2 -14,9q11,2 14,-9"/>
<path fill="#a89878" d="M936,178q-6,8 -1,16q6,-8 1,-16M890,144q-3,7 3,11q3,-7 -3,-11M821,168q-8,3 -7,12q8,-3 7,-12M816,177q-6,5 -3,12q6,-5 3,-12M839,177q-11,1 -12,11q11,-1 12,-11M899,186q-3,8 4,13q3,-8 -4,-13M899,151q-3,10 6,15q3,-10 -6,-15M958,139q-7,9 2,17q7,-9 -2,-17M962,136q-5,8 3,14q5,-8 -3,-14M814,176q-3,11 7,16q3,-11 -7,-16M814,177q-3,7 4,10q3,-7 -4,-10M857,206q-11,1 -12,13q11,-1 12,-13M872,236q1,6 8,7q-1,-6 -8,-7M837,129q-6,6 -2,14q6,-6 2,-14M839,129q-4,6 1,11q4,-6 -1,-11"/>
<path fill="#a09a84" d="M688,165q-1,8 7,10q1,-8 -7,-10M694,158q-4,8 4,14q4,-8 -4,-14M698,159q1,9 10,9q-1,-9 -10,-9M595,185q-2,10 7,15q2,-10 -7,-15M609,189q-10,3 -9,13q10,-3 9,-13M724,232q-1,11 9,13q1,-11 -9,-13M734,232q-10,1 -11,11q10,-1 11,-11M673,152q-9,4 -8,14q9,-4 8,-14M680,239q-7,5 -2,12q7,-5 2,-12M675,167q-6,4 -3,10q6,-4 3,-10M681,169q-6,9 3,16q6,-9 -3,-16M736,216q-12,1 -12,13q12,-1 12,-13M739,204q-6,5 -3,13q6,-5 3,-13M728,231q0,9 9,11q-0,-9 -9,-11M729,233q-1,9 7,13q1,-9 -7,-13M731,231q-10,6 -6,16q10,-6 6,-16M725,176q-8,-0 -10,7q8,0 10,-7M603,173q-5,10 3,17q5,-10 -3,-17M627,193q-4,6 2,10q4,-6 -2,-10M681,119q-8,7 -3,16q8,-7 3,-16M667,131q5,9 14,6q-5,-9 -14,-6"/>
<path fill="#a4a290" d="M887,174q-9,-0 -10,9q9,0 10,-9M884,178q-10,4 -7,14q10,-4 7,-14M890,174q3,9 13,9q-3,-9 -13,-9M935,166q-5,9 2,16q5,-9 -2,-16M941,166q-9,5 -6,15q9,-5 6,-15M815,156q-3,8 5,12q3,-8 -5,-12M829,149q-9,2 -8,12q9,-2 8,-12M816,158q-5,5 -1,11q5,-5 1,-11M837,227q-2,10 8,13q2,-10 -8,-13M829,159q-6,7 0,14q6,-7 -0,-14M925,157q-4,6 1,11q4,-6 -1,-11M926,155q-12,-0 -14,12q12,0 14,-12M917,209q-4,10 6,14q4,-10 -6,-14M896,179q4,10 15,8q-4,-10 -15,-8M923,180q-9,6 -4,16q9,-6 4,-16M886,185q2,9 11,8q-2,-9 -11,-8M890,192q-3,10 7,15q3,-10 -7,-15M905,185q-7,-1 -8,6q7,1 8,-6M839,186q-6,8 1,15q6,-8 -1,-15M874,131q4,9 12,6q-4,-9 -12,-6M854,143q5,10 15,7q-5,-10 -15,-7M828,169q-8,7 -3,16q8,-7 3,-16M932,141q-2,7 4,10q2,-7 -4,-10M820,186q-3,6 1,10q3,-6 -1,-10M838,203q-7,3 -5,10q7,-3 5,-10M817,227q-4,9 4,15q4,-9 -4,-15M824,156q-6,6 -0,12q6,-6 0,-12M830,160q-10,-0 -11,9q10,0 11,-9M832,157q-6,-1 -9,4q6,1 9,-4M953,146q-7,1 -7,9q7,-1 7,-9M925,192q-7,-0 -9,6q7,0 9,-6M837,164q-3,6 3,10q3,-6 -3,-10M920,120q-11,2 -11,13q11,-2 11,-13M907,125q-10,3 -8,13q10,-3 8,-13M871,167q-12,1 -13,13q12,-1 13,-13M887,130q-6,-2 -10,3q6,2 10,-3M878,208q-4,7 2,12q4,-7 -2,-12M901,202q-6,5 -2,11q6,-5 2,-11M935,131q-8,-0 -9,7q8,0 9,-7M927,171q-10,2 -8,12q10,-2 8,-12M939,160q-6,4 -3,10q6,-4 3,-10M952,160q-5,5 -2,12q5,-5 2,-12M870,167q1,10 11,11q-1,-10 -11,-11M892,176q-7,3 -4,10q7,-3 4,-10M941,138q-7,5 -4,13q7,-5 4,-13M873,229q-1,10 9,12q1,-10 -9,-12M882,220q-5,7 2,13q5,-7 -2,-13M902,230q-3,10 6,15q3,-10 -6,-15M843,178q-4,11 6,17q4,-11 -6,-17M970,152q-10,7 -4,17q10,-7 4,-17M973,145q-5,6 -1,12q5,-6 1,-12M840,194q-10,4 -8,15q10,-4 8,-15M835,194q-3,7 4,11q3,-7 -4,-11M920,181q-0,12 11,13q0,-12 -11,-13M847,128q-6,4 -2,10q6,-4 2,-10M835,136q2,12 14,10q-2,-12 -14,-10M844,130q3,11 14,8q-3,-11 -14,-8M842,128q-3,9 5,14q3,-9 -5,-14M892,204q3,9 12,9q-3,-9 -12,-9"/>
<path fill="#b0a084" d="M718,187q-2,9 7,11q2,-9 -7,-11M720,182q-6,3 -4,10q6,-3 4,-10M595,160q5,9 15,7q-5,-9 -15,-7M603,157q3,7 9,5q-3,-7 -9,-5M602,177q-7,2 -6,9q7,-2 6,-9M594,182q-7,4 -5,12q7,-4 5,-12M662,177q-3,10 7,15q3,-10 -7,-15M598,128q-2,10 8,13q2,-10 -8,-13M609,126q-6,3 -4,10q6,-3 4,-10M626,131q-5,11 5,17q5,-11 -5,-17M646,129q-11,-4 -15,6q11,4 15,-6M651,186q-9,6 -6,16q9,-6 6,-16M657,180q-6,6 -1,13q6,-6 1,-13M648,186q-6,8 1,15q6,-8 -1,-15M656,183q-11,2 -11,13q11,-2 11,-13M654,185q-6,5 -2,12q6,-5 2,-12M724,198q-4,7 3,11q4,-7 -3,-11M723,198q-6,6 -2,13q6,-6 2,-13M739,163q-5,8 4,13q5,-8 -4,-13M738,169q-3,6 3,11q3,-6 -3,-11M684,180q-6,6 -0,13q6,-6 0,-13M686,196q-1,9 7,11q1,-9 -7,-11M638,149q-11,3 -11,14q11,-3 11,-14M615,156q-7,-2 -10,4q7,2 10,-4M734,163q-4,7 2,13q4,-7 -2,-13M738,163q-10,0 -12,10q10,-0 12,-10M747,168q-10,-1 -13,9q10,1 13,-9M652,151q-6,6 -1,14q6,-6 1,-14M728,183q-6,3 -3,10q6,-3 3,-10M643,142q-9,8 -1,17q9,-8 1,-17M639,141q1,9 10,10q-1,-9 -10,-10M642,141q-9,9 -1,18q9,-9 1,-18M624,150q1,6 7,7q-1,-6 -7,-7"/>
<path fill="#b4a486" d="M918,211q-7,7 -1,16q7,-7 1,-16M873,211q-8,5 -4,14q8,-5 4,-14M826,200q-8,7 -2,15q8,-7 2,-15M818,199q-8,6 -3,15q8,-6 3,-15M906,195q-2,6 4,9q2,-6 -4,-9M854,219q-7,2 -7,9q7,-2 7,-9M851,221q0,7 7,7q-0,-7 -7,-7M853,217q-9,6 -4,16q9,-6 4,-16M852,223q-9,4 -8,13q9,-4 8,-13M856,216q-5,7 1,14q5,-7 -1,-14M904,222q-4,6 2,11q4,-6 -2,-11M905,199q-2,6 4,9q2,-6 -4,-9M887,196q-1,10 8,14q1,-10 -8,-14M881,240q-5,9 3,16q5,-9 -3,-16"/>
<path fill="#c0ae90" d="M694,211q-10,2 -10,13q10,-2 10,-13M628,211q-11,5 -7,16q11,-5 7,-16M666,153q-9,6 -3,16q9,-6 3,-16M635,145q-8,4 -5,12q8,-4 5,-12M576,174q-4,7 2,12q4,-7 -2,-12M578,173q1,7 8,8q-1,-7 -8,-8M703,204q-11,-1 -15,10q11,1 15,-10M717,222q-8,6 -4,15q8,-6 4,-15M732,187q-7,4 -4,12q7,-4 4,-12M730,196q2,10 12,9q-2,-10 -12,-9M685,157q1,10 10,10q-1,-10 -10,-10M611,189q1,7 8,7q-1,-7 -8,-7M696,168q-8,6 -4,14q8,-6 4,-14M621,155q-3,8 5,12q3,-8 -5,-12M659,186q-6,5 -1,11q6,-5 1,-11M691,149q-6,3 -4,9q6,-3 4,-9M727,211q-10,2 -10,12q10,-2 10,-12M699,218q-4,6 -0,11q4,-6 0,-11M606,190q-5,10 4,16q5,-10 -4,-16M625,154q-5,8 3,13q5,-8 -3,-13M606,162q-7,6 -3,15q7,-6 3,-15M600,166q-8,7 -2,16q8,-7 2,-16M613,169q-8,5 -3,14q8,-5 3,-14M618,172q-10,7 -4,17q10,-7 4,-17M728,147q-3,11 8,15q3,-11 -8,-15M722,214q-4,9 4,15q4,-9 -4,-15M736,208q-8,8 -2,17q8,-8 2,-17M730,213q4,9 14,8q-4,-9 -14,-8M739,198q-0,9 9,10q0,-9 -9,-10M729,200q2,10 12,10q-2,-10 -12,-10M718,187q-7,3 -4,10q7,-3 4,-10M716,185q-7,3 -6,11q7,-3 6,-11M704,188q-3,10 5,15q3,-10 -5,-15M614,176q6,9 16,5q-6,-9 -16,-5M625,161q-6,8 1,14q6,-8 -1,-14M603,177q2,11 12,11q-2,-11 -12,-11M649,138q-1,11 10,13q1,-11 -10,-13"/>
<path fill="#c8bca4" d="M678,160q-7,9 1,18q7,-9 -1,-18M686,159q-5,5 -0,10q5,-5 0,-10M654,172q-4,9 3,15q4,-9 -3,-15M701,171q-7,4 -5,12q7,-4 5,-12M697,166q-3,9 6,12q3,-9 -6,-12M715,215q-8,-1 -10,7q8,1 10,-7M709,210q-6,7 -1,14q6,-7 1,-14M713,209q-7,8 -0,15q7,-8 0,-15M589,161q-5,8 1,15q5,-8 -1,-15M601,157q-5,9 4,15q5,-9 -4,-15"/>
<path fill="#c8c4b4" d="M947,178q5,9 14,6q-5,-9 -14,-6M957,174q3,11 14,10q-3,-11 -14,-10M963,178q-6,4 -3,11q6,-4 3,-11M959,198q-6,4 -5,11q6,-4 5,-11M946,200q-8,2 -6,10q8,-2 6,-10M956,192q-4,9 3,15q4,-9 -3,-15M904,127q-4,6 0,11q4,-6 -0,-11M906,129q-8,8 -1,16q8,-8 1,-16M904,141q-6,3 -4,9q6,-3 4,-9M912,128q-7,-1 -9,6q7,1 9,-6M835,150q3,10 14,10q-3,-10 -14,-10M899,149q-7,3 -5,11q7,-3 5,-11M905,155q-10,-1 -13,9q10,1 13,-9M947,155q-2,10 7,14q2,-10 -7,-14M931,153q0,8 8,8q-0,-8 -8,-8M942,151q4,10 15,8q-4,-10 -15,-8M884,179q-10,4 -10,15q10,-4 10,-15M879,177q-6,8 1,16q6,-8 -1,-16M887,178q-5,11 6,16q5,-11 -6,-16M907,224q-12,-3 -15,8q12,3 15,-8M1000,153q-9,3 -8,12q9,-3 8,-12M954,198q-10,-1 -14,8q10,1 14,-8M908,227q-3,10 5,16q3,-10 -5,-16M907,237q-8,1 -8,9q8,-1 8,-9M907,224q0,10 9,13q-0,-10 -9,-13M874,189q-9,4 -8,13q9,-4 8,-13M893,211q-4,9 5,14q4,-9 -5,-14M899,215q-1,7 5,9q1,-7 -5,-9M896,211q-5,8 2,14q5,-8 -2,-14M885,213q-10,6 -4,16q10,-6 4,-16M893,222q-5,6 -1,12q5,-6 1,-12M901,221q-9,5 -6,15q9,-5 6,-15M891,219q-2,10 8,14q2,-10 -8,-14"/>
<path fill="#d6ccb6" d="M641,174q-6,3 -5,9q6,-3 5,-9M653,164q-9,6 -5,15q9,-6 5,-15M735,193q-11,0 -13,11q11,-0 13,-11M746,195q-10,1 -12,11q10,-1 12,-11M707,211q-7,2 -6,9q7,-2 6,-9M713,207q-10,-0 -11,10q10,0 11,-10"/>
<path fill="#d8d4c6" d="M884,135q-6,4 -3,10q6,-4 3,-10M825,149q-3,9 5,14q3,-9 -5,-14M829,145q-9,8 -2,18q9,-8 2,-18M891,151q-10,2 -10,12q10,-2 10,-12M876,160q-3,7 4,10q3,-7 -4,-10M966,142q1,9 10,9q-1,-9 -10,-9M976,137q-7,6 -4,15q7,-6 4,-15M878,175q-1,7 6,9q1,-7 -6,-9M896,223q-9,5 -7,15q9,-5 7,-15M900,223q-9,0 -11,9q9,-0 11,-9M908,221q-8,-1 -10,6q8,1 10,-6M999,138q-11,3 -10,14q11,-3 10,-14M988,145q-3,7 2,12q3,-7 -2,-12M859,196q-3,10 6,15q3,-10 -6,-15M855,197q-2,8 5,11q2,-8 -5,-11M862,196q-10,2 -11,12q10,-2 11,-12M867,190q-6,7 -1,15q6,-7 1,-15M858,195q-3,8 5,11q3,-8 -5,-11M894,211q-9,7 -4,17q9,-7 4,-17"/>
<path fill="#e6dece" d="M669,151q-2,10 7,15q2,-10 -7,-15M639,164q-3,11 8,16q3,-11 -8,-16M742,176q-9,0 -12,9q9,-0 12,-9M705,197q-7,7 -0,14q7,-7 0,-14M586,149q-3,6 2,10q3,-6 -2,-10"/>
<path fill="#e8e4d8" d="M948,180q-10,1 -11,11q10,-1 11,-11M818,141q-1,7 6,10q1,-7 -6,-10M970,133q-5,5 -1,11q5,-5 1,-11M939,188q-4,8 4,12q4,-8 -4,-12M903,220q-9,3 -8,12q9,-3 8,-12M883,209q-7,10 3,17q7,-10 -3,-17M901,208q-6,5 -3,12q6,-5 3,-12"/></g>
<path d="M1034,258 1040.1,258 1046.1,258 1052.2,258 1058.2,258 1064.3,258 1070.4,258 1076.4,258 1082.5,258 1088.5,258 1094.6,258 1100.7,258 1106.7,258 1112.8,258 1118.8,258 1124.9,258 1131,258 1137,258 1143.1,258 1149.2,258 1155.2,258 1161.3,258 1167.3,258 1173.4,258 1179.5,258 1185.5,258 1191.6,258 1197.6,258 1203.7,258 1209.8,258 1215.8,258 1221.9,258 1227.9,258 1234,258 1234,264 1234,270 1234,276 1234,282 1229.3,286.7 1224.7,291.3 1220,296 1214,298 1208,300 1202,302 1196,304 1190,306 1184,307.6 1178,309.2 1172,310.8 1166,312.4 1160,314 1154,315.2 1148,316.4 1142,317.6 1136,318.8 1130,320 1124,319.2 1118,318.4 1112,317.6 1106,316.8 1100,316 1094,314 1088,312 1082,310 1076,308 1070,306 1063.8,303.5 1057.5,301 1051.2,298.5 1045,296 1039.5,290 1034,284 1034,277.5 1034,271 1034,264.5Z" fill="#9a8668" filter="url(#ragged)"/>
<path d="M1045,262 L1225,262 L1215,285 C1190,298 1160,306 1130,306 C1100,306 1070,298 1050,285Z" fill="#6e5c46" filter="url(#blur4)" opacity="0.55"/>
<path d="M1034,258 1040.1,258 1046.1,258 1052.2,258 1058.2,258 1064.3,258 1070.4,258 1076.4,258 1082.5,258 1088.5,258 1094.6,258 1100.7,258 1106.7,258 1112.8,258 1118.8,258 1124.9,258 1131,258 1137,258 1143.1,258 1149.2,258 1155.2,258 1161.3,258 1167.3,258 1173.4,258 1179.5,258 1185.5,258 1191.6,258 1197.6,258 1203.7,258 1209.8,258 1215.8,258 1221.9,258 1227.9,258 1234,258 1234,264 1234,270 1234,276 1234,282 1229.3,286.7 1224.7,291.3 1220,296 1214,298 1208,300 1202,302 1196,304 1190,306 1184,307.6 1178,309.2 1172,310.8 1166,312.4 1160,314 1154,315.2 1148,316.4 1142,317.6 1136,318.8 1130,320 1124,319.2 1118,318.4 1112,317.6 1106,316.8 1100,316 1094,314 1088,312 1082,310 1076,308 1070,306 1063.8,303.5 1057.5,301 1051.2,298.5 1045,296 1039.5,290 1034,284 1034,277.5 1034,271 1034,264.5Z" fill="#554c40" filter="url(#patchy)" opacity="0.35"/>
<path d="M1040,270 C1070,266 1100,272 1120,266 M1140,266 C1170,272 1200,264 1228,270 M1050,280 C1080,276 1100,282 1115,276 M1150,278 C1175,284 1200,276 1222,280" stroke="#c8b898" stroke-width="1.3" fill="none"/>
<rect x="1035" y="255" width="198" height="6" fill="#cbbd9f"/>
<path d="M1123,256 1123,257 1123,260 1123,263 1123,266 1123,268 1123,270 1123,272 1123,274 1129,274 1130,273 1130,271 1131,269 1131,266 1132,264 1132,261 1133,258 1133,256Z" fill="#dccdb0"/>
<path d="M1124,268 1121,270 1118,272 1114,274 1109,276 1105,278 1100,280 1095,282 1090,284 1084,285 1077,287 1071,288 1065,289 1058,290 1052,291 1046,292 1042,292 1042,294 1046,293 1052,293 1059,292 1065,291 1071,290 1078,289 1084,288 1090,286 1096,285 1101,283 1106,281 1111,280 1115,278 1120,275 1123,273 1126,272Z" fill="#dccdb0"/>
<path d="M1122,270 1120,273 1117,276 1114,280 1111,284 1108,287 1105,291 1102,294 1099,297 1096,300 1092,304 1088,307 1086,309 1086,309 1089,308 1093,305 1097,302 1101,299 1104,296 1107,292 1110,289 1113,286 1117,283 1120,279 1123,276 1126,274Z" fill="#dccdb0"/>
<path d="M1124,271 1123,275 1121,279 1119,285 1118,289 1116,294 1115,297 1113,301 1112,305 1111,308 1110,312 1109,316 1108,318 1110,318 1110,316 1111,313 1113,309 1114,305 1115,302 1117,298 1119,295 1120,291 1122,286 1124,281 1126,276 1128,273Z" fill="#dccdb0"/>
<path d="M1125,272 1125,276 1126,281 1126,287 1127,292 1126,297 1126,301 1125,306 1125,310 1125,314 1125,317 1124,320 1124,322 1126,322 1126,320 1126,317 1127,314 1127,310 1128,306 1128,302 1129,297 1129,292 1129,287 1129,281 1129,276 1129,272Z" fill="#dccdb0"/>
<path d="M1128,273 1130,276 1133,281 1136,286 1139,291 1141,295 1144,299 1147,302 1149,306 1152,309 1154,312 1156,315 1158,316 1158,316 1157,314 1155,311 1153,308 1151,304 1149,301 1146,297 1144,293 1141,289 1139,285 1136,279 1133,274 1132,271Z" fill="#dccdb0"/>
<path d="M1130,272 1133,274 1138,277 1144,280 1149,283 1154,286 1159,290 1164,293 1169,296 1175,299 1181,302 1186,305 1190,307 1190,305 1187,303 1182,301 1176,297 1171,294 1166,291 1161,287 1156,284 1151,281 1146,277 1140,274 1135,270 1132,268Z" fill="#dccdb0"/>
<path d="M1130,270 1134,271 1141,273 1148,276 1155,278 1162,279 1169,280 1177,282 1185,283 1194,284 1203,286 1212,287 1218,288 1218,286 1212,285 1203,284 1194,283 1185,281 1177,279 1170,278 1162,276 1155,274 1149,272 1142,270 1136,268 1132,266Z" fill="#dccdb0"/>
<path d="M1078,288C1077,287 1075,286 1073,285 1072,285 1070,284 1068,284 1067,284 1064,284 1063,283M1114,276C1114,276 1111,276 1109,276 1107,276 1106,276 1104,276 1102,276 1099,277 1098,277M1046,293C1046,293 1045,295 1044,296 1044,297 1044,298 1043,299 1043,301 1042,302 1042,303M1059,291C1058,291 1057,293 1057,294 1056,295 1055,296 1055,297 1054,298 1053,299 1053,300M1089,307C1089,308 1089,309 1089,311 1089,312 1089,313 1089,314 1089,315 1089,317 1088,318M1109,288C1108,289 1106,289 1104,290 1102,290 1100,291 1099,291 1097,291 1094,292 1093,292M1115,281C1115,281 1113,281 1111,281 1110,282 1108,282 1107,282 1106,282 1104,283 1103,283M1100,298C1099,298 1097,299 1096,300 1095,301 1094,301 1093,302 1092,303 1090,305 1089,305M1110,316C1109,316 1106,317 1104,317 1102,318 1100,318 1098,318 1096,319 1094,320 1093,321M1121,285C1120,286 1118,287 1117,288 1115,290 1114,291 1112,292 1111,293 1109,295 1109,296M1116,298C1116,299 1116,302 1117,303 1117,305 1117,307 1117,309 1117,311 1118,314 1118,315M1112,309C1111,309 1110,311 1109,311 1108,312 1107,313 1106,314 1105,315 1104,316 1103,316M1126,314C1125,314 1124,316 1124,317 1123,318 1123,319 1122,321 1122,322 1121,323 1120,324M1126,306C1126,307 1124,308 1122,310 1121,311 1120,313 1119,314 1118,316 1116,318 1115,318M1128,297C1128,298 1129,300 1129,302 1130,304 1130,305 1131,307 1131,309 1132,311 1132,312M1126,314C1126,314 1126,316 1126,317 1126,318 1127,319 1127,320 1127,320 1127,322 1127,322M1137,285C1138,286 1140,288 1142,289 1143,290 1145,291 1146,292 1148,293 1150,295 1150,295M1145,298C1146,298 1147,299 1148,300 1149,301 1150,302 1150,303 1151,304 1153,305 1153,306M1152,308C1153,309 1155,309 1156,310 1158,311 1159,312 1160,313 1161,314 1162,316 1163,316M1157,314C1157,315 1157,317 1157,319 1158,321 1158,322 1159,324 1159,326 1161,328 1161,329M1181,301C1181,302 1182,303 1183,304 1183,305 1184,306 1184,307 1185,308 1186,309 1186,310M1165,292C1166,292 1168,292 1170,291 1172,291 1173,290 1175,290 1177,290 1179,290 1180,290M1181,301C1181,302 1182,303 1182,304 1182,305 1183,306 1183,307 1183,307 1183,309 1183,309M1150,282C1150,283 1151,284 1152,285 1152,286 1152,287 1153,288 1153,290 1153,291 1153,292M1162,278C1162,278 1164,280 1165,281 1165,282 1166,283 1167,284 1167,285 1168,287 1168,288M1194,283C1194,284 1196,286 1196,287 1197,288 1198,290 1198,291 1199,292 1200,294 1200,295M1194,283C1194,284 1195,285 1196,286 1197,286 1198,286 1199,287 1199,288 1201,289 1201,289M1212,286C1212,286 1214,287 1215,288 1216,289 1216,290 1217,290 1218,291 1219,293 1219,293" fill="none" stroke="#d2c2a4" stroke-width="1.1" stroke-linecap="round"/>
<ellipse cx="1060" cy="236" rx="26" ry="20" fill="#a4a698" filter="url(#mottle3)"/>
<ellipse cx="1205" cy="234" rx="26" ry="22" fill="#a2a496" filter="url(#mottle3)"/>
<ellipse cx="1046" cy="244" rx="14" ry="12" fill="#8e9284" filter="url(#mottle3)"/>
<path d="M1052,256 C1054,246 1066,242 1074,245 C1084,240 1096,242 1106,246 L1106,256 Z" fill="#5c5e52"/>
<path d="M1138,256 C1140,246 1150,243 1160,245 C1172,241 1188,243 1196,247 C1206,244 1220,248 1226,256 Z" fill="#5c5e52"/>
<rect x="1074" y="216" width="36" height="33" fill="#eae8e2" stroke="#3e3c36" stroke-width="1.2"/>
<path d="M1065,218 L1092,198 L1114,198 L1106,218 Z" fill="#5a5c54" stroke="#3a3a34" stroke-width="1"/>
<rect x="1112" y="189" width="11" height="12" fill="#4e4e48"/>
<path d="M1109,212 L1144,181 L1179,212 L1179,250 L1109,250 Z" fill="#f0eeea" stroke="#3e3c36" stroke-width="1.3"/>
<path d="M1098,214 L1144,178 L1190,214" fill="none" stroke="#4a4a44" stroke-width="3"/>
<rect x="1085" y="225" width="14" height="13" fill="#cfcfc8" stroke="#34322c" stroke-width="1.3"/><path d="M1092,225 V238 M1085,231.5 H1099" stroke="#34322c" stroke-width="1"/>
<rect x="1146.5" y="216" width="21.5" height="18.5" fill="#cfcfc8" stroke="#34322c" stroke-width="1.3"/><path d="M1157,216 V234.5 M1146.5,225 H1168" stroke="#34322c" stroke-width="1"/>
<rect x="1119.6" y="216.7" width="16.4" height="29" fill="#8a7058" stroke="#3a3028" stroke-width="1.2"/><rect x="1120.5" y="217.5" width="14.6" height="8" fill="#cfcfc8"/>
<rect x="1117" y="246" width="22" height="4" fill="#b8b2a4"/></svg>
<svg class="abs" style="left:0;top:0" width="1536" height="1024" viewBox="0 0 1536 1024"><circle cx="369.8" cy="191" r="55.5" fill="#f1eee8"/>
<circle cx="369.8" cy="191" r="54.9" fill="none" stroke="#8c8070" stroke-width="3.2"/>
<clipPath id="cp1"><circle cx="0" cy="0" r="51.0"/></clipPath><g clip-path="url(#cp1)" transform="translate(369.8,191)"><path d="M-60,-4 C-40,-10 -20,-12 -8,-14 L-6,-36 L7,-36 L8,-14 C20,-10 40,-6 60,-4 L60,60 L-60,60 Z" fill="#4f4132"/><path d="M-55,-2 C-35,-14 -18,-12 -6,-18 L6,-18 C18,-12 38,-10 56,-6" fill="none" stroke="#4f4132" stroke-width="4"/><path d="M-50,0 C-40,-6 -28,-8 -18,-6 C-28,-2 -40,2 -50,0Z" fill="#efe9df"/><path d="M-14,-4 C-10,-8 -4,-8 0,-8 C-4,-2 -10,0 -14,-4Z" fill="#efe9df"/><path d="M14,-6 C22,-6 30,-2 36,4 C26,2 18,0 14,-6Z" fill="#efe9df"/><path d="M0.0,-8.0 -0.1,3.0 -1.9,13.9 -4.8,24.5 -6.4,35.4 -8.0,46.2" fill="none" stroke="#e6dac6" stroke-width="2.4" stroke-linecap="round" stroke-linejoin="round"/><path d="M-4.8,24.5 -9.6,31.4 -12.7,39.2 -16.8,46.5" fill="none" stroke="#e6dac6" stroke-width="1.6" stroke-linecap="round" stroke-linejoin="round"/><path d="M-12.7,39.2 -12.6,42.1 -12.6,45.1 -12.1,48.0" fill="none" stroke="#e6dac6" stroke-width="1.0" stroke-linecap="round" stroke-linejoin="round"/><path d="M0.0,-8.0 -5.4,1.6 -8.5,12.2 -12.1,22.5 -13.4,33.5 -16.4,44.0" fill="none" stroke="#e6dac6" stroke-width="2.2" stroke-linecap="round" stroke-linejoin="round"/><path d="M-13.4,33.5 -9.7,40.7 -6.9,48.4 -5.6,56.4" fill="none" stroke="#e6dac6" stroke-width="1.4" stroke-linecap="round" stroke-linejoin="round"/><path d="M-6.9,48.4 -7.7,51.0 -8.3,53.8 -8.3,56.6" fill="none" stroke="#e6dac6" stroke-width="0.9" stroke-linecap="round" stroke-linejoin="round"/><path d="M0.0,-8.0 1.2,2.9 2.1,13.9 2.3,24.9 3.9,35.8 3.2,46.8" fill="none" stroke="#e6dac6" stroke-width="2.2" stroke-linecap="round" stroke-linejoin="round"/><path d="M2.3,24.9 7.3,32.1 12.2,39.4 15.3,47.6" fill="none" stroke="#e6dac6" stroke-width="1.4" stroke-linecap="round" stroke-linejoin="round"/><path d="M12.2,39.4 11.6,43.7 10.2,47.8 9.1,52.0" fill="none" stroke="#e6dac6" stroke-width="0.9" stroke-linecap="round" stroke-linejoin="round"/><path d="M0.0,-8.0 -10.1,-3.6 -19.9,1.4 -29.9,5.8 -39.6,11.1 -49.4,16.1" fill="none" stroke="#e6dac6" stroke-width="2.0" stroke-linecap="round" stroke-linejoin="round"/><path d="M-29.9,5.8 -37.5,8.1 -44.6,11.8 -51.9,14.8" fill="none" stroke="#e6dac6" stroke-width="1.3" stroke-linecap="round" stroke-linejoin="round"/><path d="M-44.6,11.8 -47.7,11.3 -50.7,10.6 -53.8,10.0" fill="none" stroke="#e6dac6" stroke-width="0.9" stroke-linecap="round" stroke-linejoin="round"/><path d="M0.0,-8.0 9.1,-1.8 17.5,5.3 26.6,11.4 36.2,16.9 46.5,20.7" fill="none" stroke="#e6dac6" stroke-width="2.0" stroke-linecap="round" stroke-linejoin="round"/><path d="M17.5,5.3 24.1,6.9 30.6,8.4 36.7,11.4" fill="none" stroke="#e6dac6" stroke-width="1.3" stroke-linecap="round" stroke-linejoin="round"/><path d="M30.6,8.4 31.3,11.5 31.7,14.6 31.6,17.8" fill="none" stroke="#e6dac6" stroke-width="0.9" stroke-linecap="round" stroke-linejoin="round"/><path d="M0.0,-8.0 -8.6,-5.3 -17.1,-2.4 -25.3,1.2 -32.5,6.7 -40.3,11.2" fill="none" stroke="#e6dac6" stroke-width="1.8" stroke-linecap="round" stroke-linejoin="round"/><path d="M-32.5,6.7 -34.7,12.0 -36.6,17.4 -37.3,23.1" fill="none" stroke="#e6dac6" stroke-width="1.2" stroke-linecap="round" stroke-linejoin="round"/><path d="M-36.6,17.4 -38.5,19.3 -40.3,21.2 -41.8,23.3" fill="none" stroke="#e6dac6" stroke-width="0.9" stroke-linecap="round" stroke-linejoin="round"/><path d="M0.0,-8.0 9.9,-6.6 19.7,-4.4 28.8,-0.3 36.7,5.8 45.6,10.5" fill="none" stroke="#e6dac6" stroke-width="1.8" stroke-linecap="round" stroke-linejoin="round"/><path d="M36.7,5.8 41.8,5.3 46.8,5.8 51.9,6.0" fill="none" stroke="#e6dac6" stroke-width="1.2" stroke-linecap="round" stroke-linejoin="round"/><path d="M46.8,5.8 48.2,4.9 49.6,4.2 50.9,3.4" fill="none" stroke="#e6dac6" stroke-width="0.9" stroke-linecap="round" stroke-linejoin="round"/><path d="M0.0,-8.0 6.3,-0.2 11.7,8.2 17.0,16.7 22.8,24.8 28.4,33.1" fill="none" stroke="#e6dac6" stroke-width="1.8" stroke-linecap="round" stroke-linejoin="round"/><path d="M11.7,8.2 12.6,14.5 14.4,20.7 15.2,27.0" fill="none" stroke="#e6dac6" stroke-width="1.2" stroke-linecap="round" stroke-linejoin="round"/><path d="M14.4,20.7 13.7,22.5 13.3,24.4 12.7,26.2" fill="none" stroke="#e6dac6" stroke-width="0.9" stroke-linecap="round" stroke-linejoin="round"/><path d="M0.0,-8.0 -2.0,0.8 -4.7,9.4 -7.9,17.8 -11.2,26.2 -13.3,34.9" fill="none" stroke="#e6dac6" stroke-width="1.6" stroke-linecap="round" stroke-linejoin="round"/><path d="M-11.2,26.2 -15.1,31.3 -19.0,36.4 -22.4,41.8" fill="none" stroke="#e6dac6" stroke-width="1.0" stroke-linecap="round" stroke-linejoin="round"/><path d="M-19.0,36.4 -18.5,38.4 -17.6,40.3 -16.4,42.0" fill="none" stroke="#e6dac6" stroke-width="0.9" stroke-linecap="round" stroke-linejoin="round"/><circle cx="-38.1" cy="44.4" r="0.8" fill="#a89478"/><circle cx="-30.8" cy="29.3" r="0.7" fill="#a89478"/><circle cx="5.5" cy="41.6" r="1.1" fill="#a89478"/><circle cx="-25.4" cy="43.7" r="1.0" fill="#a89478"/><circle cx="29.5" cy="42.4" r="1.2" fill="#a89478"/><circle cx="11.1" cy="6.6" r="0.8" fill="#a89478"/><circle cx="-36.1" cy="29.7" r="1.3" fill="#a89478"/><circle cx="8.2" cy="26.2" r="1.4" fill="#a89478"/><circle cx="-9.9" cy="26.7" r="0.6" fill="#a89478"/><circle cx="10.1" cy="22.3" r="0.8" fill="#a89478"/><circle cx="-30.9" cy="41.9" r="1.2" fill="#a89478"/><circle cx="5.7" cy="10.8" r="0.9" fill="#a89478"/><circle cx="-21.0" cy="9.1" r="0.9" fill="#a89478"/><circle cx="4.3" cy="44.3" r="1.3" fill="#a89478"/><circle cx="3.1" cy="38.0" r="1.0" fill="#a89478"/><circle cx="-39.1" cy="6.7" r="0.7" fill="#a89478"/><circle cx="-30.0" cy="28.1" r="0.8" fill="#a89478"/><circle cx="-15.1" cy="26.8" r="0.8" fill="#a89478"/><circle cx="-14.5" cy="-36.8" r="0.5" fill="#9a9080"/><circle cx="40.0" cy="-18.2" r="0.8" fill="#9a9080"/><circle cx="-1.0" cy="-23.8" r="0.8" fill="#9a9080"/><circle cx="-16.1" cy="-28.6" r="0.6" fill="#9a9080"/><circle cx="44.2" cy="-35.9" r="0.5" fill="#9a9080"/><circle cx="-34.7" cy="-23.6" r="0.9" fill="#9a9080"/><circle cx="-38.1" cy="-24.6" r="0.7" fill="#9a9080"/><circle cx="40.7" cy="-29.8" r="0.5" fill="#9a9080"/><circle cx="3.1" cy="-36.8" r="0.8" fill="#9a9080"/><circle cx="-35.3" cy="-38.7" r="0.5" fill="#9a9080"/><circle cx="10.2" cy="-39.6" r="0.6" fill="#9a9080"/><circle cx="29.4" cy="-17.9" r="0.5" fill="#9a9080"/><circle cx="25.7" cy="-23.6" r="0.5" fill="#9a9080"/><circle cx="-4.4" cy="-20.9" r="0.5" fill="#9a9080"/><circle cx="31.1" cy="-27.8" r="0.9" fill="#9a9080"/><circle cx="27.6" cy="-24.8" r="0.8" fill="#9a9080"/><circle cx="4.5" cy="-20.1" r="0.6" fill="#9a9080"/><circle cx="-26.3" cy="-31.1" r="0.4" fill="#9a9080"/><circle cx="25.8" cy="-14.1" r="0.8" fill="#9a9080"/><circle cx="-16.2" cy="-29.0" r="0.6" fill="#9a9080"/><circle cx="-39.2" cy="-31.1" r="0.7" fill="#9a9080"/><circle cx="-4.0" cy="-33.0" r="0.8" fill="#9a9080"/><circle cx="25.0" cy="-15.0" r="0.8" fill="#9a9080"/><circle cx="-2.8" cy="-30.0" r="0.5" fill="#9a9080"/><circle cx="-26.3" cy="-34.4" r="0.6" fill="#9a9080"/><circle cx="28.8" cy="-37.5" r="0.8" fill="#9a9080"/><circle cx="-36.9" cy="-23.9" r="0.6" fill="#9a9080"/><circle cx="-24.5" cy="-12.9" r="0.4" fill="#9a9080"/><circle cx="-28.2" cy="-17.8" r="0.7" fill="#9a9080"/><circle cx="37.9" cy="-33.1" r="0.5" fill="#9a9080"/><circle cx="10.0" cy="-17.4" r="0.4" fill="#9a9080"/><circle cx="-25.2" cy="-17.4" r="0.6" fill="#9a9080"/><circle cx="-20.9" cy="-15.7" r="0.8" fill="#9a9080"/><circle cx="-43.1" cy="-39.7" r="0.8" fill="#9a9080"/><circle cx="-12.7" cy="-26.9" r="0.8" fill="#9a9080"/><circle cx="-35.9" cy="-18.2" r="0.6" fill="#9a9080"/><circle cx="0.8" cy="-21.4" r="0.5" fill="#9a9080"/><circle cx="-31.5" cy="-36.0" r="0.8" fill="#9a9080"/><circle cx="-17.5" cy="-20.1" r="0.8" fill="#9a9080"/><circle cx="9.2" cy="-36.5" r="0.5" fill="#9a9080"/><circle cx="-13" cy="-28" r="1.5" fill="#4f4132"/><circle cx="-9" cy="-20" r="1.3" fill="#4f4132"/><circle cx="15" cy="-24" r="1.5" fill="#4f4132"/><circle cx="-16" cy="-36" r="1.4" fill="#4f4132"/></g><circle cx="368.2" cy="495.4" r="55.5" fill="#f1eee8"/>
<circle cx="368.2" cy="495.4" r="54.9" fill="none" stroke="#8c8070" stroke-width="3.2"/>
<clipPath id="cp2"><circle cx="0" cy="0" r="51.0"/></clipPath><g clip-path="url(#cp2)" transform="translate(368.2,495.4)"><rect x="-52" y="-13.5" width="104" height="2.5" fill="#3e3328"/><rect x="-60" y="-6" width="120" height="70" fill="#4f4132"/><path d="M0.0,-6.0 -2.8,4.0 -7.4,13.3 -10.0,23.4 -10.6,33.8 -12.7,44.0" fill="none" stroke="#e6dac6" stroke-width="2.4" stroke-linecap="round" stroke-linejoin="round"/><path d="M-10.6,33.8 -13.4,39.1 -16.4,44.2 -20.3,48.6" fill="none" stroke="#e6dac6" stroke-width="1.6" stroke-linecap="round" stroke-linejoin="round"/><path d="M-16.4,44.2 -18.5,45.0 -20.4,46.4 -21.9,48.1" fill="none" stroke="#e6dac6" stroke-width="1.0" stroke-linecap="round" stroke-linejoin="round"/><path d="M0.0,-6.0 -4.9,3.2 -8.8,12.8 -12.2,22.7 -16.9,31.9 -21.7,41.2" fill="none" stroke="#e6dac6" stroke-width="2.2" stroke-linecap="round" stroke-linejoin="round"/><path d="M-16.9,31.9 -16.4,37.1 -15.1,42.3 -13.9,47.4" fill="none" stroke="#e6dac6" stroke-width="1.4" stroke-linecap="round" stroke-linejoin="round"/><path d="M-15.1,42.3 -16.5,44.2 -18.1,45.9 -19.8,47.6" fill="none" stroke="#e6dac6" stroke-width="0.9" stroke-linecap="round" stroke-linejoin="round"/><path d="M0.0,-6.0 4.0,3.6 5.9,13.8 5.6,24.2 6.8,34.6 6.9,44.9" fill="none" stroke="#e6dac6" stroke-width="2.2" stroke-linecap="round" stroke-linejoin="round"/><path d="M6.8,34.6 3.8,39.8 0.8,45.1 -2.1,50.4" fill="none" stroke="#e6dac6" stroke-width="1.4" stroke-linecap="round" stroke-linejoin="round"/><path d="M0.8,45.1 -1.5,45.8 -3.8,46.3 -6.1,46.7" fill="none" stroke="#e6dac6" stroke-width="0.9" stroke-linecap="round" stroke-linejoin="round"/><path d="M0.0,-6.0 -8.4,-0.6 -15.9,6.1 -22.6,13.5 -29.7,20.5 -35.5,28.7" fill="none" stroke="#e6dac6" stroke-width="2.0" stroke-linecap="round" stroke-linejoin="round"/><path d="M-29.7,20.5 -35.8,23.0 -42.1,24.9 -48.6,26.3" fill="none" stroke="#e6dac6" stroke-width="1.3" stroke-linecap="round" stroke-linejoin="round"/><path d="M-42.1,24.9 -44.6,24.1 -47.0,23.2 -49.4,22.1" fill="none" stroke="#e6dac6" stroke-width="0.9" stroke-linecap="round" stroke-linejoin="round"/><path d="M0.0,-6.0 7.7,0.3 15.7,6.4 24.5,11.1 32.4,17.2 38.6,25.1" fill="none" stroke="#e6dac6" stroke-width="2.0" stroke-linecap="round" stroke-linejoin="round"/><path d="M15.7,6.4 20.8,6.2 26.0,6.7 30.8,8.4" fill="none" stroke="#e6dac6" stroke-width="1.3" stroke-linecap="round" stroke-linejoin="round"/><path d="M26.0,6.7 26.9,8.2 27.8,9.7 28.6,11.3" fill="none" stroke="#e6dac6" stroke-width="0.9" stroke-linecap="round" stroke-linejoin="round"/><path d="M0.0,-6.0 -7.0,-2.1 -13.5,2.5 -19.2,8.2 -25.0,13.6 -29.6,20.2" fill="none" stroke="#e6dac6" stroke-width="1.8" stroke-linecap="round" stroke-linejoin="round"/><path d="M-13.5,2.5 -15.4,8.7 -16.2,15.1 -18.2,21.2" fill="none" stroke="#e6dac6" stroke-width="1.2" stroke-linecap="round" stroke-linejoin="round"/><path d="M-16.2,15.1 -16.2,17.1 -15.8,19.0 -15.1,20.9" fill="none" stroke="#e6dac6" stroke-width="0.9" stroke-linecap="round" stroke-linejoin="round"/><path d="M0.0,-6.0 8.8,-4.2 17.4,-1.6 25.5,2.4 34.0,5.4 42.6,8.2" fill="none" stroke="#e6dac6" stroke-width="1.8" stroke-linecap="round" stroke-linejoin="round"/><path d="M17.4,-1.6 20.2,4.7 21.7,11.3 22.4,18.0" fill="none" stroke="#e6dac6" stroke-width="1.2" stroke-linecap="round" stroke-linejoin="round"/><path d="M21.7,11.3 20.2,12.9 18.6,14.4 17.4,16.1" fill="none" stroke="#e6dac6" stroke-width="0.9" stroke-linecap="round" stroke-linejoin="round"/><path d="M0.0,-6.0 4.7,1.7 7.7,10.2 10.5,18.7 12.1,27.6 13.8,36.4" fill="none" stroke="#e6dac6" stroke-width="1.6" stroke-linecap="round" stroke-linejoin="round"/><path d="M10.5,18.7 15.1,21.7 18.9,25.7 22.3,30.1" fill="none" stroke="#e6dac6" stroke-width="1.0" stroke-linecap="round" stroke-linejoin="round"/><path d="M18.9,25.7 20.6,26.3 22.3,26.9 24.1,27.4" fill="none" stroke="#e6dac6" stroke-width="0.9" stroke-linecap="round" stroke-linejoin="round"/><path d="M0.0,-6.0 -7.2,-0.6 -14.7,4.4 -20.8,11.0 -25.9,18.4 -31.5,25.4" fill="none" stroke="#e6dac6" stroke-width="1.6" stroke-linecap="round" stroke-linejoin="round"/><path d="M-14.7,4.4 -19.6,6.0 -24.5,7.6 -29.3,9.8" fill="none" stroke="#e6dac6" stroke-width="1.0" stroke-linecap="round" stroke-linejoin="round"/><path d="M-24.5,7.6 -26.1,7.8 -27.6,8.0 -29.1,8.6" fill="none" stroke="#e6dac6" stroke-width="0.9" stroke-linecap="round" stroke-linejoin="round"/><circle cx="20.1" cy="11.6" r="0.7" fill="#a89478"/><circle cx="-28.6" cy="11.1" r="0.8" fill="#a89478"/><circle cx="1.9" cy="22.3" r="0.8" fill="#a89478"/><circle cx="12.8" cy="10.2" r="1.3" fill="#a89478"/><circle cx="41.7" cy="35.0" r="0.9" fill="#a89478"/><circle cx="1.0" cy="27.9" r="0.6" fill="#a89478"/><circle cx="-7.4" cy="25.2" r="0.7" fill="#a89478"/><circle cx="-36.6" cy="38.5" r="0.9" fill="#a89478"/><circle cx="1.7" cy="44.2" r="1.1" fill="#a89478"/><circle cx="-18.9" cy="47.2" r="0.9" fill="#a89478"/><circle cx="-43.3" cy="32.9" r="0.7" fill="#a89478"/><circle cx="-17.5" cy="40.3" r="1.1" fill="#a89478"/><circle cx="-43.6" cy="21.7" r="0.9" fill="#a89478"/><circle cx="-1.3" cy="10.0" r="1.1" fill="#a89478"/><circle cx="-25.6" cy="-30.3" r="0.6" fill="#8a8070"/><circle cx="26.1" cy="-34.5" r="0.8" fill="#8a8070"/><circle cx="-18.5" cy="-24.6" r="0.6" fill="#8a8070"/><circle cx="-2.2" cy="-20.9" r="0.6" fill="#8a8070"/><circle cx="-22.7" cy="-33.6" r="0.4" fill="#8a8070"/><circle cx="21.0" cy="-23.2" r="0.9" fill="#8a8070"/><circle cx="11.6" cy="-35.5" r="0.7" fill="#8a8070"/><circle cx="16.6" cy="-21.5" r="0.6" fill="#8a8070"/><circle cx="-8.5" cy="-26.9" r="0.8" fill="#8a8070"/><circle cx="-13.9" cy="-25.5" r="0.6" fill="#8a8070"/><circle cx="27.3" cy="-19.9" r="0.9" fill="#8a8070"/><circle cx="20.2" cy="-30.1" r="0.5" fill="#8a8070"/><circle cx="-0.7" cy="-30.8" r="0.6" fill="#8a8070"/><circle cx="10.7" cy="-17.6" r="0.7" fill="#8a8070"/><circle cx="19.1" cy="-34.1" r="0.6" fill="#8a8070"/><circle cx="29.9" cy="-33.1" r="0.6" fill="#8a8070"/><circle cx="-26.0" cy="-34.3" r="0.8" fill="#8a8070"/><circle cx="29.3" cy="-23.0" r="0.5" fill="#8a8070"/><circle cx="-12.2" cy="-31.4" r="0.7" fill="#8a8070"/><circle cx="10.9" cy="-27.2" r="0.7" fill="#8a8070"/><circle cx="-23.3" cy="-25.2" r="0.9" fill="#8a8070"/><circle cx="15.3" cy="-34.1" r="0.7" fill="#8a8070"/><circle cx="12.9" cy="-30.9" r="0.8" fill="#8a8070"/><circle cx="-2.3" cy="-21.9" r="0.6" fill="#8a8070"/><circle cx="29.7" cy="-20.3" r="0.7" fill="#8a8070"/><circle cx="-21.3" cy="-27.2" r="0.4" fill="#8a8070"/><circle cx="5.7" cy="-18.4" r="0.5" fill="#8a8070"/><circle cx="0.6" cy="-26.4" r="0.6" fill="#8a8070"/><circle cx="12.6" cy="-17.3" r="0.8" fill="#8a8070"/><circle cx="-1.7" cy="-16.8" r="0.6" fill="#8a8070"/><circle cx="14.7" cy="-22.8" r="0.8" fill="#8a8070"/><circle cx="21.1" cy="-31.5" r="0.7" fill="#8a8070"/><circle cx="-5.8" cy="-22.7" r="0.9" fill="#8a8070"/><circle cx="8.1" cy="-35.8" r="0.6" fill="#8a8070"/><circle cx="12.7" cy="-18.3" r="0.7" fill="#8a8070"/><circle cx="19.0" cy="-35.7" r="0.9" fill="#8a8070"/><circle cx="13.8" cy="-23.9" r="0.9" fill="#8a8070"/><circle cx="23.1" cy="-34.0" r="0.8" fill="#8a8070"/><circle cx="16.0" cy="-32.0" r="0.8" fill="#8a8070"/><circle cx="5.2" cy="-32.2" r="0.8" fill="#8a8070"/><circle cx="-21.7" cy="-23.8" r="0.6" fill="#8a8070"/><circle cx="-14.8" cy="-24.7" r="0.6" fill="#8a8070"/><circle cx="-17.7" cy="-16.7" r="0.4" fill="#8a8070"/><circle cx="-29.8" cy="-26.3" r="0.8" fill="#8a8070"/><circle cx="9.5" cy="-20.9" r="0.6" fill="#8a8070"/></g><circle cx="371.6" cy="764.3" r="55.5" fill="#f1eee8"/>
<circle cx="371.6" cy="764.3" r="54.9" fill="none" stroke="#8c8070" stroke-width="3.2"/>
<clipPath id="cp3"><circle cx="0" cy="0" r="51.0"/></clipPath><g clip-path="url(#cp3)" transform="translate(371.6,764.3)"><path d="M-60,20 C-40,19 -20,21 0,19 C20,17 40,18 60,19 L60,60 L-60,60 Z" fill="#4b3e31"/><path d="M0.0,22.0 -8.5,25.0 -16.9,28.3 -24.9,32.4 -32.9,36.5 -40.9,40.5" fill="none" stroke="#e6dac6" stroke-width="1.8" stroke-linecap="round" stroke-linejoin="round"/><path d="M-16.9,28.3 -18.8,33.8 -20.0,39.6 -21.6,45.3" fill="none" stroke="#e6dac6" stroke-width="1.2" stroke-linecap="round" stroke-linejoin="round"/><path d="M-20.0,39.6 -21.6,40.8 -23.3,41.7 -25.0,42.7" fill="none" stroke="#e6dac6" stroke-width="0.9" stroke-linecap="round" stroke-linejoin="round"/><path d="M0.0,22.0 8.5,24.9 16.6,28.9 25.2,31.7 33.2,35.8 40.8,40.5" fill="none" stroke="#e6dac6" stroke-width="1.8" stroke-linecap="round" stroke-linejoin="round"/><path d="M25.2,31.7 30.4,30.9 35.7,31.5 41.0,32.1" fill="none" stroke="#e6dac6" stroke-width="1.2" stroke-linecap="round" stroke-linejoin="round"/><path d="M35.7,31.5 36.8,33.4 38.2,35.1 39.6,36.8" fill="none" stroke="#e6dac6" stroke-width="0.9" stroke-linecap="round" stroke-linejoin="round"/><path d="M0.0,22.0 -1.8,27.7 -3.5,33.5 -4.6,39.4 -6.1,45.2 -8.1,50.8" fill="none" stroke="#e6dac6" stroke-width="1.6" stroke-linecap="round" stroke-linejoin="round"/><path d="M-4.6,39.4 -7.2,42.1 -9.8,44.9 -12.4,47.6" fill="none" stroke="#e6dac6" stroke-width="1.0" stroke-linecap="round" stroke-linejoin="round"/><path d="M-9.8,44.9 -9.9,46.7 -9.8,48.6 -10.0,50.5" fill="none" stroke="#e6dac6" stroke-width="0.9" stroke-linecap="round" stroke-linejoin="round"/><path d="M0.0,22.0 1.8,27.7 2.5,33.7 3.1,39.7 3.1,45.7 3.8,51.6" fill="none" stroke="#e6dac6" stroke-width="1.6" stroke-linecap="round" stroke-linejoin="round"/><path d="M3.1,45.7 1.5,48.3 -0.6,50.7 -2.1,53.4" fill="none" stroke="#e6dac6" stroke-width="1.0" stroke-linecap="round" stroke-linejoin="round"/><path d="M-0.6,50.7 -1.5,51.1 -2.3,51.5 -3.1,52.1" fill="none" stroke="#e6dac6" stroke-width="0.9" stroke-linecap="round" stroke-linejoin="round"/><path d="M0.0,22.0 -0.7,27.6 -2.0,33.0 -3.0,38.5 -4.1,44.0 -5.3,49.5" fill="none" stroke="#e6dac6" stroke-width="1.6" stroke-linecap="round" stroke-linejoin="round"/><path d="M-3.0,38.5 -0.7,41.0 1.5,43.6 4.0,45.8" fill="none" stroke="#e6dac6" stroke-width="1.0" stroke-linecap="round" stroke-linejoin="round"/><path d="M1.5,43.6 1.7,44.8 1.8,46.0 1.9,47.1" fill="none" stroke="#e6dac6" stroke-width="0.9" stroke-linecap="round" stroke-linejoin="round"/><path d="M0.0,22.0 -5.7,26.1 -10.5,31.2 -15.9,35.7 -20.8,40.6 -26.4,44.8" fill="none" stroke="#e6dac6" stroke-width="1.5" stroke-linecap="round" stroke-linejoin="round"/><path d="M-15.9,35.7 -16.7,41.3 -17.3,47.0 -18.4,52.5" fill="none" stroke="#e6dac6" stroke-width="1.0" stroke-linecap="round" stroke-linejoin="round"/><path d="M-17.3,47.0 -18.5,48.5 -19.5,50.2 -20.8,51.8" fill="none" stroke="#e6dac6" stroke-width="0.9" stroke-linecap="round" stroke-linejoin="round"/><path d="M0.0,22.0 5.0,26.9 10.3,31.5 15.6,36.1 20.6,41.0 26.1,45.3" fill="none" stroke="#e6dac6" stroke-width="1.5" stroke-linecap="round" stroke-linejoin="round"/><path d="M20.6,41.0 22.4,45.7 23.8,50.6 24.6,55.6" fill="none" stroke="#e6dac6" stroke-width="1.0" stroke-linecap="round" stroke-linejoin="round"/><path d="M23.8,50.6 25.1,51.5 26.3,52.5 27.5,53.4" fill="none" stroke="#e6dac6" stroke-width="0.9" stroke-linecap="round" stroke-linejoin="round"/><path d="M0,-40 C2,-40 3,-39 4,-37 L29,12 C31,15 29,15 27,15 L-27,15 C-30,15 -31,14 -29,11 L-4,-37 C-3,-39 -2,-40 0,-40Z" fill="#5b4d3f"/><path d="M-3.5,-26 L3.5,-26 L2,0 L-2,0 Z" fill="#efe7d8"/><circle cx="0" cy="5.5" r="3.4" fill="#efe7d8"/><path d="M-48,7 C-42,4 -38,10 -32,8" fill="none" stroke="#7a7060" stroke-width="1.1"/><path d="M32,8 C38,10 42,4 48,6" fill="none" stroke="#7a7060" stroke-width="1.1"/><circle cx="8.1" cy="-32.0" r="0.5" fill="#8a8070"/><circle cx="20.6" cy="-2.0" r="0.5" fill="#8a8070"/><circle cx="23.0" cy="-35.3" r="0.8" fill="#8a8070"/><circle cx="37.7" cy="-9.2" r="0.5" fill="#8a8070"/><circle cx="0.0" cy="-10.6" r="0.5" fill="#8a8070"/><circle cx="-13.8" cy="-9.5" r="0.7" fill="#8a8070"/><circle cx="-32.2" cy="-13.0" r="0.9" fill="#8a8070"/><circle cx="14.0" cy="-29.9" r="0.8" fill="#8a8070"/><circle cx="36.9" cy="-36.4" r="0.8" fill="#8a8070"/><circle cx="-22.6" cy="-14.4" r="0.5" fill="#8a8070"/><circle cx="23.0" cy="-38.5" r="0.9" fill="#8a8070"/><circle cx="-14.8" cy="-2.4" r="0.7" fill="#8a8070"/><circle cx="29.1" cy="-24.7" r="0.8" fill="#8a8070"/><circle cx="-33.2" cy="-12.1" r="0.7" fill="#8a8070"/><circle cx="-6.3" cy="-16.7" r="0.8" fill="#8a8070"/><circle cx="-2.8" cy="-11.5" r="0.5" fill="#8a8070"/><circle cx="5.5" cy="-38.4" r="0.6" fill="#8a8070"/><circle cx="-24.0" cy="-18.5" r="0.8" fill="#8a8070"/><circle cx="9.8" cy="-17.0" r="0.7" fill="#8a8070"/><circle cx="38.9" cy="-7.7" r="0.4" fill="#8a8070"/><circle cx="-3.5" cy="-6.1" r="0.8" fill="#8a8070"/><circle cx="37.1" cy="-15.5" r="0.8" fill="#8a8070"/><circle cx="28.9" cy="-1.4" r="0.9" fill="#8a8070"/><circle cx="-30.4" cy="-29.0" r="0.4" fill="#8a8070"/><circle cx="24.2" cy="-16.9" r="0.5" fill="#8a8070"/><circle cx="30.7" cy="-20.7" r="0.4" fill="#8a8070"/><circle cx="-1.5" cy="-34.6" r="0.7" fill="#8a8070"/><circle cx="-20.9" cy="-39.1" r="0.7" fill="#8a8070"/><circle cx="-35.7" cy="1.1" r="0.5" fill="#8a8070"/><circle cx="-30.0" cy="3.7" r="0.7" fill="#8a8070"/></g><circle cx="1136.2" cy="591.6" r="55.5" fill="#f1eee8"/>
<circle cx="1136.2" cy="591.6" r="54.9" fill="none" stroke="#8c8070" stroke-width="3.2"/>
<clipPath id="cp4"><circle cx="0" cy="0" r="51.0"/></clipPath><g clip-path="url(#cp4)" transform="translate(1136.2,591.6)"><rect x="20" y="-29" width="16" height="54" fill="#b9aa8a"/><rect x="20" y="-29" width="16" height="3" fill="#5a4e40"/><rect x="20" y="-25.0" width="9" height="1.8" fill="#3e362c"/><rect x="20" y="-20.4" width="6" height="1.8" fill="#3e362c"/><rect x="20" y="-15.8" width="9" height="1.8" fill="#3e362c"/><rect x="20" y="-11.2" width="6" height="1.8" fill="#3e362c"/><rect x="20" y="-6.6" width="9" height="1.8" fill="#3e362c"/><rect x="20" y="-2.0" width="6" height="1.8" fill="#3e362c"/><rect x="20" y="2.6" width="9" height="1.8" fill="#3e362c"/><rect x="20" y="7.2" width="6" height="1.8" fill="#3e362c"/><rect x="20" y="11.8" width="9" height="1.8" fill="#3e362c"/><rect x="20" y="16.4" width="6" height="1.8" fill="#3e362c"/><rect x="20" y="21.0" width="9" height="1.8" fill="#3e362c"/><path d="M-60,60 L-60.0,20.4 L-56.0,19.9 L-52.0,21.1 L-48.0,20.1 L-44.0,19.8 L-40.0,21.1 L-36.0,23.2 L-32.0,22.7 L-28.0,22.6 L-24.0,20.4 L-20.0,21.6 L-16.0,20.6 L-12.0,20.2 L-8.0,19.9 L-4.0,20.4 L0.0,23.2 L4.0,22.8 L8.0,22.7 L12.0,22.7 L16.0,20.3 L20.0,20.7 L24.0,22.0 L28.0,22.4 L32.0,22.9 L36.0,23.0 L40.0,19.8 L44.0,21.9 L48.0,22.2 L52.0,21.5 L56.0,20.2 L60.0,21.4 L60,60 Z" fill="#4a3e32"/><ellipse cx="-39.4" cy="48.2" rx="1.7" ry="0.9" fill="#e9e1d2"/><ellipse cx="-19.2" cy="47.5" rx="1.4" ry="1.1" fill="#e9e1d2"/><ellipse cx="33.4" cy="36.7" rx="1.2" ry="1.0" fill="#e9e1d2"/><ellipse cx="-6.6" cy="27.4" rx="1.1" ry="1.1" fill="#e9e1d2"/><ellipse cx="-43.8" cy="24.3" rx="1.4" ry="0.8" fill="#e9e1d2"/><ellipse cx="3.3" cy="35.7" rx="1.1" ry="1.2" fill="#e9e1d2"/><ellipse cx="-29.2" cy="34.1" rx="1.0" ry="1.0" fill="#e9e1d2"/><ellipse cx="-21.5" cy="32.6" rx="1.5" ry="0.8" fill="#e9e1d2"/><ellipse cx="5.6" cy="47.4" rx="0.9" ry="0.6" fill="#e9e1d2"/><ellipse cx="-26.0" cy="43.7" rx="1.4" ry="0.7" fill="#e9e1d2"/><ellipse cx="-16.2" cy="27.8" rx="1.3" ry="0.6" fill="#e9e1d2"/><ellipse cx="18.9" cy="47.2" rx="1.8" ry="1.0" fill="#e9e1d2"/><ellipse cx="44.1" cy="23.5" rx="1.1" ry="1.2" fill="#e9e1d2"/><ellipse cx="26.4" cy="34.1" rx="1.7" ry="1.0" fill="#e9e1d2"/><ellipse cx="30.5" cy="30.9" rx="1.0" ry="0.9" fill="#e9e1d2"/><ellipse cx="-34.9" cy="33.3" rx="1.8" ry="0.8" fill="#e9e1d2"/><ellipse cx="-47.1" cy="24.2" rx="1.0" ry="1.1" fill="#e9e1d2"/><ellipse cx="-13.2" cy="30.8" rx="0.9" ry="1.2" fill="#e9e1d2"/><ellipse cx="-7.3" cy="28.6" rx="0.9" ry="0.6" fill="#e9e1d2"/><ellipse cx="-31.8" cy="41.3" rx="0.9" ry="0.6" fill="#e9e1d2"/><ellipse cx="-0.9" cy="29.7" rx="1.8" ry="0.7" fill="#e9e1d2"/><ellipse cx="2.8" cy="43.9" rx="1.2" ry="1.2" fill="#e9e1d2"/><ellipse cx="-2.1" cy="29.5" rx="1.2" ry="0.6" fill="#e9e1d2"/><ellipse cx="-7.6" cy="29.7" rx="1.7" ry="1.1" fill="#e9e1d2"/><ellipse cx="-0.1" cy="23.9" rx="1.1" ry="0.7" fill="#e9e1d2"/><ellipse cx="-28.0" cy="29.2" rx="1.7" ry="0.7" fill="#e9e1d2"/><ellipse cx="-43.1" cy="48.1" rx="1.4" ry="1.2" fill="#e9e1d2"/><ellipse cx="-9.3" cy="47.3" rx="1.5" ry="1.1" fill="#e9e1d2"/><ellipse cx="23.5" cy="36.3" rx="0.9" ry="0.7" fill="#e9e1d2"/><ellipse cx="35.9" cy="47.3" rx="1.7" ry="0.8" fill="#e9e1d2"/><ellipse cx="15.1" cy="44.6" rx="1.4" ry="1.1" fill="#e9e1d2"/><ellipse cx="2.7" cy="40.7" rx="1.5" ry="0.8" fill="#e9e1d2"/><ellipse cx="40.6" cy="48.8" rx="0.9" ry="1.2" fill="#e9e1d2"/><ellipse cx="44.3" cy="41.0" rx="0.8" ry="1.1" fill="#e9e1d2"/><ellipse cx="-35.7" cy="49.2" rx="1.5" ry="0.6" fill="#e9e1d2"/><ellipse cx="-31.9" cy="40.2" rx="1.4" ry="1.0" fill="#e9e1d2"/><ellipse cx="41.0" cy="28.9" rx="0.8" ry="1.2" fill="#e9e1d2"/><ellipse cx="-46.7" cy="46.7" rx="0.9" ry="1.1" fill="#e9e1d2"/><ellipse cx="27.2" cy="46.7" rx="1.4" ry="1.1" fill="#e9e1d2"/><ellipse cx="-28.6" cy="41.1" rx="1.1" ry="1.1" fill="#e9e1d2"/><ellipse cx="26.3" cy="35.7" rx="1.3" ry="0.6" fill="#e9e1d2"/><ellipse cx="-44.7" cy="39.1" rx="1.3" ry="1.1" fill="#e9e1d2"/><ellipse cx="10.4" cy="26.7" rx="1.2" ry="1.1" fill="#e9e1d2"/><ellipse cx="2.2" cy="23.3" rx="1.6" ry="1.1" fill="#e9e1d2"/><ellipse cx="-39.8" cy="37.7" rx="1.2" ry="1.1" fill="#e9e1d2"/><ellipse cx="-18.1" cy="29.3" rx="1.3" ry="1.2" fill="#e9e1d2"/><ellipse cx="-38.9" cy="26.1" rx="1.4" ry="1.1" fill="#e9e1d2"/><ellipse cx="1.2" cy="34.7" rx="1.7" ry="1.1" fill="#e9e1d2"/><ellipse cx="-41.6" cy="46.8" rx="1.0" ry="0.8" fill="#e9e1d2"/><ellipse cx="32.3" cy="34.4" rx="1.6" ry="0.7" fill="#e9e1d2"/><ellipse cx="35.9" cy="27.8" rx="0.9" ry="0.9" fill="#e9e1d2"/><ellipse cx="-15.5" cy="37.6" rx="1.7" ry="1.0" fill="#e9e1d2"/><ellipse cx="-47.5" cy="31.4" rx="1.3" ry="0.9" fill="#e9e1d2"/><ellipse cx="20.7" cy="36.1" rx="0.9" ry="0.7" fill="#e9e1d2"/><ellipse cx="33.4" cy="32.6" rx="1.6" ry="1.2" fill="#e9e1d2"/><ellipse cx="12.2" cy="41.3" rx="1.4" ry="0.8" fill="#e9e1d2"/><ellipse cx="39.6" cy="35.6" rx="1.7" ry="0.8" fill="#e9e1d2"/><ellipse cx="35.3" cy="44.2" rx="1.4" ry="0.9" fill="#e9e1d2"/><ellipse cx="-34.5" cy="43.8" rx="1.2" ry="1.0" fill="#e9e1d2"/><ellipse cx="-35.2" cy="25.2" rx="0.9" ry="1.1" fill="#e9e1d2"/><ellipse cx="-30.9" cy="47.4" rx="1.2" ry="0.9" fill="#e9e1d2"/><ellipse cx="-14.4" cy="39.8" rx="0.9" ry="0.8" fill="#e9e1d2"/><ellipse cx="41.9" cy="27.9" rx="1.5" ry="0.8" fill="#e9e1d2"/><ellipse cx="-19.1" cy="23.6" rx="0.8" ry="1.2" fill="#e9e1d2"/><ellipse cx="31.7" cy="44.6" rx="1.6" ry="1.2" fill="#e9e1d2"/><ellipse cx="-32.8" cy="38.8" rx="1.3" ry="0.9" fill="#e9e1d2"/><ellipse cx="42.0" cy="43.5" rx="1.8" ry="0.7" fill="#e9e1d2"/><ellipse cx="14.5" cy="41.2" rx="1.5" ry="1.0" fill="#e9e1d2"/><ellipse cx="31.8" cy="31.2" rx="1.7" ry="0.8" fill="#e9e1d2"/><ellipse cx="9.5" cy="47.2" rx="1.5" ry="0.8" fill="#e9e1d2"/><ellipse cx="-25.9" cy="31.8" rx="1.4" ry="1.2" fill="#e9e1d2"/><ellipse cx="38.3" cy="33.8" rx="1.2" ry="1.1" fill="#e9e1d2"/><ellipse cx="-20.8" cy="34.1" rx="0.8" ry="0.7" fill="#e9e1d2"/><ellipse cx="3.9" cy="41.7" rx="1.4" ry="0.8" fill="#e9e1d2"/><ellipse cx="43.3" cy="39.8" rx="1.0" ry="0.6" fill="#e9e1d2"/><ellipse cx="45.5" cy="49.7" rx="1.7" ry="1.0" fill="#e9e1d2"/><ellipse cx="-18.0" cy="25.5" rx="1.1" ry="0.7" fill="#e9e1d2"/><ellipse cx="41.1" cy="47.1" rx="1.6" ry="0.7" fill="#e9e1d2"/><ellipse cx="-25.1" cy="31.1" rx="1.7" ry="0.7" fill="#e9e1d2"/><ellipse cx="27.9" cy="41.4" rx="1.3" ry="1.2" fill="#e9e1d2"/><ellipse cx="-22.8" cy="37.2" rx="1.0" ry="0.7" fill="#e9e1d2"/><ellipse cx="-45.0" cy="31.5" rx="0.9" ry="0.6" fill="#e9e1d2"/><ellipse cx="47.3" cy="30.8" rx="1.7" ry="1.0" fill="#e9e1d2"/><ellipse cx="22.2" cy="40.7" rx="1.8" ry="1.1" fill="#e9e1d2"/><ellipse cx="21.1" cy="38.1" rx="1.5" ry="1.0" fill="#e9e1d2"/><ellipse cx="5.0" cy="36.6" rx="1.0" ry="1.1" fill="#e9e1d2"/><ellipse cx="-1.5" cy="24.8" rx="1.0" ry="1.1" fill="#e9e1d2"/><ellipse cx="-23.4" cy="33.6" rx="1.5" ry="1.1" fill="#e9e1d2"/><ellipse cx="-16.5" cy="33.4" rx="1.2" ry="0.6" fill="#e9e1d2"/><ellipse cx="36.2" cy="23.5" rx="1.8" ry="0.7" fill="#e9e1d2"/><ellipse cx="-33.0" cy="45.9" rx="1.6" ry="0.7" fill="#e9e1d2"/><ellipse cx="5.1" cy="35.9" rx="1.5" ry="0.7" fill="#e9e1d2"/><ellipse cx="31.2" cy="49.9" rx="1.5" ry="1.2" fill="#e9e1d2"/><ellipse cx="42.0" cy="33.2" rx="1.6" ry="1.1" fill="#e9e1d2"/><ellipse cx="8.4" cy="25.9" rx="1.4" ry="1.1" fill="#e9e1d2"/><ellipse cx="-18.7" cy="40.5" rx="1.7" ry="1.0" fill="#e9e1d2"/><ellipse cx="-44.4" cy="40.1" rx="1.1" ry="1.1" fill="#e9e1d2"/><ellipse cx="15.5" cy="31.3" rx="1.7" ry="1.0" fill="#e9e1d2"/><ellipse cx="-15.4" cy="45.5" rx="1.7" ry="1.1" fill="#e9e1d2"/><ellipse cx="36.8" cy="40.8" rx="1.5" ry="1.0" fill="#e9e1d2"/><ellipse cx="2.6" cy="49.7" rx="1.2" ry="0.6" fill="#e9e1d2"/><ellipse cx="20.5" cy="36.4" rx="1.3" ry="1.0" fill="#e9e1d2"/><ellipse cx="-24.0" cy="28.4" rx="0.9" ry="1.1" fill="#e9e1d2"/><ellipse cx="39.2" cy="41.8" rx="0.9" ry="1.2" fill="#e9e1d2"/><ellipse cx="31.4" cy="36.8" rx="0.8" ry="1.1" fill="#e9e1d2"/><ellipse cx="11.8" cy="39.8" rx="0.8" ry="1.0" fill="#e9e1d2"/><ellipse cx="-44.7" cy="35.9" rx="0.9" ry="0.8" fill="#e9e1d2"/><ellipse cx="37.5" cy="43.2" rx="1.6" ry="0.8" fill="#e9e1d2"/><ellipse cx="-10.7" cy="39.3" rx="0.8" ry="0.8" fill="#e9e1d2"/><ellipse cx="45.6" cy="43.4" rx="1.7" ry="0.8" fill="#e9e1d2"/><ellipse cx="18.3" cy="44.3" rx="1.5" ry="0.9" fill="#e9e1d2"/><ellipse cx="-31.2" cy="23.5" rx="1.7" ry="1.2" fill="#e9e1d2"/><ellipse cx="-21.5" cy="43.4" rx="1.2" ry="1.0" fill="#e9e1d2"/><ellipse cx="32.8" cy="31.7" rx="1.4" ry="0.8" fill="#e9e1d2"/><ellipse cx="1.1" cy="23.8" rx="1.1" ry="0.8" fill="#e9e1d2"/><ellipse cx="39.8" cy="26.6" rx="1.6" ry="0.7" fill="#e9e1d2"/><ellipse cx="46.7" cy="27.5" rx="0.9" ry="0.7" fill="#e9e1d2"/><ellipse cx="41.6" cy="41.1" rx="1.7" ry="0.9" fill="#e9e1d2"/><ellipse cx="-37.1" cy="32.2" rx="1.3" ry="1.2" fill="#e9e1d2"/><ellipse cx="-32.0" cy="29.6" rx="1.6" ry="0.7" fill="#e9e1d2"/><path d="M-5,22 C-6,14 -6,8 -5,2" fill="none" stroke="#5d6155" stroke-width="2.2"/><path d="M-5,4 C-17,-4 -21,-20 -15,-34 C-1,-25 3,-9 -5,4Z" fill="#5d6155"/><path d="M-5,2 C-8,-10 -11,-22 -14,-31" stroke="#7a7e72" stroke-width="0.8" fill="none"/><path d="M-6,14 C-13,2 -25,-3 -35,-1 C-29,10 -18,15 -6,14Z" fill="#5d6155"/><path d="M-4,14 C1,5 9,2 17,6 C12,14 3,16 -4,14Z" fill="#5d6155"/><circle cx="37.7" cy="-25.2" r="0.6" fill="#9a9080"/><circle cx="12.9" cy="5.4" r="0.4" fill="#9a9080"/><circle cx="27.7" cy="-31.0" r="0.7" fill="#9a9080"/><circle cx="-37.8" cy="-1.7" r="0.5" fill="#9a9080"/><circle cx="-23.5" cy="-38.3" r="0.5" fill="#9a9080"/><circle cx="-13.7" cy="9.1" r="0.6" fill="#9a9080"/><circle cx="-10.9" cy="9.5" r="0.5" fill="#9a9080"/><circle cx="-22.8" cy="7.8" r="0.8" fill="#9a9080"/><circle cx="14.7" cy="8.9" r="0.4" fill="#9a9080"/><circle cx="32.3" cy="-4.8" r="0.7" fill="#9a9080"/><circle cx="27.4" cy="-34.8" r="0.5" fill="#9a9080"/><circle cx="-29.0" cy="-16.1" r="0.6" fill="#9a9080"/><circle cx="3.2" cy="-21.9" r="0.7" fill="#9a9080"/><circle cx="27.1" cy="-2.1" r="0.4" fill="#9a9080"/><circle cx="-27.8" cy="-29.0" r="0.5" fill="#9a9080"/><circle cx="5.9" cy="-30.3" r="0.6" fill="#9a9080"/><circle cx="-12.5" cy="-21.8" r="0.7" fill="#9a9080"/><circle cx="35.5" cy="-30.5" r="0.5" fill="#9a9080"/><circle cx="38.5" cy="-29.4" r="0.4" fill="#9a9080"/><circle cx="-24.7" cy="1.3" r="0.7" fill="#9a9080"/><circle cx="35.1" cy="-15.1" r="0.4" fill="#9a9080"/><circle cx="-15.5" cy="-4.0" r="0.6" fill="#9a9080"/><circle cx="-28.8" cy="-21.2" r="0.6" fill="#9a9080"/><circle cx="-11.5" cy="-17.7" r="0.5" fill="#9a9080"/><circle cx="-37.6" cy="-0.8" r="0.7" fill="#9a9080"/></g></svg>
<div class="abs title" style="left:373px;top:32px;font-size:64px;transform:scaleX(0.770)">Gumtree Root System Overview</div>
<div class="abs h" style="left:290.3px;top:262.4px;font-size:32px;transform:scaleX(0.958)">Deep Roots</div>
<div class="abs b" style="left:288px;top:317.1px;font-size:24.5px;transform:scaleX(1.000)">Anchor tree deeply</div>
<div class="abs b" style="left:288px;top:358.9px;font-size:24.5px;transform:scaleX(0.980)">Seek water in</div>
<div class="abs b" style="left:288px;top:388.2px;font-size:24.5px;transform:scaleX(1.020)">dry conditions</div>
<div class="dot" style="left:265px;top:324.5px"></div>
<div class="dot" style="left:265px;top:366.5px"></div>
<div class="abs h" style="left:282px;top:562.1px;font-size:32px;transform:scaleX(0.935)">Wide Spread</div>
<div class="abs b" style="left:288px;top:617.9px;font-size:24.5px;transform:scaleX(1.010)">Extend far beyond drip line</div>
<div class="abs b" style="left:288px;top:657.6px;font-size:24.5px;transform:scaleX(0.980)">Can damage nearby structures</div>
<div class="dot" style="left:265px;top:625.5px"></div>
<div class="dot" style="left:265px;top:665.5px"></div>
<div class="abs h" style="left:273.2px;top:832.3px;font-size:32px;transform:scaleX(0.883)">Invasive Risks</div>
<div class="abs b" style="left:288px;top:885.7px;font-size:24.5px;transform:scaleX(0.970)">Crack foundations, pipes, pavements</div>
<div class="abs b" style="left:288px;top:925.6px;font-size:24.5px;transform:scaleX(0.975)">Aggressive, water-seeking roots</div>
<div class="dot" style="left:265px;top:893.5px"></div>
<div class="dot" style="left:265px;top:933.5px"></div>
<div class="abs h" style="left:1013px;top:661.6px;font-size:32px;transform:scaleX(0.891)">Safe Planting Tips</div>
<div class="abs b" style="left:1039px;top:716.9px;font-size:24.5px;transform:scaleX(0.980)">Plant at least 15-20</div>
<div class="abs b" style="left:1039px;top:745.6px;font-size:24.5px;transform:scaleX(1.015)">feet from structures</div>
<div class="abs b" style="left:1039px;top:790.6px;font-size:24.5px;transform:scaleX(0.990)">Consider root barriers</div>
<div class="abs b" style="left:1039px;top:819.6px;font-size:24.5px;transform:scaleX(1.020)">for added protection</div>
<div class="dot" style="left:1016px;top:724.5px"></div>
<div class="dot" style="left:1016px;top:798.5px"></div>
<div class="abs" style="left:1031px;top:964px;font-size:36px;color:#4a4741;line-height:1;transform-origin:0 0;transform:scaleX(0.936);">leafyheaven.com</div>
<svg class="abs" style="left:0;top:0" width="1536" height="1024" viewBox="0 0 1536 1024">
  <g fill="none" stroke="#56564c" stroke-width="4" stroke-linecap="round">
    <path d="M536,276 C590,278 632,305 651,355"/>
    <path d="M534,574 C580,573 622,566 648,545"/>
    <path d="M545,776 C650,790 850,772 975,686"/>
  </g>
  <g fill="#56564c">
    <path d="M519,276 L539,265 L538,287 Z"/>
    <path d="M517,574 L536,564 L536,585 Z"/>
    <path d="M529,770 L549,762 L545,783 Z"/>
    <path d="M990,676 L968,679 L980,695 Z"/>
  </g>
</svg>
</body></html>
